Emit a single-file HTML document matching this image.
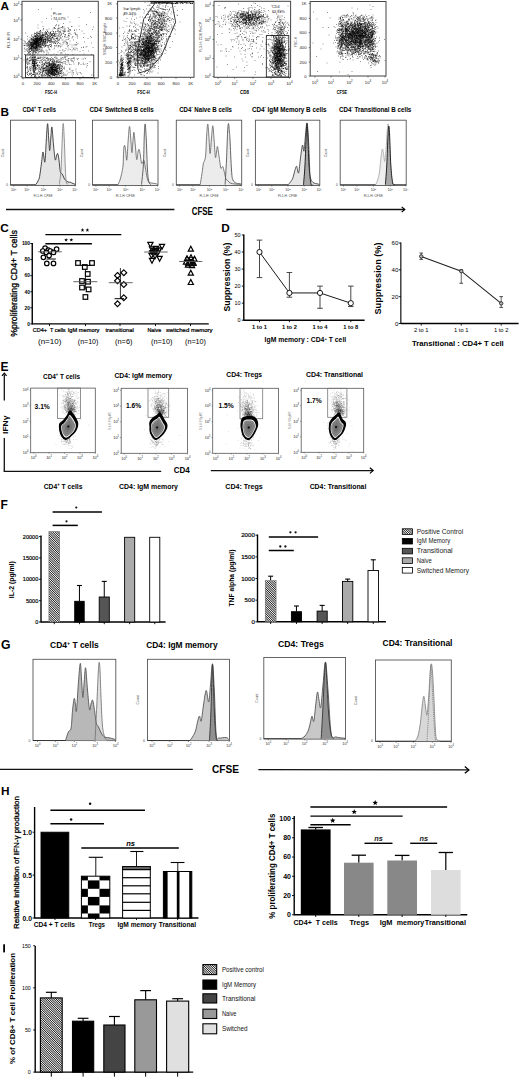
<!DOCTYPE html>
<html><head><meta charset="utf-8"><style>
html,body{margin:0;padding:0;background:#fff;}
svg{display:block;}
text{font-family:"Liberation Sans",sans-serif;}
</style></head><body>
<svg width="520" height="1078" viewBox="0 0 520 1078">
<defs>
<filter id="bl" x="-5%" y="-5%" width="110%" height="110%"><feGaussianBlur stdDeviation="0.35"/></filter>
<pattern id="hatch" patternUnits="userSpaceOnUse" width="1.6" height="1.6" patternTransform="rotate(-45)"><rect width="1.6" height="1.6" fill="#fff"/><rect width="0.8" height="1.6" fill="#1a1a1a"/></pattern>
</defs>
<rect width="520" height="1078" fill="#fff"/>
<text x="0.6" y="9.6" font-size="11.8" font-weight="bold">A</text>
<g stroke="#000" stroke-width="1" stroke-opacity="0.42" filter="url(#bl)">
<path d="M74.5 44.5h1M56 69.5h1M42 62.5h1M48.5 70.5h1M55.5 68.5h1M51 40.5h1M58.5 25h1M64 67h1M34.5 58h1M50 67.5h1M50.5 76h1M59 34h1M31.5 51h1M40.5 38h1M29.5 51.5h1M40.5 47h1M81.5 31h1M57 21h1M35.5 50.5h1M55 68.5h1M52 72.5h1M49.5 64h1M48 69.5h1M54 68h1M57 43.5h1M48.5 37.5h1M77 36h1M27 44.5h1M62.5 30.5h1M42 51h1M42 64h1M50.5 70h1M53 65h1M57.5 74h1M43.5 33h1M61.5 65.5h1M51 72h1M54.5 63.5h1M42.5 40h1M40 42.5h1M50.5 35.5h1M61 74h1M58.5 73h1M52 61h1M32.5 40.5h1M59.5 68.5h1M83.5 33.5h1M53 39h1M38 41h1M41 40h1M51.5 61.5h1M37.5 32h1M66.5 44h1M40.5 40.5h1M40 72.5h1M48 75.5h1M39 76.5h1M38.5 36h1M56.5 71.5h1M36.5 40.5h1M54 36h1M49 45.5h1M61.5 70.5h1M32 42.5h1M51.5 74.5h1M52.5 62.5h1M70 29.5h1M40.5 36h1M41.5 36.5h1M48.5 58.5h1M33 71h1M31.5 46.5h1M35.5 44.5h1M33.5 40h1M30.5 48h1M42 35h1M51.5 72h1M35.5 43h1M26.5 58.5h1M49.5 71.5h1M52 70h1M36 40h1M43.5 60h1M49 41h1M37.5 45.5h1M60.5 58.5h1M47.5 41.5h1M33 49.5h1M31.5 40.5h1M47 31.5h1M63 74.5h1M33 40.5h1M55.5 36.5h1M37 50.5h1M49.5 72.5h1M60.5 65.5h1M34.5 46h1M53 33h1M33 45.5h1M41.5 36h1M47 66.5h1M39 38h1M49.5 70h1M33.5 42h1M40.5 46.5h1M72.5 49.5h1M38.5 67.5h1M92.5 47.5h1M27 39h1M75 45h1M49 61.5h1M47.5 71.5h1M51.5 63.5h1M30.5 72.5h1M42 71h1M66.5 44.5h1M33 41h1M52 68h1M34.5 44h1M59 33h1M53 75h1M45 43.5h1M37 42h1M31.5 39h1M51 67h1M47 70h1M49.5 75.5h1M39.5 48.5h1M33.5 44.5h1M26.5 66h1M35.5 61.5h1M52 74h1M53 75.5h1M36 74h1M47 66.5h1M35 44h1M59.5 64h1M40.5 39h1M32 47h1M79 29.5h1M55.5 74h1M48.5 49h1M45.5 68h1M52 69.5h1M35 41.5h1M60.5 66.5h1M35 73h1M54 69.5h1M54 34.5h1M54 75h1M70.5 34.5h1M37.5 38.5h1M63 33.5h1M35 37h1M51 67.5h1M45.5 41h1M37.5 58.5h1M52.5 72.5h1M47.5 39.5h1M58.5 45.5h1M60.5 33h1M48 66.5h1M50.5 46.5h1M33.5 40.5h1M35.5 41h1M34.5 66h1M70 60h1M25.5 50h1M33 53h1M53.5 68h1M65 36h1M52.5 65h1M57.5 31.5h1M34 64.5h1M56.5 58.5h1M37.5 42h1M34.5 47.5h1M51 68.5h1M47.5 36.5h1M45 42.5h1M30 44h1M54.5 61.5h1M47.5 32h1M31.5 46h1M40.5 39.5h1M53 69.5h1M30 42h1M32 45h1M39.5 44h1M24 48h1M53 43h1M29 46.5h1M37 49h1M40 31h1M51.5 74.5h1M58 64.5h1M29.5 70h1M54 70.5h1M39.5 47h1M32.5 69h1M57.5 73.5h1M50 33h1M50.5 64.5h1M39 74h1M47 68h1M40.5 63h1M59 69.5h1M54 28.5h1M58 71h1M27 64.5h1M31.5 76h1M37.5 38h1M26 62h1M36.5 45.5h1M30.5 42.5h1M34.5 48h1M42 35h1M54.5 69h1M50 58.5h1M30.5 76.5h1M39.5 68.5h1M68 45.5h1M40.5 38.5h1M58 74h1M32.5 38h1M55.5 68h1M31 58.5h1M63.5 51.5h1M34 36.5h1M35.5 39h1M34.5 60h1M44 57.5h1M26.5 48.5h1M55.5 70h1M58.5 40h1M55.5 74.5h1M50 72h1M32.5 54.5h1M36 47h1M37.5 53h1M43 44h1M42 44h1M54.5 73h1M52 66h1M41 67.5h1M32 60h1M35.5 60h1M55.5 38.5h1M39 31.5h1M38.5 76.5h1M88 51h1M27.5 69h1M37.5 39h1M29 48h1M51 64h1M37 73.5h1M50 68h1M60 35.5h1M56 38.5h1M38 40h1M39 44.5h1M33.5 50h1M29.5 74.5h1M41.5 33h1M47 63.5h1M34.5 39.5h1M40.5 37.5h1M33 68.5h1M50.5 72h1M26.5 60h1M31 75.5h1M45 62h1M57 69h1M56 72h1M81 47.5h1M36.5 41.5h1M47.5 70.5h1M49.5 38.5h1M60 73.5h1M67.5 27.5h1M36 63h1M53 69.5h1M42 37.5h1M29.5 69h1M42.5 37.5h1M47.5 75h1M34.5 62.5h1M58 60h1M47.5 76h1M31 48h1M33 39.5h1M35 63h1M43 67h1M31 44.5h1M56.5 33.5h1M41 39.5h1M38.5 46h1M35.5 42h1M51.5 71h1M58 42.5h1M37.5 44h1M33.5 70h1M65 59.5h1M54 75.5h1M37 65h1M51.5 33.5h1M36.5 39.5h1M36 43h1M39.5 38.5h1M56.5 72.5h1M53.5 75.5h1M52 73.5h1M45.5 41h1M39 38.5h1M45 41.5h1M38.5 33h1M40 57.5h1M53.5 73h1M34.5 65h1M51 59.5h1M47 39h1M92 29.5h1M37.5 41h1M38 40.5h1M36.5 41.5h1M55.5 39h1M52.5 70h1M47.5 58.5h1M40 46h1M57 60h1M30 53.5h1M49.5 70.5h1M38.5 45.5h1M42.5 64h1M38 70.5h1M34 73h1M42 64.5h1M53.5 66.5h1M54.5 64.5h1M36.5 37.5h1M31.5 38h1M51 57.5h1M31 75.5h1M47.5 73.5h1M30 43.5h1M56.5 65h1M35.5 51h1M69 36h1M38 46h1M52.5 68h1M73 62h1M45.5 39h1M42.5 26.5h1M44 42h1M48 40.5h1M36.5 41.5h1M45.5 44.5h1M50.5 68h1M64.5 30h1M38 38.5h1M45.5 72.5h1M51 66h1M37.5 54h1M38 46.5h1M37 39h1M53 60h1M35 43h1M43 70h1M47 76h1M58 62.5h1M43 40h1M53 35.5h1M32 45.5h1M36.5 60.5h1M39.5 41.5h1M38.5 39h1M54 39h1M32 50.5h1M79 63h1M64 32h1M34.5 52h1M52 71h1M30 60.5h1M37.5 49.5h1M35.5 43.5h1M30 44.5h1M34.5 56.5h1M42 34h1M62 69.5h1M52 73h1M31.5 45h1M37 49h1M44.5 42h1M48.5 68h1M29 61h1M41 45h1M51.5 65h1M29.5 43h1M47.5 74.5h1M32.5 68h1M31 46h1M57.5 62.5h1M33.5 62h1M54.5 75h1M35.5 68.5h1M29 48.5h1M33.5 63.5h1M35.5 44h1M35 68.5h1M45 34.5h1M61 70.5h1M59.5 29h1M55 67.5h1M33.5 39h1M34 68h1M38 9.5h1M40 43h1M51.5 35.5h1M24.5 41.5h1M36.5 34.5h1M26.5 73h1M30.5 57h1M49.5 63.5h1M46 72h1M68.5 35.5h1M28.5 52h1M50 74h1M66.5 71h1M55.5 71h1M38.5 43.5h1M32.5 66h1M26.5 73h1M47.5 76.5h1M56 66h1M39 71.5h1M73.5 48h1M27.5 45h1M38 45.5h1M50 41h1M25 43h1M46 34h1M30 71h1M58 67.5h1M32 45.5h1M66 42.5h1M48.5 60h1M34.5 41h1M44 70h1M37 41h1M55 76h1M51 16h1M31.5 45h1M60.5 62.5h1M28.5 49.5h1"/>
<path d="M55 40.5h1M46.5 42.5h1M40 33h1M35 39.5h1M40 37.5h1M34.5 56h1M27.5 43h1M29 73.5h1M44.5 63h1M50.5 38.5h1M68 35.5h1M51 72.5h1M42.5 41.5h1M50 71.5h1M32.5 46.5h1M50 59.5h1M49.5 36.5h1M28 49h1M44.5 37.5h1M54.5 66h1M34.5 64h1M39.5 35h1M30.5 38.5h1M44 43h1M55 28.5h1M43 38h1M31 64h1M52 66h1M35.5 50.5h1M27.5 43.5h1M35.5 42h1M75 33h1M47.5 62h1M49.5 59h1M55.5 33.5h1M39 62h1M56.5 76.5h1M65.5 75h1M41.5 35.5h1M58.5 66.5h1M33.5 66.5h1M41.5 74.5h1M39 46h1M61.5 53h1M35.5 44.5h1M32.5 40h1M49.5 67h1M34.5 59.5h1M54 66h1M44.5 35h1M68 35h1M35.5 42.5h1M37.5 44.5h1M36 44h1M35.5 40.5h1M32 57.5h1M31 47h1M37 40.5h1M73 40h1M86 24.5h1M64.5 28.5h1M37 39h1M50.5 64.5h1M52.5 71h1M49 42h1M46.5 71.5h1M35.5 48h1M49 66h1M50.5 39h1M34 62h1M76.5 34.5h1M34.5 47h1M46 54.5h1M38.5 65.5h1M50.5 74.5h1M35.5 49h1M51.5 68h1M48 71h1M39.5 40h1M48.5 63h1M56.5 69h1M55.5 62h1M53 43h1M87.5 38.5h1M54.5 76h1M42.5 38h1M52 73h1M51.5 65h1M38.5 47.5h1M36.5 38h1M28.5 62h1M77 50h1M40.5 37h1M33 41h1M46 37.5h1M36 47.5h1M37.5 39.5h1M53 33h1M55.5 72h1M36 46h1M54 72.5h1M26.5 59.5h1M52 68h1M49 49.5h1M45 68h1M59 31.5h1M36 45.5h1M36 39h1M51 9h1M41 41h1M56.5 61.5h1M54 71h1M52.5 75h1M53.5 64.5h1M76 73h1M33.5 74.5h1M34 33.5h1M34.5 44h1M51.5 68.5h1M34.5 36.5h1M45.5 43.5h1M56 38h1M34 62h1M62 62.5h1M35 46h1M34.5 75h1M50.5 68h1M38 68h1M81.5 59h1M59.5 46h1M36 46h1M31.5 48.5h1M46 70h1M59 67.5h1M42 69h1M40.5 37.5h1M40.5 44h1M34 64h1M86 67h1M30.5 44h1M29.5 73.5h1M58 46h1M30 45h1M49 69.5h1M61.5 73h1M57 36h1M44.5 74h1M29 49.5h1M33.5 52h1M53 69h1M35.5 46h1M57.5 66h1M32.5 65.5h1M32.5 44h1M53 69.5h1M51.5 62h1M67.5 47h1M43 40.5h1M36 40h1M52 37.5h1M34.5 36h1M30.5 47.5h1M64 69h1M54 43h1M53.5 74h1M48.5 67.5h1M33.5 39h1M37 41.5h1M53.5 66h1M52 34.5h1M35 57.5h1M52.5 71.5h1M40 38h1M50 44.5h1M58 73.5h1M49 34h1M33.5 63h1M43 42.5h1M33 66.5h1M32.5 63.5h1M35 66h1M34 48h1M41.5 62h1M44 76h1M43 40.5h1M34 64h1M33 43.5h1M37 41.5h1M52 71h1M64.5 50.5h1M58 30.5h1M58.5 64.5h1M45.5 46h1M38.5 34.5h1M35.5 64h1M32 65.5h1M41 38h1M39 42h1M50 70h1M44.5 65.5h1M35.5 40h1M91 37.5h1M45.5 37h1M34.5 48.5h1M50 60.5h1M49 75.5h1M45.5 40h1M32.5 45h1M29 63.5h1M69.5 33h1M50.5 34.5h1M56.5 61h1M24.5 45.5h1M50.5 74h1M55 36.5h1M31.5 39.5h1M41 40.5h1M30.5 73.5h1M38.5 74.5h1M40.5 40.5h1M55 74h1M45 36.5h1M56.5 71h1M38 41h1M49 73h1M35 41h1M31.5 46.5h1M54 73.5h1M26.5 67.5h1M33.5 61.5h1M37.5 43h1M32 63h1M44.5 40.5h1M53.5 34h1M37.5 43h1M55 71h1M70 49.5h1M33.5 59.5h1M52.5 65h1M61.5 62.5h1M30.5 74h1M53.5 74.5h1M38.5 33.5h1M33.5 63.5h1M76.5 48.5h1M50 46.5h1M33 67h1M33 64h1M30 45.5h1M32.5 46h1M45 46.5h1M54 45.5h1M48.5 63h1M71.5 70.5h1M56 38.5h1M51.5 72h1M56 72h1M83 47h1M57.5 64.5h1M42.5 42.5h1M46.5 36.5h1M64.5 56.5h1M36.5 45.5h1M26 46h1M32.5 53h1M54.5 35.5h1M59.5 36.5h1M39 48h1M53.5 35.5h1M43 35.5h1M33.5 66.5h1M34 41h1M40 35h1M27 74.5h1M69.5 44h1M45 39h1M45.5 70.5h1M64 31.5h1M33.5 70h1M37 37.5h1M46.5 65.5h1M58.5 75h1M54.5 73.5h1M50 60.5h1M57.5 41h1M35.5 63.5h1M33.5 66.5h1M36.5 32h1M54.5 70.5h1M33 66h1M55 65h1M48.5 48h1M48.5 73.5h1M32 57.5h1M51 73h1M63 72.5h1M42.5 76.5h1M35 36.5h1M53.5 66.5h1M57 39.5h1M53.5 71h1M51 19h1M60 72h1M44.5 70h1M40.5 35h1M84.5 58h1M24.5 45h1M63.5 41.5h1M59 68h1M53.5 75h1M57 30h1M49 68h1M32.5 51.5h1M56.5 71h1M46 30h1M49 65.5h1M38 44h1M33.5 41h1M73 74h1M53.5 38h1M63.5 68h1M53.5 69.5h1M52 59h1M43 58.5h1M56 63h1M29.5 60.5h1M30 46h1M53.5 63h1M31 47h1M51 69h1M31.5 70h1M72.5 36.5h1M36.5 49h1M49 76h1M82.5 76.5h1M52 66h1M42.5 39h1M49 70.5h1M27.5 64h1M34.5 40h1M34.5 42.5h1M30.5 41.5h1M38 72h1M34 39.5h1M44 68.5h1M26 44h1M47 76h1M75 34h1M55 74.5h1M48 53h1M66.5 39.5h1M63.5 63.5h1M32.5 59h1M62.5 76h1M57.5 67.5h1M48 62.5h1M47 39h1M31 47.5h1M32.5 43h1M33.5 65.5h1M41.5 69h1M50.5 69h1M50.5 70h1M42 59.5h1M71.5 47h1M57 38h1M36 40.5h1M37 36h1M47 57.5h1M51 64h1M38 39.5h1M51 67.5h1M35 42h1M43.5 70.5h1M34.5 43h1M40.5 60.5h1M36 36.5h1M37 65.5h1M51 35h1M57 68h1M55 69.5h1M62.5 33.5h1M39.5 42.5h1M26.5 57h1M59.5 38h1M56 72.5h1M41.5 38h1M52.5 73.5h1M36.5 59h1M47 64h1M48.5 74h1M55 67.5h1M37.5 38.5h1M40.5 71h1M43.5 39.5h1M56.5 72h1M29.5 64h1M34 44h1M54.5 73h1M33.5 59.5h1M60 72h1M35.5 40h1M49.5 71.5h1M36.5 42h1M52 34h1M41.5 74.5h1M54.5 42h1M39.5 44.5h1M50.5 41h1M42 35.5h1M29.5 46.5h1M48 74.5h1M36 63h1M53.5 28h1M33.5 41h1M50 71h1M52 71h1M55.5 65h1M34.5 44h1M63.5 43h1M33 47h1M63 23.5h1M32 37h1M35.5 76.5h1M47 74h1M69.5 41h1M37.5 46h1M60 65h1M56.5 75h1M32.5 58h1M37.5 41h1M41.5 43h1M58.5 66h1M72.5 54.5h1M50.5 72h1M28.5 43.5h1M46 73.5h1M50 64h1M53 71h1M45.5 60.5h1M49.5 65.5h1M35.5 65.5h1M44 47h1M43 57h1M36 47h1M51 38h1M34.5 63.5h1M47 68h1M49.5 50h1M41.5 42.5h1M49.5 34.5h1M48 66h1M33 67h1"/>
<path d="M47 70h1M40 32h1M50.5 55h1M56 46h1M33.5 68h1M24.5 42h1M33 47.5h1M47 68h1M42 34.5h1M31.5 65h1M61.5 40h1M53.5 71.5h1M39 36.5h1M45.5 42h1M55.5 43h1M51.5 67h1M33 60.5h1M33 62h1M37 39h1M43.5 68.5h1M34.5 41h1M76 45h1M64.5 41h1M46.5 53h1M33 43.5h1M32 49h1M62 36.5h1M51.5 70.5h1M28 47h1M36.5 65.5h1M35.5 53h1M35 43h1M51.5 68h1M26 43.5h1M24.5 51.5h1M53.5 72.5h1M50.5 73h1M59.5 50.5h1M36 45h1M68.5 38.5h1M58 36h1M51.5 68h1M58.5 65.5h1M83 59h1M54 69.5h1M41 52h1M60.5 66.5h1M35 43.5h1M36 35.5h1M33 67h1M42.5 71.5h1M53 33.5h1M44.5 45.5h1M57.5 29h1M37 40h1M47 41h1M37.5 45.5h1M50.5 70h1M50.5 71h1M37 46h1M51 69h1M31 39.5h1M49 38h1M33 63.5h1M27 72.5h1M51.5 69h1M59.5 70h1M29.5 46h1M44.5 73h1M43 68.5h1M67 43.5h1M36.5 35h1M48.5 72.5h1M67.5 17h1M36 52.5h1M27.5 51h1M57.5 66h1M85 58.5h1M47.5 72h1M48.5 71h1M40 47.5h1M58.5 73.5h1M29 67h1M38.5 52h1M23.5 60h1M31 44h1M53 73.5h1M39.5 37h1M70 30.5h1M36.5 34.5h1M38.5 33.5h1M38 46h1M38 76h1M53.5 41h1M40.5 39.5h1M34.5 68h1M30.5 69h1M36 39h1M64.5 31.5h1M32 62h1M31 35.5h1M28 45.5h1M46.5 69.5h1M38 43h1M34 40.5h1M34 67h1M67 42.5h1M62 26.5h1M40.5 60h1M54.5 66h1M36 32.5h1M35 38.5h1M61 70h1M39 38.5h1M34 65h1M50.5 66h1M35 39h1M35 48.5h1M41 38.5h1M33.5 47h1M55.5 71.5h1M48.5 38h1M31 44h1M31 42.5h1M39.5 50h1M47.5 71h1M69 64.5h1M48 35.5h1M56 35h1M31.5 41h1M55.5 69.5h1M49 37h1M65.5 37.5h1M33.5 43.5h1M42.5 45.5h1M35 35.5h1M35 40h1M40 42.5h1M35 39.5h1M40 30.5h1M57.5 42.5h1M28.5 45h1M42.5 34.5h1M36 44h1M38.5 42h1M45 68h1M34.5 61.5h1M58 34h1M42 32.5h1M38.5 47h1M52 34h1M42 72h1M35 43h1M59.5 59.5h1M30 61h1M48 67.5h1M35 46.5h1M35.5 45h1M39 40.5h1M40.5 68.5h1M26 61h1M53.5 63h1M31 43h1M59.5 74h1M46.5 34.5h1M39 39.5h1M44.5 34.5h1M35 41.5h1M45.5 62.5h1M45 32h1M58 32h1M27 70h1M24.5 54.5h1M36 45.5h1M31.5 52.5h1M35 45h1M54.5 66.5h1M29 46h1M56 68.5h1M51 35.5h1M28 71h1M30 42.5h1M77 74.5h1M39 40.5h1M43 36h1M33.5 50.5h1M27 46h1M49 39h1M36.5 40.5h1M55 70.5h1M58.5 71.5h1M30.5 57h1M57 73h1M37 39.5h1M48 33h1M34 35h1M36.5 39h1M53 69.5h1M51 69.5h1M68.5 63h1M52 31h1M38.5 33.5h1M47 30h1M34 64.5h1M55.5 71.5h1M55 26h1M51 35h1M41 41h1M58 27h1M43 41.5h1M41 38.5h1M34.5 59.5h1M29.5 47.5h1M36.5 46h1M29 49h1M67.5 60.5h1M44 43h1M31.5 46h1M28 53h1M62 64h1M46 70.5h1M62 66.5h1M31.5 46h1M91 43h1M42 66.5h1M49 35.5h1M38 43h1M45.5 57.5h1M47.5 60.5h1M50.5 73h1M39 73.5h1M51.5 59h1M49 65h1M54.5 66.5h1M64.5 74h1M44 41.5h1M36 42h1M53.5 64.5h1M29.5 54.5h1M46 63.5h1M73.5 57.5h1M58 68.5h1M33 47h1M44.5 67.5h1M34 43h1M45 75.5h1M49.5 65.5h1M29 40h1M35.5 39h1M51.5 69h1M38 58.5h1M37.5 36h1M60.5 34.5h1M39 62.5h1M31.5 49h1M53.5 60.5h1M38.5 44.5h1M39.5 69.5h1M36.5 46h1M59 67.5h1M32 68h1M33 38h1M36.5 43h1M53.5 69.5h1M46.5 39.5h1M53 63h1M35 61h1M82.5 64h1M51 72.5h1M32.5 58h1M35.5 48.5h1M68 39.5h1M44 44.5h1M52 70h1M54 72.5h1M50.5 71h1M71.5 58.5h1M78 62.5h1M74 60h1M47.5 71.5h1M32.5 60h1M24 49h1M35 48.5h1M42 48h1M33.5 45.5h1M40 39h1M31 38.5h1M33 48.5h1M34 50h1M28.5 51h1M33 44.5h1M67.5 31.5h1M30.5 43.5h1M41 41h1M33.5 71h1M34.5 65.5h1M43 37h1M52 67h1M43 28.5h1M56.5 68.5h1M38 43h1M39.5 47h1M34.5 39h1M36.5 45.5h1M43.5 75h1M43 66h1M44.5 68h1M44.5 35h1M35 67.5h1M32.5 46.5h1M32.5 52h1M33 44.5h1M52.5 65.5h1M34 63.5h1M45 32h1M37.5 43.5h1M83 63h1M45 32h1M36 41.5h1M36.5 41h1M51.5 63h1M40 69.5h1M35.5 48h1M46 33.5h1M48.5 60h1M36.5 38.5h1M52 73.5h1M29 57.5h1M54.5 66h1M37.5 41h1M35.5 69.5h1M49 40.5h1M52 65h1M36 45.5h1M31.5 34.5h1M47 38h1M33 47.5h1M70.5 64.5h1M36.5 47.5h1M41 35.5h1M48 63.5h1M51 74.5h1M52.5 72h1M33 70h1M54 74.5h1M46 69h1M27 36.5h1M35 46h1M56.5 66.5h1M31.5 50h1M31.5 55.5h1M53 64h1M56.5 61h1M68 28.5h1M50 67h1M32 48h1M52.5 41.5h1M35.5 38h1M37.5 69.5h1M58 46h1M38 58h1M27.5 54h1M33 60h1M55.5 64.5h1M77.5 73h1M35.5 36.5h1M42 40h1M35.5 33.5h1M60.5 76h1M51.5 69h1M56 54.5h1M54 71h1M50 76.5h1M61 35h1M41.5 75.5h1M60.5 68.5h1M34 47.5h1M32.5 56.5h1M37.5 58h1M56.5 71h1M49.5 36.5h1M33 71h1M28.5 60h1M56 67h1M42 44h1M48 59h1M34 33h1M52 66.5h1M29 60.5h1M27.5 46h1M67.5 37.5h1M45.5 38.5h1M61.5 45h1M48 65h1M65 63h1M69 29.5h1M26.5 45.5h1M33 47h1M63.5 27h1M51.5 69h1M50 42h1M28.5 41.5h1M39.5 57h1M66.5 56.5h1M43.5 75.5h1M46.5 39.5h1M49 63h1M62 57.5h1M83 47.5h1M60.5 58h1M46.5 43h1M40 41h1M36 46h1M41 41h1M38.5 44.5h1M55 71h1M45.5 36.5h1M31 40h1M33.5 42h1M36 50.5h1M34.5 57h1M35 36h1M43 68.5h1M57.5 70.5h1M38.5 51h1M32 61.5h1M42.5 69.5h1M54.5 70h1M50 36.5h1M43 51h1M56 74h1M33.5 71.5h1M54.5 41h1M30.5 47.5h1M51 69.5h1M35.5 38h1M33.5 49h1M36 47.5h1M51.5 73h1M30 45h1M28 41.5h1M39.5 60.5h1M46.5 68.5h1M34.5 76h1M28 63h1M49 63h1M43.5 68h1M43.5 39h1M39.5 38.5h1M32.5 55.5h1M48 40.5h1M31.5 42.5h1M32.5 42.5h1"/>
<path d="M36 46.5h1M54.5 73.5h1M56 24.5h1M42.5 41h1M72 37h1M34.5 49h1M30.5 48.5h1M49.5 38h1M73 72.5h1M46 58.5h1M38.5 33.5h1M36 46h1M31 50h1M56 67.5h1M66.5 64.5h1M32 46h1M52.5 58.5h1M42 43h1M47.5 47h1M37.5 28h1M37.5 60.5h1M45.5 63.5h1M36 42h1M27 59h1M36 37h1M48 70h1M65 64h1M42 50h1M35 45h1M51.5 67h1M43 41h1M35 43.5h1M64 30h1M40 37.5h1M35.5 41.5h1M53.5 69h1M39.5 40h1M70.5 58.5h1M40 74h1M49 72h1M59.5 67.5h1M58.5 66h1M47 42h1M44.5 59h1M44 64h1M37.5 25h1M39.5 46.5h1M37.5 33h1M52.5 71.5h1M33 65.5h1M32.5 43h1M32.5 40h1M47.5 34h1M58.5 72.5h1M55.5 25.5h1M29 74.5h1M52.5 69h1M42.5 72h1M29.5 74.5h1M38.5 43h1M65 54h1M26.5 59.5h1M28 75.5h1M34.5 40.5h1M59.5 62h1M53 74.5h1M40.5 36.5h1M35 75h1M37 42.5h1M64.5 57.5h1M27 54h1M36 40h1M36 42h1M34.5 57.5h1M53 65h1M30 45h1M71 61h1M48.5 32.5h1M49.5 69h1M36 34h1M61 34h1M48 74h1M49.5 65.5h1M46.5 58.5h1M41 39.5h1M56.5 66h1M58.5 62h1M45 39.5h1M43.5 63.5h1M28.5 44.5h1M33.5 48h1M32 45h1M35.5 42h1M33.5 40.5h1M41.5 57.5h1M33.5 44h1M45.5 67h1M33.5 64h1M40.5 72.5h1M68.5 49h1M54.5 46.5h1M32 46h1M51 73.5h1M60.5 60.5h1M36.5 42.5h1M54 34h1M56 71.5h1M32.5 44h1M31.5 45.5h1M35.5 69.5h1M34.5 38.5h1M85.5 47h1M35 42.5h1M36 35h1M93 27h1M53 65.5h1M55.5 59h1M33 66h1M55.5 58h1M33.5 58.5h1M38 43.5h1M60.5 27.5h1M56.5 66.5h1M43.5 41.5h1M54.5 71h1M34.5 36h1M33.5 43.5h1M64.5 57h1M75.5 69h1M51 69.5h1M45 42h1M45 45.5h1M34 43h1M35.5 63.5h1M33 69.5h1M37.5 43.5h1M78.5 17.5h1M52.5 63h1M83.5 64.5h1M34 64h1M28.5 62h1M36.5 41h1M36.5 39h1M39.5 46h1M47 60h1M55.5 57h1M36 47h1M54 75h1M57.5 52h1M32 74.5h1M46.5 69.5h1M42.5 71h1M41.5 67h1M34.5 66.5h1M63.5 68.5h1M36 41h1M52.5 38.5h1M32 63.5h1M34.5 47h1M38.5 71.5h1M52 67.5h1M50.5 70h1M48 47h1M40.5 45h1M40.5 62h1M37 49h1M47.5 73h1M46 45.5h1M63.5 58h1M50 67h1M27 66.5h1M49 63h1M32.5 59.5h1M36.5 73.5h1M54.5 42h1M56.5 70.5h1M33.5 41h1M46 67h1M60 73.5h1M50.5 67.5h1M72 76h1M36 44h1M46 74.5h1M39.5 72.5h1M61.5 71.5h1M56.5 74.5h1M33.5 70h1M36 45h1M41 40.5h1M33.5 51h1M53 67.5h1M35 59h1M27 62h1M52.5 75h1M28.5 52.5h1M39 68h1M34 57.5h1M33.5 50h1M35 33.5h1M32.5 43.5h1M36 38h1M38 38h1M68 33.5h1M41.5 38h1M50 68.5h1M32 63h1M57 76h1M51 64.5h1M49 69h1M59 43.5h1M34 76.5h1M37 42.5h1M57 38.5h1M59 75.5h1M42.5 39.5h1M36 42h1M36 43.5h1M75.5 34.5h1M34 62.5h1M48 45.5h1M37 40.5h1M29.5 67.5h1M53.5 27.5h1M28.5 45.5h1M80.5 64.5h1M60.5 52.5h1M53 70.5h1M33.5 35h1M44.5 64.5h1M40 70h1M30 51.5h1M40.5 49.5h1M46 65.5h1M33 44h1M58.5 68.5h1M35 67.5h1M32 55h1M54 70h1M31.5 46h1M68 61h1M58.5 35h1M62.5 50h1M60 32.5h1M53 67h1M51.5 63.5h1M45 70h1M69.5 68h1M56.5 67h1M49.5 73.5h1M44.5 46h1M53.5 65h1M33 74h1M47.5 38h1M40 41.5h1M53.5 65h1M65 58h1M44.5 35.5h1M53.5 69h1M48 39.5h1M43.5 70.5h1M52.5 73.5h1M30.5 48.5h1M53 64h1M53 67.5h1M31.5 62.5h1M50.5 31.5h1M55 70.5h1M41 47.5h1M52 65h1M46 32.5h1M34.5 48.5h1M68.5 31h1M48 65h1M43.5 39.5h1M50.5 73.5h1M33.5 45.5h1M56.5 62.5h1M37.5 42.5h1M39 40h1M62.5 59.5h1M47 35.5h1M61 73h1M37 42h1M43 64h1M55 67.5h1M53 64.5h1M55.5 74h1M65.5 43h1M77 38h1M43 35h1M59 71.5h1M37.5 47h1M37 38h1M34.5 43.5h1M34.5 41.5h1M38.5 58.5h1M54 66.5h1M62.5 31h1M54.5 67.5h1M48 38.5h1M53.5 35.5h1M37.5 37.5h1M44 33h1M54.5 33h1M77 59.5h1M56 70.5h1M27 58.5h1M57 41h1M52 37.5h1M45.5 67h1M52 75h1M35.5 44h1M37 38h1M36.5 41h1M35 44h1M76 30h1M43 65.5h1M70.5 72h1M30.5 49h1M44 44h1M34.5 46h1M73.5 58h1M40 37h1M36 48h1M23.5 43.5h1M61.5 67.5h1M34 57.5h1M67.5 36.5h1M71.5 74h1M31 38.5h1M35.5 48h1M33.5 64h1M29.5 47h1M46 32.5h1M72 72h1M56.5 67.5h1M54.5 35h1M68.5 31h1M41 40.5h1M40.5 45h1M52 63h1M37.5 35.5h1M58 74h1M53 31.5h1M35.5 41.5h1M38.5 49.5h1M39.5 40h1M39 39h1M35 42.5h1M33 68h1M45 41h1M40.5 51.5h1M35 70h1M35.5 67.5h1M48.5 72h1M34.5 36h1M50 64h1M32.5 67h1M42 68h1M30 48.5h1M28.5 53h1M47.5 47h1M52 42h1M43 44h1M47 31.5h1M68.5 72.5h1M34 43.5h1M50.5 61h1M64 37h1M54 34.5h1M37.5 64.5h1M52.5 72.5h1M27 49h1M52.5 69.5h1M67 74h1M48 71h1M38.5 40h1M50 46.5h1M58 72.5h1M34 41.5h1M60.5 63h1M74.5 50h1M56.5 38h1M59.5 73.5h1M55 69.5h1M55.5 70h1M51 43h1M57 65h1M52 61h1M26.5 50.5h1M36.5 48h1M41.5 35.5h1M50.5 33.5h1M59 66h1M54.5 73.5h1M40.5 46h1M32.5 44h1M50 71h1M45.5 73.5h1M44.5 57h1M32.5 62h1M31.5 42h1M33.5 65h1M29 42.5h1M35 52h1M37.5 57h1M55 64.5h1M32.5 47.5h1M49.5 34h1M40.5 57h1M40 44h1M36.5 65h1M38 37h1M45 70.5h1M53 66h1M31.5 68h1M32 58h1M47.5 36.5h1M29.5 49h1M52 67h1M35.5 41h1M80 73h1M68 58.5h1M54 68h1M42 44.5h1M47.5 66.5h1M34 44.5h1M54.5 43h1M33.5 48h1M27.5 60h1M28 71.5h1M55 67.5h1M37.5 41h1M32.5 43h1M34 54.5h1M60 64.5h1M34.5 72.5h1M36.5 40h1M42 43h1M32.5 40h1M38 43h1M31.5 49.5h1M31.5 46.5h1M56.5 70.5h1M27 51.5h1M38.5 43.5h1M37 68.5h1M56 62h1M32.5 43.5h1M48 71h1M39.5 67h1M34.5 60.5h1M42.5 40h1"/>
<path d="M30.5 66.5h1M40.5 41.5h1M48.5 64.5h1M32 63.5h1M30.5 42.5h1M40 39.5h1M51.5 67h1M38.5 45h1M33.5 69h1M37.5 33.5h1M33 74.5h1M34 44h1M49.5 76h1M53.5 69.5h1M48.5 69.5h1M65 31h1M42.5 75.5h1M33.5 66h1M36 42h1M39 45.5h1M33.5 63.5h1M35 57h1M26.5 63.5h1M63 33h1M43 70.5h1M30.5 50h1M65.5 41.5h1M59 39.5h1M45.5 62h1M42.5 65.5h1M39.5 37h1M43.5 47h1M33 72.5h1M52 67h1M45 40h1M32.5 65.5h1M51.5 42.5h1M43 42h1M65 61.5h1M31 43h1M55 65.5h1M60 47h1M64 75h1M43 41h1M78 58.5h1M55 43.5h1M52.5 59h1M51.5 75h1M29.5 37.5h1M90 36.5h1M41 39.5h1M87 65.5h1M33 48.5h1M41.5 67h1M51 39.5h1M30 57h1M42 73.5h1M50 74h1M54.5 68h1M58.5 75h1M46.5 38h1M46.5 51h1M29 69h1M63.5 61.5h1M34 64h1M47.5 41h1M35.5 50h1M34.5 76.5h1M42.5 41.5h1M49 71h1M57 69h1M60.5 53.5h1M32 60.5h1M42 39h1M50 67.5h1M38 50h1M32 63h1M54 72.5h1M55 70.5h1M35.5 69h1M36 63h1M50 40.5h1M72.5 61h1M35.5 40h1M52 36h1M53 37h1M60.5 46.5h1M34 65h1M50 68h1M46.5 40.5h1M42 37h1M37 33h1M78 64.5h1M46 66.5h1M52.5 67.5h1M75 34h1M51.5 73.5h1M34.5 62h1M67.5 59h1M65 34.5h1M58.5 72.5h1M40 43.5h1M51 70h1M50 72h1M60 31.5h1M44.5 44h1M25 33h1M52 70h1M35 44.5h1M44.5 68h1M46.5 74h1M68 30h1M45 70h1M57 65.5h1M58.5 64.5h1M31 59.5h1M49 65.5h1M28.5 50h1M34.5 62h1M32 50h1M58 65.5h1M36.5 45h1M61 68.5h1M56.5 68h1M32 59.5h1M48 74h1M41 40.5h1M33.5 65.5h1M56.5 58h1M43 60.5h1M51 73h1M57 66.5h1M31 67h1M54 75h1M50.5 34h1M48.5 71h1M33.5 64.5h1M36 60h1M74 33h1M48.5 41.5h1M33 52h1M31.5 48.5h1M29 41.5h1M36.5 47.5h1M46 65.5h1M23.5 40.5h1M53 74.5h1M31.5 36.5h1M26.5 67.5h1M49.5 33.5h1M38.5 39.5h1M65.5 48.5h1M47 72.5h1M52.5 71h1M68.5 58.5h1M71.5 51h1M52.5 71.5h1M30.5 44h1M39 38h1M52 71h1M50.5 69h1M47.5 60h1M55 74.5h1M27 72h1M28.5 43h1M32 45.5h1M34 64h1M48 35.5h1M36 41.5h1M30.5 48.5h1M34 71.5h1M43.5 35h1M54.5 57h1M35 39h1M78 63.5h1M39 38h1M58.5 69.5h1M32 39.5h1M32 46.5h1M34 66h1M83.5 54h1M53.5 70h1M36 41.5h1M32 61h1M36 41.5h1M57.5 61.5h1M33.5 74h1M35.5 47.5h1M47.5 62.5h1M51 45.5h1M43 29h1M61.5 66.5h1M49 70.5h1M62.5 68h1M49 66h1M34 42h1M39.5 66h1M47 63h1M43 45.5h1M32 43h1M48.5 72.5h1M50 37h1M49 69.5h1M52 37h1M56 69.5h1M31.5 57h1M32.5 46.5h1M42.5 41.5h1M39.5 46.5h1M51.5 64h1M42.5 74h1M35 52h1M28.5 40.5h1M38.5 58.5h1M58 25.5h1M48.5 68h1M34 72.5h1M53 31.5h1M55.5 31.5h1M41 66h1M51 47h1M30 70.5h1M36 38.5h1M54 61.5h1M67.5 62h1M75.5 48h1M54.5 63h1M92.5 75h1M62.5 75.5h1M51.5 75h1M36.5 43h1M29.5 58h1M64 36.5h1M35.5 43h1M51.5 76.5h1M41 39h1M39.5 35.5h1M25.5 49.5h1M46 33h1M50 67.5h1M32 41.5h1M54 36.5h1M37 48h1M89.5 61.5h1M51.5 39h1M46.5 66.5h1M39 51.5h1M49 40.5h1M59 68.5h1M58.5 76.5h1M37 62.5h1M33 74.5h1M46 64h1M57 72h1M66 60h1M56 75h1M71 60h1M48.5 29h1M46 76h1M56.5 65.5h1M46 18.5h1M33 37.5h1M38 36h1M47.5 40.5h1M39.5 39h1M47.5 38h1M48.5 73.5h1M41.5 68.5h1M33 60.5h1M59.5 61.5h1M43 68h1M32 74.5h1M52 68.5h1M79.5 51.5h1M67.5 50h1M40 40h1M38 40.5h1M54 64.5h1M40.5 32h1M33.5 40.5h1M37.5 60.5h1M69 33.5h1M31.5 45h1M43.5 40h1M32.5 62h1M84 42h1M76.5 36h1M33.5 37h1M44.5 60h1M50 65h1M39 44.5h1M36 42.5h1M47 66.5h1M46.5 58.5h1M44.5 42.5h1M52 67.5h1M30 49h1M51 41.5h1M46.5 65.5h1M45 39h1M40.5 72h1M38.5 44h1M60 71.5h1M37 44.5h1M71.5 26.5h1M30 39.5h1M30 51.5h1M32 42h1M40 39h1M54 48h1M32 44.5h1M91 75h1M61 76.5h1M62 50h1M30.5 40.5h1M32.5 71h1M51 68h1M32 61.5h1M54.5 67h1M52.5 69h1M34.5 43h1M52 70.5h1M61.5 76.5h1M73.5 64h1M47 45.5h1M36 42.5h1M74 30.5h1M49.5 71h1M35.5 36.5h1M38 36.5h1M91 54.5h1M41.5 76.5h1M53.5 70.5h1M34 75h1M52.5 61.5h1M41.5 41h1M54 27.5h1M51.5 71h1M52 70h1M39 40.5h1M34.5 70h1M47.5 71.5h1M31 50.5h1M37.5 36.5h1M54 63h1M33.5 39.5h1M37.5 42h1M45 76h1M34 48h1M41.5 36.5h1M37.5 66.5h1M31.5 48h1M42 73h1M35.5 41h1M51 71h1M50 39.5h1M56 71h1M34 70h1M47 36h1M37 43.5h1M48 68.5h1M47.5 65h1M52.5 29h1M33 51h1M76.5 58.5h1M39.5 35.5h1M82.5 50.5h1M57.5 28.5h1M45 39.5h1M50.5 66.5h1M55 74.5h1M40 36.5h1M51.5 41.5h1M55 65h1M35 49h1M33.5 57.5h1M52 73.5h1M31 42.5h1M37 46.5h1M54 76h1M34.5 43.5h1M47 74.5h1M62.5 73.5h1M61 70.5h1M51.5 37.5h1M53.5 59.5h1M56 66.5h1M56.5 68.5h1M56.5 74h1M51.5 35.5h1M34.5 74h1M32.5 61.5h1M33 43h1M36 39.5h1M38.5 42.5h1M58 72.5h1M36 49h1M36 39.5h1M35 68.5h1M32.5 70h1M48.5 65.5h1M40.5 42h1M59.5 69h1M42.5 41.5h1M45 33.5h1M34 61.5h1M29.5 54.5h1M51.5 73h1M35 49h1M38 39.5h1M38.5 41.5h1M38 40.5h1M39 58h1M57.5 65h1M31 73.5h1M30.5 48.5h1M45 46h1M32 57.5h1M46 69h1M51.5 74h1M79.5 72.5h1M47 42.5h1M39.5 34h1M50.5 68h1M46.5 73h1M54.5 67.5h1M54 63.5h1M43 35h1M33.5 46h1M67.5 31h1M52 71.5h1M54 69.5h1M53 72h1M30 68.5h1M55.5 69.5h1M51 72.5h1M49.5 74h1M31 50h1M49 72.5h1M52.5 65h1M37 65.5h1M39.5 69.5h1M45 72h1M29 45h1M38.5 43.5h1M37 65.5h1M63 31.5h1M35 53h1M44 63.5h1M52.5 74h1M45 41.5h1M33 57h1M31 46h1"/>
<path d="M52 67.5h1M44.5 60.5h1M47 38h1M56.5 75h1M48 72.5h1M33.5 61h1M76.5 44.5h1M44 37h1M35.5 44h1M35.5 50h1M28.5 44h1M42.5 45.5h1M38.5 41h1M44.5 38h1M48.5 75.5h1M46.5 40h1M35 36.5h1M52 72.5h1M59 70h1M73 48.5h1M48.5 71.5h1M33.5 47h1M47 70.5h1M62.5 44h1M50.5 73.5h1M34.5 76.5h1M27.5 64h1M42.5 70.5h1M59.5 32h1M28.5 51h1M43.5 52.5h1M35.5 49.5h1M35.5 40.5h1M41.5 47.5h1M63.5 62h1M40 43h1M39.5 42.5h1M47.5 73h1M32 60h1M53 64h1M37.5 58h1M35.5 44.5h1M49 63h1M50 33h1M45.5 50h1M54 60.5h1M27 74.5h1M33.5 54h1M44 68.5h1M69.5 22h1M35.5 67h1M42 72.5h1M39 32h1M46 70.5h1M51.5 73.5h1M56.5 69.5h1M54 66h1M36 47h1M57 31h1M65.5 40h1M52 76h1M49 65h1M85.5 64h1M24 45.5h1M41.5 76h1M45.5 34h1M33 42.5h1M36.5 74.5h1M56.5 72h1M40.5 76h1M41 39.5h1M37 66.5h1M37 36h1M60.5 62h1M50.5 44.5h1M50 32.5h1M34.5 59.5h1M49 69h1M54.5 65.5h1M48.5 70.5h1M35 47.5h1M60 44h1M62.5 27h1M31 45.5h1M45 45h1M39 49.5h1M46.5 34h1M34.5 38h1M48 72.5h1M74 30h1M26.5 62h1M33 51h1M33 46h1M52 68.5h1M44.5 40h1M61 72h1M61 59h1M36.5 50.5h1M52.5 63h1M44 74.5h1M50.5 67h1M26.5 68h1M42 58h1M37 47h1M38.5 65.5h1M67.5 54.5h1M56.5 45h1M45 72h1M71 26.5h1M75.5 71h1M36 38h1M37.5 39.5h1M48.5 76h1M38 52h1M44 72h1M35.5 60h1M63.5 29h1M33 72h1M52.5 64h1M39.5 42.5h1M27.5 42.5h1M28.5 41.5h1M35.5 63.5h1M36 47.5h1M61 27.5h1M56 61h1M35.5 44h1M41 75h1M54 57.5h1M55.5 45.5h1M59 62h1M33.5 44h1M53 65.5h1M55 68h1M31.5 48h1M33.5 60.5h1M33.5 63.5h1M37.5 43h1M50.5 73h1M38 45h1M50 42h1M62 27h1M39.5 34h1M43.5 39.5h1M73.5 58.5h1M40 30.5h1M34.5 61h1M45.5 33.5h1M37 43h1M40 38.5h1M32.5 38.5h1M56.5 74h1M41 43.5h1M48.5 68.5h1M62.5 58h1M50 32.5h1M34.5 75.5h1M57.5 38h1M41.5 34h1M41.5 40.5h1M58.5 60h1M40.5 37h1M34.5 60h1M90 12.5h1M34.5 66h1M40.5 37.5h1M69 69h1M60 70.5h1M71.5 38h1M41 60h1M54 71.5h1M62 28h1M54 70h1M34.5 65.5h1M39.5 38.5h1M43.5 43.5h1M37 74h1M33 44.5h1M41 50.5h1M55.5 72.5h1M57 70h1M42 45h1M31 60.5h1M36.5 40h1M39.5 47h1M53.5 54h1M81 74h1M47.5 45.5h1M35 68.5h1M60.5 30h1M36 42h1M62.5 40h1M34 41h1M57 72h1M53.5 69.5h1M31 48h1M51 45h1M49 44.5h1M49 75.5h1M49.5 42.5h1M37 44.5h1M31 44.5h1M51 66h1M42 44h1M54.5 70.5h1M40 58.5h1M46.5 51h1M46 62h1M23.5 45.5h1M40.5 37.5h1M62.5 42.5h1M41.5 75.5h1M55 33h1M52.5 71h1M38.5 39.5h1M46.5 37.5h1M49 76h1M37 41.5h1M34 71.5h1M35 42h1M53.5 72.5h1M28.5 58.5h1M39 42.5h1M38 43h1M56.5 41h1M34 41.5h1M53.5 49h1M59.5 70.5h1M36.5 34h1M33 37h1M64.5 34.5h1M49.5 75h1M46 70.5h1M35 47h1M54 72.5h1M38 38.5h1M45.5 73h1M50 73.5h1M34 64.5h1M52.5 36.5h1M54.5 34.5h1M61 38h1M45 62.5h1M37.5 44.5h1M26.5 63h1M47.5 70h1M51 73h1M37 35.5h1M56.5 70.5h1M55 43.5h1M57 68.5h1M72.5 58.5h1M55.5 67.5h1M48.5 70h1M37 45.5h1M46 67h1M53.5 41.5h1M33.5 61.5h1M54 71.5h1M52.5 61.5h1M36.5 72.5h1M37 51h1M67.5 60.5h1M45.5 36h1M34 42h1M33.5 58.5h1M35.5 40h1M49.5 76h1M40 41.5h1M72.5 70.5h1M53.5 39.5h1M59.5 38.5h1M32 46h1M35 38h1M55 31.5h1M59 28h1M32 64h1M52 74.5h1M30.5 59h1M33.5 62.5h1M33 45h1M26.5 60h1M33.5 41.5h1M35 75h1M28 47.5h1M47.5 66.5h1M57.5 68.5h1M53.5 69.5h1M43 71h1M34 42.5h1M40 44.5h1M51.5 34.5h1M51.5 71h1M71.5 45h1M50.5 40h1M51 72.5h1M41.5 38.5h1M40.5 40h1M29 51h1M49 64.5h1M35.5 43.5h1M28.5 52.5h1M83 37.5h1M53.5 66.5h1M41.5 22h1M24 54.5h1M43 71.5h1M40.5 39.5h1M55 69.5h1M74.5 49.5h1M38 41.5h1M34.5 44.5h1M42.5 43.5h1M42.5 42h1M42.5 30h1M49 64h1M43.5 51.5h1M78.5 26h1M65.5 75.5h1M27 43h1M58 40h1M40 51h1M34.5 43h1M34.5 70.5h1M44 39h1M43.5 35h1M53.5 13.5h1M39 35h1M40.5 46.5h1M29 54h1M41 42h1M58 28.5h1M45.5 66h1M35.5 34h1M43 69h1M58.5 40.5h1M41.5 39h1M53.5 67.5h1M36.5 41.5h1M36.5 58.5h1M34 51.5h1M40.5 70h1M45 36.5h1M41.5 39h1M42 38h1M73.5 45h1M50 65h1M35.5 48h1M32 63.5h1M72 61h1M42 61.5h1M47 34.5h1M53.5 62h1M42.5 37h1M54.5 64.5h1M34 38.5h1M35 38.5h1M30.5 44h1M51 72h1M50 70h1M32 46.5h1M37 37.5h1M34.5 43.5h1M51.5 69.5h1M76 42.5h1M54 34h1M87 63.5h1M86.5 46.5h1M34.5 43.5h1M43.5 46h1M55 64h1M69.5 69.5h1M27 68h1M32.5 44h1M52 71h1M52 71h1M33.5 56h1M53 73.5h1M32 53.5h1M44 39h1M52 69h1M56 76.5h1M32.5 39.5h1M34.5 47h1M52 69h1M45 71h1M33.5 72h1M44 64.5h1M41.5 67.5h1M30 60h1M37.5 40h1M33.5 42.5h1M41 64.5h1M57.5 74.5h1M48.5 67h1M30.5 42.5h1M29 41h1M40.5 45h1M36 44.5h1M38.5 44.5h1M31.5 47h1M34 43h1M31.5 46h1M35.5 67.5h1M34.5 68.5h1M60 37.5h1M39 38h1M52.5 69.5h1M57.5 47h1M38 48.5h1M34.5 42h1M48.5 73h1M35.5 52h1M34 68h1M46 73.5h1M36.5 47h1M28.5 44.5h1M38 47h1M50.5 38h1M51 68h1M42 37.5h1M46.5 74.5h1M77.5 43.5h1M51 69h1M31.5 44h1M49 65h1M40.5 51h1M34 46.5h1M39.5 39.5h1M50.5 72.5h1M64.5 35h1M50.5 36h1M51 66.5h1M33.5 45h1M58.5 36h1M67 46h1M49 65h1M57.5 36h1M37.5 38.5h1M36.5 43.5h1M33 43.5h1M44 64.5h1M39.5 39.5h1M50.5 72h1M54 67h1M57.5 71.5h1M35.5 38.5h1M40.5 45h1M56 41.5h1M36 42h1M56 71.5h1M51 65.5h1M41 49h1"/>
</g>
<rect x="22" y="1.3" width="76.3" height="76.5" fill="none" stroke="#444" stroke-width="1"/>
<rect x="25.4" y="55" width="68.4" height="22.4" fill="none" stroke="#111" stroke-width="0.8"/>
<text x="19.5" y="6" font-size="4.2" text-anchor="end" fill="#222">10<tspan font-size="2.94" dy="-1.89">4</tspan></text>
<text x="19.5" y="21.5" font-size="4.2" text-anchor="end" fill="#222">10<tspan font-size="2.94" dy="-1.89">3</tspan></text>
<text x="19.5" y="40.7" font-size="4.2" text-anchor="end" fill="#222">10<tspan font-size="2.94" dy="-1.89">2</tspan></text>
<text x="19.5" y="60" font-size="4.2" text-anchor="end" fill="#222">10<tspan font-size="2.94" dy="-1.89">1</tspan></text>
<text x="19.5" y="78" font-size="4.2" text-anchor="end" fill="#222">10<tspan font-size="2.94" dy="-1.89">0</tspan></text>
<line x1="20.5" y1="4.5" x2="22" y2="4.5" stroke="#444" stroke-width="0.7"/>
<line x1="20.5" y1="20" x2="22" y2="20" stroke="#444" stroke-width="0.7"/>
<line x1="20.5" y1="39.2" x2="22" y2="39.2" stroke="#444" stroke-width="0.7"/>
<line x1="20.5" y1="58.5" x2="22" y2="58.5" stroke="#444" stroke-width="0.7"/>
<line x1="20.5" y1="76.5" x2="22" y2="76.5" stroke="#444" stroke-width="0.7"/>
<text x="23" y="85" font-size="4.2" text-anchor="middle" fill="#222">0</text>
<text x="37" y="85" font-size="4.2" text-anchor="middle" fill="#222">200</text>
<text x="51.2" y="85" font-size="4.2" text-anchor="middle" fill="#222">400</text>
<text x="65.5" y="85" font-size="4.2" text-anchor="middle" fill="#222">600</text>
<text x="80" y="85" font-size="4.2" text-anchor="middle" fill="#222">800</text>
<text x="94.5" y="85" font-size="4.2" text-anchor="middle" fill="#222">1K</text>
<line x1="23" y1="77.8" x2="23" y2="79.3" stroke="#444" stroke-width="0.7"/>
<line x1="37" y1="77.8" x2="37" y2="79.3" stroke="#444" stroke-width="0.7"/>
<line x1="51.2" y1="77.8" x2="51.2" y2="79.3" stroke="#444" stroke-width="0.7"/>
<line x1="65.5" y1="77.8" x2="65.5" y2="79.3" stroke="#444" stroke-width="0.7"/>
<line x1="80" y1="77.8" x2="80" y2="79.3" stroke="#444" stroke-width="0.7"/>
<line x1="94.5" y1="77.8" x2="94.5" y2="79.3" stroke="#444" stroke-width="0.7"/>
<text x="51" y="94" font-size="5.5" font-weight="bold" text-anchor="middle" textLength="12" lengthAdjust="spacingAndGlyphs">FSC-H</text>
<text transform="translate(9.5 48) rotate(-90)" font-size="4" textLength="16" lengthAdjust="spacingAndGlyphs" fill="#333">FL3-H: PI</text>
<text x="53" y="15" font-size="3.8" fill="#222">Pi-ve</text>
<text x="53" y="20" font-size="3.8" fill="#222">74.07%</text>
<g stroke="#000" stroke-width="1" stroke-opacity="0.42" filter="url(#bl)">
<path d="M134 30.5h1M135.5 50.5h1M125 73h1M168 16.5h1M153.5 21.5h1M129.5 62h1M142.5 41.5h1M140 40.5h1M145 26.5h1M127.5 63.5h1M144.5 56h1M150 51.5h1M144.5 52.5h1M153.5 55.5h1M154 54h1M136 31.5h1M127 63.5h1M134 45h1M163 15.5h1M148 43h1M161.5 26h1M192 3.5h1M122 60.5h1M146.5 47.5h1M129 67.5h1M182 3h1M145.5 44.5h1M134.5 53h1M150 45h1M146.5 52h1M145 52.5h1M144.5 2.5h1M121.5 73.5h1M147.5 65.5h1M157.5 45.5h1M142 50.5h1M136 58.5h1M148 58.5h1M133.5 26.5h1M141 54h1M148 20.5h1M176 3h1M160.5 29.5h1M160.5 16h1M153.5 42h1M126 54.5h1M152.5 36.5h1M172 2.5h1M121 70.5h1M129 62h1M160 26h1M143 44h1M154.5 32.5h1M141 53.5h1M137.5 53.5h1M141 54h1M133 67.5h1M150 40.5h1M147 38.5h1M147 48.5h1M135 44.5h1M147 45.5h1M156 28h1M162 29.5h1M148 46.5h1M145 25h1M134 42.5h1M144 58h1M149.5 45h1M171.5 26h1M130 48h1M138 60.5h1M144.5 63h1M128 63h1M137 48h1M123 33.5h1M148 29.5h1M161.5 30.5h1M150.5 37.5h1M155.5 43h1M151 57h1M146.5 37h1M159 2h1M154.5 44h1M127.5 62h1M170.5 14h1M151.5 40.5h1M148 50h1M154.5 46h1M146.5 54.5h1M157 37.5h1M142 42h1M164 9.5h1M151.5 12h1M155.5 19h1M164 23.5h1M149 58.5h1M155.5 47.5h1M150.5 20h1M160 18.5h1M145 48.5h1M162.5 34.5h1M148 49.5h1M149.5 47h1M127.5 64h1M150 66h1M150 38h1M129 61.5h1M130.5 57.5h1M151.5 35h1M120.5 72.5h1M149.5 69.5h1M155.5 10.5h1M147.5 45h1M165.5 20.5h1M150 57.5h1M166.5 2.5h1M126.5 55.5h1M145 59h1M149 34h1M145 48.5h1M162.5 27h1M150 49h1M142 60.5h1M140.5 61.5h1M165 6h1M158 3h1M141 56h1M158 31.5h1M153 43.5h1M170 3.5h1M133 53h1M149.5 54.5h1M122 64h1M135 42h1M138 59h1M154 56.5h1M150.5 28h1M130.5 23h1M151 45h1M152.5 22h1M132.5 60h1M149.5 41h1M146 46.5h1M145.5 45h1M155 49h1M142.5 53h1M148 52.5h1M141.5 59h1M149.5 37.5h1M142.5 44.5h1M145.5 52.5h1M145.5 39h1M147.5 26.5h1M139.5 58h1M153 8h1M137.5 36.5h1M152.5 17.5h1M140 55.5h1M139 50h1M121.5 62.5h1M150.5 51.5h1M123.5 36h1M129 48.5h1M168 31.5h1M140.5 51.5h1M154 57h1M144 56.5h1M146 63h1M153 43h1M153.5 53h1M148.5 52h1M122 69h1M150.5 55h1M146 31.5h1M153.5 8.5h1M158 37h1M153 50h1M152.5 40h1M119.5 69.5h1M143 44h1M145.5 48.5h1M165 7.5h1M136.5 44h1M142 54.5h1M147.5 57h1M161.5 27h1M142 50.5h1M150.5 37h1M139.5 49.5h1M172 3.5h1M130 47.5h1M155.5 18.5h1M123.5 53h1M140 48h1M131 36.5h1M147 52.5h1M127 9.5h1M148 51h1M149 30.5h1M138.5 57.5h1M165.5 17h1M145 45h1M135.5 65.5h1M151.5 48.5h1M126.5 63.5h1M140 70h1M155.5 22h1M155.5 3h1M149.5 16.5h1M149.5 38.5h1M150.5 61h1M145 30.5h1M122.5 75.5h1M150 67h1M150 52h1M161.5 15h1M176.5 3.5h1M141 33h1M144.5 57h1M147.5 40.5h1M165.5 9.5h1M135.5 30h1M154.5 52h1M163.5 21h1M164 2.5h1M166 46h1M149 40h1M147 50.5h1M155 61h1M144.5 59.5h1M172 3.5h1M121 72.5h1M147 46h1M146 43h1M150 66h1M177.5 3h1M149 56.5h1M165.5 33.5h1M171.5 3.5h1M145 53h1M144.5 44.5h1M128 52h1M161 18h1M149.5 51h1M157.5 2.5h1M149 31.5h1M151 60.5h1M149 49h1M151.5 72h1M155 22.5h1M160.5 24h1M153 54.5h1M157 24.5h1M122 71.5h1M136 18h1M134.5 38.5h1M134.5 57h1M133.5 54h1M146.5 45h1M171.5 19h1M127.5 43h1M147 38.5h1M152.5 48.5h1M120.5 74.5h1M139.5 50.5h1M128.5 54.5h1M154 50h1M138.5 65.5h1M138 37h1M142.5 42.5h1M133.5 22h1M149.5 9h1M157 47h1M141.5 42.5h1M139 50.5h1M143 54h1M145.5 58.5h1M126.5 65h1M152 53h1M137 50.5h1M130.5 39.5h1M150.5 53h1M120.5 74h1M162.5 15h1M132.5 34h1M124 14h1M128 54h1M152 50h1M119 74.5h1M159.5 43h1M150 54h1M141 57.5h1M138 60h1M152.5 16.5h1M136.5 52.5h1M131 36.5h1M129.5 61.5h1M162.5 9.5h1M140 55.5h1M152.5 38.5h1M159 28h1M151.5 54h1M155.5 58.5h1M154 29h1M155.5 44h1M123.5 75h1M141.5 44.5h1M148 33h1M148 43h1M145 45.5h1M145.5 52.5h1M138 47h1M151 39h1M148 14.5h1M138 49.5h1M143.5 50.5h1M148 58.5h1M119.5 73.5h1M145 46.5h1M143 56.5h1M133.5 43h1M119.5 74h1M154.5 2.5h1M157 12h1M159 15.5h1M148 45.5h1M144 57.5h1M148.5 52.5h1M144 57h1M162 18h1M149.5 67h1M128.5 65h1M154.5 23.5h1M164.5 17.5h1M162.5 20h1M162.5 20h1M148 54h1M157.5 49.5h1M152 45h1M150.5 46h1M127.5 62.5h1M149 50h1M154.5 55.5h1M143 56h1M149.5 51h1M127 54h1M152.5 71h1M140.5 52.5h1M141 70h1M141 40.5h1M148 46h1M142.5 36.5h1M129 69.5h1M150.5 72h1M142 54h1M152 46.5h1M147 43h1M120 69h1M144.5 61h1M135 46h1M148.5 51h1M146.5 57h1M120.5 64.5h1M139.5 53.5h1M128 61.5h1M149 48h1M152 51.5h1M138.5 49.5h1M159.5 21.5h1M128 52h1M153.5 24h1M147.5 49.5h1M150 45h1M171.5 28h1M145.5 49h1M177 10.5h1M164 20h1M120.5 73.5h1M149.5 36.5h1M122 74.5h1M155 50h1M147 43h1M151 57h1M142 47.5h1M165 48h1M154 17h1M127 66h1M146.5 66h1M157 41.5h1M147 54.5h1M145.5 39h1M122.5 40h1M156 53h1M161.5 23h1M146.5 40.5h1M157.5 28h1M121 66h1M151 69h1M145 49.5h1M146 49.5h1M128.5 68h1M151.5 56h1M144.5 50.5h1M166 21.5h1M158 38.5h1M150 64h1M161.5 27.5h1M144 43h1M155.5 50.5h1M169 3h1M129 40.5h1M146 56.5h1M148.5 40.5h1M148 35.5h1M142.5 61.5h1M142 42h1M147.5 33h1M150 53.5h1M166 34h1M148 20.5h1M143.5 45h1M151.5 38h1M151 64h1M124.5 55h1M135.5 65h1M147.5 52.5h1M147.5 59h1M150 43.5h1M141.5 53h1M122.5 75.5h1M145 53h1M144.5 48.5h1M137.5 60h1M140.5 54h1M161 14.5h1M160.5 15h1M190 3.5h1M131 65.5h1M144.5 46.5h1M139.5 46.5h1M134.5 52h1M157 25.5h1M127 44.5h1M128.5 61.5h1M147.5 40h1M147.5 47.5h1M131 38h1M158 22h1M143 66h1M149.5 49h1M155 20.5h1M158 48h1M143 65.5h1M144.5 52.5h1M149.5 51h1M146.5 34h1M152.5 61.5h1M150 53.5h1M137 51h1M131.5 70.5h1M159 57h1M164 14h1M153 27.5h1M145.5 57h1M158.5 49.5h1M148.5 50.5h1M149 43h1M160.5 38h1M153 40h1M151.5 39h1M129.5 59h1M164 12.5h1M123 38h1M123 69h1M152 7h1M143 38.5h1M149.5 53.5h1M132.5 41.5h1M131.5 45h1M143.5 57h1M157 24h1M159 23.5h1M153 54.5h1M141.5 45h1M123.5 74.5h1M141.5 34h1M149.5 20h1M124 72.5h1M148.5 48h1M151.5 60h1M141.5 39h1M140.5 75h1M149.5 21.5h1M149.5 50h1M161.5 37.5h1M146.5 45h1M186 3h1M120 72h1M177 15.5h1M153 46h1M163.5 27h1M120.5 67.5h1M150.5 33.5h1M152.5 43.5h1M154 33.5h1M138 57.5h1M158.5 46h1M155.5 23.5h1M150 35.5h1M150 43.5h1M121.5 75h1M148 43.5h1M153.5 43h1M119.5 62.5h1M121.5 64.5h1M137.5 62h1M151.5 38.5h1M151 54h1M150.5 41h1M119.5 67h1M159.5 8.5h1M160.5 20h1M155 11.5h1M148.5 53.5h1M137 61h1M140.5 56h1M145 58.5h1M156 41.5h1M149.5 52.5h1M145 43h1M146.5 50h1M146.5 60h1M149 48.5h1M149.5 26h1M145.5 55.5h1M143.5 59h1M149.5 39h1M135.5 54.5h1M133.5 55.5h1M151 43h1M144 44h1M156.5 26h1M136.5 57.5h1M121.5 64h1M119 75h1M152 50.5h1M147.5 56h1M165.5 36.5h1M141.5 51h1"/>
<path d="M165 49.5h1M142.5 58.5h1M149.5 36h1M143.5 60h1M150.5 40h1M157 33.5h1M129 63h1M164 26.5h1M153 56h1M130 71h1M123 76h1M163 3.5h1M156 2.5h1M138.5 51.5h1M149 47.5h1M128.5 62h1M164.5 27h1M148 30.5h1M160.5 35h1M145.5 41.5h1M120.5 61h1M149.5 5.5h1M192 3h1M153 37.5h1M119.5 74h1M152 18.5h1M133.5 44.5h1M152.5 3.5h1M127.5 76h1M145.5 60h1M146 53h1M148 49h1M147.5 48h1M146.5 58.5h1M152.5 32h1M125.5 49.5h1M144.5 51.5h1M143.5 41.5h1M143.5 59.5h1M155.5 48.5h1M129.5 68h1M125 38.5h1M121 67.5h1M154 3h1M130.5 61h1M155 22h1M143.5 28h1M130 45h1M154 66.5h1M161.5 27h1M136 51h1M120.5 71h1M151 19h1M139.5 73h1M148 48.5h1M154.5 48h1M146 56h1M133.5 54.5h1M148.5 45h1M152.5 26h1M157.5 49h1M130 55h1M148 50h1M124.5 66h1M153 50h1M143.5 57h1M151 2.5h1M143.5 48.5h1M164.5 21.5h1M169 17.5h1M127.5 49h1M127 59h1M140.5 74h1M135.5 41.5h1M148 56h1M150.5 3.5h1M148.5 58.5h1M146 27.5h1M154 46.5h1M146 48h1M154.5 51.5h1M167 39h1M142.5 54.5h1M154 47.5h1M165 47.5h1M154.5 41.5h1M148.5 52.5h1M122.5 73h1M122 62h1M155.5 24.5h1M151 33.5h1M148 47.5h1M154.5 13h1M127.5 56.5h1M161.5 45.5h1M146 48.5h1M155.5 43.5h1M135.5 47h1M149.5 41.5h1M159 57h1M154 2.5h1M150.5 11h1M144.5 41h1M121.5 69.5h1M143.5 38h1M147 37.5h1M179.5 2.5h1M157.5 36.5h1M144.5 53.5h1M146.5 58.5h1M151 24h1M138.5 63.5h1M163 33.5h1M156.5 34.5h1M159 23h1M121.5 51.5h1M149 52.5h1M150.5 38h1M140 54h1M140.5 61.5h1M153.5 36h1M158 19h1M134 75h1M146 58.5h1M149 55.5h1M134.5 65h1M131 31.5h1M149.5 36h1M147 23.5h1M129.5 60h1M151.5 46h1M176.5 2.5h1M144.5 45h1M143 47h1M151.5 51.5h1M134.5 70.5h1M156 3h1M152 50.5h1M154.5 31h1M138.5 39.5h1M124 75h1M145.5 40.5h1M135 46h1M144.5 31.5h1M128.5 45.5h1M121 68.5h1M151.5 47h1M122 74.5h1M151.5 52h1M127 33h1M140 53h1M144 49.5h1M148.5 69h1M168.5 21h1M138.5 69h1M143.5 41h1M125.5 50.5h1M149 58.5h1M147 52h1M125 42h1M148 44h1M148.5 57.5h1M134 39.5h1M158 61h1M152 50h1M151.5 51.5h1M142.5 26h1M150 54h1M134 53.5h1M127.5 46h1M154.5 51h1M130 66.5h1M150 43.5h1M163.5 21.5h1M149.5 65.5h1M157 14.5h1M147 37.5h1M155 41h1M145 62h1M162.5 16.5h1M130 45.5h1M145 53.5h1M165.5 50.5h1M140 48h1M161.5 22.5h1M139.5 60.5h1M148 60.5h1M150.5 46h1M128 62h1M128.5 62.5h1M142.5 41h1M133.5 69.5h1M127.5 69.5h1M181.5 3h1M155.5 24h1M148.5 48.5h1M142 46h1M150.5 31h1M145 61h1M148 19.5h1M130 51.5h1M150 20.5h1M120.5 74.5h1M152 47h1M127 37.5h1M142.5 55.5h1M149 49h1M164.5 3h1M168.5 31.5h1M120.5 71h1M145 36h1M131 51.5h1M161.5 28h1M135.5 49.5h1M128.5 68h1M169.5 36.5h1M161.5 29.5h1M154 26.5h1M122 73h1M140.5 74.5h1M158.5 3h1M159.5 51h1M146.5 47h1M162.5 6h1M141.5 44.5h1M134 51h1M147 45h1M144 46h1M153.5 59.5h1M144 50h1M154 18h1M149 43h1M147.5 32.5h1M121 73h1M156.5 49.5h1M149 62h1M151 56h1M150 38h1M142.5 38h1M151 18.5h1M165 24h1M169.5 20.5h1M140.5 36.5h1M152.5 51h1M142 44.5h1M151 39.5h1M147.5 58.5h1M126 53.5h1M149.5 56.5h1M145.5 53.5h1M131.5 23h1M151.5 18h1M145 57.5h1M144 39h1M141 47.5h1M150 39.5h1M152.5 51h1M146.5 66.5h1M130 52.5h1M156 52h1M151.5 7.5h1M156 54h1M145 17.5h1M134.5 31.5h1M153 45h1M139.5 40h1M147.5 45h1M120.5 65h1M155.5 25h1M127.5 46h1M133 54.5h1M149.5 62.5h1M154.5 39h1M136 60.5h1M149 30.5h1M145 57.5h1M137.5 46h1M146.5 56h1M151 54.5h1M145 60.5h1M159.5 15.5h1M145.5 54h1M143.5 60h1M145.5 50h1M130.5 58.5h1M162.5 29.5h1M153.5 50.5h1M159.5 16.5h1M152 54h1M142 51.5h1M149 50h1M147.5 65.5h1M152.5 25h1M158 68.5h1M136.5 36h1M134 19.5h1M147 37.5h1M145 51h1M161 24.5h1M151 59.5h1M152 20h1M147 50.5h1M153 24.5h1M146 40h1M147.5 40h1M146.5 47.5h1M144.5 49h1M148 58.5h1M120 72.5h1M138 50h1M137.5 57h1M149.5 30h1M149 61h1M139 57.5h1M189.5 3.5h1M152 46h1M155 65.5h1M153.5 30.5h1M159 15.5h1M139.5 41.5h1M147.5 55.5h1M147.5 55h1M145 63.5h1M154 20h1M151 55h1M146.5 43.5h1M151 38h1M134.5 46h1M139.5 69.5h1M150 51h1M146.5 24h1M142.5 39h1M135.5 63.5h1M147.5 37h1M129.5 58h1M144.5 59.5h1M150 28.5h1M164 13h1M125.5 21.5h1M154 43h1M130.5 63h1M144.5 55.5h1M151 23h1M149.5 21.5h1M130 58.5h1M128.5 69h1M145.5 41.5h1M153.5 48h1M144 63h1M151.5 46h1M146.5 56.5h1M186.5 2.5h1M128 33.5h1M151.5 3h1M149.5 51.5h1M146.5 63h1M150.5 33.5h1M135 49h1M156 41.5h1M147.5 58h1M148.5 42h1M158 32h1M147.5 47.5h1M141 50h1M155.5 42h1M168.5 19h1M129.5 14.5h1M141 49.5h1M142.5 51.5h1M156.5 7.5h1M127 64h1M142 36h1M121 59.5h1M139 44.5h1M129.5 63h1M151 46.5h1M160 60h1M158 15h1M143 59h1M120.5 75h1M149.5 35.5h1M119 75.5h1M147 56h1M146.5 61.5h1M156 16h1M154 16h1M160 25h1M149.5 45h1M121 63.5h1M143.5 52.5h1M143 54h1M120 60.5h1M139 55.5h1M144.5 52.5h1M143.5 64h1M124.5 45h1M135 64h1M140 46.5h1M140 36.5h1M141.5 50.5h1M145.5 36h1M132.5 37.5h1M154 43h1M168.5 29.5h1M128 72h1M142.5 55.5h1M151 48h1M148.5 43h1M159.5 36h1M167 3h1M150 43.5h1M136.5 43h1M144.5 62h1M127 41.5h1M158 28.5h1M121.5 67.5h1M145 45.5h1M132 16h1M125 40h1M147.5 5.5h1M161.5 24.5h1M133.5 49.5h1M147.5 43h1M144 64h1M165 6h1M147 34h1M151 47h1M137.5 49h1M123 68h1M157.5 37h1M119 75.5h1M161.5 40h1M141 43.5h1M149 54.5h1M147.5 53h1M147 46h1M140 52h1M151.5 54h1M163 27h1M152.5 45.5h1M128.5 60.5h1M131 51h1M135.5 36h1M140.5 44h1M150.5 53.5h1M160.5 24.5h1M154.5 40.5h1M144 61h1M151.5 43h1M141 46.5h1M143.5 51h1M123 75h1M154 44h1M156 35.5h1M143.5 34.5h1M138 57h1M145 29h1M154.5 51h1M140 72.5h1M142.5 57h1M151.5 35h1M152 50h1M135.5 48h1M135 53.5h1M152.5 57.5h1M161 30.5h1M145.5 41h1M128.5 66h1M127 69.5h1M138.5 51h1M155.5 56h1M127.5 53.5h1M128 49.5h1M129.5 70h1M146 51.5h1M147 55.5h1M146.5 45h1M145.5 44h1M121 65.5h1M126.5 58h1M161.5 19h1M152.5 52.5h1M156.5 33h1M152.5 40.5h1M129 40h1M152 51.5h1M144 11h1M132.5 60h1M153 51h1M141 59h1M160.5 34h1M182 3h1M132 50h1M137 51h1M141 51.5h1M129 61h1M133.5 57.5h1M155 47h1M144.5 47.5h1M127 56h1M151 26h1M148.5 45h1M131.5 34.5h1M148 20h1M138 49h1M142.5 63.5h1M149 47h1M174 3.5h1M134 43h1M189.5 2.5h1M144.5 50h1M155 35h1M148.5 41h1M134 58.5h1M147.5 59.5h1M184 2.5h1M147.5 57.5h1M143 55.5h1M157.5 41h1M166 5h1M148.5 48.5h1M122.5 74h1M152.5 43h1M144 39.5h1M153.5 43.5h1M145.5 54h1M152 58h1M121.5 66h1M186.5 3.5h1M154 48.5h1M163 25.5h1M157 43h1M146 57h1M148 40.5h1M156.5 33h1M143.5 65h1M160.5 18h1M152 51h1M152 3h1M152 50h1M153.5 20.5h1M147 59.5h1M165.5 41h1M125 72h1M167 9.5h1M148 52h1M181 2.5h1M152 29h1M147.5 51.5h1M163.5 33.5h1"/>
<path d="M147.5 37.5h1M156.5 35h1M151 50h1M128.5 58.5h1M149 43h1M166.5 25h1M144.5 38h1M143.5 54h1M148.5 60h1M122 62.5h1M129.5 49h1M148 51h1M170.5 3h1M162.5 13.5h1M143.5 42.5h1M127 63h1M146.5 38.5h1M154.5 57.5h1M189 2.5h1M159 22.5h1M147 46.5h1M149.5 46.5h1M153.5 45.5h1M142 39h1M146.5 52.5h1M149 5h1M152.5 55.5h1M151.5 43h1M152.5 24h1M141.5 62.5h1M146 37h1M148.5 56h1M142.5 49.5h1M147.5 59.5h1M156.5 39h1M159 41h1M153.5 32.5h1M161.5 8.5h1M158.5 35h1M166.5 3.5h1M156 27h1M144 65.5h1M152.5 56h1M186 2.5h1M152 55h1M146 49.5h1M149 49.5h1M121 55.5h1M145.5 55h1M148.5 56.5h1M145.5 43h1M132 47h1M153 14h1M156.5 30h1M151 54h1M153 29.5h1M121.5 47h1M119 36h1M140.5 52h1M175 30h1M148.5 50.5h1M147 45h1M145 48.5h1M122 68.5h1M149.5 37h1M145.5 43h1M147 30.5h1M147.5 53.5h1M158 20h1M137 56h1M146 40.5h1M148 60h1M151 28h1M152 23h1M152 11h1M157.5 13h1M151.5 44.5h1M151.5 37.5h1M145 56h1M139 48h1M145.5 34h1M146.5 62h1M150 52.5h1M144.5 64h1M150.5 21h1M148.5 51h1M161.5 13h1M148 44h1M128 62h1M171 12h1M138.5 51h1M127.5 69h1M122 67.5h1M148.5 59.5h1M167 3h1M167.5 12h1M149 36.5h1M143.5 50.5h1M144 43.5h1M147 48h1M148 41.5h1M147 50.5h1M160 14h1M122.5 70.5h1M152.5 34h1M151 37h1M130 45.5h1M144.5 53.5h1M153.5 40h1M154.5 50h1M144.5 54.5h1M143 39.5h1M154 10.5h1M159 27.5h1M123 15h1M143.5 49h1M144.5 55.5h1M128 64.5h1M143.5 41h1M154.5 26.5h1M145 58h1M157.5 23h1M159.5 23.5h1M145 51h1M135 65.5h1M132.5 67h1M181 2.5h1M140.5 22.5h1M150 42h1M150.5 56.5h1M152 28.5h1M144.5 55.5h1M153.5 67.5h1M135 25h1M129.5 55h1M127.5 59.5h1M153 56h1M144.5 50h1M153 25h1M148 57.5h1M161 39h1M149.5 52.5h1M128.5 31h1M135 38.5h1M148.5 33h1M151.5 36h1M130 43h1M146.5 39h1M150.5 52.5h1M163 20h1M134.5 36.5h1M145 54h1M155 49.5h1M145.5 34.5h1M121.5 75h1M147 43.5h1M161 34.5h1M146 50h1M140 67h1M147.5 45.5h1M160 19.5h1M152 42h1M126 61.5h1M144.5 62h1M122.5 58.5h1M161.5 36.5h1M152.5 47h1M158 3h1M134.5 45.5h1M151 22.5h1M147.5 54.5h1M142.5 45h1M157 27.5h1M120.5 66.5h1M152 55.5h1M149 17h1M141.5 67.5h1M152 22.5h1M158 8h1M156.5 60h1M165 13h1M145 40.5h1M144.5 53.5h1M141.5 39.5h1M119.5 71h1M141.5 44h1M122 60.5h1M154.5 29h1M152.5 60h1M128 63.5h1M147 57h1M146 55h1M181 2.5h1M165.5 30h1M159 2.5h1M138.5 55h1M122 72.5h1M138.5 60.5h1M148 59.5h1M154.5 51.5h1M146 37h1M131 51.5h1M127 72.5h1M129.5 63h1M120.5 73h1M152 44.5h1M158 43h1M145 41.5h1M141.5 54.5h1M151.5 24.5h1M141.5 60.5h1M143 58h1M156.5 48h1M153 31.5h1M152 43.5h1M155 31.5h1M166 44h1M151.5 45h1M150.5 48h1M151 61.5h1M119.5 70.5h1M150.5 45h1M141.5 57.5h1M120.5 64.5h1M128 68.5h1M121.5 60h1M150 61h1M155.5 11.5h1M149 47.5h1M147 56h1M159 29.5h1M158 23h1M155 20.5h1M152.5 44h1M129.5 70.5h1M155.5 49h1M135 47h1M141 62h1M148.5 36.5h1M142.5 55h1M150.5 47.5h1M126.5 37h1M136 46h1M144.5 47.5h1M143 54h1M129 52.5h1M148.5 42.5h1M149 39h1M142 52.5h1M168.5 36.5h1M148 53h1M131 35.5h1M149 33.5h1M136.5 64h1M151.5 50.5h1M151 40.5h1M150.5 34.5h1M140.5 60.5h1M133 45.5h1M158 42h1M164.5 20h1M151.5 39.5h1M128.5 72h1M160 21h1M155 50.5h1M151 46.5h1M166 3.5h1M182.5 2.5h1M144.5 58h1M150 68h1M144 41.5h1M143 46h1M160 41h1M139 57h1M148 55.5h1M157 5.5h1M146.5 64h1M168 18.5h1M167 14h1M150 29h1M137.5 73.5h1M154.5 58.5h1M157.5 21.5h1M119.5 68h1M153.5 45.5h1M122 68.5h1M167 3.5h1M152 57.5h1M128 76h1M155.5 3h1M147.5 55h1M146 48.5h1M132.5 56.5h1M150 43.5h1M151.5 51h1M148 45.5h1M166 31h1M121 69.5h1M145.5 41h1M130.5 48h1M161.5 21.5h1M148 60h1M144 44h1M159 29h1M146.5 50h1M148.5 59.5h1M156 49.5h1M159 26.5h1M129 30h1M163 23h1M150.5 47h1M140 36h1M149.5 42.5h1M137 55.5h1M125.5 57.5h1M154 31h1M151 50.5h1M158 43.5h1M153 58h1M142.5 61h1M149 67h1M149 47.5h1M159.5 52.5h1M121 69.5h1M134 59h1M146 56.5h1M120 59.5h1M156 30.5h1M130.5 54h1M175 3.5h1M153.5 36.5h1M129 61h1M143 51.5h1M143.5 48.5h1M132 52.5h1M138 56.5h1M155.5 45.5h1M148.5 51.5h1M121.5 70.5h1M157 41h1M151 10h1M149.5 48h1M143.5 29h1M128.5 66h1M151.5 47h1M130.5 61.5h1M144.5 51.5h1M164 44.5h1M137 58.5h1M143.5 33h1M148.5 42h1M150.5 43h1M128.5 39h1M156 37h1M162 23.5h1M142.5 35h1M146 55h1M149.5 48h1M171 27h1M148.5 62h1M151 45h1M156.5 13.5h1M151 45.5h1M153 34.5h1M149 29h1M153.5 37h1M159.5 30h1M152.5 51h1M119.5 75h1M152 41h1M174.5 6.5h1M141 52.5h1M152 39h1M143 64h1M127 57h1M153.5 11.5h1M141 55.5h1M132.5 39h1M158 14.5h1M146.5 47.5h1M142.5 58.5h1M153.5 28h1M164.5 22h1M154.5 67.5h1M143.5 58.5h1M137.5 47.5h1M149 40.5h1M146 47.5h1M146.5 59.5h1M145.5 25h1M138.5 50.5h1M121 67.5h1M146.5 54h1M160 2.5h1M148.5 34.5h1M140.5 23.5h1M145.5 57h1M160.5 44.5h1M148.5 54.5h1M154 45h1M147.5 50.5h1M150 54h1M138.5 51.5h1M141.5 36.5h1M145.5 58.5h1M144.5 46h1M130 67.5h1M153 45.5h1M142.5 43h1M144 32.5h1M157 60.5h1M159.5 15.5h1M126.5 40h1M155.5 34.5h1M167 18.5h1M143 43h1M156 45.5h1M121 65.5h1M125 51h1M146.5 56.5h1M135 50.5h1M140 58h1M139.5 45.5h1M150 41.5h1M155 17h1M148 38h1M157 28.5h1M152.5 52h1M176 2.5h1M125.5 55.5h1M155 28h1M153 44h1M160 27h1M161 16h1M158.5 41.5h1M126.5 26h1M156 3.5h1M121.5 69h1M140 42h1M152 47.5h1M128 56h1M124 43.5h1M150.5 58h1M141.5 63.5h1M157 46.5h1M145.5 18h1M138.5 55h1M136 46h1M173 19.5h1M140 54.5h1M158 58h1M127.5 58.5h1M145.5 36h1M146 45.5h1M162 54.5h1M149 37h1M135 43.5h1M139 43h1M132 57h1M154 53.5h1M151 28h1M163 25.5h1M157 26h1M130.5 64h1M163.5 12h1M147.5 17.5h1M129 30.5h1M154.5 23h1M132.5 55.5h1M134 61h1M143.5 65h1M153 42h1M120.5 64h1M148 51.5h1M137.5 53h1M134.5 45.5h1M153 59.5h1M163 18h1M148 47h1M136 54h1M121 61h1M131 58h1M155.5 31h1M149 54h1M151 23.5h1M147.5 64.5h1M154.5 57h1M157.5 49h1M121 75.5h1M142.5 42h1M144.5 64h1M144 48h1M151 37.5h1M149 73h1M149 55h1M136 50.5h1M142.5 44.5h1M132.5 62h1M150 11h1M130 56h1M131.5 67h1M160.5 49h1M154.5 28h1M146 59.5h1M162 3h1M129 29.5h1M149.5 71.5h1M143.5 46.5h1M159 22.5h1M146 52h1M149.5 52.5h1M150.5 51h1M145 42.5h1M146.5 42h1M152.5 34.5h1M185 2.5h1M154 26.5h1M146 54.5h1M141 50.5h1M147.5 66h1M150.5 47.5h1M152 43.5h1M146 60h1M137.5 39h1M158.5 21h1M160.5 46h1M141 60.5h1M145 42h1M142 55.5h1M149 37h1M122.5 57.5h1M149 46.5h1M136 45h1M146.5 55.5h1M122.5 67.5h1M188 3h1M122.5 61.5h1M157 21.5h1M149 46.5h1M154.5 60h1M122.5 62.5h1M166 39.5h1M120.5 52.5h1M175.5 3h1M154 22h1M155.5 44.5h1M152.5 57h1M147.5 64.5h1M182 3.5h1"/>
<path d="M161 24h1M139.5 65h1M149 58.5h1M153.5 23h1M137.5 56h1M152 33h1M154.5 65.5h1M120 70.5h1M156 26.5h1M148.5 49.5h1M142.5 63h1M132.5 44h1M120.5 76h1M164 29.5h1M152 63h1M163.5 34h1M146.5 59h1M147 50h1M161.5 28h1M127.5 60h1M141.5 55h1M152 44.5h1M147.5 60.5h1M141.5 64.5h1M147.5 45.5h1M151 10h1M121.5 70.5h1M164.5 53.5h1M131 59h1M144.5 55.5h1M153 3h1M146 49.5h1M150.5 17h1M149.5 56h1M145 24h1M148 50.5h1M143 51.5h1M135 42h1M128.5 58h1M154.5 60h1M147 48h1M172 18.5h1M154.5 46.5h1M141.5 55h1M142 47.5h1M143.5 51h1M151 35.5h1M154.5 44h1M150.5 51.5h1M139.5 57.5h1M158 35.5h1M151 54.5h1M144 24h1M162.5 11.5h1M127.5 69h1M134.5 43.5h1M154.5 24h1M156.5 38.5h1M146 40h1M149.5 42.5h1M158 25h1M158 14h1M137 54.5h1M159.5 12.5h1M152 50.5h1M152 29.5h1M135.5 59.5h1M143 50.5h1M148 58.5h1M166.5 19h1M161 16.5h1M146.5 73.5h1M133 52.5h1M156 21.5h1M159.5 25.5h1M132.5 31.5h1M161.5 23h1M146.5 42h1M143.5 51.5h1M146.5 62.5h1M134 63h1M155 37.5h1M148.5 69.5h1M140 47.5h1M146.5 49h1M161.5 30.5h1M120.5 65h1M157.5 23h1M150 35h1M160 28h1M151.5 60h1M151 52h1M140.5 58.5h1M133.5 47h1M158.5 3.5h1M137.5 48h1M129 26.5h1M144 61.5h1M148 41.5h1M148 55h1M143.5 47.5h1M148 37h1M140.5 47h1M152.5 68h1M150 58h1M175 3.5h1M149 18.5h1M147.5 55h1M158 33.5h1M154.5 48h1M151 51.5h1M127.5 56.5h1M140.5 52.5h1M139.5 52.5h1M153.5 48h1M153 32.5h1M139 54.5h1M151 57.5h1M135 58.5h1M150 50.5h1M152.5 67h1M157 12.5h1M129.5 58.5h1M147.5 46h1M126.5 18.5h1M128.5 55.5h1M146 41h1M140.5 63.5h1M158.5 40h1M155.5 37h1M144 54.5h1M121 50.5h1M183 3.5h1M145 48h1M147.5 11.5h1M146.5 14.5h1M164.5 9.5h1M127.5 64h1M150.5 62.5h1M147 57h1M147.5 29.5h1M147.5 58.5h1M145.5 44h1M144 56h1M166.5 21h1M135.5 61h1M137 41.5h1M156 12h1M152.5 45h1M148.5 43h1M173.5 12.5h1M119.5 72.5h1M155.5 50h1M133 37.5h1M139.5 48.5h1M145 40h1M128 66h1M147.5 53.5h1M151 25h1M129.5 73.5h1M152 53.5h1M135.5 63h1M143 56.5h1M148.5 58.5h1M157.5 12h1M122 65.5h1M161 30.5h1M166 38.5h1M158 15.5h1M150.5 3.5h1M128 68.5h1M151 32.5h1M152.5 57.5h1M146 43h1M168.5 3h1M145 52.5h1M166.5 30h1M148 59.5h1M158 26h1M142 17h1M164.5 3.5h1M155 26h1M152.5 50.5h1M153 50h1M139.5 37.5h1M153.5 25h1M149 38h1M150.5 40.5h1M179.5 22h1M154 52.5h1M161 35.5h1M155.5 35.5h1M146.5 35.5h1M135.5 52.5h1M155.5 51h1M128.5 46h1M162.5 31h1M143.5 54.5h1M139 41.5h1M119 75h1M143.5 30.5h1M144 63.5h1M149 33.5h1M144 27.5h1M121 75h1M146.5 48h1M157.5 73h1M121 75h1M148 49h1M120.5 64h1M146 57h1M153 40.5h1M150.5 67.5h1M171 3.5h1M146.5 69h1M147.5 52.5h1M150 31.5h1M135 43.5h1M148.5 32h1M121.5 73.5h1M144.5 48h1M144.5 51.5h1M139.5 40.5h1M156 15h1M154 39.5h1M130 64.5h1M148 56.5h1M185.5 3.5h1M154 60h1M132 42.5h1M159 35.5h1M145 54.5h1M131 43h1M152.5 49h1M146 9h1M150.5 55.5h1M156.5 60.5h1M129.5 66h1M146 41h1M156.5 31.5h1M166 41h1M127.5 64h1M159 3h1M147 31.5h1M139 59h1M152.5 49.5h1M136 29h1M146.5 43.5h1M157.5 35.5h1M164 2.5h1M148 42.5h1M149 57h1M176.5 2.5h1M151 44h1M149.5 23h1M159 14h1M147.5 37h1M124 39.5h1M127 66.5h1M140 64h1M150 35.5h1M157 39.5h1M148 62h1M148 50h1M135 65.5h1M150 50.5h1M153.5 44h1M120.5 73.5h1M146 59h1M145.5 62h1M149.5 9h1M154.5 32h1M159 32.5h1M132.5 38.5h1M128.5 68h1M122 65h1M143.5 55h1M151.5 42h1M162 42.5h1M168 37h1M145 59.5h1M168.5 3.5h1M151.5 51.5h1M149 49.5h1M152.5 64h1M122 65.5h1M159 12h1M148 20h1M147.5 48.5h1M152.5 52h1M154.5 44h1M149 61.5h1M140.5 46.5h1M159 15h1M150.5 50.5h1M160 8.5h1M134 54.5h1M149 17.5h1M151 52.5h1M146.5 52h1M146.5 30h1M149.5 41h1M160.5 26.5h1M160.5 3h1M148.5 55.5h1M150 57h1M155 50h1M149 42.5h1M154 56.5h1M163.5 29h1M135.5 24h1M156.5 55h1M165 10h1M130.5 36h1M134 23.5h1M192 3.5h1M139 44.5h1M146 38.5h1M121 58.5h1M149.5 51h1M152.5 52h1M145 58h1M127 52.5h1M127.5 59h1M135.5 55.5h1M151 58h1M158.5 36.5h1M180 3h1M120 59h1M142 41.5h1M156.5 33h1M139 42h1M146.5 41h1M157 17.5h1M155.5 41.5h1M122 64h1M144 45h1M151 49.5h1M123.5 68.5h1M155 38h1M161.5 22h1M129.5 55h1M152.5 57.5h1M131 19h1M172 41.5h1M142 57h1M143 55h1M119 28h1M132.5 49h1M152.5 48.5h1M146 41h1M148 53.5h1M154.5 50.5h1M152.5 3h1M147 49h1M150.5 41.5h1M154.5 17h1M134 39h1M134.5 15h1M147.5 61h1M123.5 45.5h1M152 44.5h1M158.5 51.5h1M135 62.5h1M136.5 42.5h1M141 41h1M173 22h1M143 44h1M153.5 41h1M122.5 74h1M121 67h1M146 46h1M148.5 56.5h1M153 58h1M145 43.5h1M131.5 52.5h1M159 52h1M125 62.5h1M152.5 49.5h1M140 54.5h1M161 51h1M155 31h1M142.5 50.5h1M158 10h1M128.5 74h1M154 33h1M161 28.5h1M144 72.5h1M161 29.5h1M156.5 34h1M151.5 59h1M127.5 62.5h1M148.5 54h1M146 50h1M152 53.5h1M132.5 62h1M151 50h1M156.5 7h1M148.5 46.5h1M164.5 15.5h1M155.5 40h1M150.5 41h1M159.5 30h1M143.5 46.5h1M145.5 47.5h1M156 48h1M155 41.5h1M161 46h1M141 53.5h1M154 24h1M119.5 76h1M165 47.5h1M136 48h1M149.5 50.5h1M158.5 41h1M148.5 41h1M139.5 17h1M172 30h1M136 59.5h1M154 42.5h1M142.5 29.5h1M141.5 58h1M157.5 38h1M137 57.5h1M120.5 73.5h1M156.5 48h1M152 64.5h1M119.5 73.5h1M138 40h1M154.5 27.5h1M153 52.5h1M150 63h1M145 60.5h1M138.5 63h1M121 74.5h1M121 63.5h1M156 61h1M145 51.5h1M145.5 65.5h1M150.5 40.5h1M149.5 39h1M156 51.5h1M120.5 57h1M139 54.5h1M119 74.5h1M121 76h1M152.5 59h1M137.5 56h1M147.5 45h1M147.5 38h1M142 58h1M143.5 54h1M152 48h1M146 47h1M151 52.5h1M162 26h1M146.5 69h1M150 14.5h1M147.5 57h1M154 42h1M150.5 51h1M143 29.5h1M152.5 56.5h1M161 15.5h1M131 30h1M167.5 19.5h1M149.5 37h1M143 49h1M139.5 59h1M142.5 40h1M148 60.5h1M140.5 59.5h1M139 50h1M143 63.5h1M158 30.5h1M137.5 63.5h1M190 3.5h1M158.5 48h1M125 75h1M158.5 27h1M166 16.5h1M164 21h1M149 50h1M122 75h1M144 50h1M127.5 59h1M140.5 49.5h1M144.5 50.5h1M120 68h1M148.5 11h1M146.5 47.5h1M156 30.5h1M145.5 54h1M191.5 3.5h1M118.5 65h1M130 58h1M134.5 50h1M128 58h1M151.5 45h1M137 55.5h1M140.5 66h1M134 58.5h1M151.5 51.5h1M133 49h1M152 20.5h1M158 13h1M161 35.5h1M142.5 43h1M147.5 55.5h1M146.5 73.5h1M127.5 72.5h1M150.5 41.5h1M144 66.5h1M164.5 26h1M150 54.5h1M145 41h1M155 52h1M171 3.5h1M152 40.5h1M145 54.5h1M148 47.5h1M144.5 55.5h1M127.5 54.5h1M145 62.5h1M149.5 43.5h1M129.5 25.5h1M160 30h1M121 65h1M150 55h1M142.5 59h1M144.5 45h1M120 76h1M148 45.5h1M135.5 60h1M147.5 24.5h1M156.5 41h1M154 14.5h1M143 39.5h1M156.5 63h1M129.5 42.5h1M151 38.5h1M154 24h1M122.5 27.5h1M147 40h1M149 43.5h1M120.5 58h1M147.5 45h1M142.5 61.5h1M149.5 16.5h1"/>
<path d="M150 51h1M148.5 42h1M143 43.5h1M147 39h1M140 66.5h1M120 61.5h1M158 20h1M149.5 35h1M129 63.5h1M144.5 60h1M150 35.5h1M146.5 41h1M154 43h1M141 44h1M119 74.5h1M146 44.5h1M152.5 56.5h1M142 60.5h1M146.5 62h1M128.5 62h1M150 58.5h1M128 55.5h1M145.5 34h1M121 68h1M128 38.5h1M150 30h1M136 46h1M139.5 57.5h1M147.5 25.5h1M132 50.5h1M142.5 39.5h1M118.5 74.5h1M164.5 30h1M147 60.5h1M154 13.5h1M158.5 20.5h1M120.5 75.5h1M163.5 21h1M119.5 72.5h1M163 15.5h1M121.5 67h1M153.5 39.5h1M151.5 53h1M120 76h1M149 57.5h1M164.5 15h1M127 35.5h1M128 66h1M159 17h1M140.5 53h1M152.5 38h1M156.5 12.5h1M142.5 75h1M152.5 49.5h1M152.5 13h1M134.5 59.5h1M163 25h1M143.5 45h1M151.5 47.5h1M145.5 56h1M137.5 67h1M129 71.5h1M134.5 49h1M121.5 72h1M127.5 65.5h1M138 41.5h1M143 20.5h1M145 48.5h1M170 36.5h1M159 41.5h1M137 44.5h1M163 9h1M131 55.5h1M148 58.5h1M146 53h1M184 2.5h1M160 29.5h1M146.5 37h1M137.5 43h1M153 53h1M123.5 73h1M130 61h1M148 52.5h1M142 53.5h1M142.5 51h1M148 49.5h1M149.5 55.5h1M151.5 46.5h1M156 11.5h1M162 23h1M155.5 24h1M169 10h1M140.5 55h1M147 52.5h1M153.5 52h1M164 24h1M148 42.5h1M156.5 40.5h1M143 49.5h1M150.5 43.5h1M152.5 21h1M156.5 21.5h1M157.5 58h1M145 53.5h1M156 43h1M127 63h1M149.5 28h1M157.5 54.5h1M144.5 44.5h1M120.5 66.5h1M159.5 32h1M121.5 60h1M148.5 39h1M148.5 46h1M143 33h1M131 49.5h1M158 19h1M146 47h1M147.5 32h1M158.5 27.5h1M146.5 62h1M144.5 69.5h1M148 25h1M128.5 61h1M151.5 53.5h1M130 22h1M151.5 41.5h1M150.5 55.5h1M121 70h1M142.5 50h1M146.5 57h1M174.5 23.5h1M147.5 39.5h1M159 17h1M178.5 3h1M134.5 35h1M151 47h1M144.5 34.5h1M146.5 52h1M154.5 15h1M128.5 49h1M134.5 60.5h1M153.5 14h1M126.5 43h1M151.5 26h1M147 40h1M180 3.5h1M145.5 49h1M147.5 42h1M164 23h1M149 27.5h1M140 54h1M132 56.5h1M143.5 44h1M131.5 57.5h1M143.5 50.5h1M143 50.5h1M152.5 46.5h1M129.5 32h1M146 37.5h1M147.5 46h1M143.5 49h1M147.5 50h1M152 34.5h1M144.5 56h1M157.5 15.5h1M155.5 17h1M149.5 70.5h1M129 65.5h1M157.5 50h1M145.5 53.5h1M153.5 62.5h1M121.5 58h1M120 71.5h1M144.5 58h1M136 49.5h1M122 75.5h1M154 27.5h1M135 38h1M155.5 40.5h1M153 63.5h1M132 70.5h1M151.5 36.5h1M135.5 61.5h1M123.5 66h1M149.5 47.5h1M155 52h1M148 41h1M153 27h1M135.5 52h1M146.5 65.5h1M142.5 44.5h1M163 15.5h1M162 3.5h1M121.5 69.5h1M154.5 9.5h1M153.5 65.5h1M140.5 50h1M132.5 34h1M146 43h1M147.5 2h1M145.5 64h1M148 48.5h1M148.5 56h1M145.5 57h1M141.5 46.5h1M154 3.5h1M163 15h1M146.5 36.5h1M148 71.5h1M145 51.5h1M143.5 33.5h1M120.5 70.5h1M130 57.5h1M147.5 58.5h1M141 53h1M150 51.5h1M127.5 58h1M141 66.5h1M145.5 66h1M138 53h1M151 47h1M154.5 53h1M127.5 67h1M135.5 64h1M129.5 53.5h1M154.5 36h1M148.5 51.5h1M163.5 3h1M139.5 64h1M127.5 55.5h1M137.5 51h1M149.5 38h1M148 54h1M119.5 75.5h1M159.5 26.5h1M159.5 14.5h1M152 46h1M182 9.5h1M149 51h1M149 64.5h1M128 56.5h1M139.5 49h1M139.5 65.5h1M155.5 32h1M147.5 36.5h1M156 33h1M144.5 35.5h1M143 50h1M133 59h1M150.5 48h1M140 28h1M190.5 3.5h1M131 38.5h1M187 3h1M160.5 28h1M144.5 37h1M145.5 49h1M166 3.5h1M128.5 55h1M150.5 47.5h1M166 14h1M122 66h1M152.5 50.5h1M136.5 43h1M177 3h1M150 43h1M146.5 56.5h1M159.5 18h1M152.5 48h1M150.5 30.5h1M148.5 43.5h1M152.5 55.5h1M137.5 54h1M142.5 57h1M151.5 41.5h1M126.5 48h1M148.5 48.5h1M155 34.5h1M149.5 45h1M121 75.5h1M167 19.5h1M162 9h1M162.5 2.5h1M119.5 74.5h1M163.5 19h1M145.5 42h1M167 32h1M139.5 53.5h1M139.5 54h1M120.5 75h1M170 18h1M138.5 40h1M130.5 30.5h1M169 20.5h1M161.5 39.5h1M157 38.5h1M163 17.5h1M152 51.5h1M141 51h1M150 48.5h1M144 29h1M120.5 67.5h1M163 20h1M150.5 59.5h1M161.5 29.5h1M152 39h1M142.5 44h1M122 64.5h1M166 3.5h1M150 64.5h1M157.5 37.5h1M157 47.5h1M121 62h1M150 55h1M152 60h1M146 41.5h1M152.5 27h1M140 43h1M121.5 65.5h1M158 28.5h1M141.5 38h1M151.5 46.5h1M140 46.5h1M159 7h1M149.5 33h1M148 49.5h1M130 64.5h1M145.5 48.5h1M143 51.5h1M122 75.5h1M147 51h1M145 54h1M130 47h1M157.5 19.5h1M126.5 56.5h1M145 58h1M135 50.5h1M144.5 26.5h1M127 62.5h1M128.5 59.5h1M158.5 32h1M167.5 6.5h1M144 51.5h1M175.5 3.5h1M131 46.5h1M147 37h1M157 35h1M149 45h1M148 31h1M148 40.5h1M143.5 40h1M155.5 33.5h1M149.5 46h1M159.5 49h1M144.5 34h1M156.5 45.5h1M121 68h1M139.5 51h1M143 43.5h1M158.5 3h1M158 7h1M152 51h1M138.5 49.5h1M143 61h1M140 51h1M159 19.5h1M162 33.5h1M154 29h1M146.5 52h1M144.5 56h1M153 47h1M138 52h1M160.5 22.5h1M136.5 46.5h1M122.5 64.5h1M151 3h1M153 44.5h1M149.5 40h1M126.5 58.5h1M120.5 64.5h1M147.5 48h1M145.5 51h1M128 70h1M160 34.5h1M143 49.5h1M141.5 45.5h1M147.5 54h1M143 9.5h1M151 45h1M169 9.5h1M138.5 44.5h1M147.5 60.5h1M149.5 49h1M149.5 41h1M143.5 27h1M160.5 27.5h1M151 52.5h1M140 50.5h1M150.5 60.5h1M161 46.5h1M139 53.5h1M132 47.5h1M137.5 41.5h1M160.5 13h1M145 71.5h1M128.5 59h1M144 57.5h1M149.5 44.5h1M154.5 11.5h1M157.5 54.5h1M122.5 59.5h1M133 48h1M128.5 60.5h1M153 47h1M148.5 51h1M139.5 60h1M147 42.5h1M153.5 30h1M163.5 13h1M145 50h1M142.5 33.5h1M150 47h1M121 67.5h1M144.5 45.5h1M147 61h1M149 26h1M153 51.5h1M141.5 50.5h1M152.5 14h1M151 43.5h1M128.5 45h1M138 55.5h1M154 56.5h1M129 68.5h1M148.5 38.5h1M153 50h1M152.5 51.5h1M124.5 75h1M163 9.5h1M137.5 29.5h1M142.5 42.5h1M131 46.5h1M148 51.5h1M147 48.5h1M148 45.5h1M157.5 46.5h1M142.5 46h1M158 50h1M146.5 47h1M122 69.5h1M145 33h1M143.5 47.5h1M156 53h1M163 38.5h1M156.5 47h1M154 41.5h1M133.5 50h1M146 56h1M147.5 53h1M141.5 54h1M138 46h1M149.5 49h1M129.5 39h1M148.5 33h1M150 43h1M154.5 62h1M132 34.5h1M145.5 42h1M141 48h1M154 43.5h1M153.5 38.5h1M165.5 24.5h1M143 37h1M147 72.5h1M161.5 21h1M155.5 16h1M133.5 56.5h1M150.5 53h1M150 46h1M138.5 33.5h1M152.5 43h1M151 26.5h1M135.5 42.5h1M128 65h1M136 52h1M140 56h1M145 47.5h1M150.5 48.5h1M151.5 51.5h1M130.5 62.5h1M119.5 75.5h1M145.5 49.5h1M155.5 43.5h1M158 34h1M143 52.5h1M155.5 27.5h1M121.5 74h1M144 54h1M154.5 45h1M147 34.5h1M139.5 26.5h1M152.5 56.5h1M145.5 46.5h1M149.5 58h1M143.5 23h1M133.5 52h1M150 30.5h1M157 51h1M142.5 58.5h1M157 25h1M135 48.5h1M133.5 59.5h1M151 56h1M158.5 37h1M138 53h1M150.5 53h1M118.5 53.5h1M168 2.5h1M133 27h1M153.5 42h1M145 59h1M121 65.5h1M136 54h1M139 47h1M159.5 54.5h1M154 37.5h1M145.5 29.5h1M148 71h1M142 63.5h1M151.5 63h1M141 49h1M146 44h1M145.5 40.5h1M144.5 62.5h1M155.5 23h1M152.5 49.5h1M142.5 53h1M146.5 57.5h1M132 37.5h1M148.5 50h1M153 40h1M171 20h1M136.5 65.5h1M142.5 50h1M153 44.5h1M155 48.5h1M131.5 33.5h1M145.5 36h1"/>
<path d="M149 51h1M153 36.5h1M148 44h1M137.5 50h1M139.5 57h1M142 61.5h1M165 26h1M142 47.5h1M144.5 45.5h1M151.5 64h1M148.5 38.5h1M162 24h1M161.5 13.5h1M154.5 43.5h1M135 27.5h1M144 68.5h1M122.5 71.5h1M120 68.5h1M122.5 67.5h1M134.5 49.5h1M147 48.5h1M138 63h1M150 51h1M168 11h1M126.5 63.5h1M124 32h1M130 60h1M149.5 50.5h1M158.5 17h1M150.5 42h1M130.5 41.5h1M135 31h1M161 53.5h1M158 63h1M133 57h1M150 36.5h1M119 63h1M147.5 65h1M159 33.5h1M135.5 39.5h1M128 50.5h1M147 53.5h1M131 56h1M154.5 30.5h1M157.5 3.5h1M151.5 34h1M156 12.5h1M151 54.5h1M128.5 62.5h1M155 43.5h1M143.5 42h1M174.5 26h1M137.5 60.5h1M143 65.5h1M153 55.5h1M133.5 61h1M150 19.5h1M158 32h1M151 41h1M137.5 73h1M150.5 37.5h1M152.5 38h1M154.5 2.5h1M130 60h1M150.5 47.5h1M127 56h1M120 75.5h1M151 43.5h1M164.5 3h1M154.5 48h1M158.5 45.5h1M159 20h1M143.5 54.5h1M129.5 52.5h1M152 66.5h1M151 28.5h1M129.5 56h1M120.5 73.5h1M136 41.5h1M129 49.5h1M139.5 55.5h1M148 14h1M147.5 51.5h1M160.5 55.5h1M144 75.5h1M137 53.5h1M139.5 47h1M151.5 66h1M141 65.5h1M158 2h1M141 59h1M153.5 60h1M139 46.5h1M147 45.5h1M154 49.5h1M143 49.5h1M161.5 28h1M140 35.5h1M147.5 42.5h1M138.5 37h1M133 51.5h1M133 45.5h1M128.5 70h1M162 19h1M154 57.5h1M148 41h1M129.5 40h1M146.5 57h1M128.5 57.5h1M143 38.5h1M144 49.5h1M142.5 51h1M163 34.5h1M153 54h1M152 43.5h1M145.5 62h1M152.5 48h1M128.5 52.5h1M134 64h1M143.5 56.5h1M147 47.5h1M156 43.5h1M148.5 51.5h1M150.5 50h1M155 32.5h1M149 55.5h1M127 62.5h1M156 12.5h1M148 43.5h1M143 49.5h1M153 48.5h1M157.5 40h1M147 52h1M159.5 18h1M144.5 57.5h1M170.5 24.5h1M153 21h1M152.5 16h1M135 36h1M151 49.5h1M172 3h1M157.5 20h1M170.5 7.5h1M152.5 63.5h1M141 39h1M144 52.5h1M166.5 3.5h1M146.5 56.5h1M151 44h1M150.5 25h1M142 59h1M137.5 41h1M127 54.5h1M168 3h1M128.5 47.5h1M152.5 53.5h1M191.5 3.5h1M149 40h1M153 56.5h1M151 48h1M152.5 54h1M158 43h1M169.5 22.5h1M146 43h1M121 74h1M138 46.5h1M137.5 49.5h1M155 15.5h1M156 37.5h1M152.5 53.5h1M158.5 41.5h1M138 62h1M146.5 14.5h1M161 35.5h1M160.5 35h1M130.5 61.5h1M131 37.5h1M143 55h1M153 46h1M146.5 63h1M119.5 75h1M138.5 38.5h1M139 60h1M148 44h1M150.5 65h1M177 3h1M164 19h1M144.5 62h1M147.5 47.5h1M138 30h1M125.5 60h1M152 11.5h1M121 75.5h1M152.5 33.5h1M140.5 63h1M144.5 55.5h1M134 59.5h1M156.5 32.5h1M150.5 29h1M158 31h1M150.5 52h1M130 72h1M161.5 3.5h1M166 23.5h1M167 16h1M161 13.5h1M120.5 72h1M122 65.5h1M146 46h1M152 48h1M149 28.5h1M151 35.5h1M146.5 48h1M142.5 46.5h1M122 72h1M161 21h1M147 53h1M155.5 44.5h1M160 35h1M149.5 36.5h1M150 42h1M151.5 45.5h1M162 12h1M150.5 48.5h1M173.5 28.5h1M135.5 55h1M150 15.5h1M122 70h1M162.5 28h1M156 30h1M159.5 26h1M173 3.5h1M148.5 56.5h1M143.5 51.5h1M150.5 50.5h1M144.5 54h1M152 48.5h1M145.5 59h1M153.5 45.5h1M154 55h1M159.5 3h1M144 46h1M174.5 34h1M142.5 42.5h1M148 60h1M121.5 63.5h1M148 39.5h1M155 40.5h1M132 34.5h1M143.5 55.5h1M151.5 45.5h1M146 61h1M169.5 47.5h1M152.5 29h1M150 26.5h1M156 33.5h1M152 51h1M148 25.5h1M150.5 58h1M143.5 48h1M146.5 51.5h1M180.5 2.5h1M147 55.5h1M155 58h1M162.5 24h1M140.5 56.5h1M190 3.5h1M128.5 47.5h1M164 49h1M154 48.5h1M144 53h1M121.5 63.5h1M146.5 53h1M130.5 58.5h1M137.5 25h1M165.5 26.5h1M161 9h1M145.5 44.5h1M120.5 75h1M145 52h1M129.5 63h1M123.5 21h1M153 16h1M120 68.5h1M126.5 50h1M151.5 52.5h1M148.5 57.5h1M146 52h1M160.5 30h1M154.5 32h1M134 34h1M146 47.5h1M149.5 47.5h1M149.5 18h1M159.5 4.5h1M131.5 37h1M145 58.5h1M129.5 46h1M131 55.5h1M148.5 58.5h1M147 58.5h1M139 49h1M136 51.5h1M147 45.5h1M142 51h1M153.5 53h1M145 53.5h1M145.5 38.5h1M156.5 39.5h1M176.5 15h1M122.5 71h1M154.5 57h1M145.5 46.5h1M118 61h1M129 68h1M129 58.5h1M148 47h1M155.5 28.5h1M148.5 59.5h1M135 31h1M150.5 40h1M155 48h1M161 16h1M168 25.5h1M128.5 72.5h1M123 59.5h1M155.5 26.5h1M146 46h1M127.5 67.5h1M143.5 66.5h1M159.5 3.5h1M139 37h1M144.5 58.5h1M166.5 27.5h1M130 69h1M175 3.5h1M132 46h1M126.5 43h1M139.5 45.5h1M129.5 66.5h1M154 47.5h1M124 74h1M122.5 72.5h1M129 67.5h1M166 34.5h1M159 37.5h1M149 47h1M128.5 31.5h1M156.5 44.5h1M153.5 45.5h1M121 60h1M146.5 50.5h1M153.5 29.5h1M162 15h1M128.5 61h1M143.5 13h1M122 40.5h1M121 64.5h1M151 33.5h1M127.5 61h1M167 30.5h1M173 3.5h1M134.5 67.5h1M149.5 34.5h1M144 33h1M150 55.5h1M121.5 65.5h1M148 33h1M120.5 68h1M124 74h1M153 3h1M139.5 54.5h1M157 9.5h1M148.5 38.5h1M144 62.5h1M150.5 56h1M140 65.5h1M148 51.5h1M144.5 52h1M148.5 52h1M153 13.5h1M153 12h1M130.5 60.5h1M147.5 52h1M145.5 48h1M131 38.5h1M170.5 2.5h1M175.5 3.5h1M153.5 57h1M144.5 45.5h1M141 39h1M130.5 52h1M142 40.5h1M161 3.5h1M152.5 10.5h1M169 9h1M148.5 39h1M149.5 48h1M130 50h1M134.5 64h1M151 48.5h1M134 42h1M148.5 28h1M137.5 61h1M146.5 48.5h1M155.5 58.5h1M156.5 26.5h1M136.5 56.5h1M145.5 37.5h1M138.5 64h1M156.5 49h1M145.5 49.5h1M155.5 47.5h1M160.5 20h1M145.5 54h1M128 51.5h1M118.5 76h1M130 45.5h1M141 52.5h1M139 41.5h1M145 57h1M153 21h1M120 74.5h1M147 42.5h1M159 37h1M149.5 67.5h1M145 70.5h1M143.5 42h1M141.5 58.5h1M142 57h1M143.5 54h1M156 40h1M148 45h1M135.5 55h1M133 37.5h1M143 56h1M143.5 34.5h1M120.5 75h1M138 50.5h1M144.5 54.5h1M150 53h1M152.5 3h1M126 55.5h1M131.5 43h1M145 24.5h1M153 52.5h1M146.5 70h1M177 3.5h1M150 54h1M166 29h1M152 33.5h1M163.5 17h1M134.5 45h1M148.5 59.5h1M156.5 35h1M148 48.5h1M141 50h1M154 23.5h1M134 67.5h1M144 56.5h1M142.5 52.5h1M141.5 52.5h1M147.5 47.5h1M144.5 42.5h1M158 66.5h1M149.5 41.5h1M159 31h1M147 37h1M146.5 42h1M144 55.5h1M120.5 66.5h1M131.5 44.5h1M146.5 47h1M121.5 63.5h1M140.5 54.5h1M142.5 44.5h1M155 17h1M131 56h1M144.5 55h1M143.5 51h1M128 48h1M147 39h1M147 66h1M140 62.5h1M155.5 11.5h1M151.5 50.5h1M137.5 41.5h1M147.5 29h1M137.5 57.5h1M153.5 11.5h1M149 40h1M142 67h1M141 54.5h1M158.5 5h1M142 60.5h1M139 64h1M120.5 56h1M151.5 33.5h1M130 62h1M132.5 57h1M142 54h1M142 62.5h1M122.5 62.5h1M159.5 59h1M131.5 55.5h1M154 44.5h1M147.5 42.5h1M160.5 24h1M133 38h1M128.5 72h1M154.5 39.5h1M144.5 52h1M129.5 48.5h1M129 68h1M142 44.5h1M147.5 35.5h1M159.5 40h1M148 54.5h1M173.5 29h1M144 36h1M152.5 63.5h1M157 47h1M157 13h1M157.5 41.5h1M169.5 29h1M165 17.5h1M153 44.5h1M149 49.5h1M154 44h1M163 36h1M145 38.5h1M144 50h1M146 59h1M142.5 46.5h1M143.5 64h1M143.5 42.5h1M156 28h1M129 75h1M122 70.5h1M164 43h1M128.5 64.5h1M150.5 58.5h1M161 39h1M149 19.5h1M149.5 44.5h1M145.5 56h1M164.5 28.5h1M129 61.5h1M168.5 26.5h1"/>
</g>
<rect x="117.6" y="1.3" width="76.4" height="76" fill="none" stroke="#444" stroke-width="1"/>
<line x1="150" y1="1.6" x2="194" y2="1.6" stroke="#111" stroke-width="1.4"/>
<path d="M156 2L172 3L175.6 22L163.8 50L161.2 56.2L148.8 70L139.4 72.9L137.8 68.8L137.5 50L143.8 18.8Z" fill="none" stroke="#111" stroke-width="0.8"/>
<text x="112" y="5.3" font-size="4.2" text-anchor="end" fill="#222">1K</text>
<text x="112" y="19.5" font-size="4.2" text-anchor="end" fill="#222">800</text>
<text x="112" y="34.5" font-size="4.2" text-anchor="end" fill="#222">600</text>
<text x="112" y="49" font-size="4.2" text-anchor="end" fill="#222">400</text>
<text x="112" y="63.5" font-size="4.2" text-anchor="end" fill="#222">200</text>
<text x="112" y="78.5" font-size="4.2" text-anchor="end" fill="#222">0</text>
<line x1="116.1" y1="3.8" x2="117.6" y2="3.8" stroke="#444" stroke-width="0.7"/>
<line x1="116.1" y1="18" x2="117.6" y2="18" stroke="#444" stroke-width="0.7"/>
<line x1="116.1" y1="33" x2="117.6" y2="33" stroke="#444" stroke-width="0.7"/>
<line x1="116.1" y1="47.5" x2="117.6" y2="47.5" stroke="#444" stroke-width="0.7"/>
<line x1="116.1" y1="62" x2="117.6" y2="62" stroke="#444" stroke-width="0.7"/>
<line x1="116.1" y1="77" x2="117.6" y2="77" stroke="#444" stroke-width="0.7"/>
<text x="118" y="85" font-size="4.2" text-anchor="middle" fill="#222">0</text>
<text x="132" y="85" font-size="4.2" text-anchor="middle" fill="#222">200</text>
<text x="147" y="85" font-size="4.2" text-anchor="middle" fill="#222">400</text>
<text x="161.2" y="85" font-size="4.2" text-anchor="middle" fill="#222">600</text>
<text x="176" y="85" font-size="4.2" text-anchor="middle" fill="#222">800</text>
<text x="190.5" y="85" font-size="4.2" text-anchor="middle" fill="#222">1K</text>
<line x1="118" y1="77.3" x2="118" y2="78.8" stroke="#444" stroke-width="0.7"/>
<line x1="132" y1="77.3" x2="132" y2="78.8" stroke="#444" stroke-width="0.7"/>
<line x1="147" y1="77.3" x2="147" y2="78.8" stroke="#444" stroke-width="0.7"/>
<line x1="161.2" y1="77.3" x2="161.2" y2="78.8" stroke="#444" stroke-width="0.7"/>
<line x1="176" y1="77.3" x2="176" y2="78.8" stroke="#444" stroke-width="0.7"/>
<line x1="190.5" y1="77.3" x2="190.5" y2="78.8" stroke="#444" stroke-width="0.7"/>
<text x="143.5" y="94" font-size="5.5" font-weight="bold" text-anchor="middle" textLength="12.5" lengthAdjust="spacingAndGlyphs">FSC-H</text>
<text transform="translate(105.5 55) rotate(-90)" font-size="4" textLength="32" lengthAdjust="spacingAndGlyphs" fill="#333">SSC-H: SSC-Height</text>
<text x="123.5" y="9.5" font-size="3.8" fill="#222">live lymph</text>
<text x="123.5" y="14.5" font-size="3.8" fill="#222">89.34%</text>
<g stroke="#000" stroke-width="1" stroke-opacity="0.42" filter="url(#bl)">
<path d="M249 20h1M276.5 45.5h1M275.5 60.5h1M243 12h1M284 72.5h1M285 53.5h1M269.5 56.5h1M279.5 60h1M281.5 46.5h1M283.5 22.5h1M275 63.5h1M240 13.5h1M281 52h1M277.5 51h1M237 21.5h1M276 42h1M258.5 17h1M245 19h1M279.5 44.5h1M277.5 61.5h1M270.5 55.5h1M280.5 66h1M274.5 46.5h1M235.5 38.5h1M271.5 42.5h1M281.5 65.5h1M275.5 58h1M267.5 16.5h1M280 60.5h1M286.5 23h1M279.5 75.5h1M276 63h1M277.5 50.5h1M249 15h1M258.5 20.5h1M243.5 14h1M245.5 18.5h1M280.5 30.5h1M275.5 74h1M243 23.5h1M281 61h1M279.5 27h1M267 50.5h1M242.5 19.5h1M281 71h1M281 63.5h1M272.5 48.5h1M278.5 24.5h1M258.5 36.5h1M228 17h1M280.5 40.5h1M246.5 18h1M275 49.5h1M255.5 30.5h1M275 48h1M278.5 48h1M283 33.5h1M285 63h1M259.5 23h1M278 50.5h1M285 56h1M278.5 41h1M271 66.5h1M276 55h1M262 26.5h1M277 68h1M271 69.5h1M251.5 18h1M257.5 12.5h1M288.5 25.5h1M259 13.5h1M247.5 49h1M280.5 58h1M281 65.5h1M247.5 12h1M280.5 49.5h1M240.5 21.5h1M273.5 68.5h1M275 48h1M281 61.5h1M278.5 24.5h1M285.5 68.5h1M237 17h1M285 75.5h1M277.5 58.5h1M278.5 38.5h1M275 46.5h1M274.5 57.5h1M278.5 58.5h1M281.5 42h1M277 32.5h1M277 35.5h1M272.5 54h1M248 16h1M277.5 48h1M281.5 40.5h1M278 39.5h1M258 57h1M275 59h1M252 17.5h1M272 67h1M268.5 71.5h1M251.5 21h1M274 58.5h1M252 8h1M271.5 34.5h1M279.5 51h1M263 14.5h1M276 45.5h1M256.5 28.5h1M281 66h1M274 35.5h1M253 21h1M256 19.5h1M279 53.5h1M261 23h1M256 12h1M277 52h1M276.5 67.5h1M241.5 14h1M278.5 40h1M275.5 69.5h1M247 18.5h1M277.5 48h1M252 53.5h1M276.5 49h1M246.5 27h1M278 51.5h1M275.5 65h1M281 70h1M280 45h1M283 55h1M281 54h1M276.5 58h1M262 63.5h1M263.5 8.5h1M279.5 57.5h1M275 22.5h1M278 70h1M245.5 32h1M276 54.5h1M274.5 62h1M284 56h1M276 58h1M277 61.5h1M276.5 41h1M247 17h1M276 65h1M281 39.5h1M277.5 72h1M238.5 25.5h1M277 48h1M279 42.5h1M243.5 50.5h1M279 40h1M283.5 56h1M274 49.5h1M257.5 15h1M266.5 16h1M283.5 23.5h1M278.5 36h1M278 69h1M284 28h1M282.5 64.5h1M279 63h1M277 40.5h1M282.5 48.5h1M278 75h1M273 61h1M282 52.5h1M255 3.5h1M223.5 20h1M282 59.5h1M248 19h1M274.5 64h1M236 67h1M277.5 42.5h1M273 42h1M237.5 18h1M281.5 23h1M278.5 51h1M248 13.5h1M286 50.5h1M288.5 66.5h1M241.5 18h1M277 57.5h1M284 28.5h1M279 34.5h1M248.5 17h1M273 47h1M283.5 50h1M278.5 48.5h1M233.5 14.5h1M264.5 17.5h1M276 44.5h1M288 24.5h1M281.5 72h1M240 31.5h1M256 16h1M271 57h1M277.5 60.5h1M273.5 60h1M254.5 18.5h1M277.5 59.5h1M278 44h1M251 18h1M280.5 73.5h1M277.5 47.5h1M280 50h1M259 28.5h1M246 22h1M278 48.5h1M273 61h1M270.5 59.5h1M279.5 59.5h1M277.5 44.5h1M225.5 56h1M283 41h1M278 75.5h1M237 21.5h1M280 45h1M243 14h1M250.5 19.5h1M280.5 62h1M277 58h1M277.5 56.5h1M277.5 69.5h1M274 49h1M244.5 19.5h1M243.5 19h1M277 56.5h1M248.5 20.5h1M231 26h1M281 58h1M278 59.5h1M279.5 64.5h1M251.5 24h1M288 50.5h1M279 70h1M241 36.5h1M254.5 74.5h1M240.5 14.5h1M281 60.5h1M278 60h1M246 13h1M248 41.5h1M254.5 7.5h1M284.5 63.5h1M273.5 61.5h1M257 18.5h1M271.5 47h1M263 22h1M281.5 63.5h1M254 18h1M240.5 44.5h1M250 15.5h1M271.5 51.5h1M284.5 54h1M276 49.5h1M276.5 47h1M282.5 61h1M250 20h1M274 63h1M257.5 20h1M279 43h1M275.5 45h1M279.5 52.5h1M242.5 20h1M282 50h1M278.5 68h1M221.5 33.5h1M269.5 65h1M244.5 37.5h1M255 21.5h1M255.5 12.5h1M243.5 22h1M247.5 23.5h1M284.5 55.5h1M223 21.5h1M279 60.5h1M245 19.5h1M274 49h1M275.5 60.5h1M272 60.5h1M284.5 58h1M280 66h1M282 39.5h1M263 23h1M279.5 47h1M272.5 51.5h1M263.5 22.5h1M280.5 52h1M274.5 63h1M275 57.5h1M277 63h1M261 8h1M281.5 61.5h1M237 17.5h1M244.5 26h1M268 33.5h1M250.5 15.5h1M274 69h1M248 12h1M279 51.5h1M277.5 53h1M283 47h1M280.5 54h1M232.5 69.5h1M261 10.5h1M251 20h1M252 15h1M279 59h1M254.5 20h1M280.5 74h1M249.5 19.5h1M277.5 56h1M276 73h1M279.5 49h1M277 57h1M255 16h1M281.5 53h1M254.5 13.5h1M246 17.5h1M277.5 52.5h1M274 42h1M266.5 39.5h1M283.5 50h1M256.5 14h1M281.5 43h1M277.5 71.5h1M275 29h1M282.5 57.5h1M233 28.5h1M281 58.5h1M246 17h1M276.5 53.5h1M277.5 45.5h1M243 25h1M237 13.5h1M284 48h1M278 38.5h1M282 65h1M247 22.5h1M276.5 47.5h1M271.5 48.5h1M272.5 56.5h1M281.5 40.5h1M287.5 6h1M283.5 32h1M277.5 64.5h1M280.5 47h1M280.5 43h1M249 19h1M278 59.5h1M249.5 26h1M273.5 49h1M225 24.5h1M280 44.5h1M277 46.5h1M282 48h1M256.5 18.5h1M279 62.5h1M278 57h1M259.5 34.5h1M282 65.5h1M238.5 25.5h1M280.5 54h1M285 65.5h1M275 65.5h1M277.5 31h1M263 30.5h1M269.5 68.5h1M277.5 57.5h1M252 15h1M256.5 16h1M284 57h1M270 62h1M253.5 24h1M280.5 54.5h1M284 63.5h1M237 24.5h1M243.5 23.5h1M268 51h1M278 71.5h1M250 23h1M274.5 50.5h1M284 17.5h1M253.5 20.5h1M264 28h1M286.5 61h1M263.5 19.5h1M280 57.5h1M279 20h1M273 67h1M241.5 14.5h1M289 49h1M272.5 57.5h1M222.5 24.5h1M279 72.5h1M253 18h1M280 60h1M274 43h1M279.5 61.5h1M258 17h1M281 41h1M275.5 59h1M280.5 54.5h1M252 14h1M271 35.5h1M245 45.5h1M263 16h1M280.5 54.5h1M268 31h1M278 72.5h1M278.5 47h1M275.5 46h1M275 60h1M242 17h1M239 26.5h1M279.5 59.5h1M275 58h1M279 48h1M239.5 34.5h1M261.5 16h1M244 15.5h1M251.5 11h1M278 46h1M280.5 29.5h1"/>
<path d="M281 55h1M252 18.5h1M281.5 38h1M244.5 18h1M247.5 15h1M275 64.5h1M280.5 65h1M286 69.5h1M275.5 60.5h1M257 26h1M251.5 19.5h1M257.5 15.5h1M235.5 20.5h1M237.5 21.5h1M245.5 17h1M250 11.5h1M249 17.5h1M238 12.5h1M277 60.5h1M280 54.5h1M284 48.5h1M285 67.5h1M279 51.5h1M280 58h1M281 43.5h1M251 49h1M251 19h1M279.5 54h1M256.5 18h1M273 75h1M247.5 19h1M251 21h1M279.5 41h1M278 60h1M278.5 41h1M277.5 68h1M245 25.5h1M281 50h1M268.5 46h1M285.5 69.5h1M278.5 54.5h1M281.5 48.5h1M286 67h1M279.5 59h1M242.5 19.5h1M277 62.5h1M275 41.5h1M225 17h1M281 76h1M281.5 49h1M270.5 47h1M249.5 21.5h1M279.5 44.5h1M283.5 50h1M276.5 56.5h1M273.5 54h1M228.5 29h1M273 39h1M255 17h1M276.5 48h1M283 56h1M284.5 51h1M274 62h1M253 41h1M268 39.5h1M262.5 12.5h1M236.5 36.5h1M265.5 20h1M248 17h1M274 68.5h1M282 38h1M230.5 30h1M280 49h1M280 19.5h1M283.5 53h1M282.5 31.5h1M278 62h1M240.5 54h1M279.5 31h1M272.5 29.5h1M221 18.5h1M238.5 10.5h1M279 52.5h1M278 52h1M281.5 27.5h1M278 71h1M231.5 24h1M230.5 21h1M280.5 44h1M282 56h1M249 19h1M278 49h1M283 68.5h1M255 17h1M277.5 42h1M241.5 27.5h1M282.5 65h1M276.5 68.5h1M225 24h1M276 50.5h1M275.5 67h1M276.5 55.5h1M277.5 47h1M252 28h1M280.5 49h1M282 30h1M261.5 28h1M272.5 45h1M251 12h1M249 14.5h1M278.5 66h1M243.5 34.5h1M260 12h1M243.5 44h1M277 66h1M241.5 23.5h1M260.5 15.5h1M280 63h1M278 70.5h1M276.5 48.5h1M284.5 41.5h1M278 63.5h1M281 33.5h1M276 40h1M245 23.5h1M232.5 19.5h1M245.5 16h1M275.5 63h1M277 28.5h1M279.5 62.5h1M276 54h1M248 16h1M246.5 65.5h1M280 76h1M277 58.5h1M278.5 60.5h1M280.5 35h1M243.5 19.5h1M249.5 20.5h1M275.5 65h1M235 22.5h1M278.5 59.5h1M275.5 69h1M278.5 40.5h1M280 60.5h1M243 19h1M255 14h1M286 53.5h1M236.5 15.5h1M277 53.5h1M279.5 46.5h1M254.5 12h1M279 28h1M268.5 52.5h1M279.5 45h1M277.5 72.5h1M244.5 54.5h1M284 54.5h1M280.5 30h1M275.5 55.5h1M286 64h1M231 21.5h1M236.5 13h1M278.5 52.5h1M278.5 64h1M281.5 62.5h1M279.5 29h1M280 39.5h1M274.5 69h1M276.5 50h1M281.5 67h1M273 67.5h1M230 21h1M277.5 47h1M236 16.5h1M281.5 46h1M282.5 71.5h1M235.5 24.5h1M284 49.5h1M277 61h1M256.5 20h1M281 57h1M274 55h1M230.5 21.5h1M277 43h1M281 58.5h1M279.5 60h1M256 13h1M277 55.5h1M282 73h1M237 21.5h1M281 55.5h1M274 50.5h1M259.5 12.5h1M248.5 19.5h1M279 48h1M276.5 46.5h1M253 11h1M255.5 22.5h1M273 59h1M280 52h1M283.5 59.5h1M286 64h1M250 44h1M279.5 55.5h1M245.5 17h1M275.5 46h1M278.5 62h1M273.5 40.5h1M269 70h1M257 19h1M259 16.5h1M283 48h1M281.5 49h1M261.5 24.5h1M273.5 54.5h1M251.5 16.5h1M278.5 47.5h1M282.5 54.5h1M275 44h1M280.5 43.5h1M247.5 8.5h1M279.5 44h1M251.5 15.5h1M274.5 35.5h1M283.5 38h1M273.5 56.5h1M284 26.5h1M276.5 27h1M280 55h1M230 19h1M260.5 24.5h1M251.5 21h1M281.5 49h1M281 63h1M275 38h1M284 52h1M276.5 38.5h1M234 19h1M280 64.5h1M277 67.5h1M280.5 52.5h1M242.5 23h1M282 23.5h1M279.5 56h1M277 75h1M251 18.5h1M248 10h1M259.5 22h1M278.5 29.5h1M282.5 48h1M252 14h1M280.5 42.5h1M268.5 45h1M280 66h1M278 22.5h1M279.5 56.5h1M282 38.5h1M261.5 46.5h1M276.5 65h1M280 50.5h1M240.5 10.5h1M282 44h1M234 17h1M277.5 41.5h1M249 20.5h1M243.5 16.5h1M277.5 54.5h1M272.5 48h1M279.5 51.5h1M237 16.5h1M246.5 14h1M281 75.5h1M278 37.5h1M273.5 53.5h1M250.5 7.5h1M273.5 12.5h1M273 36h1M281 59h1M275 68h1M277.5 47.5h1M272.5 63.5h1M248 15h1M247.5 20.5h1M283 46.5h1M274.5 58h1M276.5 44h1M235.5 20h1M278.5 53.5h1M217.5 45h1M241 12h1M262 21h1M279.5 17.5h1M247.5 24h1M246.5 22.5h1M249 40h1M261 55.5h1M277.5 53.5h1M276.5 59h1M254.5 23.5h1M280 47h1M272 47h1M252.5 39.5h1M230 15.5h1M259 12h1M249 19.5h1M241.5 13h1M246.5 40.5h1M273.5 62h1M276 52h1M243 23.5h1M280 70.5h1M278 52h1M268.5 18.5h1M255.5 30h1M246 22h1M249 22.5h1M281.5 42h1M281 71h1M257.5 17.5h1M284.5 54.5h1M278 46.5h1M279.5 56.5h1M277 47.5h1M249 17.5h1M282.5 30h1M279.5 59h1M274 45h1M271 72h1M260.5 15h1M276.5 67h1M258.5 18.5h1M281 71h1M277.5 65h1M263.5 49h1M276 30.5h1M275.5 21.5h1M252.5 18.5h1M280 27.5h1M282.5 74h1M282.5 55.5h1M280 56.5h1M260 16.5h1M275 44h1M253.5 22.5h1M243.5 18h1M272.5 53h1M245 15.5h1M228.5 16h1M279.5 69.5h1M277.5 57.5h1M251.5 56.5h1M278 62.5h1M234 30h1M272.5 58h1M275 55.5h1M263.5 10.5h1M276 67h1M243 16h1M277.5 46h1M248.5 7.5h1M275.5 63.5h1M235.5 17.5h1M234 24h1M240.5 17h1M279 19h1M279.5 53.5h1M279.5 22.5h1M245 16h1M281.5 35.5h1M256 17.5h1M277.5 35.5h1M275 52.5h1M283.5 42.5h1M266.5 26h1M240 28h1M282.5 49h1M276 60h1M247.5 16.5h1M276.5 68h1M245 14.5h1M279 60.5h1M287 32.5h1M271.5 60.5h1M248 15h1M256 43.5h1M276 48h1M282 56.5h1M238 36.5h1M254.5 17h1M277 61.5h1M279 55.5h1M267 17.5h1M274 47.5h1M268 19h1M276 14h1M279 38h1M277.5 60h1M251 18h1M279.5 57h1M279 55.5h1M241 17.5h1M264 17.5h1M237.5 17.5h1M275 58h1M281 62h1M246 28h1M278.5 52h1M276.5 58h1M276.5 44.5h1M275 57.5h1M277.5 47.5h1M232 46.5h1M244.5 20h1M277.5 72h1M281.5 59.5h1M251 11h1M280.5 55h1M282 62.5h1M281 33h1M239 28.5h1M274.5 27.5h1M283 52h1M242.5 40h1M275.5 56h1M244 22h1M277.5 60h1M283 61.5h1"/>
<path d="M243.5 11.5h1M259.5 16.5h1M247.5 24.5h1M280.5 45h1M285 64h1M244.5 20.5h1M250.5 19.5h1M279.5 46h1M267 22h1M240 14.5h1M281 61.5h1M282.5 34h1M275 51.5h1M281 55.5h1M278 49.5h1M274.5 56.5h1M282 26.5h1M278 34.5h1M283 68.5h1M255 21h1M280 69h1M254.5 10h1M253.5 12h1M274.5 44h1M240.5 22.5h1M274.5 70h1M284 34.5h1M281.5 48h1M244 22.5h1M280.5 28h1M278.5 47.5h1M276.5 66.5h1M277.5 54h1M244.5 20h1M235 25h1M276 38h1M225 7.5h1M276 39.5h1M232.5 17.5h1M283.5 55h1M281.5 29.5h1M276 65h1M273.5 58h1M235 28h1M279.5 50.5h1M279 55.5h1M277 67.5h1M236.5 26h1M236.5 23h1M272.5 48h1M271.5 62.5h1M252.5 16h1M285 44.5h1M260 57h1M263 21.5h1M281 54h1M263 16h1M246 16.5h1M270 61.5h1M227 17h1M281.5 29h1M225.5 22h1M278 43h1M272.5 52.5h1M263 14.5h1M243 17h1M275.5 32h1M260 16.5h1M241.5 59h1M278.5 37h1M274.5 64h1M277.5 62h1M272.5 35.5h1M251 19h1M276.5 76h1M285 49.5h1M280.5 63h1M278 28.5h1M242.5 61h1M261 23.5h1M252.5 41.5h1M274.5 72h1M281.5 27h1M273.5 69h1M248 18.5h1M277 54.5h1M245 22.5h1M236 22.5h1M250.5 16.5h1M275 50h1M276 32.5h1M254.5 19h1M282 45.5h1M235.5 17.5h1M277 42.5h1M282 50h1M242.5 19h1M282.5 60.5h1M278.5 70h1M279.5 37.5h1M216 42h1M246 21.5h1M277.5 33h1M226 51.5h1M280 49h1M271.5 66h1M270.5 71h1M280 55.5h1M276 53.5h1M270.5 49.5h1M274.5 62h1M245 37.5h1M243 15h1M275.5 66.5h1M283.5 39h1M275.5 63.5h1M279.5 74h1M279 54h1M259 18h1M259 16h1M274.5 45.5h1M239 21h1M280 72h1M279.5 32h1M278 49h1M281.5 41.5h1M258 17.5h1M251.5 54h1M282.5 53.5h1M254.5 15h1M275.5 40h1M264.5 31.5h1M278.5 51h1M272 62h1M274 46.5h1M274.5 56h1M276 53h1M275 53.5h1M248 21h1M248.5 10.5h1M230.5 14.5h1M273 62.5h1M278 51h1M279 75h1M243 22h1M274 55h1M276 68.5h1M280 50.5h1M233 25.5h1M228 19.5h1M278 17h1M228.5 23h1M284.5 49.5h1M277 74h1M244 67.5h1M254 20.5h1M274.5 49h1M272.5 57.5h1M282 37h1M279.5 41h1M258.5 17h1M232.5 26.5h1M250.5 25.5h1M280.5 56.5h1M221.5 27h1M235 15.5h1M272.5 53h1M279.5 66.5h1M277.5 33.5h1M278.5 60.5h1M245.5 12h1M282 54.5h1M282 16h1M282 55.5h1M275.5 45.5h1M216.5 24h1M224.5 19.5h1M284 50.5h1M256 21h1M276.5 61h1M273 47.5h1M240 31h1M278 56.5h1M274 55h1M283 56h1M273.5 56h1M279.5 59.5h1M250 16h1M236 42h1M277 44h1M259 23h1M274 53.5h1M273 70.5h1M249.5 45h1M277.5 53h1M272.5 41h1M251 5.5h1M274 65h1M240 22.5h1M242 21h1M249 36h1M258 10h1M253.5 16.5h1M250 18h1M266 25h1M287 67h1M221.5 51h1M282.5 45.5h1M281.5 50h1M242 17.5h1M258.5 16h1M281.5 66.5h1M254 20.5h1M275.5 41h1M249.5 15.5h1M277 31.5h1M269.5 48.5h1M238 19h1M264.5 23h1M259 24h1M278 59h1M279 43.5h1M249 22.5h1M278 36.5h1M278.5 42.5h1M275 40.5h1M250.5 14.5h1M275.5 52h1M279.5 33h1M282 46.5h1M253.5 25h1M254 24.5h1M247 15.5h1M258.5 14h1M275 50h1M277.5 56h1M279 38h1M279.5 67h1M287 27.5h1M280 49h1M239 22.5h1M280.5 76h1M246 33h1M246 18.5h1M274 56.5h1M283.5 53.5h1M257.5 14.5h1M282.5 36.5h1M252 16h1M240.5 30h1M274.5 58h1M244.5 16.5h1M284 65.5h1M281 55.5h1M281 55h1M279.5 41h1M253.5 16h1M265.5 17.5h1M256.5 26h1M279.5 56.5h1M276.5 64h1M278.5 56.5h1M272 74.5h1M280.5 54h1M269 64h1M225.5 48.5h1M279.5 45h1M279.5 54.5h1M249.5 31.5h1M236 15.5h1M255 14.5h1M279.5 52h1M265 14h1M252 23h1M284.5 55h1M283 53h1M278.5 40.5h1M270.5 51h1M276.5 43.5h1M258 18h1M279 50.5h1M274 73h1M272 65h1M276 52.5h1M243 16h1M245 23h1M278 64.5h1M255.5 17h1M284 75h1M282.5 47h1M278.5 56.5h1M249 26h1M273 37h1M279 55.5h1M279 59h1M276.5 42h1M238 19h1M276.5 50h1M275 62h1M280 45.5h1M242 20h1M253 14.5h1M248 12h1M279 50.5h1M238.5 41h1M215.5 16.5h1M282.5 60h1M277 51h1M225.5 50h1M282.5 63.5h1M281 71h1M257 18.5h1M276.5 55.5h1M246 17h1M255.5 18h1M267.5 20h1M275 52h1M245 22.5h1M243 20.5h1M270.5 62.5h1M234.5 28h1M274 48h1M276 44.5h1M244.5 30h1M274 24.5h1M280 51h1M272 47.5h1M275 74h1M280 56h1M257.5 23h1M279.5 63.5h1M276 49h1M267 15h1M281.5 71h1M245.5 20h1M280 46h1M232.5 39.5h1M279 52.5h1M232 17h1M249 28.5h1M242.5 12h1M283 54.5h1M248.5 39h1M255.5 18.5h1M279.5 58h1M245 49.5h1M277.5 44h1M278.5 49h1M274.5 51h1M268 44h1M279.5 56.5h1M243.5 71h1M252.5 33h1M281 66.5h1M276.5 43h1M273 50.5h1M278.5 41.5h1M239.5 51h1M275 40.5h1M279.5 66.5h1M237.5 24h1M284 63.5h1M275 57h1M259 19.5h1M282.5 61.5h1M283 65.5h1M243 18.5h1M264 21.5h1M239 19h1M275.5 53h1M274.5 57.5h1M250.5 23.5h1M247.5 18h1M217.5 21.5h1M275 53.5h1M269 61h1M288.5 49h1M281 52.5h1M284 37h1M275.5 38.5h1M253 22h1M282.5 29.5h1M280.5 56.5h1M245.5 37h1M277.5 63.5h1M277 41.5h1M248 27.5h1M284 49.5h1M242 16.5h1M268 10.5h1M272 60h1M246 23.5h1M272 75.5h1M230.5 49.5h1M283.5 57.5h1M248 15.5h1M279.5 47h1M280.5 65.5h1M275.5 59.5h1M279 53.5h1M279 22.5h1M270 65.5h1M245.5 21.5h1M275 60.5h1M272.5 46.5h1M277.5 71h1M215 24.5h1M252.5 20h1M254 20h1M246 39.5h1M288.5 74h1M281.5 42.5h1M274.5 47h1M286.5 38.5h1M230.5 23.5h1M279.5 61.5h1M275.5 46.5h1M277.5 67h1M218.5 22h1M282.5 66.5h1M232 25h1M259.5 17.5h1M238.5 26h1M277 51h1M247 13.5h1M280 28.5h1M286 54h1M276.5 62h1"/>
<path d="M277 56.5h1M276.5 56.5h1M232.5 11.5h1M257.5 17.5h1M283.5 26h1M238 48h1M287.5 23h1M247.5 26h1M279 49.5h1M276 58.5h1M278 49.5h1M238 44.5h1M275.5 45h1M274 50h1M263 18h1M276.5 66h1M279 53h1M280.5 53.5h1M285 27h1M269 60.5h1M220 51h1M274.5 61h1M279 43.5h1M278 54.5h1M247.5 17.5h1M280.5 31.5h1M269.5 56h1M280.5 71.5h1M250.5 24.5h1M245.5 20.5h1M272 61h1M279 46h1M286 58.5h1M277.5 51.5h1M275 29.5h1M280 61.5h1M281.5 52.5h1M235 26.5h1M249 22.5h1M252.5 41.5h1M237.5 20.5h1M276 33h1M283.5 59h1M239 23h1M244.5 15.5h1M274.5 60h1M274.5 49h1M259.5 17.5h1M238 12h1M253.5 28h1M281 53h1M261 18h1M281 66h1M249 15.5h1M245 19.5h1M280.5 54.5h1M273.5 62.5h1M239 14h1M287 69.5h1M240 14.5h1M254.5 60.5h1M249.5 23.5h1M273 64h1M246 24.5h1M261.5 22h1M257.5 12.5h1M274.5 33.5h1M279 56.5h1M283 43h1M282 71h1M283.5 53h1M277.5 66h1M281 64h1M253 16.5h1M277 52.5h1M253.5 3h1M278.5 50.5h1M279.5 49.5h1M273.5 57.5h1M280 69h1M281.5 55.5h1M281 43h1M272.5 73h1M276 37h1M246 15.5h1M237 17.5h1M277.5 68h1M284 57h1M281.5 63h1M245.5 20h1M284 42h1M270.5 67h1M273.5 36.5h1M281 65h1M273 57h1M273 28.5h1M281 45h1M249 17h1M278 58.5h1M279.5 48h1M246 20.5h1M277.5 68h1M276.5 60.5h1M253 28.5h1M279.5 48.5h1M283 57.5h1M234 26.5h1M281.5 22h1M277.5 46h1M241.5 15h1M236.5 21.5h1M276 26h1M257.5 18h1M283.5 42h1M246.5 13h1M257 19.5h1M283 55h1M272.5 44.5h1M263 20.5h1M260.5 21.5h1M285 22h1M276 49.5h1M236.5 26.5h1M279 68.5h1M256 22.5h1M273.5 37.5h1M228.5 19h1M248 17h1M278.5 46.5h1M242 20h1M285 46h1M277.5 71h1M259 22.5h1M256 21.5h1M280.5 47h1M248 20h1M280.5 56h1M282.5 46.5h1M278.5 53.5h1M274 24h1M277.5 48h1M280 59h1M281 55h1M250 16h1M274.5 54h1M278 44.5h1M281.5 49.5h1M242.5 15.5h1M248.5 19.5h1M280 55.5h1M285.5 73.5h1M242.5 14h1M283 58.5h1M275.5 46.5h1M275.5 57.5h1M253 40h1M272 59h1M280.5 36h1M239 18.5h1M242.5 14.5h1M286 63.5h1M243 14h1M245 14h1M246 22.5h1M274.5 66h1M281 25.5h1M254.5 25h1M281.5 60h1M251.5 32h1M275 55h1M246.5 14h1M252 15h1M269.5 53h1M250.5 12.5h1M278.5 56.5h1M252 18h1M283 64.5h1M283 62.5h1M274 54.5h1M284 55h1M277 47h1M248 14h1M276 56.5h1M255.5 43h1M284 41.5h1M277.5 60.5h1M273.5 52.5h1M279 75h1M276.5 75.5h1M255 21.5h1M274 29.5h1M246.5 38.5h1M281 30.5h1M282 44.5h1M272 58.5h1M280.5 66.5h1M277 53.5h1M269.5 70.5h1M279.5 34.5h1M277 17h1M279 40h1M224 8h1M284.5 68h1M278 58.5h1M244 14.5h1M253.5 30h1M262 41h1M278.5 23h1M277.5 75.5h1M279 42h1M275 52.5h1M241.5 38h1M275.5 69.5h1M252 19.5h1M259 19h1M261.5 22h1M275.5 46.5h1M276 38.5h1M276.5 56h1M282.5 64h1M269.5 55h1M240 22h1M238 17h1M272 70.5h1M245 24.5h1M277.5 60.5h1M259.5 6.5h1M255 15.5h1M274.5 31h1M260 17h1M275 61.5h1M242.5 15h1M236.5 33h1M280 11.5h1M277 52h1M276.5 53.5h1M278.5 50.5h1M262 17h1M259 20h1M249.5 15.5h1M254 12h1M275.5 46.5h1M276 41.5h1M264.5 11.5h1M275 53h1M248 15.5h1M276 67.5h1M282 73.5h1M285 68h1M248.5 15h1M283.5 50.5h1M272.5 56.5h1M237 12.5h1M278 56.5h1M276 62.5h1M275.5 56h1M237 39h1M240.5 20h1M277 70h1M276.5 37h1M273.5 48.5h1M277 60h1M275 48h1M267 58h1M240 17.5h1M267 67.5h1M281.5 47.5h1M250.5 14h1M253 40h1M256 37.5h1M276.5 42.5h1M283.5 37.5h1M275 44h1M282 59h1M273 37h1M275.5 54h1M258.5 22h1M276.5 42.5h1M278 60h1M284 30h1M241.5 11.5h1M279 49h1M272.5 52h1M283.5 19.5h1M284 62.5h1M280.5 29.5h1M250 23h1M241 48.5h1M261 31h1M273 54h1M285 63.5h1M278.5 56h1M233 20h1M232.5 47h1M251.5 25h1M280.5 70.5h1M269.5 65.5h1M235 19.5h1M271 37h1M280 46.5h1M241 21.5h1M252.5 14h1M254 18h1M254.5 33h1M281 46h1M276.5 54.5h1M276.5 55h1M242 47.5h1M278.5 59.5h1M278 58.5h1M277 40h1M278.5 56h1M276 45h1M234 20.5h1M244 12h1M238.5 43h1M248.5 41h1M280 63.5h1M248 16h1M245.5 22h1M246 17h1M277.5 53.5h1M275.5 69h1M235.5 19h1M278.5 37h1M280.5 56h1M253 23h1M279 57h1M256 38h1M227 64.5h1M278.5 51h1M280 59.5h1M268 69h1M276.5 61h1M240 16h1M277.5 43h1M241 21.5h1M278 53.5h1M276.5 63h1M249 48.5h1M248 24h1M279.5 60h1M277 51.5h1M260 27h1M282.5 55h1M236.5 17h1M279 40.5h1M278.5 68.5h1M274.5 27.5h1M282 22.5h1M265.5 44.5h1M281.5 56.5h1M277.5 59h1M286.5 50h1M276 63h1M246.5 20.5h1M257.5 21h1M282.5 68.5h1M276.5 56.5h1M224.5 15h1M273.5 43.5h1M272 67h1M251.5 43.5h1M278.5 27.5h1M279 68h1M250.5 41.5h1M280.5 45.5h1M253 23h1M252.5 33.5h1M252.5 17.5h1M252.5 19.5h1M278 61h1M239.5 15.5h1M265.5 67.5h1M279 53h1M283 51.5h1M274 46.5h1M277.5 54.5h1M277 39.5h1M279.5 60.5h1M249 19h1M251.5 19.5h1M229 29h1M273.5 49.5h1M284.5 54.5h1M287.5 42h1M243.5 20.5h1M282.5 64h1M279.5 65.5h1M280 49h1M280.5 72h1M276.5 47h1M251.5 24h1M258.5 13h1M275.5 74h1M243.5 19h1M236.5 29.5h1M284 61h1M248.5 18.5h1M281 48.5h1M286.5 40.5h1M279 57h1M275.5 67.5h1M281.5 68.5h1M259 9.5h1M240 17.5h1M276.5 64.5h1M271 64h1M269.5 71h1M275 58.5h1M273.5 55.5h1M279 42.5h1M251.5 20h1M243.5 31.5h1M241 13.5h1M271.5 63.5h1M278 66h1M282 61.5h1M273.5 39h1M281.5 71.5h1M277 55h1M285.5 68.5h1M235.5 22.5h1M251.5 12.5h1M256 48h1M274.5 48h1M280 37h1M281 35h1"/>
<path d="M283 68.5h1M252 17h1M281.5 52h1M279 48h1M281 65.5h1M283 65h1M240 15h1M279 63h1M281.5 48.5h1M274 47h1M236 21.5h1M272 24.5h1M250 14.5h1M262 64.5h1M277 60h1M284.5 47h1M283.5 55.5h1M278.5 46h1M273 26h1M261 21h1M273.5 55h1M274 61h1M261.5 27h1M271.5 66h1M278 59.5h1M245 23h1M245 15.5h1M240 14.5h1M230.5 18.5h1M237 37h1M275 66h1M272 62.5h1M287 33.5h1M244 19h1M278 48h1M256 31h1M262 22h1M243 8.5h1M246 17h1M277 26h1M279.5 66h1M279.5 50.5h1M276 66h1M229 14h1M275 65h1M273 63.5h1M250.5 20.5h1M283 25h1M239 21h1M256 17.5h1M279 73h1M261 19h1M279 52h1M231 13h1M271 50.5h1M251 13h1M262 42h1M278.5 50h1M246 24h1M275 71.5h1M278 69h1M264.5 19h1M281.5 50h1M280.5 72.5h1M277.5 56.5h1M269.5 52h1M233.5 21.5h1M277 63h1M278 51h1M280 64.5h1M283.5 61h1M280 50.5h1M254 9.5h1M243.5 15.5h1M280.5 58h1M280.5 55h1M278 62.5h1M269 39h1M269 55h1M248.5 22.5h1M240 19h1M262 23.5h1M285 47h1M275.5 56.5h1M282.5 27.5h1M257 18.5h1M253 17h1M275.5 63.5h1M245.5 19h1M277 34.5h1M279 46.5h1M282 50h1M265.5 22h1M275 74h1M261 23.5h1M235 13h1M244.5 13h1M274 53.5h1M245.5 20h1M283 30h1M244.5 28h1M243.5 12h1M230.5 39.5h1M275.5 59h1M277.5 45h1M247 13.5h1M278 71.5h1M256 24h1M243.5 19.5h1M277 44h1M281.5 49.5h1M281.5 41h1M253 14h1M239.5 17.5h1M281 33.5h1M254 18.5h1M281 58.5h1M279.5 64.5h1M273 69h1M282 56.5h1M261 16h1M256.5 24.5h1M278.5 69.5h1M275.5 51.5h1M273.5 53h1M283 24.5h1M273 50.5h1M274.5 36h1M276.5 62h1M252 23h1M280 62h1M279 67.5h1M228.5 51.5h1M274 44h1M276 55.5h1M279 58.5h1M236.5 15h1M275 61.5h1M259.5 49h1M271 71.5h1M278 32h1M237.5 19.5h1M276 74.5h1M278.5 48.5h1M274 61.5h1M280.5 50h1M262.5 21h1M247.5 19h1M285.5 65h1M279.5 56.5h1M257 36.5h1M279.5 23.5h1M274 72.5h1M255 72h1M241.5 24.5h1M273.5 59.5h1M262 16h1M250 18h1M278.5 16h1M270 58h1M279 48.5h1M279.5 63h1M255.5 14h1M284.5 74h1M284 57.5h1M285 37.5h1M277 31h1M277.5 47.5h1M274 38.5h1M271.5 59.5h1M280 31.5h1M272 52.5h1M281 70.5h1M272 52.5h1M272.5 63h1M271 66.5h1M242.5 40h1M242 13.5h1M284 55h1M276 35.5h1M280.5 44.5h1M267.5 69h1M282.5 60h1M275 48.5h1M277.5 55.5h1M283 51.5h1M281 38.5h1M285.5 31.5h1M270.5 20h1M242.5 22.5h1M249.5 16.5h1M278 27h1M248 24h1M274 50h1M278.5 60.5h1M275.5 69h1M271.5 52h1M253.5 26h1M277.5 66.5h1M245 23.5h1M278.5 10h1M280.5 47h1M245.5 21.5h1M267.5 52h1M279 45h1M280.5 34h1M277 52h1M281 59h1M285.5 64.5h1M270 67.5h1M277 57h1M258 23.5h1M243.5 16h1M249 25h1M266.5 16.5h1M277 35.5h1M279.5 48.5h1M278.5 60h1M276 53.5h1M247.5 16.5h1M250 16h1M281.5 60h1M279 59.5h1M280 33h1M276.5 55.5h1M278 40h1M280 59.5h1M279 31.5h1M217 34.5h1M281.5 64.5h1M258 18h1M246.5 62h1M279 43h1M278.5 67h1M244 18h1M281.5 68h1M277 17h1M250 22.5h1M242.5 13.5h1M272.5 75h1M251 39.5h1M251.5 13.5h1M282.5 49.5h1M271.5 32.5h1M277.5 67.5h1M276.5 45h1M246.5 28.5h1M273.5 27h1M278.5 48h1M279 61.5h1M282.5 60.5h1M282 31.5h1M278 65h1M284.5 47h1M274.5 73.5h1M262.5 37.5h1M280 73.5h1M217 17h1M281 58.5h1M275.5 43.5h1M275.5 68h1M248.5 9h1M278 50.5h1M281 28h1M280 55h1M266.5 44.5h1M274.5 66.5h1M257.5 11.5h1M281.5 54h1M283 66h1M279 61.5h1M258 30h1M252.5 23h1M277 66h1M279 70.5h1M242 19h1M277.5 59h1M280.5 75h1M274.5 72.5h1M276 67h1M282 66h1M258.5 11h1M276 37.5h1M276 48h1M281 48.5h1M261.5 34.5h1M248.5 17.5h1M278 33.5h1M254.5 13.5h1M281.5 43.5h1M233.5 22.5h1M260 27h1M281.5 52h1M279 74h1M240 34.5h1M279.5 50h1M280 62h1M243.5 26.5h1M272.5 58.5h1M282 42h1M244.5 19h1M280 50.5h1M239 27h1M276.5 58.5h1M254 16h1M253.5 24h1M250.5 24h1M282 53.5h1M274.5 58.5h1M252 17h1M253 24.5h1M282.5 45h1M219.5 25.5h1M264.5 32.5h1M241.5 16h1M279.5 46.5h1M285.5 61.5h1M248 18h1M276.5 60h1M277 54.5h1M272 50.5h1M275 37.5h1M278.5 46.5h1M283 48h1M279.5 63h1M266 36.5h1M277 64.5h1M278.5 61.5h1M274 52h1M282.5 64h1M251.5 29h1M275 36.5h1M265.5 43h1M281.5 62h1M275.5 65.5h1M276.5 60.5h1M237.5 14h1M274.5 68.5h1M277.5 55.5h1M282 37.5h1M275 74.5h1M249 20.5h1M277.5 67h1M241 15h1M255 14.5h1M281.5 49.5h1M246 18h1M281 27h1M231 18h1M277.5 57h1M255.5 12.5h1M277 69h1M282.5 50.5h1M276.5 38h1M277.5 44h1M243.5 19h1M253.5 42h1M240 28.5h1M250 55h1M248.5 18.5h1M278.5 54h1M248 24.5h1M276.5 52h1M247.5 28h1M280 51h1M274.5 51.5h1M244 37.5h1M276.5 49h1M247.5 13h1M275.5 71.5h1M281.5 52h1M274.5 58h1M283 60h1M260.5 14.5h1M275.5 57.5h1M275 41h1M256 21.5h1M279 42h1M284 62.5h1M236.5 14h1M274 45h1M278 43.5h1M250.5 19h1M249 21h1M274 69.5h1M244 23.5h1M256.5 23h1M253.5 16.5h1M277 39.5h1M260.5 23h1M284 42.5h1M278 63.5h1M275.5 58.5h1M227.5 16h1M242 28h1M283 33h1M281.5 32h1M277.5 45.5h1M285 25h1M280 45.5h1M261 12.5h1M280 60h1M281.5 60h1M262.5 21.5h1M277 69.5h1M280 53h1M282.5 50h1M275.5 41h1M282 54h1M279 50.5h1M255.5 11.5h1M242 22.5h1M252 14.5h1M246 24.5h1M286 69.5h1M281.5 19h1M245 22.5h1M280.5 32.5h1M281 68h1M274 56h1M281.5 72h1M238.5 13h1M248 14.5h1M254.5 16h1M280.5 50h1M280 54.5h1M288 50.5h1"/>
<path d="M277 63h1M260.5 45h1M275 53.5h1M281 39.5h1M247.5 17h1M282 52h1M283 54h1M269 60h1M275 70h1M278 56.5h1M234 21h1M268 53.5h1M256.5 20h1M281 66.5h1M274 59.5h1M252.5 15.5h1M284.5 68h1M282.5 69h1M281 42.5h1M280.5 61.5h1M276.5 35.5h1M280 25h1M285 43.5h1M276 64.5h1M241.5 16.5h1M247.5 26h1M274 51.5h1M273 50h1M275.5 55h1M281 51h1M245 57h1M282 57.5h1M250.5 17.5h1M274.5 60h1M249.5 25h1M261.5 16.5h1M275 61.5h1M247.5 17.5h1M250 17.5h1M284 58.5h1M275 55h1M280.5 16h1M231 41h1M275.5 65.5h1M279.5 74.5h1M263 57.5h1M249.5 22h1M233 23h1M280 43.5h1M250 14.5h1M278.5 61.5h1M271 40h1M218.5 24h1M277.5 44.5h1M281.5 51h1M274.5 50h1M255 16h1M245.5 15h1M274.5 40h1M276 60.5h1M275.5 48h1M278.5 42h1M261.5 16.5h1M252.5 36h1M279 49h1M273.5 53.5h1M242 14h1M275 57.5h1M238.5 22h1M277.5 31h1M276 52.5h1M280 60.5h1M250.5 16.5h1M279 32h1M242 33.5h1M274 40h1M287 68.5h1M272 35.5h1M243 21h1M232 24.5h1M224.5 8h1M277 49.5h1M274 66h1M277.5 63.5h1M278 66.5h1M256.5 10.5h1M248.5 21h1M279 52h1M238 19.5h1M237 24h1M258 16.5h1M270 62h1M257.5 52.5h1M280.5 53.5h1M275.5 66h1M219 26.5h1M231.5 17h1M274 67.5h1M288 46.5h1M276 59.5h1M284 71h1M281.5 45.5h1M248 12.5h1M279 22.5h1M278.5 40.5h1M257.5 18h1M287 53.5h1M257 18h1M279.5 63h1M280 58.5h1M284 63h1M278 58h1M253 27.5h1M262 19h1M274.5 60.5h1M254 14.5h1M250 21.5h1M277 49h1M247 13h1M221 17h1M268 44.5h1M272 43.5h1M285.5 69h1M284.5 40.5h1M279.5 40h1M279 42.5h1M280.5 41.5h1M277 60.5h1M280.5 60.5h1M284.5 61.5h1M271.5 76h1M277 57.5h1M280 53.5h1M252 18.5h1M241.5 14.5h1M241 18.5h1M280.5 20h1M262.5 32h1M247.5 15.5h1M240.5 16.5h1M280.5 53.5h1M278.5 32.5h1M247.5 17h1M277 50h1M274 45.5h1M278.5 53h1M283 72h1M245.5 18h1M272 72.5h1M230 11.5h1M283.5 66h1M277 53h1M274 54.5h1M279.5 52.5h1M259 23.5h1M279.5 52.5h1M271.5 5.5h1M273.5 69h1M277.5 50h1M254.5 23.5h1M281.5 43h1M277.5 42h1M276 57.5h1M254.5 14.5h1M279.5 48.5h1M239 16h1M276 47h1M250 33.5h1M234.5 11.5h1M278 60.5h1M284 40h1M286 34h1M282.5 33h1M279 51h1M275.5 57h1M283 28.5h1M280.5 44h1M252 46.5h1M280 29.5h1M238 4h1M280.5 20.5h1M280 38h1M275 61.5h1M258 25h1M278.5 65h1M283.5 53.5h1M287.5 37h1M251 18.5h1M281 43h1M245 51h1M277 70h1M276 43.5h1M280.5 58h1M274.5 44h1M241 17.5h1M270.5 61.5h1M280.5 46h1M273 45.5h1M281 42h1M238.5 36h1M282 64.5h1M285 57h1M272.5 40h1M216.5 67h1M276 56.5h1M280.5 48.5h1M280 42.5h1M250.5 23h1M263 16.5h1M276 48.5h1M282.5 51.5h1M278 71h1M278.5 64h1M278.5 48h1M283.5 50h1M265 21.5h1M283.5 59h1M250 17.5h1M282.5 46h1M274 46.5h1M259 23h1M234 16h1M284.5 58.5h1M273 37h1M252 26h1M279.5 60.5h1M276.5 50h1M281 63.5h1M280 34h1M252.5 14.5h1M261 18h1M275 63.5h1M245 17h1M284 72.5h1M252 53h1M278.5 30.5h1M274.5 47.5h1M258.5 13.5h1M283.5 65.5h1M283 37.5h1M247 18h1M251.5 17.5h1M276.5 65h1M273.5 48h1M274.5 74h1M239.5 16.5h1M278 67h1M246 12h1M270 39.5h1M273.5 69h1M255 25.5h1M280 56h1M275.5 41h1M251.5 57h1M283 24h1M259.5 20h1M277 48h1M257.5 37h1M279 52h1M277.5 58h1M279 41.5h1M256 17h1M285 52h1M263 16h1M282 46.5h1M277.5 53h1M260.5 20.5h1M238.5 15h1M270.5 55h1M276 39.5h1M241 16.5h1M253 17h1M288 30.5h1M275.5 51.5h1M279.5 45h1M280 56.5h1M254 20h1M242 16h1M259 11.5h1M285.5 71.5h1M277 47h1M279 43.5h1M275 59h1M272.5 67.5h1M278 39h1M236 23.5h1M248.5 20h1M275 61.5h1M278 53.5h1M237 21.5h1M237 27h1M283 49.5h1M278.5 57.5h1M277 60.5h1M277 60h1M247.5 20.5h1M279 68h1M278.5 63h1M282.5 45.5h1M234 40h1M258 14.5h1M284 63h1M276 65h1M285.5 55.5h1M280 37.5h1M277 20h1M277 50.5h1M281.5 57h1M279.5 52.5h1M257.5 17.5h1M282 45h1M227 76h1M257.5 20.5h1M229 32.5h1M282 42.5h1M284 55.5h1M280 21.5h1M241.5 14h1M268.5 25.5h1M246.5 19.5h1M281.5 33h1M283.5 63h1M284.5 27.5h1M273 62.5h1M270.5 50.5h1M278.5 53.5h1M284.5 57.5h1M234 21h1M275.5 25.5h1M273.5 25h1M258 27.5h1M279.5 63h1M272 67h1M281.5 48h1M278.5 68.5h1M285.5 58h1M244.5 18.5h1M236.5 14h1M241.5 17h1M223 15.5h1M250.5 46.5h1M274 59h1M233.5 17.5h1M238.5 21.5h1M276.5 62h1M271 48h1M253.5 22.5h1M280.5 43.5h1M274.5 55h1M281 50h1M276.5 18.5h1M283 50.5h1M220.5 44.5h1M234 15h1M279 49.5h1M274 76h1M283 52h1M276 55h1M245 14.5h1M276 60.5h1M284 34.5h1M275.5 67h1M257 18h1M243.5 15h1M237.5 25h1M275.5 53.5h1M276.5 48.5h1M272.5 75.5h1M255 19h1M280 53.5h1M271.5 64h1M251 25h1M285.5 50h1M257 5.5h1M254.5 14.5h1M246.5 12.5h1M279 54.5h1M244 20h1M274.5 41.5h1M282.5 49.5h1M218.5 5.5h1M248 23h1M277.5 15h1M256 39.5h1M272.5 49h1M278.5 58.5h1M278 41h1M255 27h1M276.5 62.5h1M257 18.5h1M278.5 63.5h1M276 43h1M281 61h1M283 74.5h1M276 47.5h1M275 63.5h1M260 22.5h1M254 19h1M279.5 26h1M278.5 60h1M279.5 24h1M240.5 24.5h1M267.5 29.5h1M277.5 54h1M275 60h1M281 38h1M246 21h1M244.5 13.5h1M281 29.5h1M223.5 18h1M275 22.5h1M244.5 17.5h1M248.5 19h1M283.5 57h1M234 57h1M279 70.5h1M235.5 21.5h1M248 21h1M276 57.5h1M282 61h1M283.5 48h1M276.5 38h1M280.5 53.5h1M286 43h1M255.5 24h1M282 47.5h1M234.5 33.5h1"/>
</g>
<rect x="214" y="1.3" width="76.6" height="76" fill="none" stroke="#444" stroke-width="1"/>
<rect x="266.3" y="35.6" width="22.5" height="41.4" fill="none" stroke="#111" stroke-width="0.8"/>
<text x="211" y="7.1" font-size="4.2" text-anchor="end" fill="#222">10<tspan font-size="2.94" dy="-1.89">4</tspan></text>
<text x="211" y="22.1" font-size="4.2" text-anchor="end" fill="#222">10<tspan font-size="2.94" dy="-1.89">3</tspan></text>
<text x="211" y="40.9" font-size="4.2" text-anchor="end" fill="#222">10<tspan font-size="2.94" dy="-1.89">2</tspan></text>
<text x="211" y="60" font-size="4.2" text-anchor="end" fill="#222">10<tspan font-size="2.94" dy="-1.89">1</tspan></text>
<text x="211" y="78" font-size="4.2" text-anchor="end" fill="#222">10<tspan font-size="2.94" dy="-1.89">0</tspan></text>
<line x1="212.5" y1="5.6" x2="214" y2="5.6" stroke="#444" stroke-width="0.7"/>
<line x1="212.5" y1="20.6" x2="214" y2="20.6" stroke="#444" stroke-width="0.7"/>
<line x1="212.5" y1="39.4" x2="214" y2="39.4" stroke="#444" stroke-width="0.7"/>
<line x1="212.5" y1="58.5" x2="214" y2="58.5" stroke="#444" stroke-width="0.7"/>
<line x1="212.5" y1="76.5" x2="214" y2="76.5" stroke="#444" stroke-width="0.7"/>
<text x="218" y="85" font-size="4.2" text-anchor="middle" fill="#222">10<tspan font-size="2.94" dy="-1.89">0</tspan></text>
<text x="234.6" y="85" font-size="4.2" text-anchor="middle" fill="#222">10<tspan font-size="2.94" dy="-1.89">1</tspan></text>
<text x="253" y="85" font-size="4.2" text-anchor="middle" fill="#222">10<tspan font-size="2.94" dy="-1.89">2</tspan></text>
<text x="271" y="85" font-size="4.2" text-anchor="middle" fill="#222">10<tspan font-size="2.94" dy="-1.89">3</tspan></text>
<text x="289.4" y="85" font-size="4.2" text-anchor="middle" fill="#222">10<tspan font-size="2.94" dy="-1.89">4</tspan></text>
<line x1="218" y1="77.3" x2="218" y2="78.8" stroke="#444" stroke-width="0.7"/>
<line x1="234.6" y1="77.3" x2="234.6" y2="78.8" stroke="#444" stroke-width="0.7"/>
<line x1="253" y1="77.3" x2="253" y2="78.8" stroke="#444" stroke-width="0.7"/>
<line x1="271" y1="77.3" x2="271" y2="78.8" stroke="#444" stroke-width="0.7"/>
<line x1="289.4" y1="77.3" x2="289.4" y2="78.8" stroke="#444" stroke-width="0.7"/>
<text x="244.5" y="94" font-size="5.5" font-weight="bold" text-anchor="middle" textLength="9" lengthAdjust="spacingAndGlyphs">CD8</text>
<text transform="translate(202 52) rotate(-90)" font-size="4" textLength="30" lengthAdjust="spacingAndGlyphs" fill="#333">FL3-H: CD8 PerCP</text>
<text x="272" y="8" font-size="3.8" fill="#222">CD4</text>
<text x="272" y="13" font-size="3.8" fill="#222">63.84%</text>
<g stroke="#000" stroke-width="1" stroke-opacity="0.42" filter="url(#bl)">
<path d="M363 32.5h1M338.5 33h1M353 40h1M338.5 38h1M342.5 26.5h1M353.5 44h1M363 32h1M359.5 37.5h1M339.5 34.5h1M350.5 25h1M362 37h1M353.5 37h1M367.5 47h1M322.5 44h1M340.5 46.5h1M361 30.5h1M338 30.5h1M343.5 24h1M365.5 33.5h1M351.5 16h1M346 36h1M359.5 36.5h1M353 30h1M360 36h1M339 40.5h1M342 41h1M346 37.5h1M371.5 57.5h1M358.5 29h1M351 38.5h1M343 59.5h1M353 47.5h1M355.5 35h1M342.5 24h1M365 15h1M370.5 46h1M355.5 35h1M352.5 38h1M355 25h1M366 45h1M355.5 50h1M357.5 41.5h1M338 38h1M347.5 35h1M358 46h1M354.5 22.5h1M337 30h1M350 16.5h1M340.5 29.5h1M359.5 40h1M361.5 46h1M344.5 44.5h1M366 41h1M354.5 51h1M352.5 46.5h1M357.5 27.5h1M363.5 41.5h1M373 43.5h1M342.5 24.5h1M373.5 38.5h1M344 39h1M355 30h1M354.5 49.5h1M351 27h1M357 29.5h1M365 32.5h1M362.5 26h1M370.5 67.5h1M340 47.5h1M340.5 30h1M362 58h1M346 50h1M365.5 24.5h1M352.5 25h1M341.5 42.5h1M349 44h1M345 24.5h1M351.5 51.5h1M371.5 58h1M352.5 36.5h1M366.5 40h1M360 26.5h1M361.5 25h1M355.5 52h1M350 55h1M355.5 39h1M373.5 54h1M341.5 43.5h1M351 35.5h1M354 29.5h1M340 21h1M352.5 30.5h1M368.5 43.5h1M351.5 37h1M348.5 30.5h1M346.5 42.5h1M357 32.5h1M359.5 22.5h1M364 53.5h1M369 23h1M353.5 33h1M347.5 33.5h1M371.5 40.5h1M345 34.5h1M348.5 20.5h1M355 30.5h1M367.5 37.5h1M368.5 18.5h1M358.5 31h1M368.5 46.5h1M345.5 25.5h1M351.5 44h1M362.5 36.5h1M349 31.5h1M378.5 61h1M368.5 51.5h1M346 37.5h1M356 43h1M335 42.5h1M348.5 36.5h1M350.5 25.5h1M367.5 31h1M367.5 36h1M352 32h1M348.5 18.5h1M349.5 44.5h1M347.5 47h1M369.5 24.5h1M361.5 35.5h1M340 44.5h1M355 29.5h1M348.5 45h1M344 36h1M345 25.5h1M346 36.5h1M356.5 49h1M359.5 31h1M361 36h1M364 20h1M349.5 49h1M353 40h1M316 56.5h1M370 40.5h1M361 35.5h1M370 26h1M369.5 27h1M338.5 32h1M367 46h1M363 47h1M363.5 31.5h1M353 40.5h1M356.5 24.5h1M362 33.5h1M353.5 33h1M360.5 39.5h1M365 43.5h1M348.5 26h1M361 24.5h1M347.5 51.5h1M347 35.5h1M366.5 47.5h1M364 37h1M367.5 35.5h1M342.5 45h1M340 53h1M355 40.5h1M358 42h1M345 48.5h1M363.5 33h1M360 37.5h1M363.5 35h1M365.5 47h1M353.5 41h1M367.5 52.5h1M347.5 46.5h1M355 41.5h1M371.5 32h1M358 26h1M347 44.5h1M352 26h1M360.5 23.5h1M353.5 40h1M360 27h1M359 42h1M368 22.5h1M360.5 24h1M339.5 35.5h1M363.5 49h1M372.5 54.5h1M349.5 34.5h1M365.5 24h1M370 59.5h1M360 47.5h1M355.5 39.5h1M348 37.5h1M358 19h1M349 38.5h1M351 46.5h1M355 34.5h1M352.5 28h1M356 41.5h1M356.5 31.5h1M370 30h1M379.5 58h1M352 47.5h1M355.5 36h1M365.5 51.5h1M377.5 59h1M367 31.5h1M372 53.5h1M351 48h1M371 43h1M341.5 26.5h1M352 42h1M369 30.5h1M346.5 33h1M356 30h1M338 40h1M366 37h1M352 31.5h1M361.5 27h1M372 22.5h1M343 37.5h1M361.5 34.5h1M375 56h1M350 34.5h1M368.5 32.5h1M350.5 40.5h1M368 63h1M357 49h1M373 61.5h1M339 29h1M360.5 44h1M368 28h1M351 36h1M349 33.5h1M352 35.5h1M359.5 34h1M370 59h1M367.5 53.5h1M346 28.5h1M363.5 30.5h1M351.5 21.5h1M354 33h1M360.5 46h1M340 19h1M362 24h1M356 36h1M339.5 29.5h1M351.5 71.5h1M359.5 44h1M370 25.5h1M345 17h1M335.5 37.5h1M353 38h1M345.5 42h1M372 41.5h1M371 56h1M374 30h1M356.5 19h1M360 33.5h1M362 38h1M348 44h1M356 36h1M342 45h1M373 34h1M360.5 29.5h1M372.5 33.5h1M354 36h1M368 48.5h1M367 44h1M371.5 25h1M340.5 38h1M375 46.5h1M350.5 34.5h1M351.5 44.5h1M349.5 50.5h1M360 27h1M368.5 39h1M349 44.5h1M341.5 37.5h1M356 35.5h1M355 46.5h1M373.5 57.5h1M341.5 40.5h1M375 47.5h1M342.5 33.5h1M353.5 28.5h1M353.5 33.5h1M366 33h1M341 38.5h1M342.5 50h1M365 34h1M363 31h1M365.5 36h1M373 61h1M372.5 31h1M341.5 46h1M345 50h1M362.5 30.5h1M362 35.5h1M345.5 34h1M345 39h1M373.5 28.5h1M369 25.5h1M347.5 33h1M374.5 29.5h1M343 38h1M372 53.5h1M348 55h1M376.5 54h1M345 28.5h1M368.5 39h1M365 25.5h1M370.5 54.5h1M367.5 31h1M369.5 49h1M374.5 58h1M355.5 32h1M365.5 37.5h1M350 44h1M357 52.5h1M371.5 58h1M347 41h1M367 37h1M368 26h1M378 60h1M342 50.5h1M364.5 31.5h1M372.5 48h1M374.5 55h1M344.5 44.5h1M366 29.5h1M366.5 28h1M359.5 31h1M370 32.5h1M344.5 15.5h1M357.5 29h1M355.5 52h1M340 49h1M351.5 39h1M346.5 24h1M363.5 31h1M370.5 32.5h1M341 45h1M365.5 52.5h1M344.5 22.5h1M349.5 36h1M358 36h1M368 26.5h1M363.5 42h1M348 30.5h1M356 30.5h1M345.5 49.5h1M370.5 31.5h1M347 32h1M348 41.5h1M363.5 32.5h1M367.5 40h1M347.5 42.5h1M350.5 41.5h1M360.5 37h1M367 27h1M346.5 46h1M355 43h1M372 20.5h1M359 35h1M366 26.5h1M353.5 19h1M356 32h1M338.5 53h1M373 41.5h1M327 12.5h1M341 46h1M339 42.5h1M350 39h1M364.5 28.5h1M372 55h1M368.5 54.5h1M342.5 30h1M356 36h1M354 36.5h1M364 20h1M362 29.5h1M354.5 46.5h1M342 39.5h1M352.5 53h1M351.5 32h1M366.5 28.5h1M355.5 28.5h1M361.5 34.5h1M362.5 36h1M337 39h1M342.5 42h1M354.5 27h1M317 71.5h1M361.5 31.5h1M353.5 53.5h1M359.5 45h1M350.5 38h1M348 30.5h1M354.5 16.5h1M364.5 34h1M339.5 17.5h1M355 33.5h1M352 38h1M357.5 45.5h1M367.5 37.5h1M345 29.5h1M348.5 53.5h1M369 41.5h1M351.5 35.5h1M362.5 37h1M355 20h1M328 27.5h1M354 32h1M369 42.5h1M343 20.5h1M351 25.5h1M371.5 42h1M359.5 41h1M368 42h1M378 63h1M345 37.5h1M350.5 43h1M372 30h1M367.5 46.5h1M365 27h1M357 40.5h1M339 45.5h1M341.5 36h1M374 34h1M345 24h1M362 33.5h1M364 29h1M366.5 24h1M361.5 34h1M340.5 37.5h1M346 22h1M348.5 35h1M360 31h1M348 39h1M355.5 46h1M366 23h1M357.5 35.5h1M356.5 38h1M341 36.5h1M350 39.5h1M351 32h1M358 32.5h1M376.5 61h1M358.5 23h1M348.5 35h1M354 34.5h1M372 35.5h1M365 34h1M374 43h1M349 36.5h1M344 30h1M373 23h1M371.5 64h1M348.5 29.5h1M352.5 44h1M361.5 23.5h1M366 37h1M350.5 45.5h1M362 31.5h1M350 26.5h1M373 56h1M359.5 35h1M346.5 40.5h1M348.5 30.5h1M355.5 55h1M368 34.5h1M369 37h1M361 40.5h1M361 24h1M342 55h1M364.5 26.5h1M370.5 55h1M350 36.5h1M372 24.5h1M344 37h1M352 32h1M345 31.5h1M354.5 45h1M357 29.5h1M369.5 57h1M352.5 34h1M349.5 29.5h1M340 36h1M341 43h1M337.5 44h1M359 44.5h1M365.5 33h1M361 33.5h1M344 47h1M374.5 41.5h1M343.5 38h1M366 37h1M345 30h1M358 20.5h1M360.5 41h1M370 51.5h1M341.5 43h1M371 57.5h1M354 23.5h1M371 33.5h1M346.5 29h1M370 57.5h1M379 56h1M357.5 30h1M348 30h1M364.5 23.5h1M347 25h1M359.5 49h1M354.5 43h1M346 30h1M372 27h1M360.5 44h1M369 42h1M351 39.5h1M352.5 33h1M349 26.5h1M362 43.5h1M357 28.5h1M346 46.5h1M342 37.5h1M341.5 33h1M367.5 38.5h1M355 28h1M340 20h1M369 27.5h1M358 36h1M347 44h1M359.5 39h1M368.5 30h1M355 52h1M348.5 36.5h1M358.5 24h1"/>
<path d="M350 34h1M361.5 42.5h1M365 24h1M370.5 58h1M364.5 31.5h1M345.5 26.5h1M358 45h1M366.5 25.5h1M356.5 33.5h1M360 45.5h1M350 34.5h1M338.5 28.5h1M365 51.5h1M354.5 23.5h1M346.5 33.5h1M359 28.5h1M351.5 36.5h1M357 34.5h1M367.5 40h1M363.5 43h1M343.5 15h1M342.5 36.5h1M359 23h1M365 30h1M356.5 34h1M358.5 54h1M352.5 36h1M370.5 29h1M365 19h1M344.5 38.5h1M368 47.5h1M370.5 40h1M359 40h1M369 37.5h1M352.5 57.5h1M364 30h1M345 40.5h1M364.5 35.5h1M360 43h1M364 41h1M352.5 27.5h1M358.5 47h1M361.5 26.5h1M361 40.5h1M356.5 29.5h1M353 44h1M322.5 27.5h1M350.5 43.5h1M355.5 40.5h1M340 36h1M351.5 38h1M348.5 27h1M357 19.5h1M353.5 46.5h1M347 24h1M368.5 40.5h1M370 42.5h1M355.5 29.5h1M356.5 29h1M371 37.5h1M380 56.5h1M343 41h1M368 36.5h1M345 39.5h1M373 58h1M345.5 29h1M351.5 45h1M367.5 41h1M341.5 35h1M359 42h1M372.5 15h1M366 39h1M340.5 46h1M362 38h1M363.5 54.5h1M351.5 31h1M360.5 38.5h1M364.5 29h1M364.5 28h1M345.5 33h1M346.5 33h1M341 39.5h1M343 43.5h1M357 24.5h1M359.5 36h1M361 48h1M366.5 34h1M349.5 37h1M369 35h1M362 50.5h1M361.5 44.5h1M374 59.5h1M345.5 34.5h1M358 43h1M364 32.5h1M365 55.5h1M344 38h1M348 30h1M348.5 37h1M357.5 39.5h1M358 31h1M374.5 63h1M349 34h1M352 31.5h1M345.5 35h1M341 27h1M373.5 60.5h1M345.5 29.5h1M377.5 28h1M348 16h1M375 46h1M375.5 57.5h1M339.5 62h1M375 62h1M348.5 38.5h1M369.5 30h1M347.5 31h1M336 24.5h1M360.5 27.5h1M357 41.5h1M366.5 29.5h1M369.5 18h1M361 37.5h1M355 52.5h1M359.5 34.5h1M360 44.5h1M339.5 24.5h1M361 36.5h1M341.5 20.5h1M367.5 32h1M349.5 41.5h1M372 33h1M375.5 26.5h1M358 42.5h1M352 36.5h1M356.5 26.5h1M360.5 40.5h1M364 31.5h1M344.5 49h1M362.5 27h1M347.5 42.5h1M357.5 38h1M341 29.5h1M373 46.5h1M359 38h1M341.5 44h1M361 25h1M340 23.5h1M365.5 34.5h1M357.5 48h1M346.5 34h1M348.5 19.5h1M341.5 50h1M346.5 43h1M351.5 35.5h1M367 19h1M360 40h1M364.5 53h1M364.5 33h1M342 36h1M369.5 45.5h1M340 36h1M372 36h1M367 36h1M372 27.5h1M351 29.5h1M373 39h1M361 34h1M368.5 37.5h1M368 35h1M359 31h1M338 45.5h1M357.5 19.5h1M360.5 36h1M351.5 37h1M349 42.5h1M345.5 41h1M362 35.5h1M369 39.5h1M338.5 18h1M351.5 33.5h1M356 45.5h1M369.5 24h1M373 31h1M356.5 32h1M359 36h1M353.5 34.5h1M369 34.5h1M359 36h1M346.5 31.5h1M361 47h1M370 29.5h1M358 24.5h1M366 45h1M361.5 35h1M360 30h1M350 22h1M364.5 58h1M362 18h1M351.5 31h1M375 20.5h1M361.5 30.5h1M358 46.5h1M347 30.5h1M342.5 47.5h1M349 29h1M359 34.5h1M371.5 36.5h1M342 34h1M370 49.5h1M356.5 42.5h1M352.5 12.5h1M358.5 28.5h1M367.5 32h1M356 35.5h1M360.5 15.5h1M342.5 41.5h1M365.5 29h1M359.5 40.5h1M347.5 74.5h1M362.5 33.5h1M361 41.5h1M350 31h1M370 39.5h1M353.5 33h1M345 30.5h1M346 33h1M364 32h1M367 31.5h1M374.5 32h1M367.5 35h1M367.5 25.5h1M353 34.5h1M346 24.5h1M353.5 43h1M357 48.5h1M355 50h1M365.5 51h1M364 28h1M351.5 38.5h1M346 41.5h1M346 25.5h1M355.5 42h1M372 32h1M340.5 16.5h1M360.5 53h1M341.5 34h1M347 22h1M354 37h1M362 34h1M371 49.5h1M341.5 40h1M346.5 31h1M360.5 42h1M339.5 36h1M345.5 46.5h1M366.5 31h1M354 29h1M357.5 38h1M338.5 47h1M370.5 36.5h1M371 36h1M343.5 21h1M373.5 60h1M363 33h1M354.5 44.5h1M361 36.5h1M365 44.5h1M364 43.5h1M362 32.5h1M370 37.5h1M339.5 22h1M349.5 59h1M376.5 26.5h1M353 51.5h1M352 38.5h1M340 40.5h1M358 41h1M340.5 50h1M348 24h1M356 30h1M356.5 27.5h1M359.5 38.5h1M354 23h1M371.5 42.5h1M364.5 44.5h1M372.5 49.5h1M354.5 38h1M361.5 29.5h1M343.5 27h1M355 28h1M359.5 36h1M366.5 32h1M368 29.5h1M345 35.5h1M354.5 38.5h1M360 32h1M347.5 27h1M350.5 44h1M362.5 29.5h1M361.5 43.5h1M341 24.5h1M363.5 20h1M344.5 33.5h1M367 30h1M371.5 51.5h1M348 40.5h1M364 45h1M362 37h1M368.5 57h1M341.5 47.5h1M357 23.5h1M352.5 41.5h1M345 41h1M359.5 42.5h1M362.5 40h1M338.5 30.5h1M345.5 29h1M362 48h1M367 43.5h1M348.5 41.5h1M351 41h1M348 39.5h1M364.5 40.5h1M358 28.5h1M341.5 40.5h1M355 40h1M348.5 46h1M361.5 43.5h1M358 32h1M357 23.5h1M348.5 49h1M367.5 45.5h1M355.5 15h1M365 26.5h1M372.5 35.5h1M368 56.5h1M361.5 36h1M366.5 45.5h1M372 59.5h1M352 45h1M369.5 44.5h1M368.5 40.5h1M361.5 35h1M371 44h1M370 45.5h1M364 24.5h1M374.5 57h1M352.5 47h1M347 55h1M365.5 44h1M328.5 35h1M354 54h1M369 38h1M357 30h1M368.5 30.5h1M359 37h1M347.5 21h1M369.5 57.5h1M360 43.5h1M339 40h1M372 40.5h1M372 28h1M345.5 41.5h1M371.5 17.5h1M361 55.5h1M359 50.5h1M342 45h1M366 34.5h1M348 47.5h1M359 25h1M358 36.5h1M353 31.5h1M375 33h1M370.5 50.5h1M344 36.5h1M373.5 28.5h1M359 29.5h1M344.5 36.5h1M338 43.5h1M360 37h1M358.5 48.5h1M342 17.5h1M358.5 48.5h1M372 37.5h1M355 39.5h1M347.5 38.5h1M362.5 37h1M359.5 43.5h1M370.5 48h1M361.5 44.5h1M354 35.5h1M371 25.5h1M355.5 37h1M352 45h1M363 41h1M357 35.5h1M360.5 44.5h1M340.5 42.5h1M356 28.5h1M341.5 36.5h1M354.5 33.5h1M358 38h1M367.5 54h1M340 48h1M356 30.5h1M347 39.5h1M354.5 33.5h1M360 34.5h1M349 33.5h1M337 40.5h1M354 43h1M357 28.5h1M357.5 45h1M358.5 44h1M351.5 40h1M354 36.5h1M372.5 28.5h1M358 27.5h1M355 25h1M356.5 29h1M360 26h1M347.5 36.5h1M353 35.5h1M372 35h1M363 46h1M368 39.5h1M357 30h1M339 44.5h1M369 42h1M368 46.5h1M365 47h1M372.5 61h1M371.5 42h1M355 41h1M347.5 21.5h1M371.5 44.5h1M361 24.5h1M366 30h1M372.5 29h1M313 12h1M346.5 34h1M364 35.5h1M349.5 42.5h1M352.5 46.5h1M344 34h1M343 19.5h1M343.5 33.5h1M355.5 35h1M357.5 25h1M367.5 23.5h1M362.5 37h1M372.5 43.5h1M355 32h1M361.5 34.5h1M366.5 40h1M361.5 30.5h1M368.5 52.5h1M344.5 39h1M365 33h1M363.5 38.5h1M362.5 30h1M372 34.5h1M354 53h1M362.5 32h1M361.5 24.5h1M354 38.5h1M347 24h1M371.5 35h1M372 48.5h1M353.5 31.5h1M341 41h1M358 36h1M346.5 15h1M343 35h1M359.5 42h1M342.5 27.5h1M346 30.5h1M340 43.5h1M342 25h1M344 37h1M358.5 40h1M354 28.5h1M366.5 36h1M336 33.5h1M344.5 28.5h1M369 41.5h1M361.5 40h1M372.5 51.5h1M359.5 47.5h1M363 33h1M356 39.5h1M345 31h1M349.5 50h1M367.5 46h1M339.5 26.5h1M358.5 31.5h1M340.5 25.5h1M345 30h1M344.5 45.5h1M357 36h1M374 27h1M354.5 33.5h1M364 34h1M370.5 35.5h1M345.5 27h1M366.5 25.5h1M355 38.5h1M342 59h1M350.5 41.5h1M361.5 32.5h1M357.5 26.5h1M348.5 37.5h1M350 42h1M354 25.5h1M367 25h1M346.5 42.5h1M352.5 27.5h1M342 33.5h1M343.5 31.5h1M338.5 29h1M373.5 51h1M362.5 29h1M369.5 48.5h1M348.5 19.5h1M357.5 46h1M361 31h1M342 37.5h1M367.5 34h1M348 41.5h1M359 37.5h1M348.5 35.5h1M371.5 23h1M365 30.5h1M352 52h1M369 27h1M345.5 31h1M359.5 49.5h1M376 58.5h1M364 37.5h1"/>
<path d="M359 32.5h1M350 51.5h1M358.5 29.5h1M374.5 59.5h1M356.5 58.5h1M357 38.5h1M353.5 51h1M351.5 34.5h1M371.5 34h1M361.5 30h1M348.5 36h1M360.5 53.5h1M376.5 43h1M365 41h1M347.5 31h1M345 28h1M358.5 48.5h1M349.5 35.5h1M358.5 27h1M358.5 37h1M357 33.5h1M362 37.5h1M343 42h1M333.5 26.5h1M364 37h1M339.5 49h1M341 53.5h1M353 33.5h1M358 31.5h1M345 47h1M354.5 27h1M348.5 49h1M365 41h1M354 36h1M357.5 36h1M347 36h1M364 26h1M370 36h1M350.5 29.5h1M347.5 30h1M369.5 36.5h1M352.5 31h1M364.5 22.5h1M370 41h1M339.5 30.5h1M337 43.5h1M376.5 55h1M343.5 42h1M357 31.5h1M347.5 36h1M339 49h1M350 33.5h1M361.5 15h1M355 33h1M367 24.5h1M356 43.5h1M367.5 20h1M341.5 37.5h1M371.5 44.5h1M341.5 55h1M347 37h1M352 56h1M341 34h1M349.5 37h1M374.5 55h1M354 39.5h1M346.5 30h1M356.5 45h1M360 44h1M355.5 40.5h1M374 25.5h1M358.5 53h1M346.5 45.5h1M348.5 34.5h1M361 24h1M366 28.5h1M359 19.5h1M356 35.5h1M341.5 33.5h1M365.5 49.5h1M361.5 28.5h1M365 26h1M371 33h1M355 28h1M369 44h1M349 44.5h1M367.5 41.5h1M370 56.5h1M352.5 34h1M357 44.5h1M355.5 42.5h1M346.5 44.5h1M369.5 49.5h1M370 42h1M351.5 19h1M350.5 43h1M353.5 44h1M364.5 44.5h1M350 24.5h1M347 23.5h1M362.5 49h1M343 19.5h1M354 32.5h1M372.5 58h1M359.5 34.5h1M360.5 38h1M372.5 30.5h1M338 46h1M360 35.5h1M359.5 33h1M364.5 42h1M369 25h1M360 43.5h1M346.5 45.5h1M361.5 42.5h1M362 31.5h1M366 27h1M356 27.5h1M353.5 42.5h1M377.5 61.5h1M384.5 60.5h1M374.5 27.5h1M336 40h1M365.5 38h1M368.5 40h1M368.5 28h1M375 24.5h1M371.5 48.5h1M372 35h1M350 50h1M345 28.5h1M370.5 55h1M357 42.5h1M362.5 21.5h1M356 36.5h1M371.5 27h1M351 39h1M362 41.5h1M365 25h1M355 28.5h1M348.5 32h1M354.5 41h1M351.5 31h1M346 45.5h1M354 23h1M354.5 33h1M346.5 50.5h1M365 28.5h1M341 33.5h1M337.5 30h1M358.5 22h1M367.5 43h1M359.5 36h1M354.5 32h1M354 25h1M360 24.5h1M355.5 26h1M367 27.5h1M365 55.5h1M354.5 26h1M366 58h1M367 45h1M361 15.5h1M367.5 32h1M367 42.5h1M339.5 32h1M352 42h1M358.5 25h1M359 43.5h1M344.5 40h1M342.5 42h1M358 54.5h1M370.5 59.5h1M378 56.5h1M360.5 41.5h1M369 46h1M337 48.5h1M352 37.5h1M368.5 49.5h1M352 27h1M360.5 29h1M371 28.5h1M362 44.5h1M357.5 44.5h1M345.5 36.5h1M342 29h1M358 30.5h1M363 39.5h1M339 48h1M371.5 50h1M341.5 26h1M355.5 34h1M355.5 28h1M367 20.5h1M361 24.5h1M357 33.5h1M362 56h1M371 34.5h1M338.5 48.5h1M368 46h1M368 47h1M368.5 37h1M354.5 49h1M352.5 20h1M348 28.5h1M370 18h1M349 33h1M352 23h1M357 50h1M371.5 38h1M365 42h1M359 18.5h1M350 45h1M344.5 36h1M344 45h1M364 33.5h1M338 52h1M348 50.5h1M341 45h1M350 41.5h1M364.5 48.5h1M354.5 42.5h1M371 40.5h1M377 61h1M358.5 35.5h1M363.5 46.5h1M359 39.5h1M365 48.5h1M354.5 17.5h1M358.5 25.5h1M348 45.5h1M350 31h1M343 33.5h1M361 46h1M365 40h1M342 28h1M361.5 26.5h1M340 18.5h1M348 47.5h1M373 41.5h1M348 37.5h1M352.5 41h1M355 28.5h1M354 47h1M349.5 39h1M341.5 22h1M354.5 21.5h1M349.5 51h1M342 34.5h1M358.5 30h1M363 36h1M365.5 27h1M358 30h1M356.5 22.5h1M340 23.5h1M370 65.5h1M374.5 60.5h1M335.5 47h1M339 39.5h1M349 45.5h1M371 57h1M355 41h1M345.5 34h1M340.5 48h1M343.5 43h1M346 48h1M373.5 24h1M367.5 48.5h1M350 42h1M367 24h1M342.5 31.5h1M359 33h1M348 38.5h1M360.5 33h1M370.5 44.5h1M359.5 50.5h1M341 41.5h1M362 41h1M337 51h1M366 56.5h1M357.5 39h1M352 56.5h1M368 39h1M351.5 22.5h1M354.5 37h1M346 22.5h1M372.5 32h1M372 47h1M359 41.5h1M355 36h1M348 50.5h1M351 44h1M353 47h1M342 29h1M347.5 47.5h1M365.5 22h1M367.5 42.5h1M363.5 42.5h1M340 58h1M360.5 39h1M345.5 36.5h1M350 35.5h1M358.5 35.5h1M349.5 49.5h1M368 33.5h1M370 32.5h1M359.5 30h1M346 17h1M344.5 43h1M369 45h1M354.5 42.5h1M361 43.5h1M364 42.5h1M345.5 27.5h1M368 23h1M343 40h1M354 33.5h1M342.5 35.5h1M343.5 42h1M370.5 45h1M342.5 38.5h1M372.5 47.5h1M353.5 35h1M345 43.5h1M370.5 51h1M374 31.5h1M345.5 56h1M346 39.5h1M354.5 49h1M367 33h1M359 23h1M360 40h1M357.5 47h1M349 42.5h1M369 47h1M338.5 23h1M366 45h1M370 33.5h1M375 56.5h1M364.5 44.5h1M358.5 41.5h1M370 22.5h1M351 29h1M345 34h1M360 47.5h1M354 42h1M367.5 40h1M343 43.5h1M372.5 55h1M348 37.5h1M351.5 53h1M356 38.5h1M370 33.5h1M346.5 33.5h1M352.5 27.5h1M358.5 35h1M353 15h1M347 42.5h1M343.5 50.5h1M363.5 39.5h1M348 27.5h1M376.5 53h1M374.5 45h1M350 39h1M368.5 15.5h1M365 37.5h1M339.5 21.5h1M352 36.5h1M372 36h1M360 35.5h1M353 31.5h1M359.5 36h1M361 38h1M357.5 37.5h1M354 25h1M356.5 32h1M353.5 29.5h1M343 50.5h1M354.5 43h1M352 39.5h1M372.5 34.5h1M352.5 53h1M367 26.5h1M360 38h1M341.5 42h1M352 35h1M362 19.5h1M343.5 17.5h1M353.5 48h1M347.5 44h1M350.5 35h1M350.5 39h1M320.5 49h1M365.5 28.5h1M352.5 41h1M343 31.5h1M349.5 24h1M351 41.5h1M358.5 29h1M346 42h1M366.5 41.5h1M353 42h1M361.5 27h1M350.5 34h1M357.5 27h1M343.5 43h1M359.5 36h1M370.5 35.5h1M342.5 56h1M362.5 21.5h1M364.5 36h1M343.5 28h1M339.5 51.5h1M359.5 23.5h1M353 33h1M357 20h1M364 58h1M365.5 36h1M363 41h1M352 54.5h1M340.5 46.5h1M340 57h1M372 44h1M354.5 35.5h1M363 35.5h1M345.5 31.5h1M342.5 39h1M360 35.5h1M354.5 34h1M353 13.5h1M341.5 20h1M361.5 46.5h1M354 39h1M361.5 26.5h1M372.5 26h1M349 33h1M342.5 56.5h1M357.5 29h1M350.5 24.5h1M364.5 35.5h1M358.5 25.5h1M371 16.5h1M350 58.5h1M341.5 43.5h1M342.5 36.5h1M350.5 23.5h1M359 35.5h1M373.5 31.5h1M373 64h1M346.5 29.5h1M346.5 31.5h1M355 38.5h1M356.5 38h1M355 24.5h1M375.5 43.5h1M342 53.5h1M346.5 30h1M354 38h1M361.5 30.5h1M371.5 55h1M346 31h1M352 30h1M362.5 52h1M373 39.5h1M367.5 31h1M355.5 37h1M362.5 46.5h1M366.5 47h1M367.5 34h1M361 30h1M349 40.5h1M372.5 32.5h1M363.5 53.5h1M356.5 35.5h1M354.5 26.5h1M349 41.5h1M358 38.5h1M355.5 35h1M358.5 43h1M365.5 45.5h1M375.5 58h1M348 48h1M366 40h1M359.5 26h1M373 37h1M368 27.5h1M367 41h1M358 55h1M354 41h1M351.5 8h1M360 28h1M350.5 47.5h1M312.5 43h1M364.5 31.5h1M347 35h1M371 35.5h1M356 37h1M373 32.5h1M367.5 19.5h1M368.5 22h1M348 47.5h1M372 28h1M350 23h1M368.5 56.5h1M365.5 39h1M339 21.5h1M364.5 33.5h1M365 36h1M349.5 28h1M360 42.5h1M371.5 18.5h1M362.5 25.5h1M356 50.5h1M345 30h1M345 57.5h1M362 34h1M361.5 45h1M348 31h1M353.5 25h1M373.5 24h1M349.5 35.5h1M354.5 29h1M366.5 44.5h1M369 24h1M352 48h1M362.5 30.5h1M349.5 33.5h1M345 35h1M355.5 43h1M343.5 53.5h1M372.5 34.5h1M356 49.5h1M368.5 39h1M356.5 40h1M348 43h1M357 25.5h1M341 31h1M360 37.5h1M366.5 59.5h1M370 49h1"/>
<path d="M346 34h1M343.5 37h1M369 23.5h1M351.5 39.5h1M371.5 30.5h1M359 32h1M372.5 59h1M341 29h1M359.5 46.5h1M344 44.5h1M375 55.5h1M354.5 27h1M379 55.5h1M359 48.5h1M357 23h1M359 45.5h1M366 46.5h1M361 42.5h1M373.5 31h1M351 35.5h1M363 45.5h1M352.5 35.5h1M358.5 43h1M364.5 56.5h1M365 27.5h1M373 55h1M360 30.5h1M354.5 44h1M344 25h1M366.5 37.5h1M371 58.5h1M372.5 61h1M353.5 28h1M354 36.5h1M358.5 41h1M362 29h1M360 29.5h1M353 28.5h1M350 33.5h1M357.5 32.5h1M348.5 28h1M347 45h1M353 35h1M337.5 47.5h1M346 26.5h1M369.5 43.5h1M355 50.5h1M341 39.5h1M367.5 43.5h1M360 43.5h1M355 42.5h1M339.5 29.5h1M358 27h1M368.5 37h1M338 46.5h1M339 72h1M360.5 46.5h1M353 47.5h1M347.5 49.5h1M340 17.5h1M359.5 46h1M368.5 33h1M371 54.5h1M376 55.5h1M370.5 47.5h1M367.5 38.5h1M361 39h1M345 32.5h1M343 35.5h1M372 45h1M352 32.5h1M351.5 37.5h1M363.5 25h1M356.5 33.5h1M372 28.5h1M372.5 46h1M362.5 47h1M363 35.5h1M374.5 55.5h1M346.5 47h1M370 32.5h1M341.5 26.5h1M361.5 27.5h1M345 36h1M362 46.5h1M362 33.5h1M348 44h1M346 38h1M350.5 32.5h1M370.5 19h1M343.5 38.5h1M355.5 35h1M343 35h1M360.5 34h1M369.5 29h1M362 47h1M358.5 31.5h1M358 46h1M342.5 41h1M347 52.5h1M363 28h1M356.5 38h1M346 49h1M346 41h1M340 40.5h1M362 31h1M344.5 22h1M369.5 33.5h1M353.5 37.5h1M368 23.5h1M341.5 53.5h1M356.5 41.5h1M373.5 43.5h1M370.5 20.5h1M351 30h1M339.5 42.5h1M355 15.5h1M345 49h1M349 34.5h1M347.5 40.5h1M364.5 22.5h1M359 23.5h1M349.5 24h1M372 43.5h1M374.5 31.5h1M351.5 35h1M356 36.5h1M355 51h1M349 28.5h1M372.5 60h1M349 25.5h1M347.5 40.5h1M366 56h1M349 34h1M358.5 21h1M360 20.5h1M372 59h1M359.5 39h1M343.5 29h1M362.5 16h1M341 46h1M362 38h1M368.5 21.5h1M358.5 57h1M354.5 39.5h1M368.5 58h1M351.5 29h1M368.5 36h1M359.5 25h1M344.5 40.5h1M351.5 41h1M356 35.5h1M368.5 27h1M372.5 49h1M366 31.5h1M348 36.5h1M359.5 46.5h1M357 45h1M362 37.5h1M363 26.5h1M362.5 38.5h1M345 41.5h1M363 24.5h1M346.5 28.5h1M355 44.5h1M361.5 31h1M351.5 32.5h1M365.5 34.5h1M362.5 33.5h1M371.5 41.5h1M357.5 39.5h1M342.5 37.5h1M340.5 35h1M365 34h1M355.5 36h1M364 36.5h1M344.5 36.5h1M363 37.5h1M338.5 41h1M369 39h1M372.5 55h1M367.5 35h1M372.5 57h1M340.5 34.5h1M358 36.5h1M357 42h1M346.5 41h1M341.5 23.5h1M355.5 38.5h1M352.5 27.5h1M362.5 30.5h1M347.5 52.5h1M357 31.5h1M351.5 38h1M340.5 30.5h1M346.5 41h1M349.5 31.5h1M367.5 47h1M365 37h1M369 54.5h1M361 38h1M347.5 43h1M368.5 44.5h1M371 44h1M364 23h1M343 48h1M364 26h1M361.5 40.5h1M341.5 31h1M352 53.5h1M341 44h1M357 37h1M356 30h1M357 38h1M353 26h1M337.5 42.5h1M356 37h1M373.5 51.5h1M376.5 32h1M359.5 40h1M358.5 43.5h1M375 38.5h1M375.5 55.5h1M358 45.5h1M354 33h1M364.5 36h1M357.5 42h1M329.5 18h1M360 25h1M360.5 28.5h1M370 38.5h1M346 29.5h1M370 34.5h1M363.5 35.5h1M369 38.5h1M351 28.5h1M368 25h1M378 42h1M358 26.5h1M346 43.5h1M345 33.5h1M354.5 37h1M365 38h1M339 39h1M353 50h1M346.5 47.5h1M338.5 34h1M368 49h1M359.5 48.5h1M342.5 28h1M370.5 60h1M365.5 25.5h1M340.5 36h1M373 33.5h1M368 27h1M342.5 26h1M351.5 27h1M350.5 47h1M342.5 37h1M354 49h1M349 37h1M351 53h1M349.5 38h1M352.5 34h1M340 38.5h1M342 39h1M342 43h1M370 41h1M342 51h1M369.5 34.5h1M353 42.5h1M340 23.5h1M365 41h1M356 32h1M371 32.5h1M360 32.5h1M370.5 42h1M368 21.5h1M338 53.5h1M375 27.5h1M365.5 22.5h1M366.5 40.5h1M365 27h1M357.5 51.5h1M343.5 39.5h1M344.5 28h1M368 46.5h1M367.5 29h1M355 44.5h1M359.5 54h1M363.5 38h1M358 30.5h1M369 54.5h1M348 37h1M340 38.5h1M354 22h1M341 30.5h1M351.5 35.5h1M357 32.5h1M362.5 21h1M358.5 29h1M364 33.5h1M374.5 55h1M363 20h1M367 58.5h1M346.5 17h1M343.5 27h1M337.5 46h1M352.5 26.5h1M354 35.5h1M356.5 43h1M353.5 39h1M357.5 51.5h1M350.5 34.5h1M361 43h1M354.5 35.5h1M371 23.5h1M366.5 40h1M358.5 33h1M338 25h1M339.5 35h1M365 28.5h1M352.5 50h1M337.5 30.5h1M365.5 42.5h1M345.5 57.5h1M367.5 22h1M368.5 36.5h1M350.5 31.5h1M359.5 31h1M362.5 23.5h1M354 43h1M352.5 44.5h1M342 39.5h1M354 35.5h1M369 30h1M358 25.5h1M341.5 54.5h1M354.5 21h1M342 29.5h1M346.5 39.5h1M355 31h1M345 26h1M367 50h1M365.5 35.5h1M340 39.5h1M340 46.5h1M346 44h1M354.5 29h1M353 17.5h1M376 62h1M365 48h1M353 46.5h1M363 19.5h1M334 40.5h1M370 42.5h1M345.5 29h1M351 43.5h1M370.5 57.5h1M370.5 42.5h1M372 34h1M369.5 44.5h1M371 35.5h1M366.5 28.5h1M355 26h1M353.5 39.5h1M340.5 54h1M354.5 30h1M350 47.5h1M355 25.5h1M357 38.5h1M356.5 38.5h1M357.5 46h1M348 39h1M339 30h1M351.5 37.5h1M368 43.5h1M369.5 41h1M346.5 21.5h1M353 32h1M352.5 30h1M353.5 37.5h1M356 35h1M358 38.5h1M355.5 43.5h1M326.5 63h1M340.5 52.5h1M364 36.5h1M362 31.5h1M350.5 35h1M343 26.5h1M357 47.5h1M358.5 23.5h1M369 36.5h1M368.5 45h1M350 42h1M352 28h1M370.5 37h1M373 24.5h1M371 38h1M347 32h1M364.5 45h1M355.5 40.5h1M370.5 24.5h1M359.5 35h1M365.5 35h1M339 31h1M363.5 26.5h1M361.5 31h1M373.5 44h1M372 35h1M345.5 31.5h1M362 40h1M374.5 65.5h1M368.5 31.5h1M365.5 27h1M358.5 42h1M348 36h1M361 41.5h1M348 26.5h1M339.5 26.5h1M340.5 28.5h1M379 60.5h1M365.5 41h1M363.5 35h1M364.5 46h1M360.5 31.5h1M346 29h1M362 50.5h1M357.5 29h1M366.5 38h1M370.5 32h1M347 37h1M350 25h1M351 36.5h1M350.5 50h1M367 24.5h1M367 26h1M365.5 32.5h1M358.5 34h1M358 53h1M359.5 26h1M364.5 19h1M341 37.5h1M356 31h1M369.5 41h1M378 63h1M345 35.5h1M354.5 34.5h1M354.5 33h1M339 37.5h1M358.5 19h1M358.5 27.5h1M372.5 31.5h1M355.5 32h1M376.5 61h1M346.5 46.5h1M340 40h1M370.5 9.5h1M338 37h1M352 29h1M354.5 42h1M368.5 49.5h1M353 41.5h1M371 37h1M358.5 31.5h1M367 41h1M352 40h1M341.5 41h1M348 34.5h1M361.5 36.5h1M361 44h1M359 27.5h1M360 27.5h1M350.5 33h1M341.5 38.5h1M363.5 21h1M370 40h1M337.5 26h1M348 24h1M351 18.5h1M375 38.5h1M362.5 34.5h1M345.5 29h1M346.5 35.5h1M351 46h1M348 39.5h1M346 46h1M361 32.5h1M371 47.5h1M371 26.5h1M355.5 42.5h1M359.5 40.5h1M350.5 38h1M355.5 38h1M360.5 42h1M355 33h1M359.5 25h1M358 35.5h1M355.5 35.5h1M372 31.5h1M357 40.5h1M360.5 19h1M370.5 53.5h1M372 48h1M357 56.5h1M349 39.5h1M371.5 63h1M343.5 31h1M341.5 38h1M344 40h1M367.5 49h1M359.5 17.5h1M351 38.5h1M362.5 45h1M371.5 30.5h1M364.5 35.5h1M347.5 35.5h1M369 36.5h1M349 26h1M351.5 49.5h1M362.5 52h1M356 40.5h1M368.5 42h1M367 60h1M362.5 18.5h1M352.5 34h1M351 52h1M349.5 37.5h1M371.5 35h1M372.5 39.5h1M372 40h1M339.5 36h1M335 36h1M353 42.5h1M358.5 41h1M354.5 27.5h1M349 31.5h1M352.5 34.5h1M352 26h1"/>
<path d="M370 25h1M345.5 38h1M369 42h1M353.5 26.5h1M345.5 42h1M356 37.5h1M340 41.5h1M357.5 32.5h1M357 25h1M349.5 17h1M351.5 43h1M351.5 47.5h1M354.5 37h1M361 31.5h1M347 40.5h1M360 41h1M349.5 35h1M365.5 38h1M352.5 31.5h1M359.5 45h1M353.5 32h1M377 52.5h1M359 30.5h1M345.5 39h1M353 53.5h1M353 33h1M344.5 31h1M364.5 32h1M339 53h1M378.5 62h1M374.5 49.5h1M334.5 27.5h1M371 45h1M341 53h1M347.5 38h1M363.5 40h1M360 40.5h1M362.5 46.5h1M351.5 34h1M360.5 30.5h1M354.5 50h1M361.5 33.5h1M359.5 34.5h1M354.5 47.5h1M366.5 47.5h1M341 29.5h1M344.5 44.5h1M345 26.5h1M371 29.5h1M340.5 36h1M361.5 29h1M361.5 35h1M355 42.5h1M371.5 42.5h1M359 41h1M366.5 31h1M357.5 39.5h1M351 31h1M372.5 44h1M355.5 37.5h1M360 40h1M359 35h1M357.5 50.5h1M346 22h1M362 34.5h1M375.5 29h1M370.5 26.5h1M360.5 36h1M374 41h1M363.5 17h1M352 36h1M365 28h1M364.5 29.5h1M362.5 35.5h1M368 33h1M342.5 31.5h1M356 28.5h1M349.5 35h1M371 31.5h1M347 37.5h1M376.5 62.5h1M362.5 35h1M338.5 24h1M363 35.5h1M371.5 32h1M368.5 33h1M366 29.5h1M365.5 40h1M346.5 35h1M370 44h1M365 32h1M351 15.5h1M366.5 38.5h1M346.5 34h1M357 51.5h1M365 20h1M372 33h1M353.5 41.5h1M346.5 15.5h1M375 33h1M351 40.5h1M353 24h1M358 34.5h1M372 54h1M354.5 47.5h1M351.5 25h1M367 50.5h1M360.5 34h1M366.5 51.5h1M360 46h1M372 19.5h1M377.5 58.5h1M374.5 44.5h1M371.5 38.5h1M351.5 37.5h1M351.5 28.5h1M346 40h1M339.5 30h1M360.5 35.5h1M372 49h1M370 50.5h1M365 35.5h1M341 35h1M351 23.5h1M341 30h1M360 27h1M338 43h1M363 18.5h1M354.5 38h1M356.5 52h1M372 36.5h1M372 61h1M367.5 39.5h1M351 43.5h1M349.5 40.5h1M351.5 32.5h1M360 35.5h1M346.5 54h1M374.5 60.5h1M355 35.5h1M371.5 57.5h1M352 27.5h1M345 23h1M344 44h1M360.5 35.5h1M347 48h1M362.5 43.5h1M349 54h1M345 27.5h1M364 35h1M343.5 43h1M368 40h1M343 31h1M360 41.5h1M349.5 33.5h1M352.5 60h1M366.5 38h1M364.5 42.5h1M343.5 38.5h1M366.5 44.5h1M341.5 45h1M364 26.5h1M370.5 65.5h1M367.5 40.5h1M362 46.5h1M345.5 32.5h1M357 25h1M341.5 41h1M350.5 37h1M355 30.5h1M356 54h1M351.5 27h1M368 35h1M368.5 42.5h1M366 37h1M358 49h1M342 25.5h1M363 38h1M349 32h1M353.5 44.5h1M364 32.5h1M357.5 33h1M361 35.5h1M340 18h1M362 27.5h1M340.5 39.5h1M369.5 45.5h1M358 47h1M345 47.5h1M345 35.5h1M345 45.5h1M349.5 33h1M340.5 56.5h1M337 46h1M340.5 29h1M358 33.5h1M356.5 44h1M352.5 46h1M348 33.5h1M356 32.5h1M350.5 31h1M364 43.5h1M351 41h1M347 24h1M369.5 22.5h1M347 43.5h1M338 32.5h1M358.5 52.5h1M340.5 40.5h1M346.5 50h1M359 46h1M370 35h1M343.5 32.5h1M362 48.5h1M363 59.5h1M350 25.5h1M351.5 25h1M371.5 36.5h1M342.5 38h1M336 40.5h1M352.5 32.5h1M371 31h1M364 17h1M354.5 43.5h1M374.5 64.5h1M351.5 54.5h1M353 42.5h1M357 18h1M366.5 41.5h1M350 37h1M349 35h1M369.5 61.5h1M345.5 40h1M353.5 41h1M352 36h1M344.5 44.5h1M357 43h1M341 39h1M366.5 40h1M359.5 57h1M350.5 45h1M359 23.5h1M350 27.5h1M357.5 26h1M359.5 38h1M347.5 37.5h1M349.5 45h1M367 36h1M343 38h1M341 42.5h1M349 37.5h1M357 42h1M342.5 38h1M357.5 47.5h1M351 26h1M341 40h1M354 33.5h1M355.5 48.5h1M353 36h1M374.5 51.5h1M359.5 43.5h1M341.5 44.5h1M356.5 38.5h1M364.5 40.5h1M360 37h1M371.5 35h1M357 34h1M341 22.5h1M357 22h1M356 49h1M349 49h1M352.5 40h1M360.5 40.5h1M362 43h1M356.5 42.5h1M360 39.5h1M339.5 51h1M363 41h1M350.5 43h1M364.5 49h1M365.5 44h1M373.5 34.5h1M347.5 46h1M362.5 39h1M366.5 37h1M359 20.5h1M358 52.5h1M365 40h1M349 20h1M346 29.5h1M367 47h1M339 37h1M345 40.5h1M363 51h1M358 42.5h1M360.5 29h1M341 53h1M357.5 31.5h1M365 33.5h1M358 51.5h1M342.5 40h1M341.5 23h1M356 41h1M367 59h1M370.5 43h1M347 27h1M351.5 30h1M373 44.5h1M340.5 44.5h1M361.5 36h1M341.5 16h1M369.5 5h1M359 45h1M362.5 30h1M353 30.5h1M340 42h1M339 40.5h1M360 24.5h1M363 36.5h1M351.5 31h1M345.5 37.5h1M359.5 32.5h1M359 51h1M366 40h1M365 37h1M362 46h1M357 43h1M347 47.5h1M352 36h1M341.5 36.5h1M369.5 32.5h1M360 28h1M359.5 41h1M358 30.5h1M352.5 48h1M356 32.5h1M350.5 35.5h1M347 53h1M352 33h1M363.5 45h1M355.5 33.5h1M358.5 32.5h1M368.5 43.5h1M361.5 31h1M365.5 42h1M359.5 36h1M346.5 39h1M351.5 42h1M365 40h1M358.5 46.5h1M341.5 25.5h1M375.5 58.5h1M362 30h1M343.5 25.5h1M342.5 30.5h1M357.5 46h1M360.5 25.5h1M363 23.5h1M373.5 34h1M363 36h1M345 37.5h1M354.5 31.5h1M375.5 22.5h1M373.5 47h1M339.5 43h1M345 36h1M342 35.5h1M345.5 41h1M376 57h1M355 40.5h1M371.5 37h1M339 54.5h1M355.5 37.5h1M338 56h1M359.5 25h1M349.5 34.5h1M352 41h1M356.5 39.5h1M342 18h1M342 44h1M360.5 42.5h1M355.5 48h1M372 45.5h1M356 45h1M360.5 18.5h1M364 33.5h1M336 31h1M361.5 31h1M338.5 41.5h1M358.5 54h1M358.5 37h1M357 32.5h1M364.5 35h1M363.5 32h1M367.5 27.5h1M371 36h1M361.5 34h1M348 37h1M368 52.5h1M356.5 16.5h1M364.5 36h1M342.5 36.5h1M351.5 32.5h1M354.5 52.5h1M366 42.5h1M371 37.5h1M337 32.5h1M369 58.5h1M372 33.5h1M365 32.5h1M373 56h1M350.5 34.5h1M363 37.5h1M350.5 32.5h1M367 59h1M359.5 44.5h1M337 37.5h1M345 42h1M363.5 34h1M354.5 26h1M352.5 37.5h1M356 32h1M356 36h1M348 24h1M340 47.5h1M370.5 38h1M343 44h1M355.5 44h1M375.5 61.5h1M363 50.5h1M351.5 43h1M361 53h1M348.5 45.5h1M346 31h1M370.5 42.5h1M355 40.5h1M348.5 43.5h1M353 37h1M361.5 25.5h1M369 54.5h1M347 29.5h1M343.5 40h1M360 29h1M337 29.5h1M358.5 33.5h1M338 30.5h1M354 50.5h1M348.5 34h1M364.5 41h1M359.5 21h1M349.5 43.5h1M361.5 33h1M367.5 29.5h1M339.5 32.5h1M355.5 35h1M369.5 34.5h1M350 35h1M343 41h1M358.5 35.5h1M360 36.5h1M357.5 36h1M375.5 61.5h1M362 37.5h1M341 50h1M355 41h1M371 35h1M352.5 33h1M346 44h1M347 32.5h1M361 21.5h1M369 25h1M370 32.5h1M360 47h1M352 40h1M348.5 38.5h1M353.5 25.5h1M357 35.5h1M367 30.5h1M338.5 19.5h1M366 16.5h1M357 26h1M362 37h1M352.5 36.5h1M355.5 38h1M367.5 35.5h1M371.5 54h1M368.5 33.5h1M360.5 39h1M372.5 58h1M364.5 51.5h1M366.5 44h1M347 48h1M360 26.5h1M361 34.5h1M335 38h1M369.5 32h1M371 17.5h1M352 30.5h1M359.5 28h1M369 32.5h1M371 25h1M362.5 43h1M365.5 52h1M351 48h1M350 46h1M344.5 42.5h1M357 40.5h1M345 31h1M368 42.5h1M358.5 33.5h1M374 60.5h1M346.5 45.5h1M367 52h1M364.5 39.5h1M344.5 48h1M366 33h1M361 35.5h1M333 43h1M353.5 32.5h1M367.5 35h1M353.5 31h1M354.5 40h1M360.5 32.5h1M348 19.5h1M343.5 29.5h1M375 60.5h1M374.5 40.5h1M357.5 24h1M340.5 22.5h1M345.5 40h1M342.5 36h1M350.5 41h1M365.5 38h1M344 39h1M364.5 30h1M361 38.5h1M367.5 58h1M356.5 28.5h1M370.5 40h1"/>
<path d="M357 29.5h1M357.5 47h1M364 52h1M367.5 23h1M341 43.5h1M350 25h1M376 37h1M360 33h1M356.5 48h1M347 14.5h1M362.5 38.5h1M369 40h1M360.5 24h1M351.5 50.5h1M346 30.5h1M350.5 33.5h1M364 27h1M375 61.5h1M363 53.5h1M373 61.5h1M354 42.5h1M359.5 38.5h1M354.5 31h1M341.5 19.5h1M354 29.5h1M351.5 46.5h1M374.5 39h1M338.5 29h1M348 24h1M350.5 33h1M368 28h1M344.5 43h1M359 36h1M351 31h1M340.5 45.5h1M362.5 23.5h1M360.5 43h1M351 41.5h1M343 36.5h1M353 32.5h1M351.5 50h1M348.5 41h1M358 48.5h1M341 25h1M349 27h1M346 41h1M360 61.5h1M372 40h1M350.5 44h1M342.5 29h1M364 41.5h1M366.5 29h1M341.5 44h1M354 48.5h1M352 32h1M360.5 51.5h1M348.5 36h1M365.5 45.5h1M355.5 44.5h1M358.5 50h1M345 53.5h1M359 45h1M341.5 46.5h1M363.5 48.5h1M378 51h1M358.5 34h1M344.5 25h1M316.5 19h1M362 33.5h1M358 38h1M351 23h1M371 41.5h1M374.5 40.5h1M359.5 28.5h1M360.5 42.5h1M354.5 23.5h1M370 38h1M346.5 23.5h1M360.5 20.5h1M345 35.5h1M359.5 16.5h1M356.5 24.5h1M355 41.5h1M341.5 37.5h1M343.5 38.5h1M359.5 51h1M357.5 32h1M364 23.5h1M360.5 53.5h1M369 31h1M358 18h1M375.5 20h1M344.5 37h1M355.5 33h1M340.5 26.5h1M357 34h1M351 41.5h1M349.5 42.5h1M359.5 43.5h1M367.5 34.5h1M358.5 18h1M366 37h1M356 36h1M355 32h1M339 41.5h1M359.5 46.5h1M364 29h1M355 52.5h1M352 31.5h1M358.5 32.5h1M344 16h1M352.5 24.5h1M339 44h1M357 22h1M340 18.5h1M356 51.5h1M365 34.5h1M355 31.5h1M365.5 30.5h1M348.5 56h1M376.5 54h1M349.5 27.5h1M351.5 28h1M346 31.5h1M340.5 33h1M366 34.5h1M364.5 47h1M342 40h1M371.5 33h1M357 50h1M338.5 23.5h1M343.5 24h1M351.5 33.5h1M358 32.5h1M347 34h1M358.5 39h1M346.5 21h1M357 46.5h1M360 24.5h1M359 46.5h1M353.5 28h1M361.5 27.5h1M370 36h1M367.5 52h1M353.5 28.5h1M368 40h1M362.5 32.5h1M372.5 22.5h1M354.5 20.5h1M356 29.5h1M362 45h1M353.5 37h1M368 43h1M342.5 15.5h1M372.5 25.5h1M346.5 32h1M368 42h1M352.5 34.5h1M368 42h1M359.5 43h1M347 30h1M356.5 38h1M369.5 56h1M366 18.5h1M369.5 46h1M360.5 36h1M366 34.5h1M345.5 40h1M350 32.5h1M338.5 45h1M346 26h1M364.5 28.5h1M351 54.5h1M341.5 21h1M355.5 41h1M363 27.5h1M354.5 45h1M359 43h1M357 9h1M350.5 35h1M353.5 41.5h1M357.5 31h1M358.5 48.5h1M374 62h1M345 46h1M357.5 30.5h1M361.5 39h1M353.5 29.5h1M353.5 38h1M353 39h1M360.5 50h1M365 32.5h1M364.5 58h1M364 21h1M339 42h1M352 24.5h1M365.5 31.5h1M350.5 19h1M360 23.5h1M355.5 26h1M342.5 39h1M351 36h1M348.5 31.5h1M351.5 40.5h1M351.5 39h1M360 54.5h1M349 37.5h1M355.5 36h1M371.5 50h1M355.5 42h1M345 29h1M360.5 42h1M347 51h1M369.5 54h1M359 50h1M341 34.5h1M351 23h1M365.5 24h1M363 28h1M339 41.5h1M369.5 49h1M360.5 38h1M351.5 41.5h1M366.5 44h1M342.5 31h1M360 19.5h1M357 21.5h1M370 46.5h1M358.5 28h1M342 37.5h1M345.5 45h1M352 38.5h1M363 32.5h1M341.5 26h1M363.5 31h1M353 29h1M340 54.5h1M351 47h1M348 43.5h1M346 39h1M379 40.5h1M348 26.5h1M354 43h1M374 31.5h1M357 23.5h1M348 45h1M350 44h1M353 52.5h1M361 33h1M355 49.5h1M353.5 49.5h1M347.5 22.5h1M359 17h1M364.5 30.5h1M359 39h1M370.5 38h1M348 23.5h1M357.5 35h1M373.5 32.5h1M363 46h1M347 50h1M356 21.5h1M365 46h1M359.5 36.5h1M352.5 43h1M347 53.5h1M356 25h1M350 51h1M348 43h1M351.5 49.5h1M346 35h1M341.5 26h1M351.5 55h1M355.5 23h1M355.5 46.5h1M367.5 39.5h1M346 15.5h1M373 56.5h1M360 43.5h1M360 49.5h1M357 33.5h1M358 40h1M343.5 40h1M370.5 60h1M344 50.5h1M353 34h1M360.5 40h1M356 33.5h1M342 32.5h1M364.5 29h1M364.5 27.5h1M355 46h1M362 48.5h1M370.5 37.5h1M345 32h1M345 40.5h1M346 43h1M371.5 21h1M372.5 6.5h1M349 28.5h1M357 38h1M356 41h1M351.5 25.5h1M363 36h1M364 29h1M352.5 49.5h1M358 18h1M347 29h1M373.5 40h1M374 61h1M342 32.5h1M368.5 30.5h1M341 47h1M358 17h1M352 40h1M339 53h1M357 17.5h1M360 30.5h1M364.5 35.5h1M371 37.5h1M359.5 44.5h1M376.5 46.5h1M355 25h1M348 34.5h1M346.5 40.5h1M376.5 56h1M353 26.5h1M373 30.5h1M368.5 47h1M341.5 52.5h1M356.5 21h1M347.5 27h1M358 39.5h1M345 53.5h1M354.5 52h1M372 49.5h1M373 49.5h1M372 59h1M354.5 29h1M374 37h1M370 52h1M350 38h1M336.5 38.5h1M339 44h1M357.5 31.5h1M368 35.5h1M364.5 22.5h1M348.5 48h1M347 27.5h1M367 37.5h1M354 40h1M359 29h1M355 48h1M363 35.5h1M360 31.5h1M346.5 52h1M372 17h1M340.5 45.5h1M360 36h1M354.5 34h1M360 41h1M349 38.5h1M373.5 48.5h1M368 29.5h1M356 18.5h1M362.5 17.5h1M357 37h1M342.5 49h1M367 31h1M351 41.5h1M354.5 26.5h1M365.5 41h1M367 39.5h1M361.5 39h1M350.5 36h1M339.5 24.5h1M351 34.5h1M357.5 58.5h1M357.5 36.5h1M359 54.5h1M373 18h1M349 29h1M372.5 39.5h1M372.5 43.5h1M360 41.5h1M360.5 28.5h1M357 34h1M354 35.5h1M338 34.5h1M369.5 39h1M371.5 47h1M348.5 35h1M340 50h1M343.5 22.5h1M361 52h1M360 21.5h1M371 37.5h1M366.5 53h1M370.5 47h1M361 36.5h1M365.5 44h1M365 45h1M353.5 34h1M343.5 48.5h1M363 42.5h1M340 48h1M358 34h1M370.5 31h1M360 33.5h1M363.5 17h1M367.5 38h1M354 47.5h1M372 26.5h1M353.5 31h1M359 38h1M354 33.5h1M344 39.5h1M375.5 64h1M372 45h1M353.5 24h1M364 23h1M345.5 28.5h1M361.5 31h1M364 31.5h1M358.5 36h1M366 31h1M363 33h1M346.5 46.5h1M342.5 48h1M357 42.5h1M351.5 42h1M356.5 37h1M373 46.5h1M344 39h1M359 42.5h1M347 36h1M342 17.5h1M371.5 32h1M363 49.5h1M371 62.5h1M373 55h1M367 31h1M354 26.5h1M355 20.5h1M342 26h1M352 33.5h1M359 30h1M362.5 37h1M354.5 49h1M369.5 44.5h1M369 48.5h1M359 28h1M355.5 40h1M366 29.5h1M357.5 30.5h1M348.5 44.5h1M351.5 25h1M364.5 41h1M366.5 17h1M350 37.5h1M377 53h1M370.5 43h1M368 60h1M353.5 45.5h1M350.5 37.5h1M360.5 42h1M341.5 38h1M341 51.5h1M342 49h1M359.5 29h1M357 38h1M384 39.5h1M359.5 56.5h1M354.5 31h1M379 38h1M339.5 32.5h1M358 25.5h1M357 31.5h1M368.5 39h1M347.5 26h1M368.5 37h1M373 42.5h1M360 17h1M343 32h1M365.5 41h1M374 46h1M358 31.5h1M370.5 41h1M341.5 31.5h1M355 24h1M351.5 50h1M365.5 42.5h1M370 29.5h1M348.5 49.5h1M356.5 18h1M357.5 33h1M345.5 30h1M365 35h1M351 33.5h1M371 41.5h1M359 42.5h1M371.5 26.5h1M358 33.5h1M365 53h1M344.5 33.5h1M363 18.5h1M350 34h1M360 40h1M342 41h1M350.5 29h1M350.5 35h1M372 40.5h1M360 47.5h1M356.5 34h1M344.5 37h1M347.5 34.5h1M347 28.5h1M360.5 33h1M363.5 37h1M366.5 30.5h1M360.5 51h1M346.5 29h1M368.5 47.5h1M348 33.5h1M365 42.5h1M365.5 36.5h1M337 32h1M363.5 37.5h1M371 40h1M340.5 39h1M373 51.5h1M336.5 52h1M348.5 40h1M347 59.5h1M364.5 42.5h1M368.5 37.5h1M371 41.5h1M358.5 39.5h1M367.5 36.5h1"/>
</g>
<rect x="310.2" y="1.5" width="75.8" height="74.5" fill="none" stroke="#444" stroke-width="1"/>
<text x="306.5" y="5" font-size="4.2" text-anchor="end" fill="#222">1K</text>
<text x="306.5" y="19.8" font-size="4.2" text-anchor="end" fill="#222">800</text>
<text x="306.5" y="34.2" font-size="4.2" text-anchor="end" fill="#222">600</text>
<text x="306.5" y="49.2" font-size="4.2" text-anchor="end" fill="#222">400</text>
<text x="306.5" y="63.5" font-size="4.2" text-anchor="end" fill="#222">200</text>
<text x="306.5" y="77.5" font-size="4.2" text-anchor="end" fill="#222">0</text>
<line x1="308.7" y1="3.5" x2="310.2" y2="3.5" stroke="#444" stroke-width="0.7"/>
<line x1="308.7" y1="18.3" x2="310.2" y2="18.3" stroke="#444" stroke-width="0.7"/>
<line x1="308.7" y1="32.7" x2="310.2" y2="32.7" stroke="#444" stroke-width="0.7"/>
<line x1="308.7" y1="47.7" x2="310.2" y2="47.7" stroke="#444" stroke-width="0.7"/>
<line x1="308.7" y1="62" x2="310.2" y2="62" stroke="#444" stroke-width="0.7"/>
<line x1="308.7" y1="76" x2="310.2" y2="76" stroke="#444" stroke-width="0.7"/>
<text x="315" y="84" font-size="4.2" text-anchor="middle" fill="#222">10<tspan font-size="2.94" dy="-1.89">0</tspan></text>
<text x="331" y="84" font-size="4.2" text-anchor="middle" fill="#222">10<tspan font-size="2.94" dy="-1.89">1</tspan></text>
<text x="349.6" y="84" font-size="4.2" text-anchor="middle" fill="#222">10<tspan font-size="2.94" dy="-1.89">2</tspan></text>
<text x="368" y="84" font-size="4.2" text-anchor="middle" fill="#222">10<tspan font-size="2.94" dy="-1.89">3</tspan></text>
<text x="385" y="84" font-size="4.2" text-anchor="middle" fill="#222">10<tspan font-size="2.94" dy="-1.89">4</tspan></text>
<line x1="315" y1="76" x2="315" y2="77.5" stroke="#444" stroke-width="0.7"/>
<line x1="331" y1="76" x2="331" y2="77.5" stroke="#444" stroke-width="0.7"/>
<line x1="349.6" y1="76" x2="349.6" y2="77.5" stroke="#444" stroke-width="0.7"/>
<line x1="368" y1="76" x2="368" y2="77.5" stroke="#444" stroke-width="0.7"/>
<line x1="385" y1="76" x2="385" y2="77.5" stroke="#444" stroke-width="0.7"/>
<text x="342" y="94" font-size="5.5" font-weight="bold" text-anchor="middle" textLength="10.5" lengthAdjust="spacingAndGlyphs">CFSE</text>
<text transform="translate(297 47) rotate(-90)" font-size="4" textLength="10" lengthAdjust="spacingAndGlyphs" fill="#333">FSC-H</text>
<text x="0.4" y="115.6" font-size="11.8" font-weight="bold">B</text>
<rect x="10.5" y="120.2" width="65.1" height="64.8" fill="none" stroke="#555" stroke-width="0.9"/>
<line x1="10.5" y1="185" x2="75.6" y2="185" stroke="#222" stroke-width="1.1"/>
<line x1="13.8" y1="185" x2="13.8" y2="186.5" stroke="#444" stroke-width="0.6"/>
<line x1="27" y1="185" x2="27" y2="186.5" stroke="#444" stroke-width="0.6"/>
<line x1="43.4" y1="185" x2="43.4" y2="186.5" stroke="#444" stroke-width="0.6"/>
<line x1="60" y1="185" x2="60" y2="186.5" stroke="#444" stroke-width="0.6"/>
<line x1="75" y1="185" x2="75" y2="186.5" stroke="#444" stroke-width="0.6"/>
<line x1="17.77" y1="185" x2="17.77" y2="185.8" stroke="#666" stroke-width="0.4"/>
<line x1="20.1" y1="185" x2="20.1" y2="185.8" stroke="#666" stroke-width="0.4"/>
<line x1="21.75" y1="185" x2="21.75" y2="185.8" stroke="#666" stroke-width="0.4"/>
<line x1="23.03" y1="185" x2="23.03" y2="185.8" stroke="#666" stroke-width="0.4"/>
<line x1="24.07" y1="185" x2="24.07" y2="185.8" stroke="#666" stroke-width="0.4"/>
<line x1="24.96" y1="185" x2="24.96" y2="185.8" stroke="#666" stroke-width="0.4"/>
<line x1="25.72" y1="185" x2="25.72" y2="185.8" stroke="#666" stroke-width="0.4"/>
<line x1="26.4" y1="185" x2="26.4" y2="185.8" stroke="#666" stroke-width="0.4"/>
<line x1="31.94" y1="185" x2="31.94" y2="185.8" stroke="#666" stroke-width="0.4"/>
<line x1="34.82" y1="185" x2="34.82" y2="185.8" stroke="#666" stroke-width="0.4"/>
<line x1="36.87" y1="185" x2="36.87" y2="185.8" stroke="#666" stroke-width="0.4"/>
<line x1="38.46" y1="185" x2="38.46" y2="185.8" stroke="#666" stroke-width="0.4"/>
<line x1="39.76" y1="185" x2="39.76" y2="185.8" stroke="#666" stroke-width="0.4"/>
<line x1="40.86" y1="185" x2="40.86" y2="185.8" stroke="#666" stroke-width="0.4"/>
<line x1="41.81" y1="185" x2="41.81" y2="185.8" stroke="#666" stroke-width="0.4"/>
<line x1="42.65" y1="185" x2="42.65" y2="185.8" stroke="#666" stroke-width="0.4"/>
<line x1="48.4" y1="185" x2="48.4" y2="185.8" stroke="#666" stroke-width="0.4"/>
<line x1="51.32" y1="185" x2="51.32" y2="185.8" stroke="#666" stroke-width="0.4"/>
<line x1="53.39" y1="185" x2="53.39" y2="185.8" stroke="#666" stroke-width="0.4"/>
<line x1="55" y1="185" x2="55" y2="185.8" stroke="#666" stroke-width="0.4"/>
<line x1="56.32" y1="185" x2="56.32" y2="185.8" stroke="#666" stroke-width="0.4"/>
<line x1="57.43" y1="185" x2="57.43" y2="185.8" stroke="#666" stroke-width="0.4"/>
<line x1="58.39" y1="185" x2="58.39" y2="185.8" stroke="#666" stroke-width="0.4"/>
<line x1="59.24" y1="185" x2="59.24" y2="185.8" stroke="#666" stroke-width="0.4"/>
<line x1="64.52" y1="185" x2="64.52" y2="185.8" stroke="#666" stroke-width="0.4"/>
<line x1="67.16" y1="185" x2="67.16" y2="185.8" stroke="#666" stroke-width="0.4"/>
<line x1="69.03" y1="185" x2="69.03" y2="185.8" stroke="#666" stroke-width="0.4"/>
<line x1="70.48" y1="185" x2="70.48" y2="185.8" stroke="#666" stroke-width="0.4"/>
<line x1="71.67" y1="185" x2="71.67" y2="185.8" stroke="#666" stroke-width="0.4"/>
<line x1="72.68" y1="185" x2="72.68" y2="185.8" stroke="#666" stroke-width="0.4"/>
<line x1="73.55" y1="185" x2="73.55" y2="185.8" stroke="#666" stroke-width="0.4"/>
<line x1="74.31" y1="185" x2="74.31" y2="185.8" stroke="#666" stroke-width="0.4"/>
<text x="13.8" y="191.2" font-size="3.6" text-anchor="middle" fill="#333">10<tspan font-size="2.52" dy="-1.62">0</tspan></text>
<text x="27" y="191.2" font-size="3.6" text-anchor="middle" fill="#333">10<tspan font-size="2.52" dy="-1.62">1</tspan></text>
<text x="43.4" y="191.2" font-size="3.6" text-anchor="middle" fill="#333">10<tspan font-size="2.52" dy="-1.62">2</tspan></text>
<text x="60" y="191.2" font-size="3.6" text-anchor="middle" fill="#333">10<tspan font-size="2.52" dy="-1.62">3</tspan></text>
<text x="75" y="191.2" font-size="3.6" text-anchor="middle" fill="#333">10<tspan font-size="2.52" dy="-1.62">4</tspan></text>
<text x="43.05" y="196.5" font-size="3.2" text-anchor="middle" fill="#444">FL1-H: CFSE</text>
<text transform="translate(3.5 157.1) rotate(-90)" font-size="3.2" fill="#444">Count</text>
<text x="8" y="186" font-size="3.2" text-anchor="end" fill="#444">0</text>
<path d="M59.3 184.6C59.58 182.17 60.52 177.43 61 170C61.48 162.57 61.83 147.77 62.2 140C62.57 132.23 62.85 123.4 63.2 123.4C63.55 123.4 63.93 132.23 64.3 140C64.67 147.77 65.07 163 65.4 170C65.73 177 65.87 179.6 66.3 182C66.73 184.4 67.72 184 68 184.4 L68 185 L59.3 185 Z" fill="#ebebeb" stroke="none"/>
<path d="M35.8 184.6C36.17 184 37.37 182.35 38 181C38.63 179.65 39.02 179.5 39.6 176.5C40.18 173.5 40.93 167.08 41.5 163C42.07 158.92 42.43 152.17 43 152C43.57 151.83 44.35 164 44.9 162C45.45 160 45.85 146.38 46.3 140C46.75 133.62 47.18 123.7 47.6 123.7C48.02 123.7 48.45 135.52 48.8 140C49.15 144.48 49.37 150.93 49.7 150.6C50.03 150.27 50.43 141.93 50.8 138C51.17 134.07 51.45 125.83 51.9 127C52.35 128.17 52.95 139.55 53.5 145C54.05 150.45 54.7 157.87 55.2 159.7C55.7 161.53 56.08 157.03 56.5 156C56.92 154.97 57.28 152.83 57.7 153.5C58.12 154.17 58.57 156.97 59 160C59.43 163.03 59.77 169.37 60.3 171.7C60.83 174.03 61.58 172.95 62.2 174C62.82 175.05 63.43 176.93 64 178C64.57 179.07 64.93 179.73 65.6 180.4C66.27 181.07 67.2 181.68 68 182C68.8 182.32 69.57 182.05 70.4 182.3C71.23 182.55 72.18 183.17 73 183.5C73.82 183.83 74.92 184.17 75.3 184.3 L75.3 185 L35.8 185 Z" fill="#e4e4e4" stroke="none"/>
<path d="M35.8 184.6C36.17 184 37.37 182.35 38 181C38.63 179.65 39.02 179.5 39.6 176.5C40.18 173.5 40.93 167.08 41.5 163C42.07 158.92 42.43 152.17 43 152C43.57 151.83 44.35 164 44.9 162C45.45 160 45.85 146.38 46.3 140C46.75 133.62 47.18 123.7 47.6 123.7C48.02 123.7 48.45 135.52 48.8 140C49.15 144.48 49.37 150.93 49.7 150.6C50.03 150.27 50.43 141.93 50.8 138C51.17 134.07 51.45 125.83 51.9 127C52.35 128.17 52.95 139.55 53.5 145C54.05 150.45 54.7 157.87 55.2 159.7C55.7 161.53 56.08 157.03 56.5 156C56.92 154.97 57.28 152.83 57.7 153.5C58.12 154.17 58.57 156.97 59 160C59.43 163.03 59.77 169.37 60.3 171.7C60.83 174.03 61.58 172.95 62.2 174C62.82 175.05 63.43 176.93 64 178C64.57 179.07 64.93 179.73 65.6 180.4C66.27 181.07 67.2 181.68 68 182C68.8 182.32 69.57 182.05 70.4 182.3C71.23 182.55 72.18 183.17 73 183.5C73.82 183.83 74.92 184.17 75.3 184.3" fill="none" stroke="#333" stroke-width="0.9" stroke-linejoin="round"/>
<path d="M59.3 184.6C59.58 182.17 60.52 177.43 61 170C61.48 162.57 61.83 147.77 62.2 140C62.57 132.23 62.85 123.4 63.2 123.4C63.55 123.4 63.93 132.23 64.3 140C64.67 147.77 65.07 163 65.4 170C65.73 177 65.87 179.6 66.3 182C66.73 184.4 67.72 184 68 184.4" fill="none" stroke="#888" stroke-width="0.9" stroke-linejoin="round"/>
<text x="39.2" y="112.1" font-size="7.2" font-weight="bold" text-anchor="middle" textLength="33.5" lengthAdjust="spacingAndGlyphs">CD4<tspan font-size="4.46" dy="-2.74">+</tspan><tspan dy="2.74">&#160;T cells</tspan></text>
<rect x="92.5" y="120.2" width="65.5" height="64.8" fill="none" stroke="#555" stroke-width="0.9"/>
<line x1="92.5" y1="185" x2="158" y2="185" stroke="#222" stroke-width="1.1"/>
<line x1="95.8" y1="185" x2="95.8" y2="186.5" stroke="#444" stroke-width="0.6"/>
<line x1="109.2" y1="185" x2="109.2" y2="186.5" stroke="#444" stroke-width="0.6"/>
<line x1="125.58" y1="185" x2="125.58" y2="186.5" stroke="#444" stroke-width="0.6"/>
<line x1="142.08" y1="185" x2="142.08" y2="186.5" stroke="#444" stroke-width="0.6"/>
<line x1="157.5" y1="185" x2="157.5" y2="186.5" stroke="#444" stroke-width="0.6"/>
<line x1="99.83" y1="185" x2="99.83" y2="185.8" stroke="#666" stroke-width="0.4"/>
<line x1="102.19" y1="185" x2="102.19" y2="185.8" stroke="#666" stroke-width="0.4"/>
<line x1="103.87" y1="185" x2="103.87" y2="185.8" stroke="#666" stroke-width="0.4"/>
<line x1="105.17" y1="185" x2="105.17" y2="185.8" stroke="#666" stroke-width="0.4"/>
<line x1="106.23" y1="185" x2="106.23" y2="185.8" stroke="#666" stroke-width="0.4"/>
<line x1="107.13" y1="185" x2="107.13" y2="185.8" stroke="#666" stroke-width="0.4"/>
<line x1="107.9" y1="185" x2="107.9" y2="185.8" stroke="#666" stroke-width="0.4"/>
<line x1="108.59" y1="185" x2="108.59" y2="185.8" stroke="#666" stroke-width="0.4"/>
<line x1="114.13" y1="185" x2="114.13" y2="185.8" stroke="#666" stroke-width="0.4"/>
<line x1="117.02" y1="185" x2="117.02" y2="185.8" stroke="#666" stroke-width="0.4"/>
<line x1="119.06" y1="185" x2="119.06" y2="185.8" stroke="#666" stroke-width="0.4"/>
<line x1="120.65" y1="185" x2="120.65" y2="185.8" stroke="#666" stroke-width="0.4"/>
<line x1="121.94" y1="185" x2="121.94" y2="185.8" stroke="#666" stroke-width="0.4"/>
<line x1="123.04" y1="185" x2="123.04" y2="185.8" stroke="#666" stroke-width="0.4"/>
<line x1="123.99" y1="185" x2="123.99" y2="185.8" stroke="#666" stroke-width="0.4"/>
<line x1="124.83" y1="185" x2="124.83" y2="185.8" stroke="#666" stroke-width="0.4"/>
<line x1="130.55" y1="185" x2="130.55" y2="185.8" stroke="#666" stroke-width="0.4"/>
<line x1="133.45" y1="185" x2="133.45" y2="185.8" stroke="#666" stroke-width="0.4"/>
<line x1="135.52" y1="185" x2="135.52" y2="185.8" stroke="#666" stroke-width="0.4"/>
<line x1="137.11" y1="185" x2="137.11" y2="185.8" stroke="#666" stroke-width="0.4"/>
<line x1="138.42" y1="185" x2="138.42" y2="185.8" stroke="#666" stroke-width="0.4"/>
<line x1="139.53" y1="185" x2="139.53" y2="185.8" stroke="#666" stroke-width="0.4"/>
<line x1="140.48" y1="185" x2="140.48" y2="185.8" stroke="#666" stroke-width="0.4"/>
<line x1="141.33" y1="185" x2="141.33" y2="185.8" stroke="#666" stroke-width="0.4"/>
<line x1="146.72" y1="185" x2="146.72" y2="185.8" stroke="#666" stroke-width="0.4"/>
<line x1="149.44" y1="185" x2="149.44" y2="185.8" stroke="#666" stroke-width="0.4"/>
<line x1="151.37" y1="185" x2="151.37" y2="185.8" stroke="#666" stroke-width="0.4"/>
<line x1="152.86" y1="185" x2="152.86" y2="185.8" stroke="#666" stroke-width="0.4"/>
<line x1="154.08" y1="185" x2="154.08" y2="185.8" stroke="#666" stroke-width="0.4"/>
<line x1="155.11" y1="185" x2="155.11" y2="185.8" stroke="#666" stroke-width="0.4"/>
<line x1="156.01" y1="185" x2="156.01" y2="185.8" stroke="#666" stroke-width="0.4"/>
<line x1="156.79" y1="185" x2="156.79" y2="185.8" stroke="#666" stroke-width="0.4"/>
<text x="95.8" y="191.2" font-size="3.6" text-anchor="middle" fill="#333">10<tspan font-size="2.52" dy="-1.62">0</tspan></text>
<text x="109.2" y="191.2" font-size="3.6" text-anchor="middle" fill="#333">10<tspan font-size="2.52" dy="-1.62">1</tspan></text>
<text x="125.58" y="191.2" font-size="3.6" text-anchor="middle" fill="#333">10<tspan font-size="2.52" dy="-1.62">2</tspan></text>
<text x="142.08" y="191.2" font-size="3.6" text-anchor="middle" fill="#333">10<tspan font-size="2.52" dy="-1.62">3</tspan></text>
<text x="157.5" y="191.2" font-size="3.6" text-anchor="middle" fill="#333">10<tspan font-size="2.52" dy="-1.62">4</tspan></text>
<text x="125.25" y="196.5" font-size="3.2" text-anchor="middle" fill="#444">FL1-H: CFSE</text>
<text transform="translate(83.2 157.1) rotate(-90)" font-size="3.2" fill="#444">Count</text>
<text x="90" y="186" font-size="3.2" text-anchor="end" fill="#444">0</text>
<path d="M141.5 184.6C141.82 181.33 142.93 173.27 143.4 165C143.87 156.73 144 141.83 144.3 135C144.6 128.17 144.87 123.17 145.2 124C145.53 124.83 145.92 132.33 146.3 140C146.68 147.67 147.07 163 147.5 170C147.93 177 148.32 179.57 148.9 182C149.48 184.43 150.65 184.17 151 184.6 L151 185 L141.5 185 Z" fill="#ebebeb" stroke="none"/>
<path d="M118 184.6C118.33 183.83 119.38 181.87 120 180C120.62 178.13 121.18 175.9 121.7 173.4C122.22 170.9 122.78 168.7 123.1 165C123.42 161.3 123.37 154.5 123.6 151.2C123.83 147.9 124.17 145.4 124.5 145.2C124.83 145 125.22 147.53 125.6 150C125.98 152.47 126.37 161.67 126.8 160C127.23 158.33 127.75 145.62 128.2 140C128.65 134.38 129.08 126.63 129.5 126.3C129.92 125.97 130.3 133.62 130.7 138C131.1 142.38 131.53 151.93 131.9 152.6C132.27 153.27 132.57 145.38 132.9 142C133.23 138.62 133.5 131.8 133.9 132.3C134.3 132.8 134.83 140.47 135.3 145C135.77 149.53 136.25 158.33 136.7 159.5C137.15 160.67 137.6 153.68 138 152C138.4 150.32 138.72 148.9 139.1 149.4C139.48 149.9 139.9 152.7 140.3 155C140.7 157.3 141.08 162.03 141.5 163.2C141.92 164.37 142.37 162.45 142.8 162C143.23 161.55 143.62 159.22 144.1 160.5C144.58 161.78 145.05 166.32 145.7 169.7C146.35 173.08 147 178.57 148 180.8C149 183.03 150.47 182.65 151.7 183.1C152.93 183.55 154.38 183.27 155.4 183.5C156.42 183.73 157.4 184.33 157.8 184.5 L157.8 185 L118 185 Z" fill="#ececec" stroke="none"/>
<path d="M118 184.6C118.33 183.83 119.38 181.87 120 180C120.62 178.13 121.18 175.9 121.7 173.4C122.22 170.9 122.78 168.7 123.1 165C123.42 161.3 123.37 154.5 123.6 151.2C123.83 147.9 124.17 145.4 124.5 145.2C124.83 145 125.22 147.53 125.6 150C125.98 152.47 126.37 161.67 126.8 160C127.23 158.33 127.75 145.62 128.2 140C128.65 134.38 129.08 126.63 129.5 126.3C129.92 125.97 130.3 133.62 130.7 138C131.1 142.38 131.53 151.93 131.9 152.6C132.27 153.27 132.57 145.38 132.9 142C133.23 138.62 133.5 131.8 133.9 132.3C134.3 132.8 134.83 140.47 135.3 145C135.77 149.53 136.25 158.33 136.7 159.5C137.15 160.67 137.6 153.68 138 152C138.4 150.32 138.72 148.9 139.1 149.4C139.48 149.9 139.9 152.7 140.3 155C140.7 157.3 141.08 162.03 141.5 163.2C141.92 164.37 142.37 162.45 142.8 162C143.23 161.55 143.62 159.22 144.1 160.5C144.58 161.78 145.05 166.32 145.7 169.7C146.35 173.08 147 178.57 148 180.8C149 183.03 150.47 182.65 151.7 183.1C152.93 183.55 154.38 183.27 155.4 183.5C156.42 183.73 157.4 184.33 157.8 184.5" fill="none" stroke="#666" stroke-width="0.85" stroke-linejoin="round"/>
<path d="M141.5 184.6C141.82 181.33 142.93 173.27 143.4 165C143.87 156.73 144 141.83 144.3 135C144.6 128.17 144.87 123.17 145.2 124C145.53 124.83 145.92 132.33 146.3 140C146.68 147.67 147.07 163 147.5 170C147.93 177 148.32 179.57 148.9 182C149.48 184.43 150.65 184.17 151 184.6" fill="none" stroke="#555" stroke-width="0.9" stroke-linejoin="round"/>
<text x="121.6" y="112.1" font-size="7.2" font-weight="bold" text-anchor="middle" textLength="64" lengthAdjust="spacingAndGlyphs">CD4<tspan font-size="4.46" dy="-2.74">-</tspan><tspan dy="2.74">&#160;Switched B cells</tspan></text>
<rect x="176.3" y="120.2" width="65.4" height="64.8" fill="none" stroke="#555" stroke-width="0.9"/>
<line x1="176.3" y1="185" x2="241.7" y2="185" stroke="#222" stroke-width="1.1"/>
<line x1="179.6" y1="185" x2="179.6" y2="186.5" stroke="#444" stroke-width="0.6"/>
<line x1="192.98" y1="185" x2="192.98" y2="186.5" stroke="#444" stroke-width="0.6"/>
<line x1="209.33" y1="185" x2="209.33" y2="186.5" stroke="#444" stroke-width="0.6"/>
<line x1="225.81" y1="185" x2="225.81" y2="186.5" stroke="#444" stroke-width="0.6"/>
<line x1="241.2" y1="185" x2="241.2" y2="186.5" stroke="#444" stroke-width="0.6"/>
<line x1="183.63" y1="185" x2="183.63" y2="185.8" stroke="#666" stroke-width="0.4"/>
<line x1="185.98" y1="185" x2="185.98" y2="185.8" stroke="#666" stroke-width="0.4"/>
<line x1="187.65" y1="185" x2="187.65" y2="185.8" stroke="#666" stroke-width="0.4"/>
<line x1="188.95" y1="185" x2="188.95" y2="185.8" stroke="#666" stroke-width="0.4"/>
<line x1="190.01" y1="185" x2="190.01" y2="185.8" stroke="#666" stroke-width="0.4"/>
<line x1="190.9" y1="185" x2="190.9" y2="185.8" stroke="#666" stroke-width="0.4"/>
<line x1="191.68" y1="185" x2="191.68" y2="185.8" stroke="#666" stroke-width="0.4"/>
<line x1="192.36" y1="185" x2="192.36" y2="185.8" stroke="#666" stroke-width="0.4"/>
<line x1="197.9" y1="185" x2="197.9" y2="185.8" stroke="#666" stroke-width="0.4"/>
<line x1="200.78" y1="185" x2="200.78" y2="185.8" stroke="#666" stroke-width="0.4"/>
<line x1="202.82" y1="185" x2="202.82" y2="185.8" stroke="#666" stroke-width="0.4"/>
<line x1="204.41" y1="185" x2="204.41" y2="185.8" stroke="#666" stroke-width="0.4"/>
<line x1="205.7" y1="185" x2="205.7" y2="185.8" stroke="#666" stroke-width="0.4"/>
<line x1="206.79" y1="185" x2="206.79" y2="185.8" stroke="#666" stroke-width="0.4"/>
<line x1="207.74" y1="185" x2="207.74" y2="185.8" stroke="#666" stroke-width="0.4"/>
<line x1="208.58" y1="185" x2="208.58" y2="185.8" stroke="#666" stroke-width="0.4"/>
<line x1="214.29" y1="185" x2="214.29" y2="185.8" stroke="#666" stroke-width="0.4"/>
<line x1="217.19" y1="185" x2="217.19" y2="185.8" stroke="#666" stroke-width="0.4"/>
<line x1="219.25" y1="185" x2="219.25" y2="185.8" stroke="#666" stroke-width="0.4"/>
<line x1="220.85" y1="185" x2="220.85" y2="185.8" stroke="#666" stroke-width="0.4"/>
<line x1="222.15" y1="185" x2="222.15" y2="185.8" stroke="#666" stroke-width="0.4"/>
<line x1="223.25" y1="185" x2="223.25" y2="185.8" stroke="#666" stroke-width="0.4"/>
<line x1="224.21" y1="185" x2="224.21" y2="185.8" stroke="#666" stroke-width="0.4"/>
<line x1="225.05" y1="185" x2="225.05" y2="185.8" stroke="#666" stroke-width="0.4"/>
<line x1="230.44" y1="185" x2="230.44" y2="185.8" stroke="#666" stroke-width="0.4"/>
<line x1="233.15" y1="185" x2="233.15" y2="185.8" stroke="#666" stroke-width="0.4"/>
<line x1="235.07" y1="185" x2="235.07" y2="185.8" stroke="#666" stroke-width="0.4"/>
<line x1="236.57" y1="185" x2="236.57" y2="185.8" stroke="#666" stroke-width="0.4"/>
<line x1="237.79" y1="185" x2="237.79" y2="185.8" stroke="#666" stroke-width="0.4"/>
<line x1="238.82" y1="185" x2="238.82" y2="185.8" stroke="#666" stroke-width="0.4"/>
<line x1="239.71" y1="185" x2="239.71" y2="185.8" stroke="#666" stroke-width="0.4"/>
<line x1="240.5" y1="185" x2="240.5" y2="185.8" stroke="#666" stroke-width="0.4"/>
<text x="179.6" y="191.2" font-size="3.6" text-anchor="middle" fill="#333">10<tspan font-size="2.52" dy="-1.62">0</tspan></text>
<text x="192.98" y="191.2" font-size="3.6" text-anchor="middle" fill="#333">10<tspan font-size="2.52" dy="-1.62">1</tspan></text>
<text x="209.33" y="191.2" font-size="3.6" text-anchor="middle" fill="#333">10<tspan font-size="2.52" dy="-1.62">2</tspan></text>
<text x="225.81" y="191.2" font-size="3.6" text-anchor="middle" fill="#333">10<tspan font-size="2.52" dy="-1.62">3</tspan></text>
<text x="241.2" y="191.2" font-size="3.6" text-anchor="middle" fill="#333">10<tspan font-size="2.52" dy="-1.62">4</tspan></text>
<text x="209" y="196.5" font-size="3.2" text-anchor="middle" fill="#444">FL1-H: CFSE</text>
<text transform="translate(165.8 157.1) rotate(-90)" font-size="3.2" fill="#444">Count</text>
<text x="173.8" y="186" font-size="3.2" text-anchor="end" fill="#444">0</text>
<path d="M225.1 184.6C225.33 180.5 226.08 168.77 226.5 160C226.92 151.23 227.27 138.08 227.6 132C227.93 125.92 228.2 123.5 228.5 123.5C228.8 123.5 229.15 129.25 229.4 132C229.65 134.75 229.65 133.67 230 140C230.35 146.33 231.02 163.33 231.5 170C231.98 176.67 232.05 177.78 232.9 180C233.75 182.22 235.52 182.72 236.6 183.3C237.68 183.88 238.58 183.32 239.4 183.5C240.22 183.68 241.15 184.25 241.5 184.4 L241.5 185 L225.1 185 Z" fill="#ebebeb" stroke="none"/>
<path d="M200.2 184.6C200.5 182.73 201.47 176.97 202 173.4C202.53 169.83 203.02 165.2 203.4 163.2C203.78 161.2 203.92 162.78 204.3 161.4C204.68 160.02 205.32 159.05 205.7 154.9C206.08 150.75 206.25 141.65 206.6 136.5C206.95 131.35 207.4 123.75 207.8 124C208.2 124.25 208.62 133.08 209 138C209.38 142.92 209.68 153.5 210.1 153.5C210.52 153.5 211.05 142.62 211.5 138C211.95 133.38 212.37 125.47 212.8 125.8C213.23 126.13 213.67 134.77 214.1 140C214.53 145.23 215 155.2 215.4 157.2C215.8 159.2 216.15 153.77 216.5 152C216.85 150.23 217 145.33 217.5 146.6C218 147.87 218.93 155.98 219.5 159.6C220.07 163.22 220.35 167.15 220.9 168.3C221.45 169.45 222.25 165.95 222.8 166.5C223.35 167.05 223.67 169.52 224.2 171.6C224.73 173.68 225.38 177.47 226 179C226.62 180.53 227.2 180.12 227.9 180.8C228.6 181.48 229.02 182.57 230.2 183.1C231.38 183.63 233.12 183.77 235 184C236.88 184.23 240.42 184.42 241.5 184.5 L241.5 185 L200.2 185 Z" fill="#ececec" stroke="none"/>
<path d="M200.2 184.6C200.5 182.73 201.47 176.97 202 173.4C202.53 169.83 203.02 165.2 203.4 163.2C203.78 161.2 203.92 162.78 204.3 161.4C204.68 160.02 205.32 159.05 205.7 154.9C206.08 150.75 206.25 141.65 206.6 136.5C206.95 131.35 207.4 123.75 207.8 124C208.2 124.25 208.62 133.08 209 138C209.38 142.92 209.68 153.5 210.1 153.5C210.52 153.5 211.05 142.62 211.5 138C211.95 133.38 212.37 125.47 212.8 125.8C213.23 126.13 213.67 134.77 214.1 140C214.53 145.23 215 155.2 215.4 157.2C215.8 159.2 216.15 153.77 216.5 152C216.85 150.23 217 145.33 217.5 146.6C218 147.87 218.93 155.98 219.5 159.6C220.07 163.22 220.35 167.15 220.9 168.3C221.45 169.45 222.25 165.95 222.8 166.5C223.35 167.05 223.67 169.52 224.2 171.6C224.73 173.68 225.38 177.47 226 179C226.62 180.53 227.2 180.12 227.9 180.8C228.6 181.48 229.02 182.57 230.2 183.1C231.38 183.63 233.12 183.77 235 184C236.88 184.23 240.42 184.42 241.5 184.5" fill="none" stroke="#666" stroke-width="0.85" stroke-linejoin="round"/>
<path d="M225.1 184.6C225.33 180.5 226.08 168.77 226.5 160C226.92 151.23 227.27 138.08 227.6 132C227.93 125.92 228.2 123.5 228.5 123.5C228.8 123.5 229.15 129.25 229.4 132C229.65 134.75 229.65 133.67 230 140C230.35 146.33 231.02 163.33 231.5 170C231.98 176.67 232.05 177.78 232.9 180C233.75 182.22 235.52 182.72 236.6 183.3C237.68 183.88 238.58 183.32 239.4 183.5C240.22 183.68 241.15 184.25 241.5 184.4" fill="none" stroke="#555" stroke-width="0.9" stroke-linejoin="round"/>
<text x="205.6" y="112.1" font-size="7.2" font-weight="bold" text-anchor="middle" textLength="52.8" lengthAdjust="spacingAndGlyphs">CD4<tspan font-size="4.46" dy="-2.74">-</tspan><tspan dy="2.74">&#160;Naive B cells</tspan></text>
<rect x="255.4" y="120.2" width="64.4" height="64.8" fill="none" stroke="#555" stroke-width="0.9"/>
<line x1="255.4" y1="185" x2="319.8" y2="185" stroke="#222" stroke-width="1.1"/>
<line x1="258.7" y1="185" x2="258.7" y2="186.5" stroke="#444" stroke-width="0.6"/>
<line x1="271.82" y1="185" x2="271.82" y2="186.5" stroke="#444" stroke-width="0.6"/>
<line x1="287.92" y1="185" x2="287.92" y2="186.5" stroke="#444" stroke-width="0.6"/>
<line x1="304.15" y1="185" x2="304.15" y2="186.5" stroke="#444" stroke-width="0.6"/>
<line x1="319.3" y1="185" x2="319.3" y2="186.5" stroke="#444" stroke-width="0.6"/>
<line x1="262.65" y1="185" x2="262.65" y2="185.8" stroke="#666" stroke-width="0.4"/>
<line x1="264.96" y1="185" x2="264.96" y2="185.8" stroke="#666" stroke-width="0.4"/>
<line x1="266.6" y1="185" x2="266.6" y2="185.8" stroke="#666" stroke-width="0.4"/>
<line x1="267.87" y1="185" x2="267.87" y2="185.8" stroke="#666" stroke-width="0.4"/>
<line x1="268.91" y1="185" x2="268.91" y2="185.8" stroke="#666" stroke-width="0.4"/>
<line x1="269.79" y1="185" x2="269.79" y2="185.8" stroke="#666" stroke-width="0.4"/>
<line x1="270.55" y1="185" x2="270.55" y2="185.8" stroke="#666" stroke-width="0.4"/>
<line x1="271.22" y1="185" x2="271.22" y2="185.8" stroke="#666" stroke-width="0.4"/>
<line x1="276.67" y1="185" x2="276.67" y2="185.8" stroke="#666" stroke-width="0.4"/>
<line x1="279.5" y1="185" x2="279.5" y2="185.8" stroke="#666" stroke-width="0.4"/>
<line x1="281.52" y1="185" x2="281.52" y2="185.8" stroke="#666" stroke-width="0.4"/>
<line x1="283.08" y1="185" x2="283.08" y2="185.8" stroke="#666" stroke-width="0.4"/>
<line x1="284.35" y1="185" x2="284.35" y2="185.8" stroke="#666" stroke-width="0.4"/>
<line x1="285.43" y1="185" x2="285.43" y2="185.8" stroke="#666" stroke-width="0.4"/>
<line x1="286.36" y1="185" x2="286.36" y2="185.8" stroke="#666" stroke-width="0.4"/>
<line x1="287.19" y1="185" x2="287.19" y2="185.8" stroke="#666" stroke-width="0.4"/>
<line x1="292.81" y1="185" x2="292.81" y2="185.8" stroke="#666" stroke-width="0.4"/>
<line x1="295.67" y1="185" x2="295.67" y2="185.8" stroke="#666" stroke-width="0.4"/>
<line x1="297.69" y1="185" x2="297.69" y2="185.8" stroke="#666" stroke-width="0.4"/>
<line x1="299.27" y1="185" x2="299.27" y2="185.8" stroke="#666" stroke-width="0.4"/>
<line x1="300.55" y1="185" x2="300.55" y2="185.8" stroke="#666" stroke-width="0.4"/>
<line x1="301.64" y1="185" x2="301.64" y2="185.8" stroke="#666" stroke-width="0.4"/>
<line x1="302.58" y1="185" x2="302.58" y2="185.8" stroke="#666" stroke-width="0.4"/>
<line x1="303.41" y1="185" x2="303.41" y2="185.8" stroke="#666" stroke-width="0.4"/>
<line x1="308.71" y1="185" x2="308.71" y2="185.8" stroke="#666" stroke-width="0.4"/>
<line x1="311.38" y1="185" x2="311.38" y2="185.8" stroke="#666" stroke-width="0.4"/>
<line x1="313.27" y1="185" x2="313.27" y2="185.8" stroke="#666" stroke-width="0.4"/>
<line x1="314.74" y1="185" x2="314.74" y2="185.8" stroke="#666" stroke-width="0.4"/>
<line x1="315.94" y1="185" x2="315.94" y2="185.8" stroke="#666" stroke-width="0.4"/>
<line x1="316.95" y1="185" x2="316.95" y2="185.8" stroke="#666" stroke-width="0.4"/>
<line x1="317.83" y1="185" x2="317.83" y2="185.8" stroke="#666" stroke-width="0.4"/>
<line x1="318.61" y1="185" x2="318.61" y2="185.8" stroke="#666" stroke-width="0.4"/>
<text x="258.7" y="191.2" font-size="3.6" text-anchor="middle" fill="#333">10<tspan font-size="2.52" dy="-1.62">0</tspan></text>
<text x="271.82" y="191.2" font-size="3.6" text-anchor="middle" fill="#333">10<tspan font-size="2.52" dy="-1.62">1</tspan></text>
<text x="287.92" y="191.2" font-size="3.6" text-anchor="middle" fill="#333">10<tspan font-size="2.52" dy="-1.62">2</tspan></text>
<text x="304.15" y="191.2" font-size="3.6" text-anchor="middle" fill="#333">10<tspan font-size="2.52" dy="-1.62">3</tspan></text>
<text x="319.3" y="191.2" font-size="3.6" text-anchor="middle" fill="#333">10<tspan font-size="2.52" dy="-1.62">4</tspan></text>
<text x="287.6" y="196.5" font-size="3.2" text-anchor="middle" fill="#444">FL1-H: CFSE</text>
<text transform="translate(248.6 157.1) rotate(-90)" font-size="3.2" fill="#444">Count</text>
<text x="252.9" y="186" font-size="3.2" text-anchor="end" fill="#444">0</text>
<path d="M288 184.8C288.42 184.33 289.68 183.15 290.5 182C291.32 180.85 292.15 179.9 292.9 177.9C293.65 175.9 294.37 171.93 295 170C295.63 168.07 296.1 165.8 296.7 166.3C297.3 166.8 297.97 174.38 298.6 173C299.23 171.62 299.85 162.63 300.5 158C301.15 153.37 301.92 146.37 302.5 145.2C303.08 144.03 303.5 152.7 304 151C304.5 149.3 305 139.67 305.5 135C306 130.33 306.5 122.17 307 123C307.5 123.83 308.08 133 308.5 140C308.92 147 309.22 158.83 309.5 165C309.78 171.17 309.62 174.08 310.2 177C310.78 179.92 311.7 181.33 313 182.5C314.3 183.67 316.9 183.67 318 184C319.1 184.33 319.33 184.42 319.6 184.5 L319.6 185 L288 185 Z" fill="#e6e6e6" stroke="none"/>
<path d="M288 184.8C288.42 184.33 289.68 183.15 290.5 182C291.32 180.85 292.15 179.9 292.9 177.9C293.65 175.9 294.37 171.93 295 170C295.63 168.07 296.1 165.8 296.7 166.3C297.3 166.8 297.97 174.38 298.6 173C299.23 171.62 299.85 162.63 300.5 158C301.15 153.37 301.92 146.37 302.5 145.2C303.08 144.03 303.5 152.7 304 151C304.5 149.3 305 139.67 305.5 135C306 130.33 306.5 122.17 307 123C307.5 123.83 308.08 133 308.5 140C308.92 147 309.22 158.83 309.5 165C309.78 171.17 309.62 174.08 310.2 177C310.78 179.92 311.7 181.33 313 182.5C314.3 183.67 316.9 183.67 318 184C319.1 184.33 319.33 184.42 319.6 184.5" fill="none" stroke="#444" stroke-width="0.9" stroke-linejoin="round"/>
<path d="M303.5 184.8C303.75 181.5 304.55 173.3 305 165C305.45 156.7 305.87 141.92 306.2 135C306.53 128.08 306.73 123.5 307 123.5C307.27 123.5 307.47 128.08 307.8 135C308.13 141.92 308.47 156.83 309 165C309.53 173.17 310.33 180.72 311 184C311.67 187.28 312.67 184.58 313 184.7 L313 185 L303.5 185 Z" fill="#a8a8a8" stroke="none"/>
<path d="M303.5 184.8C303.75 181.5 304.55 173.3 305 165C305.45 156.7 305.87 141.92 306.2 135C306.53 128.08 306.73 123.5 307 123.5C307.27 123.5 307.47 128.08 307.8 135C308.13 141.92 308.47 156.83 309 165C309.53 173.17 310.33 180.72 311 184C311.67 187.28 312.67 184.58 313 184.7" fill="none" stroke="#222" stroke-width="1" stroke-linejoin="round"/>
<text x="289.2" y="112.1" font-size="7.2" font-weight="bold" text-anchor="middle" textLength="74.5" lengthAdjust="spacingAndGlyphs">CD4<tspan font-size="4.46" dy="-2.74">-</tspan><tspan dy="2.74">&#160;IgM Memory B cells</tspan></text>
<rect x="340.2" y="120.2" width="66" height="64.8" fill="none" stroke="#555" stroke-width="0.9"/>
<line x1="340.2" y1="185" x2="406.2" y2="185" stroke="#222" stroke-width="1.1"/>
<line x1="343.5" y1="185" x2="343.5" y2="186.5" stroke="#444" stroke-width="0.6"/>
<line x1="357.03" y1="185" x2="357.03" y2="186.5" stroke="#444" stroke-width="0.6"/>
<line x1="373.53" y1="185" x2="373.53" y2="186.5" stroke="#444" stroke-width="0.6"/>
<line x1="390.16" y1="185" x2="390.16" y2="186.5" stroke="#444" stroke-width="0.6"/>
<line x1="405.7" y1="185" x2="405.7" y2="186.5" stroke="#444" stroke-width="0.6"/>
<line x1="347.57" y1="185" x2="347.57" y2="185.8" stroke="#666" stroke-width="0.4"/>
<line x1="349.96" y1="185" x2="349.96" y2="185.8" stroke="#666" stroke-width="0.4"/>
<line x1="351.65" y1="185" x2="351.65" y2="185.8" stroke="#666" stroke-width="0.4"/>
<line x1="352.96" y1="185" x2="352.96" y2="185.8" stroke="#666" stroke-width="0.4"/>
<line x1="354.03" y1="185" x2="354.03" y2="185.8" stroke="#666" stroke-width="0.4"/>
<line x1="354.93" y1="185" x2="354.93" y2="185.8" stroke="#666" stroke-width="0.4"/>
<line x1="355.72" y1="185" x2="355.72" y2="185.8" stroke="#666" stroke-width="0.4"/>
<line x1="356.41" y1="185" x2="356.41" y2="185.8" stroke="#666" stroke-width="0.4"/>
<line x1="362" y1="185" x2="362" y2="185.8" stroke="#666" stroke-width="0.4"/>
<line x1="364.9" y1="185" x2="364.9" y2="185.8" stroke="#666" stroke-width="0.4"/>
<line x1="366.96" y1="185" x2="366.96" y2="185.8" stroke="#666" stroke-width="0.4"/>
<line x1="368.56" y1="185" x2="368.56" y2="185.8" stroke="#666" stroke-width="0.4"/>
<line x1="369.87" y1="185" x2="369.87" y2="185.8" stroke="#666" stroke-width="0.4"/>
<line x1="370.97" y1="185" x2="370.97" y2="185.8" stroke="#666" stroke-width="0.4"/>
<line x1="371.93" y1="185" x2="371.93" y2="185.8" stroke="#666" stroke-width="0.4"/>
<line x1="372.78" y1="185" x2="372.78" y2="185.8" stroke="#666" stroke-width="0.4"/>
<line x1="378.54" y1="185" x2="378.54" y2="185.8" stroke="#666" stroke-width="0.4"/>
<line x1="381.47" y1="185" x2="381.47" y2="185.8" stroke="#666" stroke-width="0.4"/>
<line x1="383.54" y1="185" x2="383.54" y2="185.8" stroke="#666" stroke-width="0.4"/>
<line x1="385.16" y1="185" x2="385.16" y2="185.8" stroke="#666" stroke-width="0.4"/>
<line x1="386.47" y1="185" x2="386.47" y2="185.8" stroke="#666" stroke-width="0.4"/>
<line x1="387.59" y1="185" x2="387.59" y2="185.8" stroke="#666" stroke-width="0.4"/>
<line x1="388.55" y1="185" x2="388.55" y2="185.8" stroke="#666" stroke-width="0.4"/>
<line x1="389.4" y1="185" x2="389.4" y2="185.8" stroke="#666" stroke-width="0.4"/>
<line x1="394.84" y1="185" x2="394.84" y2="185.8" stroke="#666" stroke-width="0.4"/>
<line x1="397.58" y1="185" x2="397.58" y2="185.8" stroke="#666" stroke-width="0.4"/>
<line x1="399.52" y1="185" x2="399.52" y2="185.8" stroke="#666" stroke-width="0.4"/>
<line x1="401.02" y1="185" x2="401.02" y2="185.8" stroke="#666" stroke-width="0.4"/>
<line x1="402.25" y1="185" x2="402.25" y2="185.8" stroke="#666" stroke-width="0.4"/>
<line x1="403.29" y1="185" x2="403.29" y2="185.8" stroke="#666" stroke-width="0.4"/>
<line x1="404.19" y1="185" x2="404.19" y2="185.8" stroke="#666" stroke-width="0.4"/>
<line x1="404.99" y1="185" x2="404.99" y2="185.8" stroke="#666" stroke-width="0.4"/>
<text x="343.5" y="191.2" font-size="3.6" text-anchor="middle" fill="#333">10<tspan font-size="2.52" dy="-1.62">0</tspan></text>
<text x="357.03" y="191.2" font-size="3.6" text-anchor="middle" fill="#333">10<tspan font-size="2.52" dy="-1.62">1</tspan></text>
<text x="373.53" y="191.2" font-size="3.6" text-anchor="middle" fill="#333">10<tspan font-size="2.52" dy="-1.62">2</tspan></text>
<text x="390.16" y="191.2" font-size="3.6" text-anchor="middle" fill="#333">10<tspan font-size="2.52" dy="-1.62">3</tspan></text>
<text x="405.7" y="191.2" font-size="3.6" text-anchor="middle" fill="#333">10<tspan font-size="2.52" dy="-1.62">4</tspan></text>
<text x="373.2" y="196.5" font-size="3.2" text-anchor="middle" fill="#444">FL1-H: CFSE</text>
<text transform="translate(326.8 157.1) rotate(-90)" font-size="3.2" fill="#444">Count</text>
<text x="337.7" y="186" font-size="3.2" text-anchor="end" fill="#444">0</text>
<path d="M375.8 184.6C376.12 183.8 377.08 181.9 377.7 179.8C378.32 177.7 378.9 176.13 379.5 172C380.1 167.87 380.8 158.83 381.3 155C381.8 151.17 382.1 149 382.5 149C382.9 149 383.32 152.92 383.7 155C384.08 157.08 384.42 162.33 384.8 161.5C385.18 160.67 385.58 155.25 386 150C386.42 144.75 386.93 134.33 387.3 130C387.67 125.67 387.88 123.17 388.2 124C388.52 124.83 388.82 128.17 389.2 135C389.58 141.83 390.03 157.17 390.5 165C390.97 172.83 391.42 178.75 392 182C392.58 185.25 393.67 184.08 394 184.5 L394 185 L375.8 185 Z" fill="#efefef" stroke="none"/>
<path d="M375.8 184.6C376.12 183.8 377.08 181.9 377.7 179.8C378.32 177.7 378.9 176.13 379.5 172C380.1 167.87 380.8 158.83 381.3 155C381.8 151.17 382.1 149 382.5 149C382.9 149 383.32 152.92 383.7 155C384.08 157.08 384.42 162.33 384.8 161.5C385.18 160.67 385.58 155.25 386 150C386.42 144.75 386.93 134.33 387.3 130C387.67 125.67 387.88 123.17 388.2 124C388.52 124.83 388.82 128.17 389.2 135C389.58 141.83 390.03 157.17 390.5 165C390.97 172.83 391.42 178.75 392 182C392.58 185.25 393.67 184.08 394 184.5" fill="none" stroke="#aaa" stroke-width="0.9" stroke-linejoin="round"/>
<path d="M385.4 184.6C385.63 181.33 386.37 173.27 386.8 165C387.23 156.73 387.67 141.5 388 135C388.33 128.5 388.53 126 388.8 126C389.07 126 389.27 128.5 389.6 135C389.93 141.5 390.28 157 390.8 165C391.32 173 392 179.73 392.7 183C393.4 186.27 394.62 184.33 395 184.6 L395 185 L385.4 185 Z" fill="#a8a8a8" stroke="none"/>
<path d="M385.4 184.6C385.63 181.33 386.37 173.27 386.8 165C387.23 156.73 387.67 141.5 388 135C388.33 128.5 388.53 126 388.8 126C389.07 126 389.27 128.5 389.6 135C389.93 141.5 390.28 157 390.8 165C391.32 173 392 179.73 392.7 183C393.4 186.27 394.62 184.33 395 184.6" fill="none" stroke="#222" stroke-width="1" stroke-linejoin="round"/>
<text x="375.2" y="112.1" font-size="7.2" font-weight="bold" text-anchor="middle" textLength="72.3" lengthAdjust="spacingAndGlyphs">CD4<tspan font-size="4.46" dy="-2.74">-</tspan><tspan dy="2.74">&#160;Transitional B cells</tspan></text>
<line x1="6" y1="209.5" x2="174.4" y2="209.5" stroke="#111" stroke-width="1.3"/>
<text x="202.3" y="214.8" font-size="10.2" font-weight="bold" text-anchor="middle" textLength="21.2" lengthAdjust="spacingAndGlyphs">CFSE</text>
<line x1="226.3" y1="209.5" x2="404.3" y2="209.5" stroke="#111" stroke-width="1.3"/>
<path d="M401.68 206.9L404.8 209.5L401.68 212.1" fill="none" stroke="#000" stroke-width="1.2"/>
<text x="0.3" y="231.5" font-size="11.8" font-weight="bold">C</text>
<line x1="32.25" y1="243" x2="32.25" y2="324.4" stroke="#000" stroke-width="1.4"/>
<line x1="32.25" y1="323.9" x2="208.75" y2="323.9" stroke="#000" stroke-width="1.4"/>
<line x1="30.3" y1="323.9" x2="32.25" y2="323.9" stroke="#000" stroke-width="0.9"/>
<text x="30" y="325.7" font-size="5" text-anchor="end" textLength="2.7" lengthAdjust="spacingAndGlyphs" font-weight="bold">0</text>
<line x1="30.3" y1="307.82" x2="32.25" y2="307.82" stroke="#000" stroke-width="0.9"/>
<text x="30" y="309.62" font-size="5" text-anchor="end" textLength="5.4" lengthAdjust="spacingAndGlyphs" font-weight="bold">20</text>
<line x1="30.3" y1="291.74" x2="32.25" y2="291.74" stroke="#000" stroke-width="0.9"/>
<text x="30" y="293.54" font-size="5" text-anchor="end" textLength="5.4" lengthAdjust="spacingAndGlyphs" font-weight="bold">40</text>
<line x1="30.3" y1="275.66" x2="32.25" y2="275.66" stroke="#000" stroke-width="0.9"/>
<text x="30" y="277.46" font-size="5" text-anchor="end" textLength="5.4" lengthAdjust="spacingAndGlyphs" font-weight="bold">60</text>
<line x1="30.3" y1="259.58" x2="32.25" y2="259.58" stroke="#000" stroke-width="0.9"/>
<text x="30" y="261.38" font-size="5" text-anchor="end" textLength="5.4" lengthAdjust="spacingAndGlyphs" font-weight="bold">80</text>
<line x1="30.3" y1="243.5" x2="32.25" y2="243.5" stroke="#000" stroke-width="0.9"/>
<text x="30" y="245.3" font-size="5" text-anchor="end" textLength="8.1" lengthAdjust="spacingAndGlyphs" font-weight="bold">100</text>
<line x1="49.5" y1="323.9" x2="49.5" y2="326.1" stroke="#000" stroke-width="0.9"/>
<line x1="85.5" y1="323.9" x2="85.5" y2="326.1" stroke="#000" stroke-width="0.9"/>
<line x1="120" y1="323.9" x2="120" y2="326.1" stroke="#000" stroke-width="0.9"/>
<line x1="155.5" y1="323.9" x2="155.5" y2="326.1" stroke="#000" stroke-width="0.9"/>
<line x1="190.5" y1="323.9" x2="190.5" y2="326.1" stroke="#000" stroke-width="0.9"/>
<text transform="translate(17.4 336.8) rotate(-90)" font-size="8.5" stroke="#000" stroke-width="0.3" textLength="106.6" lengthAdjust="spacingAndGlyphs">%proliferating CD4+ T cells</text>
<text x="32.8" y="332.2" font-size="5.3" stroke="#000" stroke-width="0.22" textLength="32.8" lengthAdjust="spacingAndGlyphs">CD4+&#160;&#160;T cells</text>
<text x="67.7" y="332.2" font-size="5.3" stroke="#000" stroke-width="0.22" textLength="31.7" lengthAdjust="spacingAndGlyphs">IgM memory</text>
<text x="105.5" y="332.2" font-size="5.3" stroke="#000" stroke-width="0.22" textLength="28.2" lengthAdjust="spacingAndGlyphs">transitional</text>
<text x="147.5" y="332.2" font-size="5.3" stroke="#000" stroke-width="0.22" textLength="13.7" lengthAdjust="spacingAndGlyphs">Naive</text>
<text x="166" y="332.2" font-size="5.3" stroke="#000" stroke-width="0.22" textLength="46.5" lengthAdjust="spacingAndGlyphs">switched memory</text>
<text x="38" y="343.6" font-size="6.4" textLength="23.3" lengthAdjust="spacingAndGlyphs">(n=10)</text>
<text x="77.8" y="343.6" font-size="6.4" textLength="20.6" lengthAdjust="spacingAndGlyphs">(n=10)</text>
<text x="115" y="343.6" font-size="6.4" textLength="17.5" lengthAdjust="spacingAndGlyphs">(n=6)</text>
<text x="151" y="343.6" font-size="6.4" textLength="21.5" lengthAdjust="spacingAndGlyphs">(n=10)</text>
<text x="185" y="343.6" font-size="6.4" textLength="21" lengthAdjust="spacingAndGlyphs">(n=10)</text>
<line x1="45.4" y1="234.6" x2="121.3" y2="234.6" stroke="#000" stroke-width="1.4"/>
<path d="M82.5 228.1 L82.99 229.42 L84.4 229.48 L83.3 230.36 L83.68 231.72 L82.5 230.94 L81.32 231.72 L81.7 230.36 L80.6 229.48 L82.01 229.42Z" fill="#000"/>
<path d="M87.4 228.1 L87.89 229.42 L89.3 229.48 L88.2 230.36 L88.58 231.72 L87.4 230.94 L86.22 231.72 L86.6 230.36 L85.5 229.48 L86.91 229.42Z" fill="#000"/>
<line x1="45.4" y1="243.7" x2="91.9" y2="243.7" stroke="#000" stroke-width="1.4"/>
<path d="M66.1 237.9 L66.59 239.22 L68 239.28 L66.9 240.16 L67.28 241.52 L66.1 240.74 L64.92 241.52 L65.3 240.16 L64.2 239.28 L65.61 239.22Z" fill="#000"/>
<path d="M71.3 237.9 L71.79 239.22 L73.2 239.28 L72.1 240.16 L72.48 241.52 L71.3 240.74 L70.12 241.52 L70.5 240.16 L69.4 239.28 L70.81 239.22Z" fill="#000"/>
<line x1="49.2" y1="251.8" x2="49.2" y2="259" stroke="#000" stroke-width="0.8"/>
<circle cx="45.1" cy="248.1" r="2.25" fill="#fff" stroke="#000" stroke-width="1.2"/>
<circle cx="56.6" cy="249.2" r="2.25" fill="#fff" stroke="#000" stroke-width="1.2"/>
<circle cx="42.8" cy="251" r="2.25" fill="#fff" stroke="#000" stroke-width="1.2"/>
<circle cx="48.3" cy="250.1" r="2.25" fill="#fff" stroke="#000" stroke-width="1.2"/>
<circle cx="50.3" cy="251" r="2.25" fill="#fff" stroke="#000" stroke-width="1.2"/>
<circle cx="53.5" cy="252.4" r="2.25" fill="#fff" stroke="#000" stroke-width="1.2"/>
<circle cx="46.3" cy="252.4" r="2.25" fill="#fff" stroke="#000" stroke-width="1.2"/>
<circle cx="43.4" cy="257.3" r="2.25" fill="#fff" stroke="#000" stroke-width="1.2"/>
<circle cx="49.1" cy="255.6" r="2.25" fill="#fff" stroke="#000" stroke-width="1.2"/>
<circle cx="46.8" cy="263.4" r="2.25" fill="#fff" stroke="#000" stroke-width="1.2"/>
<circle cx="53.5" cy="263.4" r="2.25" fill="#fff" stroke="#000" stroke-width="1.2"/>
<line x1="38.2" y1="251.8" x2="61.8" y2="251.8" stroke="#555" stroke-width="0.9"/>
<line x1="46.5" y1="259" x2="55.8" y2="259" stroke="#000" stroke-width="1"/>
<line x1="85.5" y1="265.4" x2="85.5" y2="289.5" stroke="#000" stroke-width="0.8"/>
<rect x="75.7" y="260.7" width="4.6" height="4.6" fill="#fff" stroke="#000" stroke-width="1.2"/>
<rect x="89.7" y="260.7" width="4.6" height="4.6" fill="#fff" stroke="#000" stroke-width="1.2"/>
<rect x="82.5" y="264.7" width="4.6" height="4.6" fill="#fff" stroke="#000" stroke-width="1.2"/>
<rect x="85.4" y="271.7" width="4.6" height="4.6" fill="#fff" stroke="#000" stroke-width="1.2"/>
<rect x="79.7" y="278.7" width="4.6" height="4.6" fill="#fff" stroke="#000" stroke-width="1.2"/>
<rect x="85.7" y="279.4" width="4.6" height="4.6" fill="#fff" stroke="#000" stroke-width="1.2"/>
<rect x="79.7" y="285.2" width="4.6" height="4.6" fill="#fff" stroke="#000" stroke-width="1.2"/>
<rect x="86.3" y="287.1" width="4.6" height="4.6" fill="#fff" stroke="#000" stroke-width="1.2"/>
<rect x="83.1" y="294.7" width="4.6" height="4.6" fill="#fff" stroke="#000" stroke-width="1.2"/>
<line x1="73.3" y1="281.7" x2="97.3" y2="281.7" stroke="#555" stroke-width="0.9"/>
<line x1="80.5" y1="265.4" x2="91" y2="265.4" stroke="#000" stroke-width="1"/>
<line x1="120.4" y1="268" x2="120.4" y2="298.7" stroke="#000" stroke-width="0.8"/>
<path d="M117.5 272.5L120.4 275.4L117.5 278.3L114.6 275.4Z" fill="#fff" stroke="#000" stroke-width="1.2"/>
<path d="M123.8 269.8L126.7 272.7L123.8 275.6L120.9 272.7Z" fill="#fff" stroke="#000" stroke-width="1.2"/>
<path d="M117.5 277.9L120.4 280.8L117.5 283.7L114.6 280.8Z" fill="#fff" stroke="#000" stroke-width="1.2"/>
<path d="M123.8 281.7L126.7 284.6L123.8 287.5L120.9 284.6Z" fill="#fff" stroke="#000" stroke-width="1.2"/>
<path d="M123.8 294.8L126.7 297.7L123.8 300.6L120.9 297.7Z" fill="#fff" stroke="#000" stroke-width="1.2"/>
<path d="M117.5 300.9L120.4 303.8L117.5 306.7L114.6 303.8Z" fill="#fff" stroke="#000" stroke-width="1.2"/>
<line x1="108.8" y1="282.7" x2="132.7" y2="282.7" stroke="#555" stroke-width="0.9"/>
<line x1="114.6" y1="298.7" x2="124" y2="298.7" stroke="#000" stroke-width="1"/>
<path d="M147.8 242.39L153 242.39L150.4 247.33Z" fill="#fff" stroke="#000" stroke-width="1.2"/>
<path d="M159.4 244.29L164.6 244.29L162 249.23Z" fill="#fff" stroke="#000" stroke-width="1.2"/>
<path d="M149.4 246.79L154.6 246.79L152 251.73Z" fill="#fff" stroke="#000" stroke-width="1.2"/>
<path d="M153.4 246.29L158.6 246.29L156 251.23Z" fill="#fff" stroke="#000" stroke-width="1.2"/>
<path d="M156.4 247.79L161.6 247.79L159 252.73Z" fill="#fff" stroke="#000" stroke-width="1.2"/>
<path d="M150.9 250.29L156.1 250.29L153.5 255.23Z" fill="#fff" stroke="#000" stroke-width="1.2"/>
<path d="M154.9 250.79L160.1 250.79L157.5 255.73Z" fill="#fff" stroke="#000" stroke-width="1.2"/>
<path d="M148.9 253.29L154.1 253.29L151.5 258.23Z" fill="#fff" stroke="#000" stroke-width="1.2"/>
<path d="M152.4 253.79L157.6 253.79L155 258.73Z" fill="#fff" stroke="#000" stroke-width="1.2"/>
<path d="M157 256.39L162.2 256.39L159.6 261.33Z" fill="#fff" stroke="#000" stroke-width="1.2"/>
<path d="M149.4 258.39L154.6 258.39L152 263.33Z" fill="#fff" stroke="#000" stroke-width="1.2"/>
<path d="M152.9 248.79L158.1 248.79L155.5 253.73Z" fill="#fff" stroke="#000" stroke-width="1.2"/>
<path d="M151.2 248L155.8 248L153.5 252.4Z" fill="#111" stroke="#000" stroke-width="0.8"/>
<path d="M154.7 248.5L159.3 248.5L157 252.9Z" fill="#111" stroke="#000" stroke-width="0.8"/>
<path d="M152.7 251L157.3 251L155 255.4Z" fill="#111" stroke="#000" stroke-width="0.8"/>
<path d="M149.2 250.5L153.8 250.5L151.5 254.9Z" fill="#111" stroke="#000" stroke-width="0.8"/>
<line x1="144.2" y1="252" x2="167.7" y2="252" stroke="#555" stroke-width="0.9"/>
<path d="M188.2 251.21L193.4 251.21L190.8 246.27Z" fill="#fff" stroke="#000" stroke-width="1.2"/>
<path d="M184.4 260.71L189.6 260.71L187 255.77Z" fill="#fff" stroke="#000" stroke-width="1.2"/>
<path d="M188.4 259.71L193.6 259.71L191 254.77Z" fill="#fff" stroke="#000" stroke-width="1.2"/>
<path d="M191.9 261.21L197.1 261.21L194.5 256.27Z" fill="#fff" stroke="#000" stroke-width="1.2"/>
<path d="M183.4 264.21L188.6 264.21L186 259.27Z" fill="#fff" stroke="#000" stroke-width="1.2"/>
<path d="M186.9 264.71L192.1 264.71L189.5 259.77Z" fill="#fff" stroke="#000" stroke-width="1.2"/>
<path d="M190.9 265.21L196.1 265.21L193.5 260.27Z" fill="#fff" stroke="#000" stroke-width="1.2"/>
<path d="M185.4 267.21L190.6 267.21L188 262.27Z" fill="#fff" stroke="#000" stroke-width="1.2"/>
<path d="M189.4 267.71L194.6 267.71L192 262.77Z" fill="#fff" stroke="#000" stroke-width="1.2"/>
<path d="M188.2 275.21L193.4 275.21L190.8 270.27Z" fill="#fff" stroke="#000" stroke-width="1.2"/>
<path d="M188.2 284.51L193.4 284.51L190.8 279.57Z" fill="#fff" stroke="#000" stroke-width="1.2"/>
<path d="M186.7 262L191.3 262L189 257.6Z" fill="#111" stroke="#000" stroke-width="0.8"/>
<path d="M190.2 263L194.8 263L192.5 258.6Z" fill="#111" stroke="#000" stroke-width="0.8"/>
<path d="M185.2 265.5L189.8 265.5L187.5 261.1Z" fill="#111" stroke="#000" stroke-width="0.8"/>
<path d="M188.7 266L193.3 266L191 261.6Z" fill="#111" stroke="#000" stroke-width="0.8"/>
<path d="M191.7 265.5L196.3 265.5L194 261.1Z" fill="#111" stroke="#000" stroke-width="0.8"/>
<line x1="179.2" y1="261.5" x2="202.3" y2="261.5" stroke="#555" stroke-width="0.9"/>
<line x1="185.5" y1="257.7" x2="196" y2="257.7" stroke="#000" stroke-width="1"/>
<text x="221.2" y="231.5" font-size="11.8" font-weight="bold">D</text>
<line x1="243.8" y1="234.6" x2="243.8" y2="320.7" stroke="#000" stroke-width="1.4"/>
<line x1="243.8" y1="320.2" x2="364.6" y2="320.2" stroke="#000" stroke-width="1.4"/>
<line x1="241.8" y1="320.2" x2="243.8" y2="320.2" stroke="#000" stroke-width="0.9"/>
<text x="240.6" y="322.4" font-size="6.2" text-anchor="end" textLength="3" lengthAdjust="spacingAndGlyphs">0</text>
<line x1="241.8" y1="303.16" x2="243.8" y2="303.16" stroke="#000" stroke-width="0.9"/>
<text x="240.6" y="305.36" font-size="6.2" text-anchor="end" textLength="6" lengthAdjust="spacingAndGlyphs">10</text>
<line x1="241.8" y1="286.12" x2="243.8" y2="286.12" stroke="#000" stroke-width="0.9"/>
<text x="240.6" y="288.32" font-size="6.2" text-anchor="end" textLength="6" lengthAdjust="spacingAndGlyphs">20</text>
<line x1="241.8" y1="269.08" x2="243.8" y2="269.08" stroke="#000" stroke-width="0.9"/>
<text x="240.6" y="271.28" font-size="6.2" text-anchor="end" textLength="6" lengthAdjust="spacingAndGlyphs">30</text>
<line x1="241.8" y1="252.04" x2="243.8" y2="252.04" stroke="#000" stroke-width="0.9"/>
<text x="240.6" y="254.24" font-size="6.2" text-anchor="end" textLength="6" lengthAdjust="spacingAndGlyphs">40</text>
<line x1="241.8" y1="235" x2="243.8" y2="235" stroke="#000" stroke-width="0.9"/>
<text x="240.6" y="237.2" font-size="6.2" text-anchor="end" textLength="6" lengthAdjust="spacingAndGlyphs">50</text>
<line x1="259.5" y1="320.2" x2="259.5" y2="322.2" stroke="#000" stroke-width="0.9"/>
<line x1="289.4" y1="320.2" x2="289.4" y2="322.2" stroke="#000" stroke-width="0.9"/>
<line x1="320" y1="320.2" x2="320" y2="322.2" stroke="#000" stroke-width="0.9"/>
<line x1="350.8" y1="320.2" x2="350.8" y2="322.2" stroke="#000" stroke-width="0.9"/>
<text x="259.5" y="329.2" font-size="5.8" font-weight="bold" text-anchor="middle" textLength="15" lengthAdjust="spacingAndGlyphs">1 to 1</text>
<text x="289.4" y="329.2" font-size="5.8" font-weight="bold" text-anchor="middle" textLength="15" lengthAdjust="spacingAndGlyphs">1 to 2</text>
<text x="320" y="329.2" font-size="5.8" font-weight="bold" text-anchor="middle" textLength="15" lengthAdjust="spacingAndGlyphs">1 to 4</text>
<text x="350.8" y="329.2" font-size="5.8" font-weight="bold" text-anchor="middle" textLength="15" lengthAdjust="spacingAndGlyphs">1 to 8</text>
<text x="305.4" y="342.3" font-size="6.4" font-weight="bold" text-anchor="middle" textLength="81.6" lengthAdjust="spacingAndGlyphs">IgM memory : CD4<tspan font-size="3.97" dy="-2.43">+</tspan><tspan dy="2.43">&#160;T cell</tspan></text>
<text transform="translate(229.9 311.5) rotate(-90)" font-size="8.6" font-weight="bold" textLength="69" lengthAdjust="spacingAndGlyphs">Suppression (%)</text>
<path d="M259.5 252.04 L289.4 292.94 L320 292.94 L350.8 303.16" fill="none" stroke="#000" stroke-width="0.9"/>
<line x1="259.5" y1="240.11" x2="259.5" y2="277.6" stroke="#333" stroke-width="0.9"/>
<line x1="256.7" y1="240.11" x2="262.3" y2="240.11" stroke="#333" stroke-width="0.9"/>
<line x1="256.7" y1="277.6" x2="262.3" y2="277.6" stroke="#333" stroke-width="0.9"/>
<circle cx="259.5" cy="252.04" r="2.6" fill="#fff" stroke="#000" stroke-width="0.9"/>
<line x1="289.4" y1="272.49" x2="289.4" y2="297.2" stroke="#333" stroke-width="0.9"/>
<line x1="286.6" y1="272.49" x2="292.2" y2="272.49" stroke="#333" stroke-width="0.9"/>
<line x1="286.6" y1="297.2" x2="292.2" y2="297.2" stroke="#333" stroke-width="0.9"/>
<circle cx="289.4" cy="292.94" r="2.6" fill="#fff" stroke="#000" stroke-width="0.9"/>
<line x1="320" y1="286.12" x2="320" y2="308.27" stroke="#333" stroke-width="0.9"/>
<line x1="317.2" y1="286.12" x2="322.8" y2="286.12" stroke="#333" stroke-width="0.9"/>
<line x1="317.2" y1="308.27" x2="322.8" y2="308.27" stroke="#333" stroke-width="0.9"/>
<circle cx="320" cy="292.94" r="2.6" fill="#fff" stroke="#000" stroke-width="0.9"/>
<line x1="350.8" y1="286.12" x2="350.8" y2="306.57" stroke="#333" stroke-width="0.9"/>
<line x1="348" y1="286.12" x2="353.6" y2="286.12" stroke="#333" stroke-width="0.9"/>
<line x1="348" y1="306.57" x2="353.6" y2="306.57" stroke="#333" stroke-width="0.9"/>
<circle cx="350.8" cy="303.16" r="2.6" fill="#fff" stroke="#000" stroke-width="0.9"/>
<line x1="400.8" y1="242.6" x2="400.8" y2="324" stroke="#333" stroke-width="1.4"/>
<line x1="400.8" y1="323.5" x2="518.6" y2="323.5" stroke="#000" stroke-width="1.4"/>
<line x1="398.8" y1="323.5" x2="400.8" y2="323.5" stroke="#000" stroke-width="0.9"/>
<text x="398.4" y="325.6" font-size="6" text-anchor="end" textLength="3.4" lengthAdjust="spacingAndGlyphs">0</text>
<line x1="398.8" y1="296.67" x2="400.8" y2="296.67" stroke="#000" stroke-width="0.9"/>
<text x="398.4" y="298.77" font-size="6" text-anchor="end" textLength="6.8" lengthAdjust="spacingAndGlyphs">20</text>
<line x1="398.8" y1="269.83" x2="400.8" y2="269.83" stroke="#000" stroke-width="0.9"/>
<text x="398.4" y="271.93" font-size="6" text-anchor="end" textLength="6.8" lengthAdjust="spacingAndGlyphs">40</text>
<line x1="398.8" y1="243" x2="400.8" y2="243" stroke="#000" stroke-width="0.9"/>
<text x="398.4" y="245.1" font-size="6" text-anchor="end" textLength="6.8" lengthAdjust="spacingAndGlyphs">60</text>
<line x1="421.25" y1="323.5" x2="421.25" y2="325.5" stroke="#000" stroke-width="0.9"/>
<line x1="461.25" y1="323.5" x2="461.25" y2="325.5" stroke="#000" stroke-width="0.9"/>
<line x1="501.2" y1="323.5" x2="501.2" y2="325.5" stroke="#000" stroke-width="0.9"/>
<text x="421.25" y="332.3" font-size="5.4" text-anchor="middle" textLength="14.5" lengthAdjust="spacingAndGlyphs">2 to 1</text>
<text x="461.25" y="332.3" font-size="5.4" text-anchor="middle" textLength="14.5" lengthAdjust="spacingAndGlyphs">1 to 1</text>
<text x="501.2" y="332.3" font-size="5.4" text-anchor="middle" textLength="14.5" lengthAdjust="spacingAndGlyphs">1 to 2</text>
<text x="457.9" y="346.2" font-size="7" font-weight="bold" text-anchor="middle" textLength="91.7" lengthAdjust="spacingAndGlyphs">Transitional : CD4+ T cell</text>
<text transform="translate(381.3 314.5) rotate(-90)" font-size="8.6" font-weight="bold" textLength="72" lengthAdjust="spacingAndGlyphs">Suppression (%)</text>
<path d="M421.25 256.42 L461.25 271.18 L501.2 303.38" fill="none" stroke="#222" stroke-width="1.1"/>
<line x1="421.25" y1="253.06" x2="421.25" y2="259.37" stroke="#555" stroke-width="0.9"/>
<line x1="419.45" y1="253.06" x2="423.05" y2="253.06" stroke="#333" stroke-width="0.9"/>
<line x1="419.45" y1="259.37" x2="423.05" y2="259.37" stroke="#333" stroke-width="0.9"/>
<circle cx="421.25" cy="256.42" r="1.7" fill="#bbb" stroke="#222" stroke-width="0.9"/>
<line x1="461.25" y1="269.83" x2="461.25" y2="283.25" stroke="#555" stroke-width="0.9"/>
<line x1="459.45" y1="269.83" x2="463.05" y2="269.83" stroke="#333" stroke-width="0.9"/>
<line x1="459.45" y1="283.25" x2="463.05" y2="283.25" stroke="#333" stroke-width="0.9"/>
<circle cx="461.25" cy="271.18" r="1.7" fill="#bbb" stroke="#222" stroke-width="0.9"/>
<line x1="501.2" y1="296.67" x2="501.2" y2="307.4" stroke="#555" stroke-width="0.9"/>
<line x1="499.4" y1="296.67" x2="503" y2="296.67" stroke="#333" stroke-width="0.9"/>
<line x1="499.4" y1="307.4" x2="503" y2="307.4" stroke="#333" stroke-width="0.9"/>
<circle cx="501.2" cy="303.38" r="1.7" fill="#bbb" stroke="#222" stroke-width="0.9"/>
<text x="0.5" y="370.5" font-size="12" font-weight="bold">E</text>
<line x1="4.3" y1="374.5" x2="4.3" y2="400.5" stroke="#111" stroke-width="1.3"/>
<path d="M2 375.96L4.3 373.2L6.6 375.96" fill="none" stroke="#000" stroke-width="1.2"/>
<text transform="translate(7.9 434) rotate(-90)" font-size="7.6" font-weight="bold" textLength="18.6" lengthAdjust="spacingAndGlyphs">IFN&#947;</text>
<line x1="4.3" y1="438" x2="4.3" y2="471.3" stroke="#111" stroke-width="1.3"/>
<line x1="3.65" y1="471.3" x2="161.2" y2="471.3" stroke="#111" stroke-width="1.3"/>
<text x="181.7" y="473.4" font-size="9.4" font-weight="bold" text-anchor="middle" textLength="16" lengthAdjust="spacingAndGlyphs">CD4</text>
<line x1="210.8" y1="470.6" x2="372.5" y2="470.6" stroke="#111" stroke-width="1.3"/>
<path d="M369.84 467.8L373.2 470.6L369.84 473.4" fill="none" stroke="#000" stroke-width="1.2"/>
<rect x="30.7" y="388.1" width="64.6" height="64.6" fill="none" stroke="#555" stroke-width="0.8"/>
<text x="28.5" y="454" font-size="3.8" text-anchor="end" fill="#222">10<tspan font-size="2.66" dy="-1.71">0</tspan></text>
<line x1="29.5" y1="452.7" x2="30.7" y2="452.7" stroke="#555" stroke-width="0.5"/>
<text x="33.7" y="459" font-size="3.8" text-anchor="middle" fill="#222">10<tspan font-size="2.66" dy="-1.71">0</tspan></text>
<line x1="33.7" y1="452.7" x2="33.7" y2="453.9" stroke="#555" stroke-width="0.5"/>
<text x="28.5" y="438.35" font-size="3.8" text-anchor="end" fill="#222">10<tspan font-size="2.66" dy="-1.71">1</tspan></text>
<line x1="29.5" y1="437.05" x2="30.7" y2="437.05" stroke="#555" stroke-width="0.5"/>
<text x="49.1" y="459" font-size="3.8" text-anchor="middle" fill="#222">10<tspan font-size="2.66" dy="-1.71">1</tspan></text>
<line x1="49.1" y1="452.7" x2="49.1" y2="453.9" stroke="#555" stroke-width="0.5"/>
<text x="28.5" y="422.7" font-size="3.8" text-anchor="end" fill="#222">10<tspan font-size="2.66" dy="-1.71">2</tspan></text>
<line x1="29.5" y1="421.4" x2="30.7" y2="421.4" stroke="#555" stroke-width="0.5"/>
<text x="64.5" y="459" font-size="3.8" text-anchor="middle" fill="#222">10<tspan font-size="2.66" dy="-1.71">2</tspan></text>
<line x1="64.5" y1="452.7" x2="64.5" y2="453.9" stroke="#555" stroke-width="0.5"/>
<text x="28.5" y="407.05" font-size="3.8" text-anchor="end" fill="#222">10<tspan font-size="2.66" dy="-1.71">3</tspan></text>
<line x1="29.5" y1="405.75" x2="30.7" y2="405.75" stroke="#555" stroke-width="0.5"/>
<text x="79.9" y="459" font-size="3.8" text-anchor="middle" fill="#222">10<tspan font-size="2.66" dy="-1.71">3</tspan></text>
<line x1="79.9" y1="452.7" x2="79.9" y2="453.9" stroke="#555" stroke-width="0.5"/>
<text x="28.5" y="391.4" font-size="3.8" text-anchor="end" fill="#222">10<tspan font-size="2.66" dy="-1.71">4</tspan></text>
<line x1="29.5" y1="390.1" x2="30.7" y2="390.1" stroke="#555" stroke-width="0.5"/>
<text x="95.3" y="459" font-size="3.8" text-anchor="middle" fill="#222">10<tspan font-size="2.66" dy="-1.71">4</tspan></text>
<line x1="95.3" y1="452.7" x2="95.3" y2="453.9" stroke="#555" stroke-width="0.5"/>
<g stroke="#000" stroke-width="1" stroke-opacity="0.12" filter="url(#bl)">
<path d="M71 411.5h1M73 409.5h1M74 411h1M69 410h1M69.5 439.5h1M71 412.5h1M65 395.5h1M71 405.5h1M68 445h1M71.5 406h1M72 396.5h1M71 410.5h1M61.5 403h1M67.5 408.5h1M74 406.5h1M67.5 402h1M68.5 397h1M69 405h1M68 406h1M68 405h1M70.5 408.5h1M75.5 391.5h1M74 405.5h1M69 408.5h1M68 409.5h1M67 403h1M70.5 413h1M63.5 436.5h1M65.5 402.5h1M65 440.5h1M69 402.5h1M67 404h1M71.5 407h1M71 411h1M70 408.5h1M73.5 411.5h1M70.5 413.5h1M70 405.5h1M68 410h1M70.5 411h1M68.5 389.5h1M65.5 407.5h1M71 409.5h1M67 399.5h1M70.5 399h1M71.5 407.5h1M63.5 433.5h1M67.5 405h1M62.5 411.5h1M71 412h1M66 410h1M76.5 394h1M71.5 408h1M66.5 441h1M69.5 405.5h1M68.5 401.5h1M65.5 405h1M66 412h1M67.5 409.5h1M68 437h1M70 409h1M67 413.5h1M71.5 408h1M70.5 407.5h1M66.5 431.5h1M67 404h1M71 411.5h1M71 408.5h1M74 393h1M68 406h1M71 409.5h1M68 403.5h1M73.5 437h1M69 411.5h1M69.5 404.5h1M70 408.5h1M64 400h1M69.5 406.5h1M70 407.5h1M68.5 443.5h1M65.5 409h1M72.5 406.5h1M67.5 441h1M68 403h1M69.5 405h1M70 403.5h1M70.5 410h1M66 403h1M69.5 412.5h1M68 413h1M75 396h1M73.5 417h1M61 390h1M70 394.5h1M61.5 402h1M73.5 408h1M73.5 392h1M69 440.5h1M64.5 406.5h1M65.5 444.5h1M74.5 408.5h1M67.5 406.5h1M69.5 394h1M61 438h1M65.5 401h1M72.5 394.5h1M68 405.5h1M66.5 409.5h1M71.5 409h1M64 407h1M64.5 404h1M66.5 394.5h1M67 440h1M68 409h1M75.5 412h1M76.5 395h1M70 406h1M69 392.5h1M60.5 421.5h1M72 391.5h1M63 440h1M67 394.5h1M72.5 404h1M74 410h1M67.5 402.5h1M67 399.5h1M75.5 409.5h1M71 407.5h1M72 411h1M63 400h1M64.5 408.5h1M71 407h1M74.5 393.5h1M71.5 402.5h1M64.5 399.5h1M63.5 407.5h1M68.5 409.5h1M60 422.5h1M59.5 426.5h1M70.5 412h1M66.5 441h1M72 406h1M76.5 406h1M67.5 395h1M74.5 407h1M69.5 401h1M72 410h1M71 411h1M67 389h1M62 406.5h1M67 410.5h1M66 398.5h1"/>
<path d="M70.5 411h1M66.5 441.5h1M72 406.5h1M67.5 403h1M64.5 409h1M69.5 411.5h1M71 407h1M67 400.5h1M64 444.5h1M74 407.5h1M70 407h1M63.5 404.5h1M65 399h1M72.5 408.5h1M79 421h1M73 404h1M71 446h1M70 398.5h1M68 406h1M78.5 397.5h1M69.5 409h1M66 403h1M67.5 412h1M71 400h1M62.5 408h1M67 406h1M70.5 410.5h1M64 408h1M73.5 412.5h1M63.5 444.5h1M68 399.5h1M72.5 409h1M68 404h1M73 402h1M65 394.5h1M72.5 403.5h1M73 393h1M73 411h1M66.5 401h1M68 398h1M67.5 408h1M65 398.5h1M72.5 403h1M65 397h1M61 439.5h1M73 410h1M66.5 411h1M55.5 444.5h1M70 411.5h1M65.5 399.5h1M72 409.5h1M69 411h1M76.5 402h1M65 405h1M67.5 409h1M69 407h1M70 411.5h1M69 409.5h1M69.5 407h1M63 439h1M67 402.5h1M67.5 404.5h1M69.5 442h1M66.5 408.5h1M69 407h1M68 437.5h1M66.5 412h1M63.5 397.5h1M64.5 396.5h1M71.5 404h1M65.5 410.5h1M67 393.5h1M67 404.5h1M66 396.5h1M69.5 407.5h1M68 397.5h1M68.5 404h1M69.5 415.5h1M71 393h1M71 403.5h1M68 403.5h1M70 411h1M74.5 410.5h1M71 408.5h1M77 402h1M66 404.5h1M69 409h1M65 394.5h1M71 412h1M88 425h1M71.5 408h1M66.5 433.5h1M69.5 409h1M66.5 409h1M71 412h1M68.5 399h1M72 400h1M62.5 396h1M67.5 408h1M75 403h1M72.5 408.5h1M57.5 389.5h1M70 408.5h1M77.5 407.5h1M69 440h1M70.5 410.5h1M72 403.5h1M67 395h1M66.5 441.5h1M72.5 408.5h1M62.5 444.5h1M69.5 409.5h1M72 409h1M66.5 397h1M64 407.5h1M71 408.5h1M73 421.5h1M71.5 409.5h1M71 406h1M71 411.5h1M73.5 406.5h1M66.5 407.5h1M71 415.5h1M72 410h1M68.5 406.5h1M76.5 403h1M61 403.5h1M74 400.5h1M73.5 410h1M73.5 415h1M69 404h1M74 410h1M71 410.5h1M64 441.5h1M61 442h1M63 403.5h1M73 414h1M58.5 395.5h1M70.5 416h1M64 405.5h1M63 401h1M74.5 409h1M69 410h1M70 402.5h1M66 400.5h1M67.5 407h1M71 412.5h1M73 404h1M67 396h1M67.5 400h1M67.5 401.5h1M67.5 391.5h1"/>
<path d="M70.5 405.5h1M70 398.5h1M64.5 438h1M71 405h1M74 411h1M70.5 402h1M70.5 408.5h1M68 405.5h1M73 409h1M67 398h1M70.5 394.5h1M75.5 404.5h1M72 447.5h1M64 406h1M74 409h1M70 409.5h1M72 409h1M69.5 405.5h1M66.5 405.5h1M71 411.5h1M76.5 424.5h1M68 409.5h1M72.5 412h1M75 414.5h1M67 440.5h1M69 409h1M70 427h1M77.5 402h1M75.5 439.5h1M72 400.5h1M70.5 401h1M66.5 401.5h1M67 412h1M73.5 402h1M68.5 403.5h1M62 410.5h1M67 406h1M63 391h1M63.5 391h1M68 415.5h1M68 436.5h1M68.5 409.5h1M74.5 412h1M70 411.5h1M70 404.5h1M67 393h1M66.5 402h1M65 405h1M68 400.5h1M71.5 405h1M69.5 411.5h1M71 425.5h1M74 400h1M64 440h1M68 409h1M77.5 393h1M65 412.5h1M66 405h1M69 403h1M74 401h1M70 410h1M66 422.5h1M68.5 402.5h1M70 405.5h1M71 411h1M70 437h1M70.5 404h1M65.5 410.5h1M72 407h1M65 405h1M75.5 409h1M71 397h1M70.5 408h1M67 406.5h1M70 399.5h1M71.5 410.5h1M58.5 438.5h1M78.5 413.5h1M67.5 406.5h1M64.5 435.5h1M69.5 402h1M71.5 408.5h1M74.5 410h1M70 409h1M70.5 406h1M65 407.5h1M66 400h1M72.5 412h1M77.5 408.5h1M67.5 408h1M69 413h1M71 407.5h1M71.5 403.5h1M68.5 400h1M69 410h1M74 412h1M73.5 411.5h1M71 408.5h1M70 403.5h1M72 401.5h1M76 408h1M69.5 410.5h1M66.5 404.5h1M75.5 393h1M73.5 402h1M69 439h1M79 406h1M69 412.5h1M72 403.5h1M69.5 410.5h1M70.5 413h1M73 413.5h1M66 437h1M69 390h1M65.5 442.5h1M70.5 406.5h1M63 401h1M73.5 406h1M72 410.5h1M62 395.5h1M77 406.5h1M73.5 401.5h1M65 410.5h1M69.5 408.5h1M66 396h1M74.5 411h1M68.5 428.5h1M70 409.5h1M68.5 407.5h1M70.5 396.5h1M66 441.5h1M68.5 402h1M69.5 402h1M73.5 406h1M68 408.5h1M73.5 403h1M65.5 408h1M70 410.5h1M72 410h1M72 410.5h1M72 405h1M68.5 393.5h1M66 443h1M74 412h1M74 405.5h1M65.5 409h1M76 412h1M71 405h1M72.5 405.5h1M71 399.5h1M73 411.5h1"/>
<path d="M72.5 445.5h1M68 443.5h1M70 407.5h1M62.5 400h1M78 411h1M72.5 394.5h1M68.5 438.5h1M70 398.5h1M73.5 407.5h1M69 414.5h1M65 438.5h1M67.5 407h1M65 402h1M71 410.5h1M61.5 408h1M74.5 409.5h1M72 427h1M73.5 401.5h1M71 401.5h1M69 437h1M69 406.5h1M68 395h1M67.5 401h1M67.5 412h1M71 448.5h1M64.5 443.5h1M76 397h1M67.5 411.5h1M65 440.5h1M64 433.5h1M63 397h1M65 392h1M68.5 398.5h1M73.5 407h1M61.5 439.5h1M69.5 408.5h1M68.5 410.5h1M72 409.5h1M69.5 407h1M61.5 441.5h1M70.5 409h1M73 410.5h1M65.5 398.5h1M73 392.5h1M71.5 390h1M64 406h1M69.5 401.5h1M69.5 411.5h1M65.5 443h1M73.5 399.5h1M73.5 409.5h1M67.5 439.5h1M71 412.5h1M68 399h1M66.5 400h1M72.5 411.5h1M73 407h1M69.5 409h1M73.5 414h1M67.5 407.5h1M63 401h1M65.5 401h1M63 437.5h1M65.5 406h1M73.5 409.5h1M72 409h1M69.5 403.5h1M69.5 400.5h1M73 408h1M64.5 401.5h1M72.5 402.5h1M74.5 411.5h1M68.5 408.5h1M66.5 440.5h1M68 402h1M69 409.5h1M69 393.5h1M65 441.5h1M65 407h1M70 395.5h1M73 439.5h1M64.5 409.5h1M69 399h1M65 405h1M68.5 411h1M68 411h1M73.5 409h1M67.5 394h1M64.5 414h1M71.5 407.5h1M70.5 411h1M69 407h1M68 409.5h1M66 399.5h1M66.5 442.5h1M66.5 412.5h1M75.5 410.5h1M67 396.5h1M70.5 409.5h1M68.5 400h1M66 424.5h1M68.5 407h1M68 409h1M63.5 409.5h1M67.5 411.5h1M67.5 408h1M72 399.5h1M62.5 409h1M67 393.5h1M66.5 437.5h1M68 404h1M69 439h1M75 436h1M64 401.5h1M73 404.5h1M73 408h1M69 439h1M71.5 403.5h1M69 398.5h1M70 412.5h1M71 406.5h1M66 401h1M67 411h1M68.5 407.5h1M68 407.5h1M73.5 399h1M67 409h1M71 402h1M69.5 439h1M72 405.5h1M72.5 403.5h1M68 410h1M75 400h1M68 405.5h1M70.5 394h1M66 412.5h1M69 403h1M68 412h1M72.5 412h1M67 404h1M72.5 437h1M77.5 397h1M68.5 409.5h1M59.5 436h1M66 411.5h1M67 409.5h1M70 400h1M67.5 405h1M63.5 424.5h1M72 403.5h1M67.5 410h1"/>
<path d="M73.5 408.5h1M72 401h1M64 396h1M66 392.5h1M71.5 412h1M66.5 398.5h1M66.5 401h1M73 412h1M70 407h1M65.5 408.5h1M70.5 396.5h1M67.5 391.5h1M75.5 411.5h1M70 405h1M67.5 409h1M70.5 442.5h1M70 395h1M72.5 408.5h1M68 405h1M72 396.5h1M65.5 409h1M73 404.5h1M75 411.5h1M81 419h1M70 393h1M68 389.5h1M68.5 436.5h1M68.5 399h1M67 397.5h1M72 405h1M69.5 443.5h1M64.5 435h1M66 401h1M68 390h1M67.5 412h1M68 404.5h1M72.5 394h1M64.5 406.5h1M72 407h1M72 405.5h1M69 442h1M70 401h1M69.5 410h1M64.5 402h1M71 412.5h1M68 404.5h1M67 397.5h1M65 410.5h1M72.5 412.5h1M71.5 406.5h1M66.5 411h1M70 401h1M69.5 408.5h1M71 401h1M69.5 406h1M74.5 407.5h1M69 398.5h1M69.5 411h1M72.5 408h1M67 434.5h1M73 410h1M73.5 408.5h1M67.5 406.5h1M73 413.5h1M64 438h1M77.5 411h1M68 410h1M68 441h1M74.5 411.5h1M67 402.5h1M70.5 405h1M69.5 396.5h1M68 404h1M70.5 391.5h1M72 404h1M65.5 403.5h1M68 408.5h1M60.5 407.5h1M74 411h1M68 408h1M74 400.5h1M67.5 410h1M67 403h1M73 405.5h1M78 392.5h1M77.5 413.5h1M67.5 405h1M65 400h1M73 402h1M70 433.5h1M72.5 410h1M68 403h1M67.5 397h1M70.5 403h1M66 442h1M66.5 432.5h1M69.5 441h1M79 407.5h1M75 403h1M70.5 410.5h1M76.5 408h1M63 433.5h1M65.5 403h1M67 392.5h1M66.5 400.5h1M69.5 440h1M68.5 443.5h1M72.5 404h1M72 405.5h1M68 410.5h1M70.5 398h1M67.5 408h1M68 413.5h1M70.5 411h1M71.5 409h1M79.5 410h1M70.5 411.5h1M67.5 443.5h1M72.5 396h1M74 414.5h1M69.5 401.5h1M68.5 402.5h1M68.5 402h1M62 400.5h1M66 438h1M72.5 410h1M70 408h1M71 406.5h1M67 406h1M68 396h1M75.5 404.5h1M74.5 407.5h1M71 405h1M71.5 412h1M59.5 427h1M67 407.5h1M67.5 437h1M62.5 406h1M74.5 406h1M74.5 407.5h1M62.5 403.5h1M73.5 402h1M67 403.5h1M75 400.5h1M71 410.5h1M68 412.5h1M73 406.5h1M68.5 399.5h1M66 405.5h1M69.5 436h1M68 394.5h1"/>
<path d="M69 392h1M67 394h1M71 409.5h1M70.5 435h1M66 398h1M75 407.5h1M66 406.5h1M69 407.5h1M63 396h1M69 402h1M71 408.5h1M66.5 411h1M71 412.5h1M69.5 408.5h1M70.5 407h1M63 402.5h1M72 410h1M75 409.5h1M64 441h1M73.5 405h1M65 401h1M68 442.5h1M73 400.5h1M68 409h1M68.5 403h1M71 409h1M71 398h1M66.5 407h1M68.5 391.5h1M68.5 393h1M65.5 410.5h1M68.5 402.5h1M71.5 409.5h1M68 412h1M69 438.5h1M68.5 448.5h1M70 441h1M71 402h1M68.5 403h1M70.5 398.5h1M74 409h1M65.5 436h1M67 405h1M73 409h1M69.5 442.5h1M68.5 400.5h1M69.5 398.5h1M66 400h1M74 406h1M64 401h1M72.5 401h1M65 401.5h1M69.5 409.5h1M65 436h1M69 404h1M73.5 403h1M68.5 411h1M69 400h1M67.5 411h1M63 406h1M68.5 393h1M68 398h1M65 409.5h1M70.5 411.5h1M70 409h1M74.5 401h1M68 395.5h1M69 441.5h1M69.5 409h1M66.5 408.5h1M70.5 391.5h1M73 409h1M69.5 445.5h1M72.5 402.5h1M72 415h1M63 441.5h1M70 403.5h1M63.5 408h1M65 440h1M71.5 401.5h1M74 401h1M69.5 404.5h1M71.5 406.5h1M65 408h1M69 413h1M74 403.5h1M74 407.5h1M62.5 443h1M67.5 440h1M70.5 404.5h1M70 400.5h1M75 403.5h1M67.5 445h1M66.5 411.5h1M67 439h1M68.5 397h1M75.5 406.5h1M64 409h1M66 397.5h1M59.5 420.5h1M68.5 409h1M69 407.5h1M74 409.5h1M71 408.5h1M69.5 441.5h1M68.5 397h1M69 401.5h1M72 399.5h1M71.5 409h1M75.5 411.5h1M61.5 441.5h1M75.5 411.5h1M71.5 410.5h1M66 411.5h1M69 411h1M65 407.5h1M64 406h1M66.5 442.5h1M70 442h1M72 424h1M76 403.5h1M62.5 412.5h1M77 408h1M67 402h1M70.5 405h1M71.5 396.5h1M69 405.5h1M66.5 411h1M66 437h1M73 409.5h1M78.5 410.5h1M75.5 427.5h1M63.5 413.5h1M72 406.5h1M70 406.5h1M76.5 398.5h1M72.5 407.5h1M65 401h1M77.5 398.5h1M61 441h1M68 442.5h1M72 410h1M70.5 400.5h1M69.5 443.5h1M64.5 402.5h1M70.5 409.5h1M68 401.5h1M65.5 439.5h1M70 393h1M71 407h1M72 413.5h1"/>
</g>
<rect x="57.5" y="388.1" width="23.1" height="30.3" fill="none" stroke="#777" stroke-width="0.8"/>
<path d="M70.5 411.1C72.18 412.23 76.58 419.02 77.5 422.2C78.42 425.38 77.17 427.85 76 430.2C74.83 432.55 72.25 434.77 70.5 436.3C68.75 437.83 66.95 439.4 65.5 439.4C64.05 439.4 62.77 437.83 61.8 436.3C60.83 434.77 60.05 432.25 59.7 430.2C59.35 428.15 59.13 425.55 59.7 424C60.27 422.45 61.82 422.33 63.1 420.9C64.38 419.47 66.17 417.03 67.4 415.4C68.63 413.77 68.82 409.97 70.5 411.1Z" fill="#000" stroke="#000" stroke-width="1.1"/>
<path d="M70.06 415.08C71.41 415.99 74.93 421.41 75.66 423.96C76.39 426.51 75.39 428.48 74.46 430.36C73.53 432.24 71.46 434.01 70.06 435.24C68.66 436.47 67.22 437.72 66.06 437.72C64.9 437.72 63.87 436.47 63.1 435.24C62.33 434.01 61.7 432 61.42 430.36C61.14 428.72 60.97 426.64 61.42 425.4C61.87 424.16 63.11 424.07 64.14 422.92C65.17 421.77 66.59 419.83 67.58 418.52C68.57 417.21 68.71 414.17 70.06 415.08Z" fill="#f0f0f0" stroke="none" stroke-width="0"/>
<path d="M69.86 416.47C71.06 417.27 74.18 422.09 74.83 424.35C75.48 426.61 74.6 428.36 73.77 430.03C72.94 431.7 71.1 433.27 69.86 434.36C68.62 435.45 67.34 436.56 66.31 436.56C65.28 436.56 64.37 435.45 63.68 434.36C63 433.27 62.44 431.48 62.19 430.03C61.95 428.57 61.79 426.73 62.19 425.62C62.6 424.52 63.7 424.44 64.61 423.42C65.52 422.41 66.79 420.68 67.66 419.52C68.54 418.36 68.67 415.66 69.86 416.47Z" fill="#7a7a7a" stroke="none" stroke-width="0"/>
<path d="M69.62 417.86C70.63 418.54 73.27 422.61 73.82 424.52C74.37 426.43 73.62 427.91 72.92 429.32C72.22 430.73 70.67 432.06 69.62 432.98C68.57 433.9 67.49 434.84 66.62 434.84C65.75 434.84 64.98 433.9 64.4 432.98C63.82 432.06 63.35 430.55 63.14 429.32C62.93 428.09 62.8 426.53 63.14 425.6C63.48 424.67 64.41 424.6 65.18 423.74C65.95 422.88 67.02 421.42 67.76 420.44C68.5 419.46 68.61 417.18 69.62 417.86Z" fill="#787878" stroke="#a8a8a8" stroke-width="0.45"/>
<path d="M69.25 420.48C69.97 420.97 71.86 423.88 72.26 425.25C72.65 426.62 72.11 427.68 71.61 428.69C71.11 429.7 70 430.65 69.25 431.31C68.49 431.97 67.72 432.65 67.1 432.65C66.47 432.65 65.92 431.97 65.5 431.31C65.09 430.65 64.75 429.57 64.6 428.69C64.45 427.81 64.36 426.69 64.6 426.03C64.85 425.36 65.51 425.31 66.06 424.69C66.62 424.08 67.38 423.03 67.91 422.33C68.44 421.62 68.52 419.99 69.25 420.48Z" fill="#707070" stroke="#959595" stroke-width="0.45"/>
<path d="M68.87 423.1C69.31 423.39 70.45 425.15 70.69 425.98C70.93 426.81 70.61 427.45 70.3 428.06C70 428.67 69.33 429.25 68.87 429.65C68.42 430.05 67.95 430.45 67.57 430.45C67.2 430.45 66.86 430.05 66.61 429.65C66.36 429.25 66.16 428.6 66.06 428.06C65.97 427.53 65.92 426.85 66.06 426.45C66.21 426.05 66.61 426.02 66.95 425.64C67.28 425.27 67.75 424.64 68.07 424.21C68.39 423.79 68.43 422.8 68.87 423.1Z" fill="#666" stroke="#888" stroke-width="0.45"/>
<circle cx="68.3" cy="426.5" r="1.0" fill="#000"/>
<text x="34.6" y="408.6" font-size="7" font-weight="bold" textLength="15.2" lengthAdjust="spacingAndGlyphs">3.1%</text>
<rect x="121.2" y="388.3" width="66.3" height="65" fill="none" stroke="#555" stroke-width="0.8"/>
<text x="119" y="454.6" font-size="3.8" text-anchor="end" fill="#222">10<tspan font-size="2.66" dy="-1.71">0</tspan></text>
<line x1="120" y1="453.3" x2="121.2" y2="453.3" stroke="#555" stroke-width="0.5"/>
<text x="124.2" y="459.6" font-size="3.8" text-anchor="middle" fill="#222">10<tspan font-size="2.66" dy="-1.71">0</tspan></text>
<line x1="124.2" y1="453.3" x2="124.2" y2="454.5" stroke="#555" stroke-width="0.5"/>
<text x="119" y="438.85" font-size="3.8" text-anchor="end" fill="#222">10<tspan font-size="2.66" dy="-1.71">1</tspan></text>
<line x1="120" y1="437.55" x2="121.2" y2="437.55" stroke="#555" stroke-width="0.5"/>
<text x="140.03" y="459.6" font-size="3.8" text-anchor="middle" fill="#222">10<tspan font-size="2.66" dy="-1.71">1</tspan></text>
<line x1="140.03" y1="453.3" x2="140.03" y2="454.5" stroke="#555" stroke-width="0.5"/>
<text x="119" y="423.1" font-size="3.8" text-anchor="end" fill="#222">10<tspan font-size="2.66" dy="-1.71">2</tspan></text>
<line x1="120" y1="421.8" x2="121.2" y2="421.8" stroke="#555" stroke-width="0.5"/>
<text x="155.85" y="459.6" font-size="3.8" text-anchor="middle" fill="#222">10<tspan font-size="2.66" dy="-1.71">2</tspan></text>
<line x1="155.85" y1="453.3" x2="155.85" y2="454.5" stroke="#555" stroke-width="0.5"/>
<text x="119" y="407.35" font-size="3.8" text-anchor="end" fill="#222">10<tspan font-size="2.66" dy="-1.71">3</tspan></text>
<line x1="120" y1="406.05" x2="121.2" y2="406.05" stroke="#555" stroke-width="0.5"/>
<text x="171.68" y="459.6" font-size="3.8" text-anchor="middle" fill="#222">10<tspan font-size="2.66" dy="-1.71">3</tspan></text>
<line x1="171.68" y1="453.3" x2="171.68" y2="454.5" stroke="#555" stroke-width="0.5"/>
<text x="119" y="391.6" font-size="3.8" text-anchor="end" fill="#222">10<tspan font-size="2.66" dy="-1.71">4</tspan></text>
<line x1="120" y1="390.3" x2="121.2" y2="390.3" stroke="#555" stroke-width="0.5"/>
<text x="187.5" y="459.6" font-size="3.8" text-anchor="middle" fill="#222">10<tspan font-size="2.66" dy="-1.71">4</tspan></text>
<line x1="187.5" y1="453.3" x2="187.5" y2="454.5" stroke="#555" stroke-width="0.5"/>
<text transform="translate(110.7 429.8) rotate(-90)" font-size="2.6" textLength="18" lengthAdjust="spacingAndGlyphs" fill="#888">FL4-H: IFNg APC</text>
<g stroke="#000" stroke-width="1" stroke-opacity="0.12" filter="url(#bl)">
<path d="M156.5 442.5h1M163 412h1M152 419h1M159.5 415h1M162 409.5h1M161 414.5h1M155.5 437.5h1M163 444.5h1M156.5 411h1M154 438.5h1M154.5 401h1M157.5 409.5h1M154.5 409.5h1M166.5 407h1M160 413.5h1M158.5 405.5h1M166 410h1M166 416.5h1M160.5 409h1M162 414h1M155 432.5h1M152.5 415h1M160.5 408.5h1M162.5 429.5h1M164.5 393.5h1M161.5 414h1M159.5 403.5h1M164.5 412.5h1M167 411h1M154 401h1M158 407.5h1M156 400.5h1M160 413h1M153.5 411h1M153.5 411h1M161.5 406.5h1M158.5 422h1M166.5 417h1M160 405h1M154.5 444h1M161 412h1M161 406h1M150 390h1M161 410h1M155 399h1M159.5 410h1M153.5 409h1M157.5 443h1M157 445h1M158.5 402.5h1M159.5 414h1M163.5 418h1M165 407h1M159.5 410.5h1M156.5 451h1M165 405.5h1M159 411h1M151 440.5h1M163 411h1M162 413.5h1M155 408.5h1M155 411h1M156.5 404h1M158.5 401h1M164 404h1M155 401.5h1M156.5 410h1M164 410h1M157.5 401h1M153 436h1M157 404.5h1M160 411h1M166 412h1M152 409h1M157 398.5h1M160.5 413.5h1M159 411.5h1M161.5 405.5h1M159 410.5h1M153 442.5h1M154.5 438.5h1M157 408h1M158.5 404h1M157.5 410h1M158 410.5h1M157 410.5h1M165 405h1M160 413h1M166.5 413h1M160 392.5h1M165.5 413h1M155.5 396h1M157.5 405h1M146.5 389.5h1M163 403.5h1M152 438.5h1M155.5 406.5h1M162.5 411h1M157.5 406h1M164 416h1M155.5 412.5h1M162.5 408h1M157.5 411.5h1M158 412h1M158 408.5h1M163.5 408h1M160.5 406.5h1M155.5 446h1M155.5 439.5h1M179 435.5h1M164 413h1M156 445h1M158.5 407.5h1M153.5 405.5h1M160 412.5h1M156.5 400h1M158 407.5h1M158 398.5h1M159.5 406h1M155 401.5h1M164.5 413h1M155.5 402.5h1M156 405.5h1M161 416h1M160 405.5h1M159.5 406h1M162 414.5h1M154 407.5h1M151 433h1M165 404h1M160.5 411.5h1M156.5 404.5h1M158.5 411.5h1M157 410h1M164.5 414.5h1M157 399h1M156 407.5h1M163 410.5h1M158 406h1M156.5 406.5h1M154.5 413.5h1M158 399h1M159.5 442h1M163 400.5h1M161 399h1M160.5 413.5h1M161 408.5h1M160.5 414.5h1M160.5 436.5h1M150.5 406.5h1M154 437h1M162 412h1"/>
<path d="M160.5 409.5h1M160 411h1M156.5 403h1M156.5 414h1M161.5 409.5h1M155 408.5h1M163 408.5h1M156 411.5h1M165.5 408h1M160.5 414.5h1M161 412h1M153 409.5h1M158 404.5h1M151.5 440.5h1M155.5 408.5h1M164 413h1M160 405.5h1M157 403.5h1M158.5 401h1M158.5 410h1M161.5 411h1M157 405h1M158 411h1M159 405h1M158.5 402.5h1M160 408h1M158.5 395h1M163.5 406.5h1M162.5 416h1M156 443.5h1M155 401h1M158 410h1M155 392.5h1M162 399h1M161.5 414h1M154.5 400h1M159 400.5h1M154 407h1M159.5 410h1M152.5 442h1M155.5 447h1M160.5 400h1M155.5 407.5h1M150 444h1M154 435.5h1M157.5 398.5h1M163 403.5h1M156 399h1M157 405h1M156 410.5h1M158 400.5h1M157 409h1M159 398.5h1M158.5 400.5h1M158.5 407.5h1M169 410h1M161 409h1M161 411.5h1M159.5 406.5h1M160 412h1M156.5 410h1M154.5 441h1M148.5 401h1M154.5 406.5h1M161 411h1M153.5 408.5h1M159 401.5h1M155.5 415.5h1M157.5 402.5h1M159.5 407.5h1M167 405.5h1M161 415h1M156 442.5h1M158 410.5h1M159 411.5h1M152.5 397.5h1M162.5 414h1M161 442h1M160 411.5h1M154.5 399.5h1M158 391h1M155.5 396.5h1M159 412.5h1M161 411h1M158.5 398.5h1M158.5 404h1M158.5 404.5h1M158 412.5h1M159.5 410h1M157.5 394.5h1M152.5 404.5h1M159.5 404h1M158 404h1M159 411.5h1M156 402h1M169 406h1M161.5 408h1M158 403h1M155.5 408h1M156.5 445h1M157.5 407.5h1M155 403.5h1M158.5 407.5h1M158 413.5h1M161.5 402.5h1M156.5 410.5h1M155 409h1M157 411.5h1M147.5 433.5h1M160 400h1M158 411h1M163 410.5h1M160 412h1M156 409h1M160.5 412h1M156 440h1M158 411h1M161.5 414.5h1M154.5 439.5h1M158.5 402.5h1M159 405h1M162.5 413h1M156 444.5h1M163 406.5h1M157 409.5h1M161.5 396.5h1M160 407h1M157 400.5h1M157 405.5h1M156.5 402h1M161 400h1M159 414h1M160 412h1M159.5 404h1M156.5 410.5h1M161 409.5h1M155.5 402h1M162.5 393.5h1M151.5 446h1M157.5 396.5h1M163.5 412h1M152.5 417h1M158.5 392h1M163.5 408.5h1M153.5 438h1M156.5 411.5h1M157.5 398.5h1M162 404.5h1M155.5 405.5h1M157 409.5h1M156 405.5h1M154 409h1"/>
<path d="M150.5 404.5h1M156.5 406h1M164 422.5h1M160 413h1M161.5 407h1M166 403.5h1M155 442.5h1M165.5 412h1M162 408.5h1M160.5 401h1M157.5 394h1M156 444.5h1M162.5 406.5h1M154 407.5h1M157 406h1M160.5 407h1M158 409.5h1M162.5 397.5h1M153.5 398h1M161 408.5h1M160.5 401h1M156 405.5h1M165 415.5h1M160.5 412h1M160 413.5h1M157 393.5h1M161 400.5h1M156.5 402.5h1M158 441.5h1M158 405h1M156 441.5h1M162 442h1M163 440h1M161.5 411.5h1M158.5 402h1M165 408h1M160 410h1M156 398.5h1M160 406.5h1M163 408h1M162 401h1M161 403h1M159 410h1M164 412h1M164 410h1M160 408h1M150 439.5h1M156.5 401h1M160 400.5h1M160.5 400h1M164 403h1M162.5 410h1M164.5 422h1M161.5 405h1M156 407.5h1M161 410.5h1M157.5 440.5h1M155.5 407h1M160 411.5h1M161 413.5h1M157.5 409h1M157.5 443.5h1M159.5 413.5h1M167.5 400h1M158.5 409.5h1M158 398h1M166 403.5h1M158 398.5h1M155 391h1M159.5 407h1M150.5 441.5h1M156.5 397h1M150.5 399h1M164 411h1M157.5 392.5h1M161 410.5h1M159 404.5h1M154.5 398.5h1M163.5 412.5h1M154 442.5h1M152 397.5h1M163.5 402h1M160 412h1M156.5 396h1M154.5 407.5h1M165.5 414h1M156.5 443h1M157.5 413.5h1M153.5 409h1M162 406h1M162.5 410.5h1M158.5 442.5h1M160.5 395h1M159 410h1M164.5 397h1M163.5 413h1M157.5 407h1M161 407h1M155 408.5h1M154.5 393.5h1M163 411h1M158 392.5h1M154.5 397h1M157.5 408.5h1M158 409.5h1M160.5 412.5h1M159.5 413h1M158.5 410h1M159.5 397.5h1M162 410h1M161 414.5h1M155.5 406.5h1M160.5 407.5h1M153.5 439.5h1M162 412.5h1M162 404.5h1M153 442h1M154 444h1M158 407.5h1M157.5 396.5h1M162 403.5h1M160.5 402h1M164.5 415.5h1M162.5 398h1M158.5 412h1M160 402.5h1M161 415h1M156.5 398h1M164 408.5h1M155 444h1M165.5 408h1M158 411.5h1M153.5 443h1M155 444.5h1M162 404.5h1M161 407h1M163.5 406.5h1M157 439h1M164 408.5h1M164 410.5h1M159.5 411h1M161 412h1M154.5 409.5h1M157 409.5h1M151.5 434h1M152 408h1M156.5 416.5h1M165.5 404h1M155 394h1M165 413h1M158.5 411.5h1M164 407h1"/>
<path d="M157 444h1M157 433h1M155.5 411.5h1M157 414h1M156.5 415h1M164 394h1M162 413h1M160.5 402.5h1M158 409h1M165.5 404.5h1M154 440h1M162 411h1M161.5 403h1M160 409h1M156.5 413h1M155.5 441.5h1M161 444h1M155.5 445.5h1M158.5 389.5h1M156.5 399h1M158.5 439h1M162.5 408h1M166.5 407.5h1M159.5 412h1M161.5 407h1M150.5 447.5h1M160 410.5h1M161 405.5h1M160 397.5h1M164.5 405.5h1M155.5 409h1M161.5 410.5h1M155 446.5h1M158.5 401h1M163 414.5h1M162.5 410.5h1M163 434h1M153 399h1M151.5 443.5h1M155 438h1M159.5 405.5h1M161 409.5h1M155.5 424h1M161.5 413h1M158 408h1M154.5 410h1M156 401h1M160.5 417h1M156.5 442h1M159 406.5h1M155 437.5h1M156.5 407.5h1M159 413h1M164 408h1M155.5 439.5h1M160 406.5h1M169 406.5h1M159.5 412.5h1M157.5 412h1M159.5 414.5h1M151.5 406h1M157.5 399.5h1M156.5 445.5h1M163 411.5h1M162.5 410h1M164 414h1M161.5 402h1M163.5 411.5h1M156 424h1M162.5 405.5h1M162.5 412.5h1M156.5 437h1M162 413h1M159.5 407h1M165 407h1M150.5 431.5h1M158.5 411.5h1M158 442.5h1M162 439.5h1M160.5 407h1M159.5 411.5h1M162.5 406.5h1M157.5 407.5h1M159 406h1M154.5 406.5h1M168 404.5h1M158.5 415h1M152 400h1M160 410h1M159 404h1M165 412.5h1M159.5 405h1M155.5 402h1M164 413.5h1M162 413.5h1M158 401h1M157 407h1M160.5 396h1M158.5 409.5h1M165 408h1M162.5 410.5h1M161.5 413.5h1M158.5 399h1M156.5 408.5h1M166 402.5h1M159.5 402h1M157.5 410.5h1M154.5 396.5h1M160 395.5h1M160.5 442h1M160 414.5h1M156.5 393h1M162.5 413.5h1M155.5 403.5h1M154.5 413.5h1M161 415h1M158 416h1M159 439.5h1M157 405.5h1M161 409h1M160 408h1M164 400h1M159.5 413.5h1M162 411.5h1M162 414.5h1M161 406h1M158 407h1M162.5 398.5h1M155 409h1M165 412.5h1M162 401h1M161 405.5h1M159 411h1M166 398.5h1M156 442.5h1M158 412h1M154.5 402.5h1M157 402h1M165.5 409h1M161.5 412.5h1M160 410h1M159 410.5h1M160.5 407.5h1M162 412h1M159 411h1M159.5 402h1M161.5 403h1M157 439h1M162 412.5h1M166.5 404.5h1M152 442h1M157.5 411h1"/>
<path d="M158 406.5h1M151 406h1M154 406.5h1M156.5 438h1M157.5 408.5h1M152 400.5h1M159.5 411h1M162.5 413h1M160.5 401.5h1M157.5 442.5h1M153.5 405h1M162 416.5h1M163 409.5h1M153.5 401.5h1M158 436h1M160 412.5h1M161 439h1M163 401.5h1M157 405.5h1M159 411.5h1M158.5 412.5h1M155 448.5h1M158 408.5h1M165.5 403h1M158.5 406h1M155 441.5h1M153 411h1M156.5 404.5h1M158 404.5h1M163 406h1M155 404h1M162 410.5h1M157.5 399.5h1M161 406.5h1M168 403h1M161 410h1M152 442.5h1M157 409.5h1M162 413h1M157.5 425.5h1M153.5 443h1M162.5 410.5h1M157.5 412.5h1M161.5 444.5h1M163 411.5h1M159.5 413.5h1M156 409.5h1M159 409.5h1M162 411.5h1M161 408h1M161.5 394.5h1M158 414.5h1M156 413h1M164 407.5h1M158 438h1M161 408h1M156.5 414.5h1M165.5 394.5h1M154.5 410.5h1M161 415.5h1M162.5 406.5h1M160 402h1M157 408h1M159 413h1M159 413h1M154 399h1M157 412.5h1M157.5 409.5h1M162.5 411.5h1M156.5 413.5h1M161 410h1M167 408h1M163 411h1M156.5 410h1M158.5 413h1M155.5 411.5h1M155.5 407h1M160 411h1M164 400h1M158 443.5h1M153.5 403h1M158 415h1M156 438.5h1M163 412h1M161.5 410h1M158.5 410h1M157.5 407.5h1M165.5 407.5h1M162 401.5h1M165.5 411h1M157.5 406h1M157 408h1M159 412.5h1M155 441.5h1M161 413h1M162 411.5h1M157 411.5h1M165.5 413h1M163 410h1M157.5 411.5h1M165.5 411h1M151.5 403.5h1M149.5 443.5h1M160 401.5h1M151 399h1M161 428.5h1M158.5 403h1M163 410.5h1M162.5 407.5h1M159.5 412.5h1M159 412h1M156.5 399.5h1M162.5 411.5h1M157 441.5h1M149.5 400.5h1M160 411h1M160.5 411h1M160.5 402.5h1M162.5 399h1M158.5 412.5h1M160 405.5h1M158.5 400h1M162 409.5h1M157 406.5h1M163.5 414.5h1M162.5 412h1M163.5 410.5h1M156 431.5h1M154.5 403.5h1M156 400.5h1M151 440h1M165 407h1M160.5 414h1M159.5 438.5h1M159.5 409h1M153.5 411h1M155 412h1M156 440.5h1M162.5 403.5h1M159.5 416h1M163 410h1M160.5 413.5h1M163 409h1M166.5 392.5h1M156 405h1M161.5 404.5h1M161 413h1M154.5 409h1M160.5 396h1M159 413h1M150.5 437.5h1M162 413h1"/>
<path d="M157 400h1M163 400.5h1M159 411.5h1M160.5 405h1M159.5 403h1M162 400h1M156 407.5h1M160 404.5h1M158.5 441h1M159 412h1M158 411h1M158 443h1M154 406h1M153.5 401h1M159 412h1M157 410.5h1M159.5 407h1M164.5 407.5h1M158 412h1M160 408h1M163.5 410h1M159 413.5h1M157.5 404.5h1M151 405h1M159 405.5h1M162 405h1M159.5 412h1M157 402.5h1M160.5 413h1M157 410.5h1M151.5 441.5h1M158 407h1M152 441h1M152.5 446.5h1M156.5 412.5h1M164 409.5h1M159.5 401h1M157.5 396h1M156 407h1M159 413h1M153.5 389.5h1M155 413h1M163 402.5h1M161.5 406h1M158.5 403h1M161 404h1M155 402.5h1M156 401.5h1M163 413.5h1M156.5 394h1M158 410.5h1M168 407h1M155.5 399.5h1M163.5 413.5h1M161 403h1M144 429.5h1M160 399h1M163 416.5h1M161.5 409h1M157 409.5h1M160 405h1M161.5 400h1M156.5 403.5h1M158 407.5h1M161.5 415.5h1M157.5 413.5h1M154.5 408.5h1M159.5 411h1M153.5 447.5h1M157 412h1M154 396.5h1M165 402h1M159 407h1M158 411.5h1M158 392h1M160.5 413.5h1M156.5 442h1M167.5 404.5h1M151.5 401.5h1M162 406.5h1M160 406.5h1M162.5 410h1M164 396.5h1M165 415.5h1M157 404h1M155.5 439.5h1M163 412.5h1M165.5 416.5h1M164.5 446.5h1M155 403.5h1M162 413h1M153.5 398h1M164.5 416.5h1M157 407.5h1M155.5 409.5h1M161.5 413h1M164.5 408.5h1M145.5 415.5h1M155.5 413h1M152.5 439h1M164 407h1M169.5 405h1M164 414h1M158.5 411h1M157.5 445h1M153.5 444.5h1M159.5 413.5h1M161 406h1M156.5 406.5h1M162 415.5h1M160.5 404.5h1M158.5 407h1M159 411.5h1M158.5 408.5h1M158 410h1M156 410h1M161.5 410h1M159 409.5h1M162 409h1M155.5 406h1M160 407.5h1M161 412.5h1M158.5 440.5h1M158.5 411.5h1M158.5 413.5h1M155.5 446h1M158 405h1M159.5 442.5h1M155 401.5h1M161 412h1M156.5 408h1M163.5 401.5h1M159.5 439h1M158.5 405h1M156 413h1M161 410h1M159 402h1M161.5 406.5h1M157 444.5h1M162.5 408h1M155 407.5h1M163 394h1M161.5 414.5h1M168 441.5h1M162.5 414h1M159.5 447h1M160.5 407.5h1M159.5 402h1M158.5 413h1M154.5 404.5h1M159.5 412.5h1"/>
</g>
<rect x="148" y="388.3" width="20.7" height="29" fill="none" stroke="#777" stroke-width="0.8"/>
<path d="M160 413C161.08 413.75 162.83 417.5 164 419.5C165.17 421.5 166.75 423.17 167 425C167.25 426.83 166.5 428.67 165.5 430.5C164.5 432.33 162.67 434.5 161 436C159.33 437.5 157.25 440 155.5 439.5C153.75 439 151.42 435.08 150.5 433C149.58 430.92 150.08 428.83 150 427C149.92 425.17 149.5 423.5 150 422C150.5 420.5 151.75 419.17 153 418C154.25 416.83 156.33 415.83 157.5 415C158.67 414.17 158.92 412.25 160 413Z" fill="#000" stroke="#000" stroke-width="1.1"/>
<path d="M159.4 416.8C160.27 417.4 161.67 420.4 162.6 422C163.53 423.6 164.8 424.93 165 426.4C165.2 427.87 164.6 429.33 163.8 430.8C163 432.27 161.53 434 160.2 435.2C158.87 436.4 157.2 438.4 155.8 438C154.4 437.6 152.53 434.47 151.8 432.8C151.07 431.13 151.47 429.47 151.4 428C151.33 426.53 151 425.2 151.4 424C151.8 422.8 152.8 421.73 153.8 420.8C154.8 419.87 156.47 419.07 157.4 418.4C158.33 417.73 158.53 416.2 159.4 416.8Z" fill="#f0f0f0" stroke="none" stroke-width="0"/>
<path d="M159.13 418.1C159.9 418.64 161.14 421.3 161.97 422.72C162.8 424.14 163.92 425.32 164.1 426.62C164.28 427.93 163.75 429.23 163.03 430.53C162.32 431.83 161.02 433.37 159.84 434.44C158.66 435.5 157.18 437.27 155.94 436.92C154.69 436.56 153.04 433.78 152.38 432.3C151.73 430.83 152.09 429.35 152.03 428.04C151.97 426.74 151.68 425.56 152.03 424.5C152.38 423.43 153.27 422.48 154.16 421.65C155.05 420.83 156.53 420.12 157.35 419.52C158.18 418.93 158.36 417.57 159.13 418.1Z" fill="#7a7a7a" stroke="none" stroke-width="0"/>
<path d="M158.8 419.4C159.45 419.85 160.5 422.1 161.2 423.3C161.9 424.5 162.85 425.5 163 426.6C163.15 427.7 162.7 428.8 162.1 429.9C161.5 431 160.4 432.3 159.4 433.2C158.4 434.1 157.15 435.6 156.1 435.3C155.05 435 153.65 432.65 153.1 431.4C152.55 430.15 152.85 428.9 152.8 427.8C152.75 426.7 152.5 425.7 152.8 424.8C153.1 423.9 153.85 423.1 154.6 422.4C155.35 421.7 156.6 421.1 157.3 420.6C158 420.1 158.15 418.95 158.8 419.4Z" fill="#787878" stroke="#a8a8a8" stroke-width="0.45"/>
<path d="M158.29 421.87C158.76 422.19 159.51 423.8 160.01 424.66C160.51 425.52 161.19 426.24 161.3 427.03C161.41 427.81 161.09 428.6 160.66 429.39C160.22 430.18 159.44 431.11 158.72 431.75C158 432.4 157.11 433.48 156.35 433.26C155.6 433.05 154.6 431.36 154.21 430.47C153.81 429.57 154.03 428.67 153.99 427.89C153.95 427.1 153.78 426.38 153.99 425.74C154.21 425.09 154.74 424.52 155.28 424.02C155.82 423.51 156.71 423.08 157.22 422.73C157.72 422.37 157.82 421.54 158.29 421.87Z" fill="#707070" stroke="#959595" stroke-width="0.45"/>
<path d="M157.78 424.33C158.06 424.53 158.52 425.5 158.82 426.02C159.12 426.54 159.53 426.97 159.6 427.45C159.66 427.93 159.47 428.4 159.21 428.88C158.95 429.36 158.47 429.92 158.04 430.31C157.61 430.7 157.06 431.35 156.61 431.22C156.16 431.09 155.55 430.07 155.31 429.53C155.07 428.99 155.2 428.45 155.18 427.97C155.16 427.49 155.05 427.06 155.18 426.67C155.31 426.28 155.64 425.93 155.96 425.63C156.28 425.33 156.83 425.07 157.13 424.85C157.43 424.63 157.5 424.14 157.78 424.33Z" fill="#666" stroke="#888" stroke-width="0.45"/>
<circle cx="157" cy="427.5" r="1.0" fill="#000"/>
<text x="126" y="408.2" font-size="7" font-weight="bold" textLength="15.2" lengthAdjust="spacingAndGlyphs">1.6%</text>
<rect x="212.7" y="388.3" width="65.8" height="65" fill="none" stroke="#555" stroke-width="0.8"/>
<text x="210.5" y="454.6" font-size="3.8" text-anchor="end" fill="#222">10<tspan font-size="2.66" dy="-1.71">0</tspan></text>
<line x1="211.5" y1="453.3" x2="212.7" y2="453.3" stroke="#555" stroke-width="0.5"/>
<text x="215.7" y="459.6" font-size="3.8" text-anchor="middle" fill="#222">10<tspan font-size="2.66" dy="-1.71">0</tspan></text>
<line x1="215.7" y1="453.3" x2="215.7" y2="454.5" stroke="#555" stroke-width="0.5"/>
<text x="210.5" y="438.85" font-size="3.8" text-anchor="end" fill="#222">10<tspan font-size="2.66" dy="-1.71">1</tspan></text>
<line x1="211.5" y1="437.55" x2="212.7" y2="437.55" stroke="#555" stroke-width="0.5"/>
<text x="231.4" y="459.6" font-size="3.8" text-anchor="middle" fill="#222">10<tspan font-size="2.66" dy="-1.71">1</tspan></text>
<line x1="231.4" y1="453.3" x2="231.4" y2="454.5" stroke="#555" stroke-width="0.5"/>
<text x="210.5" y="423.1" font-size="3.8" text-anchor="end" fill="#222">10<tspan font-size="2.66" dy="-1.71">2</tspan></text>
<line x1="211.5" y1="421.8" x2="212.7" y2="421.8" stroke="#555" stroke-width="0.5"/>
<text x="247.1" y="459.6" font-size="3.8" text-anchor="middle" fill="#222">10<tspan font-size="2.66" dy="-1.71">2</tspan></text>
<line x1="247.1" y1="453.3" x2="247.1" y2="454.5" stroke="#555" stroke-width="0.5"/>
<text x="210.5" y="407.35" font-size="3.8" text-anchor="end" fill="#222">10<tspan font-size="2.66" dy="-1.71">3</tspan></text>
<line x1="211.5" y1="406.05" x2="212.7" y2="406.05" stroke="#555" stroke-width="0.5"/>
<text x="262.8" y="459.6" font-size="3.8" text-anchor="middle" fill="#222">10<tspan font-size="2.66" dy="-1.71">3</tspan></text>
<line x1="262.8" y1="453.3" x2="262.8" y2="454.5" stroke="#555" stroke-width="0.5"/>
<text x="210.5" y="391.6" font-size="3.8" text-anchor="end" fill="#222">10<tspan font-size="2.66" dy="-1.71">4</tspan></text>
<line x1="211.5" y1="390.3" x2="212.7" y2="390.3" stroke="#555" stroke-width="0.5"/>
<text x="278.5" y="459.6" font-size="3.8" text-anchor="middle" fill="#222">10<tspan font-size="2.66" dy="-1.71">4</tspan></text>
<line x1="278.5" y1="453.3" x2="278.5" y2="454.5" stroke="#555" stroke-width="0.5"/>
<text transform="translate(202.2 429.8) rotate(-90)" font-size="2.6" textLength="18" lengthAdjust="spacingAndGlyphs" fill="#888">FL4-H: IFNg APC</text>
<g stroke="#000" stroke-width="1" stroke-opacity="0.12" filter="url(#bl)">
<path d="M246 393h1M247.5 413h1M245.5 442h1M245 410h1M247 443h1M251 416.5h1M247 414.5h1M244 440.5h1M242 404h1M241.5 407.5h1M246.5 415h1M242 434h1M245 409h1M241 442.5h1M246 402.5h1M244 403.5h1M244.5 415h1M247 414.5h1M241 439h1M241 438h1M241.5 404.5h1M253 416.5h1M239.5 405.5h1M253.5 404h1M249.5 411.5h1M246 414h1M251.5 405.5h1M253 417.5h1M247.5 407h1M255.5 406.5h1M243 402.5h1M246.5 411h1M245.5 409h1M250 413.5h1M248 405h1M245.5 437.5h1M243.5 405h1M247 411h1M250.5 411.5h1M249.5 417.5h1M246.5 405h1M243.5 406.5h1M247.5 411h1M248 409.5h1M244 444h1M252 409.5h1M245.5 393.5h1M250 415.5h1M251.5 403.5h1M243.5 406.5h1M244.5 413.5h1M248.5 415h1M243.5 403.5h1M250.5 439.5h1M252 402.5h1M244 412.5h1M244 411h1M245 410.5h1M249.5 397h1M250 409h1M248 413.5h1M250 448.5h1M249 436.5h1M249 404h1M248.5 414h1M253 409h1M251.5 415.5h1M240 404.5h1M247.5 417h1M247 415.5h1M250 411.5h1M249 415.5h1M241.5 407h1M247.5 407h1M254 407.5h1M249.5 417h1M251 412h1M246.5 405h1M244 409h1M250 419.5h1M244.5 408h1M249 413.5h1M256 416h1M251 404h1M243.5 441h1M249 414.5h1M253 395h1M243 440h1M250.5 397.5h1M244.5 410.5h1M248 412.5h1M244 416h1M248 445h1M245 441h1M248 414.5h1M251 416h1M237.5 440.5h1M247.5 413.5h1M243 389.5h1M251 407.5h1M251.5 415.5h1M243.5 403.5h1M248.5 443h1M251.5 408.5h1M251.5 412.5h1M249.5 418h1M250 413.5h1M248 412h1M251.5 402h1M245.5 415.5h1M247.5 436.5h1M252 412.5h1M247.5 413h1M249 415h1M248 415h1M243.5 392h1M248 405h1M240 406h1M242.5 412h1M242 413h1M246.5 409h1M244 409.5h1M251 411.5h1M255.5 420.5h1M249 412h1M244 404h1M251 416h1M245.5 406h1M243.5 415.5h1M245 408h1M246 411.5h1M249 414.5h1M245.5 438.5h1M248.5 415.5h1M252 416.5h1M248.5 403.5h1M252 415h1M251 407.5h1M249 409.5h1M246 446.5h1M245 412h1M251 414.5h1M248 414.5h1M251 418h1M250 412h1M250.5 407h1M251 415h1M251 443h1M252 401h1M247.5 415h1M244 444h1M250 408h1M248.5 416h1"/>
<path d="M238.5 397.5h1M250.5 434.5h1M244 395h1M246.5 413h1M245 405h1M252.5 411h1M245.5 409h1M250.5 409.5h1M241.5 410.5h1M255.5 412.5h1M242 406h1M248.5 415h1M249 436h1M250.5 415h1M247.5 418.5h1M246.5 414.5h1M243.5 401.5h1M245 409h1M245.5 411.5h1M251.5 408h1M249 415h1M249.5 420h1M248 405h1M248.5 414h1M246.5 405h1M242.5 406h1M237.5 428.5h1M243.5 440.5h1M249.5 423.5h1M247 402h1M242 410h1M246.5 408.5h1M248.5 416.5h1M252 416.5h1M248 395h1M247 415h1M245 414.5h1M226.5 415h1M248.5 397.5h1M247.5 414.5h1M248.5 440.5h1M243.5 442h1M246.5 414h1M253 406.5h1M248.5 405h1M255 402h1M243 402.5h1M244.5 396h1M245 408.5h1M250.5 407.5h1M252 406.5h1M245 415h1M252.5 416.5h1M243.5 448.5h1M251.5 431h1M251 397h1M255.5 412.5h1M249 408h1M245 418h1M248 406h1M248 446.5h1M245 403h1M251 412h1M254 449.5h1M255 406h1M246 400.5h1M242.5 398h1M246 416h1M241 428h1M247.5 444.5h1M247.5 411h1M250.5 405h1M249.5 412.5h1M245.5 414.5h1M251.5 445h1M254.5 401.5h1M254 411h1M251.5 400.5h1M256 416h1M248.5 414.5h1M246.5 404.5h1M246.5 412h1M247 412h1M247 412h1M250.5 416h1M247 415h1M248 437.5h1M242.5 401.5h1M247.5 446h1M252 402h1M247 403h1M243.5 414.5h1M247.5 415h1M250.5 413h1M246.5 413.5h1M245 414h1M252.5 414h1M249 411h1M244 409h1M247 417h1M241 426.5h1M245.5 412h1M251 402h1M247.5 409.5h1M249 416h1M244 406.5h1M250.5 413h1M248 406.5h1M255.5 434h1M245 408.5h1M246.5 431h1M249 443h1M245.5 408.5h1M242 415.5h1M248 412.5h1M248 411h1M246.5 412.5h1M245 401h1M255.5 401.5h1M246.5 418.5h1M246.5 409.5h1M244 414.5h1M243.5 415h1M243 396.5h1M251.5 419h1M249.5 436h1M245 441h1M251 419.5h1M249 404.5h1M245 444.5h1M249 416.5h1M244 408h1M247.5 414h1M243.5 408.5h1M243 443h1M246.5 423h1M246.5 415.5h1M254.5 416.5h1M250.5 416h1M248.5 418h1M252 418h1M246.5 407.5h1M248 403h1M246.5 416.5h1M243.5 390.5h1M249 396h1M245 446h1M248.5 408.5h1M247.5 405.5h1M247 414h1M241.5 411h1M249 411h1M242.5 399.5h1"/>
<path d="M243 413h1M248.5 445h1M245 413h1M249.5 439.5h1M250.5 419.5h1M247 411h1M250.5 415h1M250.5 416h1M245.5 414.5h1M248.5 408.5h1M249.5 419.5h1M246.5 406h1M248.5 418h1M250 411.5h1M248 445h1M248.5 448.5h1M250 404h1M253 436.5h1M246.5 414h1M254 416h1M246.5 415h1M249.5 407.5h1M251 412h1M248 406h1M248 409.5h1M250.5 415.5h1M244.5 413h1M248 440h1M248.5 404.5h1M248.5 438h1M246 399h1M248 413h1M250.5 409h1M248 396h1M244 412.5h1M247 414h1M250 417.5h1M249 416h1M249.5 412.5h1M244 409.5h1M250 412.5h1M251 398.5h1M251 415h1M246 441.5h1M249.5 416.5h1M243.5 411.5h1M251 415.5h1M249.5 409.5h1M240 406.5h1M249.5 397h1M248.5 410.5h1M249 409.5h1M246.5 402h1M251.5 400.5h1M240.5 427h1M245.5 413h1M250.5 413h1M248 405.5h1M251.5 408.5h1M243.5 405h1M255 410h1M248.5 440.5h1M252 433h1M250 420.5h1M247 414h1M244.5 415h1M246 414.5h1M246 415.5h1M250.5 415.5h1M247.5 415h1M247 414.5h1M240.5 403h1M248.5 413.5h1M247 416h1M248.5 442.5h1M245 411h1M246.5 417h1M248.5 411h1M245 411.5h1M248 394h1M248.5 413h1M249 408.5h1M249.5 417h1M246 405h1M249.5 415h1M247 421h1M248 444h1M241.5 445.5h1M251.5 411.5h1M248 405h1M252 411h1M248.5 413.5h1M253 394h1M247 402h1M244.5 407.5h1M247.5 409.5h1M245.5 413h1M246.5 418h1M250 437h1M252.5 408h1M242.5 397.5h1M245 408.5h1M246 410h1M251.5 416h1M250.5 411.5h1M246 409.5h1M246.5 407h1M248 416h1M243.5 444h1M246.5 410h1M247.5 416h1M249 402h1M244 415h1M250 445.5h1M250.5 415h1M250.5 416.5h1M242.5 409.5h1M245 409h1M246.5 400.5h1M246.5 415.5h1M250 409.5h1M247.5 417.5h1M248 416.5h1M243.5 416.5h1M248.5 412.5h1M247.5 413.5h1M244.5 413h1M246 450h1M247.5 404.5h1M246.5 418.5h1M248 412.5h1M241.5 394.5h1M245 416.5h1M246.5 413h1M247 415h1M253 428.5h1M252.5 412h1M244.5 415.5h1M246.5 394h1M248 410h1M245 414h1M241 435h1M249 417h1M249 414.5h1M241 399.5h1M245 413h1M253.5 397h1M241 409.5h1M257.5 412.5h1M250.5 417h1M248.5 417h1M248 442.5h1M248 411.5h1"/>
<path d="M247 418h1M253 410h1M242 403h1M247.5 413h1M240.5 445.5h1M248.5 408.5h1M249.5 408h1M241.5 443.5h1M244.5 417.5h1M250 414h1M249.5 411.5h1M249.5 417h1M248.5 447.5h1M241 407h1M248.5 414h1M245.5 415.5h1M243 405.5h1M245.5 410.5h1M248 412.5h1M248 413.5h1M244 413.5h1M246.5 406.5h1M248 413.5h1M250.5 417h1M246.5 416h1M247.5 407.5h1M245.5 403h1M252 415.5h1M249 447.5h1M247 418.5h1M250 399.5h1M257 405h1M249 416h1M245.5 396.5h1M246.5 414.5h1M245.5 402h1M247 401h1M247 426h1M247 440h1M247 402h1M248.5 416h1M245.5 446.5h1M250.5 404.5h1M254 407h1M241 408h1M240 414h1M253 410.5h1M251.5 407h1M248.5 404.5h1M247.5 415h1M245.5 444h1M245.5 445.5h1M252.5 416h1M247 437h1M255.5 419h1M244 414h1M247.5 443.5h1M252.5 398h1M251 408.5h1M243 441.5h1M249 419h1M247 416h1M244.5 409h1M244 407.5h1M245 408h1M246.5 410h1M242 407.5h1M253 418h1M244.5 412h1M251 414h1M248.5 412.5h1M246 410h1M246.5 401h1M249.5 398.5h1M249.5 443.5h1M246.5 417h1M248.5 448.5h1M244.5 413h1M247.5 415h1M243.5 406h1M248.5 408.5h1M243.5 408h1M244 446.5h1M248 407.5h1M241 412h1M254.5 401.5h1M250 414h1M248 414h1M246.5 414h1M248.5 416.5h1M252.5 445h1M250 403.5h1M238 402.5h1M250 412.5h1M245 409.5h1M247.5 405.5h1M247 419h1M250.5 415h1M241.5 418.5h1M247 412h1M246.5 438h1M246 413.5h1M241.5 403h1M249 414.5h1M243.5 393.5h1M245 405.5h1M245 406.5h1M249 409h1M248 414.5h1M250.5 407h1M248.5 412.5h1M250 418h1M249 408.5h1M242.5 409.5h1M246.5 408h1M244 409h1M249.5 395.5h1M248.5 445.5h1M252 427h1M246.5 415h1M249 415h1M248 417.5h1M247 415h1M244 413.5h1M247.5 413.5h1M253 446h1M245 405.5h1M245.5 444h1M243 414.5h1M248.5 414.5h1M247 409h1M246.5 406.5h1M244.5 434h1M246 406.5h1M245 438.5h1M247.5 416.5h1M246 412.5h1M248.5 411h1M248 415h1M254 406h1M249 413h1M240.5 409.5h1M247 409.5h1M246 414h1M244.5 392.5h1M247.5 411h1M243.5 415.5h1M253.5 424h1M242 414h1M248 408h1M239.5 399.5h1M245.5 414h1M246 410.5h1"/>
<path d="M250.5 448.5h1M242 409h1M248 411.5h1M242 431h1M248.5 415h1M246 425.5h1M246.5 412.5h1M252 402h1M254 413h1M248 446h1M246 416.5h1M244.5 415h1M246 410.5h1M247.5 399.5h1M252.5 416.5h1M242.5 437h1M240.5 405h1M247 400.5h1M246 402.5h1M246.5 442h1M245 406.5h1M250 410h1M247.5 409h1M248 407.5h1M247 406h1M251.5 438h1M243 445.5h1M256 410.5h1M251 411.5h1M247 407.5h1M246 440h1M251.5 413.5h1M249 410h1M249.5 416h1M248 414.5h1M245.5 408h1M251 411h1M248 413.5h1M251.5 417h1M249 409.5h1M244.5 399.5h1M249 409.5h1M251 407.5h1M251.5 414h1M247 403.5h1M249 413.5h1M248 440h1M248.5 416h1M248 417.5h1M240.5 443.5h1M256.5 410.5h1M245.5 413.5h1M250 442.5h1M246.5 406h1M247 412.5h1M247 415h1M248 416h1M251 414.5h1M246.5 417h1M251 416.5h1M249 414.5h1M248 416h1M247.5 411.5h1M249 413h1M249 409.5h1M245 397h1M243.5 396h1M242 410h1M253 415h1M241.5 411h1M248 412.5h1M251 440.5h1M253 414.5h1M249.5 416h1M248 397h1M241 403h1M249.5 409.5h1M248.5 416.5h1M247 410h1M245.5 414h1M245.5 403h1M245 406.5h1M246.5 411h1M251.5 412.5h1M239.5 448h1M243 443.5h1M247.5 408h1M245 413h1M254.5 409.5h1M248.5 443.5h1M251.5 446h1M251.5 418h1M248 415h1M246 414.5h1M249 416h1M248 415h1M251.5 443h1M248.5 402.5h1M250.5 415h1M253 395h1M245.5 417.5h1M242.5 406h1M248 417h1M243.5 415h1M250 416.5h1M252 411h1M241.5 406h1M247.5 402.5h1M247 418.5h1M252.5 404.5h1M247.5 412h1M253.5 409.5h1M241.5 400.5h1M245 413.5h1M253 412h1M244.5 398.5h1M242 408h1M249.5 411.5h1M248.5 411h1M248.5 416h1M242.5 414.5h1M254 415h1M244.5 402h1M246 444h1M258 413h1M251 418h1M247 414h1M252.5 403.5h1M242.5 410h1M249 415.5h1M247 406.5h1M249 417.5h1M247 412h1M253.5 439h1M251 404h1M252 411h1M244 416h1M245 401.5h1M250 405.5h1M251 416h1M247 410h1M247.5 408.5h1M245 403h1M249.5 416.5h1M245.5 397h1M246 404h1M246 406.5h1M246.5 415.5h1M246.5 416.5h1M249 417.5h1M246.5 395h1M249 403.5h1M248 413.5h1"/>
<path d="M254.5 408h1M247 411h1M250.5 417h1M243 411h1M245 415h1M249 442h1M246.5 409h1M251 416h1M243 413h1M247 438.5h1M249.5 414h1M248 413.5h1M228 431.5h1M245 412h1M246 441.5h1M246.5 408.5h1M248.5 414h1M248 412.5h1M250.5 412h1M249.5 415h1M245.5 412h1M246.5 415h1M251 415h1M246.5 409h1M253.5 400.5h1M247.5 411.5h1M253 437.5h1M246 411.5h1M242.5 411h1M225.5 444h1M248.5 407h1M250.5 439.5h1M246.5 416.5h1M244.5 439h1M249.5 410.5h1M247 439h1M245 404.5h1M247.5 417h1M247 412.5h1M241 430.5h1M245.5 412.5h1M248.5 407.5h1M249 412h1M246 419h1M247.5 398.5h1M242.5 405h1M255.5 409h1M246.5 414h1M248 443.5h1M250.5 444h1M244 396h1M249.5 435.5h1M243 400h1M246.5 403h1M259.5 438h1M249 417.5h1M245 404.5h1M248.5 415.5h1M243.5 408h1M245 439h1M246.5 416h1M245 412h1M237 411h1M246 424.5h1M245 418h1M250 412h1M245.5 413.5h1M249.5 412.5h1M247 416h1M249 417h1M250.5 404h1M250 414.5h1M252.5 409.5h1M248 411.5h1M246 409.5h1M245 413.5h1M251.5 406.5h1M258 440.5h1M238.5 397h1M249.5 416.5h1M248.5 439.5h1M249 415.5h1M251 410h1M249.5 415.5h1M242 414.5h1M249 415h1M250 413.5h1M247 437h1M249 437h1M250 419h1M246 416.5h1M248.5 416.5h1M242.5 417.5h1M251 416h1M246 409.5h1M251 418h1M241 406h1M245.5 410.5h1M251.5 417.5h1M249.5 418h1M247 401h1M245.5 414.5h1M245.5 414h1M240 419.5h1M243.5 400h1M247.5 409h1M243.5 407.5h1M249.5 414h1M251 406h1M250 446h1M243.5 414.5h1M250 415.5h1M246.5 405h1M254 398.5h1M253 418h1M243.5 402h1M245.5 438.5h1M252 413.5h1M250.5 415.5h1M249.5 414h1M250.5 414.5h1M250 401h1M245 416.5h1M252 407.5h1M246 413.5h1M251 413h1M248.5 405h1M249 412.5h1M250 414.5h1M247 408h1M247 403h1M248 406.5h1M246 409h1M249.5 397h1M250.5 414h1M245.5 412.5h1M245 412.5h1M250 393h1M251.5 410h1M247.5 417h1M247 406h1M245.5 408.5h1M247.5 415.5h1M253 417.5h1M247.5 403h1M256 413h1M250.5 413.5h1M256.5 414.5h1M242 402h1M250 449h1M249.5 415h1M247 409.5h1M247 412h1"/>
</g>
<rect x="240" y="388.3" width="22.7" height="30.4" fill="none" stroke="#777" stroke-width="0.8"/>
<path d="M248.2 416.5C250.2 416.42 253.12 416.17 254.7 417.5C256.28 418.83 257.62 422.17 257.7 424.5C257.78 426.83 256.2 429.42 255.2 431.5C254.2 433.58 252.95 435.67 251.7 437C250.45 438.33 249.12 439.75 247.7 439.5C246.28 439.25 244.28 437.5 243.2 435.5C242.12 433.5 241.53 429.67 241.2 427.5C240.87 425.33 240.95 424.08 241.2 422.5C241.45 420.92 241.53 419 242.7 418C243.87 417 246.2 416.58 248.2 416.5Z" fill="#000" stroke="#000" stroke-width="1.1"/>
<path d="M248.3 419.6C249.9 419.53 252.23 419.33 253.5 420.4C254.77 421.47 255.83 424.13 255.9 426C255.97 427.87 254.7 429.93 253.9 431.6C253.1 433.27 252.1 434.93 251.1 436C250.1 437.07 249.03 438.2 247.9 438C246.77 437.8 245.17 436.4 244.3 434.8C243.43 433.2 242.97 430.13 242.7 428.4C242.43 426.67 242.5 425.67 242.7 424.4C242.9 423.13 242.97 421.6 243.9 420.8C244.83 420 246.7 419.67 248.3 419.6Z" fill="#f0f0f0" stroke="none" stroke-width="0"/>
<path d="M248.34 420.59C249.76 420.53 251.84 420.35 252.96 421.3C254.08 422.25 255.03 424.61 255.09 426.27C255.15 427.93 254.03 429.76 253.31 431.24C252.6 432.72 251.72 434.2 250.83 435.14C249.94 436.09 249 437.1 247.99 436.92C246.98 436.74 245.56 435.5 244.79 434.08C244.03 432.66 243.61 429.94 243.38 428.4C243.14 426.86 243.2 425.97 243.38 424.85C243.55 423.73 243.61 422.36 244.44 421.65C245.27 420.94 246.93 420.65 248.34 420.59Z" fill="#7a7a7a" stroke="none" stroke-width="0"/>
<path d="M248.4 421.5C249.6 421.45 251.35 421.3 252.3 422.1C253.25 422.9 254.05 424.9 254.1 426.3C254.15 427.7 253.2 429.25 252.6 430.5C252 431.75 251.25 433 250.5 433.8C249.75 434.6 248.95 435.45 248.1 435.3C247.25 435.15 246.05 434.1 245.4 432.9C244.75 431.7 244.4 429.4 244.2 428.1C244 426.8 244.05 426.05 244.2 425.1C244.35 424.15 244.4 423 245.1 422.4C245.8 421.8 247.2 421.55 248.4 421.5Z" fill="#787878" stroke="#a8a8a8" stroke-width="0.45"/>
<path d="M248.48 423.37C249.34 423.33 250.6 423.23 251.28 423.8C251.96 424.37 252.53 425.81 252.57 426.81C252.61 427.81 251.92 428.92 251.49 429.82C251.06 430.72 250.53 431.61 249.99 432.19C249.45 432.76 248.88 433.37 248.27 433.26C247.66 433.15 246.8 432.4 246.33 431.54C245.87 430.68 245.62 429.03 245.47 428.1C245.33 427.17 245.37 426.63 245.47 425.95C245.58 425.27 245.62 424.45 246.12 424.02C246.62 423.59 247.62 423.41 248.48 423.37Z" fill="#707070" stroke="#959595" stroke-width="0.45"/>
<path d="M248.57 425.24C249.09 425.22 249.85 425.15 250.26 425.5C250.67 425.85 251.02 426.71 251.04 427.32C251.06 427.93 250.65 428.6 250.39 429.14C250.13 429.68 249.8 430.22 249.48 430.57C249.16 430.92 248.81 431.29 248.44 431.22C248.07 431.16 247.55 430.7 247.27 430.18C246.99 429.66 246.84 428.66 246.75 428.1C246.66 427.54 246.69 427.21 246.75 426.8C246.81 426.39 246.84 425.89 247.14 425.63C247.44 425.37 248.05 425.26 248.57 425.24Z" fill="#666" stroke="#888" stroke-width="0.45"/>
<circle cx="248.7" cy="427.5" r="1.0" fill="#000"/>
<text x="218.5" y="408.2" font-size="7" font-weight="bold" textLength="15.2" lengthAdjust="spacingAndGlyphs">1.5%</text>
<rect x="301.2" y="388.3" width="62.5" height="64" fill="none" stroke="#555" stroke-width="0.8"/>
<text x="299" y="453.6" font-size="3.8" text-anchor="end" fill="#222">10<tspan font-size="2.66" dy="-1.71">0</tspan></text>
<line x1="300" y1="452.3" x2="301.2" y2="452.3" stroke="#555" stroke-width="0.5"/>
<text x="304.2" y="458.6" font-size="3.8" text-anchor="middle" fill="#222">10<tspan font-size="2.66" dy="-1.71">0</tspan></text>
<line x1="304.2" y1="452.3" x2="304.2" y2="453.5" stroke="#555" stroke-width="0.5"/>
<text x="299" y="438.1" font-size="3.8" text-anchor="end" fill="#222">10<tspan font-size="2.66" dy="-1.71">1</tspan></text>
<line x1="300" y1="436.8" x2="301.2" y2="436.8" stroke="#555" stroke-width="0.5"/>
<text x="319.07" y="458.6" font-size="3.8" text-anchor="middle" fill="#222">10<tspan font-size="2.66" dy="-1.71">1</tspan></text>
<line x1="319.07" y1="452.3" x2="319.07" y2="453.5" stroke="#555" stroke-width="0.5"/>
<text x="299" y="422.6" font-size="3.8" text-anchor="end" fill="#222">10<tspan font-size="2.66" dy="-1.71">2</tspan></text>
<line x1="300" y1="421.3" x2="301.2" y2="421.3" stroke="#555" stroke-width="0.5"/>
<text x="333.95" y="458.6" font-size="3.8" text-anchor="middle" fill="#222">10<tspan font-size="2.66" dy="-1.71">2</tspan></text>
<line x1="333.95" y1="452.3" x2="333.95" y2="453.5" stroke="#555" stroke-width="0.5"/>
<text x="299" y="407.1" font-size="3.8" text-anchor="end" fill="#222">10<tspan font-size="2.66" dy="-1.71">3</tspan></text>
<line x1="300" y1="405.8" x2="301.2" y2="405.8" stroke="#555" stroke-width="0.5"/>
<text x="348.82" y="458.6" font-size="3.8" text-anchor="middle" fill="#222">10<tspan font-size="2.66" dy="-1.71">3</tspan></text>
<line x1="348.82" y1="452.3" x2="348.82" y2="453.5" stroke="#555" stroke-width="0.5"/>
<text x="299" y="391.6" font-size="3.8" text-anchor="end" fill="#222">10<tspan font-size="2.66" dy="-1.71">4</tspan></text>
<line x1="300" y1="390.3" x2="301.2" y2="390.3" stroke="#555" stroke-width="0.5"/>
<text x="363.7" y="458.6" font-size="3.8" text-anchor="middle" fill="#222">10<tspan font-size="2.66" dy="-1.71">4</tspan></text>
<line x1="363.7" y1="452.3" x2="363.7" y2="453.5" stroke="#555" stroke-width="0.5"/>
<text transform="translate(290.7 429.3) rotate(-90)" font-size="2.6" textLength="18" lengthAdjust="spacingAndGlyphs" fill="#888">FL4-H: IFNg APC</text>
<g stroke="#000" stroke-width="1" stroke-opacity="0.12" filter="url(#bl)">
<path d="M338 413.5h1M336 404h1M332.5 437h1M336 428h1M342.5 411h1M336.5 404h1M337 411h1M337 409.5h1M341 413h1M338.5 412.5h1M335 410.5h1M340 413.5h1M333.5 407h1M336 404h1M337 412.5h1M341 399.5h1M335 447h1M334 434h1M337.5 403.5h1M339 400.5h1M344 407h1M335 410.5h1M333 416.5h1M338 412.5h1M334.5 406h1M338.5 398.5h1M338.5 410.5h1M340.5 403.5h1M336 404.5h1M342.5 410.5h1M338.5 400h1M333 400h1M339 409.5h1M330.5 400h1M340.5 410.5h1M339.5 410h1M339 407.5h1M337.5 405.5h1M343.5 413.5h1M340 404h1M333.5 441.5h1M336 412.5h1M338.5 411h1M343 413.5h1M342 398.5h1M338 410.5h1M340 409.5h1M334.5 447h1M338 411.5h1M345 407.5h1M338.5 413h1M341.5 407.5h1M333 402.5h1M336 409.5h1M336 442h1M334.5 405.5h1M338.5 411.5h1M340.5 414h1M338 416h1M336.5 443.5h1M337 410h1M338 408.5h1M338 407.5h1M336.5 415h1M341 397h1M343 404h1M335.5 443.5h1M339 395.5h1M335.5 405h1M334 403h1M339 417h1M338 409h1M347 397h1M336.5 415h1M338.5 404h1M339 404h1M340 409.5h1M344 407.5h1M336.5 403h1M338 404.5h1M328.5 443h1M338 409.5h1M336 399h1M341.5 412h1M339 407h1M342.5 407.5h1M340 403h1M341 413h1M340 410.5h1M341 405.5h1M342 414h1M338 405h1M333.5 404h1M336.5 412h1M336.5 443.5h1M341.5 412.5h1M335.5 400.5h1M337.5 412h1M345.5 440.5h1M340.5 412h1M342 413h1M338 405h1M337.5 438.5h1M339.5 409.5h1M340 411.5h1M333.5 404.5h1M339.5 410h1M332 445.5h1M343 395h1M345 410h1M339.5 411h1M339 402h1M342 411.5h1M338.5 408.5h1M330.5 402h1M336.5 405.5h1M342 410h1M333 404h1M335 445h1M331 405h1M338 410.5h1M336.5 402.5h1M339.5 405h1M334.5 435.5h1M342 410.5h1M342.5 404.5h1M335 444.5h1M332 410h1M334.5 401.5h1M335.5 413.5h1M336 392h1M335 405.5h1M336.5 396.5h1M334 406h1M334.5 411h1M333.5 411h1M336.5 402.5h1M334 404h1M336.5 430.5h1M341 404.5h1M337.5 404h1M344 411.5h1M335.5 414h1M343.5 409h1M329.5 409h1M344 417h1M339 413.5h1M341 402h1M337 407h1M335.5 407.5h1M341 405.5h1M338.5 410.5h1M333.5 443.5h1"/>
<path d="M337.5 412.5h1M336.5 441h1M335.5 410h1M343 403h1M336 400h1M331.5 433h1M337.5 404h1M332.5 396h1M336.5 410h1M333 449.5h1M338 392.5h1M343 398.5h1M335.5 403h1M334.5 409h1M333.5 403h1M343.5 392h1M335.5 408h1M338.5 412h1M349.5 407.5h1M337 405.5h1M338.5 402h1M340.5 405h1M337.5 405h1M336 404h1M340 408.5h1M338.5 409.5h1M338.5 415h1M341 405h1M341 412h1M332 439.5h1M337.5 405.5h1M337 402h1M343.5 403.5h1M335.5 408h1M335 416h1M335.5 414h1M346 410h1M341 408.5h1M338 414h1M346 408.5h1M338 408h1M333 402h1M331 443.5h1M343.5 411.5h1M341 413.5h1M334 394h1M339.5 408h1M340.5 413h1M337 408h1M345.5 414.5h1M337.5 403h1M338.5 398h1M337.5 440h1M340 411.5h1M339 410h1M340.5 399.5h1M339 408h1M337 413.5h1M337.5 402h1M334.5 435.5h1M340 413.5h1M335.5 398.5h1M339.5 407.5h1M341.5 410h1M341 415.5h1M334 414h1M343 415.5h1M340 406.5h1M327 425.5h1M333 407.5h1M336.5 407h1M340.5 403h1M340 406.5h1M340.5 402h1M337.5 399.5h1M333.5 404.5h1M344 410.5h1M340.5 412h1M337 438h1M337 405h1M335.5 406.5h1M342 415.5h1M340.5 394.5h1M334.5 408h1M337.5 409.5h1M338.5 403h1M340 406h1M334 410.5h1M336 407.5h1M335.5 411h1M332.5 404.5h1M339 405.5h1M338.5 408.5h1M334.5 439.5h1M339.5 409.5h1M333.5 408h1M338 413.5h1M333.5 438h1M334 444h1M342 411h1M338 395.5h1M336 406.5h1M336.5 408.5h1M343 414.5h1M344.5 419h1M333 447.5h1M335 438.5h1M336.5 403h1M336 405.5h1M343 401.5h1M333 401h1M328 423h1M341.5 411.5h1M336 410.5h1M336 444.5h1M341 410.5h1M336.5 411h1M337.5 400.5h1M334.5 409.5h1M335 396.5h1M327 423h1M338.5 398h1M339 438h1M344.5 412.5h1M344.5 408h1M335 397h1M333.5 409h1M338.5 411.5h1M332 403.5h1M333.5 403h1M335.5 411h1M343.5 404h1M343 409h1M342 413.5h1M339.5 413.5h1M337.5 412.5h1M344.5 410.5h1M341.5 414h1M336 443.5h1M342.5 414.5h1M341 403.5h1M333.5 442h1M334 403h1M335.5 403h1M339 413.5h1M341.5 396.5h1M335 405h1M341 392.5h1M340.5 410.5h1M335 411.5h1M338 413h1M337 406h1M337 408.5h1"/>
<path d="M341 407.5h1M342.5 411h1M337 401.5h1M341.5 410.5h1M337 406h1M341.5 412.5h1M341.5 415h1M335 441.5h1M336 406h1M342.5 395.5h1M334 390h1M340 411h1M340 396.5h1M337 409.5h1M338.5 402h1M331.5 411.5h1M339 442.5h1M332 406.5h1M340.5 412h1M341.5 411.5h1M337.5 412.5h1M343 402.5h1M335 439.5h1M336.5 409.5h1M333.5 406.5h1M339 413.5h1M337.5 412.5h1M336.5 404.5h1M340 411h1M335 412h1M332 440.5h1M334.5 441.5h1M342 414h1M332.5 404h1M343 415.5h1M333.5 408.5h1M338 411h1M338 406h1M347 400h1M339.5 406h1M343 413.5h1M341 393.5h1M340 406.5h1M334 404h1M343 407h1M331 445.5h1M341.5 409.5h1M334 440.5h1M333 409.5h1M334 436.5h1M344.5 429h1M338.5 409.5h1M336 407.5h1M338 411h1M339.5 407h1M340 411h1M337 408h1M336 401.5h1M343.5 412h1M334.5 399h1M338.5 439.5h1M340 413h1M341 412.5h1M347 403h1M338.5 407h1M335 443.5h1M338 414h1M336.5 395h1M344.5 414.5h1M335 394h1M334.5 411.5h1M343 406.5h1M335 441.5h1M340 410h1M337 417h1M338 410h1M336.5 401h1M335.5 410.5h1M338 412.5h1M330.5 390h1M337 416.5h1M332.5 406h1M335.5 402.5h1M335.5 412.5h1M339.5 397.5h1M339 416.5h1M335.5 397.5h1M337.5 413h1M339 413h1M332 397h1M338 409.5h1M342.5 406h1M337 394h1M334 447h1M334 410.5h1M340 411.5h1M340 414.5h1M335.5 412h1M338.5 442.5h1M339 403h1M340.5 410.5h1M337.5 403.5h1M342 399h1M337.5 407.5h1M339 412.5h1M345.5 395h1M343.5 402.5h1M340 410h1M338.5 407h1M336.5 411.5h1M337 411h1M340.5 405h1M335.5 414h1M331.5 400h1M342 411h1M338 395.5h1M338.5 410.5h1M330 435.5h1M338 399h1M334.5 437h1M338.5 401h1M338.5 412h1M333.5 442h1M339.5 414h1M341.5 409h1M333 399h1M335.5 411h1M332 399.5h1M342.5 404.5h1M340 395h1M341.5 412h1M339 412h1M331 439h1M335 412h1M337 406.5h1M334.5 403.5h1M337 408h1M338.5 410.5h1M334.5 397.5h1M342 412.5h1M344 409.5h1M342 409.5h1M345.5 411h1M339.5 412.5h1M333.5 405h1M343 411h1M340.5 414h1M339.5 400.5h1M337 405h1M340.5 410.5h1M338 440h1M345 417h1"/>
<path d="M338.5 431.5h1M332 406.5h1M341 409.5h1M336.5 395h1M334 399h1M333.5 396h1M340.5 411.5h1M333 403h1M349.5 421.5h1M331.5 397.5h1M336 432h1M334 411h1M336 406h1M338.5 413.5h1M336 406.5h1M343.5 422h1M331 424h1M340 413h1M343.5 414h1M337 413.5h1M337 440.5h1M340 393.5h1M338 406.5h1M331 402h1M329.5 437h1M340.5 396.5h1M339.5 417.5h1M336.5 405h1M344.5 416.5h1M340 409.5h1M339 407h1M340 407h1M340 414h1M333 442.5h1M340.5 408h1M334.5 402.5h1M341 410.5h1M340 402.5h1M333 398h1M342 403h1M342 415h1M339 407h1M337 440.5h1M337.5 407h1M330.5 424h1M336 405.5h1M336.5 436.5h1M332 439h1M339.5 413h1M341.5 407.5h1M336.5 406h1M341.5 406.5h1M340 412h1M349 411h1M333.5 415.5h1M334.5 413h1M344 401.5h1M340.5 394h1M342 406h1M341 394.5h1M337 410h1M335 407.5h1M337 395.5h1M335.5 437h1M339 411h1M341.5 406.5h1M334.5 437.5h1M338 401.5h1M341.5 409.5h1M338 445.5h1M338.5 409h1M340.5 395h1M336 405.5h1M333.5 408.5h1M333.5 414h1M340 412h1M335.5 446.5h1M337 405h1M337.5 415h1M328.5 400h1M343 399h1M332.5 410h1M336 411h1M336 409.5h1M338 397.5h1M343.5 398h1M340.5 407h1M330.5 441.5h1M335.5 409h1M341.5 407h1M340 404.5h1M337.5 405h1M342.5 399h1M345.5 425h1M335.5 401.5h1M337 410.5h1M336.5 400h1M339 441h1M337 409.5h1M336 403h1M331 410h1M342 411.5h1M335 413h1M331.5 410h1M342 413h1M340.5 406.5h1M340.5 405.5h1M336.5 438.5h1M337.5 407h1M335.5 439.5h1M336 397.5h1M333.5 440.5h1M341 397h1M339 405.5h1M339 408.5h1M343.5 413.5h1M337.5 438h1M335.5 440h1M340.5 411h1M339.5 407.5h1M337.5 436.5h1M341.5 407.5h1M342.5 412h1M338 406h1M340.5 397h1M341.5 413h1M330 442.5h1M342.5 405h1M338 412h1M349.5 444h1M342.5 398.5h1M334 408.5h1M340.5 411.5h1M340 414.5h1M339 410.5h1M340.5 416h1M339.5 410h1M329.5 437.5h1M342 413.5h1M345.5 409h1M338.5 409h1M340.5 395.5h1M337 414h1M336 414.5h1M336 403h1M344 404.5h1M334 405h1M337 391.5h1M346.5 403h1M337 411.5h1M337.5 404.5h1M339 410h1"/>
<path d="M337.5 414h1M334.5 448.5h1M340 410h1M338 405h1M340 402h1M334 396h1M342.5 413.5h1M338.5 401.5h1M338 410.5h1M336.5 411.5h1M340 410.5h1M335.5 441.5h1M338.5 404h1M337.5 406.5h1M337 440h1M335 399h1M339.5 410.5h1M340 411h1M329 443h1M335.5 409h1M341 408.5h1M336.5 413.5h1M341 409.5h1M336.5 400h1M335 447.5h1M343 401.5h1M332.5 401.5h1M336 443.5h1M339 405h1M333.5 440h1M341 417.5h1M353 451h1M338.5 406.5h1M343 408h1M337 402h1M337.5 404h1M335.5 409.5h1M341 414.5h1M334.5 433h1M339 408.5h1M338.5 410h1M340 397.5h1M340.5 411.5h1M336 392.5h1M348.5 446.5h1M333.5 398h1M334.5 409h1M342.5 414h1M343.5 407.5h1M338 410h1M334 394h1M333 402h1M338.5 407.5h1M337 403h1M333.5 442h1M339 410h1M337.5 444.5h1M339 394h1M338.5 409h1M339 407h1M328.5 396h1M342 414h1M339 404.5h1M331.5 413h1M338 408.5h1M337.5 411.5h1M337 414h1M332 405h1M339.5 406h1M334 444h1M337 402.5h1M335.5 410h1M330 393.5h1M341.5 412h1M341 410h1M340 410h1M332 441.5h1M339 411h1M333 441.5h1M336 398h1M339.5 401.5h1M344.5 409h1M347 405h1M342.5 410h1M335.5 409h1M334.5 399.5h1M338 409h1M337.5 441.5h1M344.5 412.5h1M339.5 439h1M351.5 426h1M336 402h1M339 413h1M342.5 414.5h1M341.5 410h1M335.5 445.5h1M338 397.5h1M332.5 392h1M337.5 410h1M338 406.5h1M337.5 411h1M339 411h1M339.5 411.5h1M336.5 409.5h1M339.5 414h1M337 396h1M337 413h1M338 406h1M337 410h1M341.5 428.5h1M336 393h1M335 406h1M336 412h1M336 402h1M341.5 408h1M337.5 407.5h1M338.5 405.5h1M339 416h1M340 413h1M336.5 405.5h1M339.5 414h1M339 405h1M345 398.5h1M338.5 446h1M338.5 441.5h1M336.5 399.5h1M339.5 413h1M336.5 402h1M339.5 412h1M333.5 405.5h1M337.5 410.5h1M334.5 412.5h1M331.5 433h1M339 405h1M335 443h1M339 413h1M343 411.5h1M339.5 410h1M342 406h1M339 412.5h1M338 406.5h1M333.5 397.5h1M336 398h1M334.5 444h1M339.5 406h1M334 405.5h1M339.5 401.5h1M346.5 433.5h1M339 412.5h1M342.5 411.5h1M333 441.5h1M327.5 428.5h1"/>
<path d="M338 403.5h1M330.5 441h1M342.5 412.5h1M340.5 389.5h1M335 403h1M342.5 394.5h1M332 392.5h1M338 411.5h1M336.5 413h1M338.5 413h1M331.5 407h1M336.5 402h1M336.5 411h1M348.5 400h1M339 399.5h1M334 441.5h1M336.5 408.5h1M341.5 407.5h1M338.5 406.5h1M337.5 442h1M344 403h1M336.5 437.5h1M332.5 404.5h1M333.5 409h1M335.5 433.5h1M339 402h1M337.5 410h1M335.5 402h1M340.5 401h1M340 414h1M335 411h1M338 409.5h1M343.5 412.5h1M335.5 406.5h1M336.5 409.5h1M341 401.5h1M336 439.5h1M332.5 445.5h1M337 408.5h1M343.5 413h1M332 438h1M334 410.5h1M336 395h1M332 440h1M335 405h1M341 403.5h1M338 411.5h1M335 413h1M342 405.5h1M335 402.5h1M348 409.5h1M336 411.5h1M340 414h1M338.5 404h1M339.5 405h1M334 414.5h1M337.5 413.5h1M343 409.5h1M343.5 407h1M341.5 410.5h1M342 406h1M334.5 442.5h1M336.5 411.5h1M333 400h1M340.5 408.5h1M345 410.5h1M338 412.5h1M341.5 398.5h1M337 412.5h1M340.5 403.5h1M336 409.5h1M338.5 412h1M338 411h1M342.5 402h1M338.5 407h1M336.5 406h1M334 437h1M343 407h1M340.5 404h1M339.5 413h1M339.5 411h1M337.5 412.5h1M335.5 408h1M336.5 403h1M338.5 396.5h1M330.5 441h1M342 411.5h1M331.5 409.5h1M336 405h1M344.5 398.5h1M345 398.5h1M334.5 412h1M343 409.5h1M340 392h1M340.5 415h1M333.5 408.5h1M336.5 402h1M339.5 411h1M330 396h1M340 407.5h1M337.5 411.5h1M340 409h1M343.5 439.5h1M337 442.5h1M335.5 405.5h1M338.5 393h1M340.5 413.5h1M340.5 410.5h1M342 437h1M334.5 396.5h1M336.5 410.5h1M330 442h1M333.5 403h1M323.5 422.5h1M344 405.5h1M339 408.5h1M334.5 411.5h1M339 396.5h1M335.5 449h1M343 407.5h1M340.5 403.5h1M339.5 412h1M338 411.5h1M340.5 410h1M335.5 407h1M334 414h1M340.5 398h1M343.5 411.5h1M330.5 404h1M336.5 411.5h1M333 443.5h1M337.5 406.5h1M342 439h1M338.5 415.5h1M340 410.5h1M335.5 408.5h1M335.5 405.5h1M335.5 403.5h1M337.5 414h1M335 402h1M337.5 410h1M339.5 410.5h1M338 395.5h1M338 414h1M343 411.5h1M336 410.5h1M335 408.5h1M341 409.5h1M339.5 411h1M343.5 404.5h1M335 411h1M340.5 408h1"/>
</g>
<rect x="327.7" y="388.3" width="19.2" height="29" fill="none" stroke="#777" stroke-width="0.8"/>
<path d="M339 413C340 413.58 340.92 417.25 342 419C343.08 420.75 345.33 421.33 345.5 423.5C345.67 425.67 344.08 429.83 343 432C341.92 434.17 340.42 435.25 339 436.5C337.58 437.75 336 440.08 334.5 439.5C333 438.92 330.83 435.58 330 433C329.17 430.42 329.17 426.33 329.5 424C329.83 421.67 330.92 420.42 332 419C333.08 417.58 334.83 416.5 336 415.5C337.17 414.5 338 412.42 339 413Z" fill="#000" stroke="#000" stroke-width="1.1"/>
<path d="M338.4 416.7C339.2 417.17 339.93 420.1 340.8 421.5C341.67 422.9 343.47 423.37 343.6 425.1C343.73 426.83 342.47 430.17 341.6 431.9C340.73 433.63 339.53 434.5 338.4 435.5C337.27 436.5 336 438.37 334.8 437.9C333.6 437.43 331.87 434.77 331.2 432.7C330.53 430.63 330.53 427.37 330.8 425.5C331.07 423.63 331.93 422.63 332.8 421.5C333.67 420.37 335.07 419.5 336 418.7C336.93 417.9 337.6 416.23 338.4 416.7Z" fill="#f0f0f0" stroke="none" stroke-width="0"/>
<path d="M338.13 417.96C338.84 418.37 339.49 420.98 340.26 422.22C341.03 423.46 342.63 423.88 342.75 425.41C342.86 426.95 341.74 429.91 340.97 431.45C340.2 432.99 339.14 433.76 338.13 434.64C337.12 435.53 336 437.19 334.94 436.77C333.87 436.36 332.33 433.99 331.74 432.16C331.15 430.33 331.15 427.43 331.38 425.77C331.62 424.11 332.39 423.23 333.16 422.22C333.93 421.21 335.17 420.44 336 419.73C336.83 419.02 337.42 417.55 338.13 417.96Z" fill="#7a7a7a" stroke="none" stroke-width="0"/>
<path d="M337.8 419.2C338.4 419.55 338.95 421.75 339.6 422.8C340.25 423.85 341.6 424.2 341.7 425.5C341.8 426.8 340.85 429.3 340.2 430.6C339.55 431.9 338.65 432.55 337.8 433.3C336.95 434.05 336 435.45 335.1 435.1C334.2 434.75 332.9 432.75 332.4 431.2C331.9 429.65 331.9 427.2 332.1 425.8C332.3 424.4 332.95 423.65 333.6 422.8C334.25 421.95 335.3 421.3 336 420.7C336.7 420.1 337.2 418.85 337.8 419.2Z" fill="#787878" stroke="#a8a8a8" stroke-width="0.45"/>
<path d="M337.29 421.58C337.72 421.83 338.11 423.41 338.58 424.16C339.05 424.91 340.01 425.16 340.08 426.1C340.16 427.03 339.48 428.82 339.01 429.75C338.54 430.68 337.9 431.15 337.29 431.69C336.68 432.22 336 433.23 335.36 432.98C334.71 432.72 333.78 431.29 333.42 430.18C333.06 429.07 333.06 427.31 333.2 426.31C333.35 425.31 333.81 424.77 334.28 424.16C334.75 423.55 335.5 423.09 336 422.66C336.5 422.23 336.86 421.33 337.29 421.58Z" fill="#707070" stroke="#959595" stroke-width="0.45"/>
<path d="M336.78 423.96C337.04 424.11 337.28 425.07 337.56 425.52C337.84 425.98 338.43 426.13 338.47 426.69C338.51 427.25 338.1 428.34 337.82 428.9C337.54 429.46 337.15 429.75 336.78 430.07C336.41 430.4 336 431 335.61 430.85C335.22 430.7 334.66 429.83 334.44 429.16C334.22 428.49 334.22 427.43 334.31 426.82C334.4 426.21 334.68 425.89 334.96 425.52C335.24 425.15 335.7 424.87 336 424.61C336.3 424.35 336.52 423.81 336.78 423.96Z" fill="#666" stroke="#888" stroke-width="0.45"/>
<circle cx="336" cy="427" r="1.0" fill="#000"/>
<text x="306.5" y="403.4" font-size="7" font-weight="bold" textLength="15.2" lengthAdjust="spacingAndGlyphs">1.7%</text>
<text x="61.5" y="378.9" font-size="7.4" font-weight="bold" text-anchor="middle" textLength="37" lengthAdjust="spacingAndGlyphs">CD4<tspan font-size="4.59" dy="-2.81">+</tspan><tspan dy="2.81">&#160;T cells</tspan></text>
<text x="143.2" y="377.8" font-size="7.4" font-weight="bold" text-anchor="middle" textLength="57.6" lengthAdjust="spacingAndGlyphs">CD4: IgM memory</text>
<text x="244.2" y="377.2" font-size="7.4" font-weight="bold" text-anchor="middle" textLength="35.9" lengthAdjust="spacingAndGlyphs">CD4: Tregs</text>
<text x="334.5" y="376.6" font-size="7.4" font-weight="bold" text-anchor="middle" textLength="57" lengthAdjust="spacingAndGlyphs">CD4: Transitional</text>
<text x="63.1" y="489" font-size="7.4" font-weight="bold" text-anchor="middle" textLength="38.7" lengthAdjust="spacingAndGlyphs">CD4<tspan font-size="4.59" dy="-2.81">+</tspan><tspan dy="2.81">&#160;T cells</tspan></text>
<text x="148.5" y="489" font-size="7.4" font-weight="bold" text-anchor="middle" textLength="58.9" lengthAdjust="spacingAndGlyphs">CD4: IgM memory</text>
<text x="244" y="489" font-size="7.4" font-weight="bold" text-anchor="middle" textLength="37.3" lengthAdjust="spacingAndGlyphs">CD4: Tregs</text>
<text x="338" y="489" font-size="7.4" font-weight="bold" text-anchor="middle" textLength="56.7" lengthAdjust="spacingAndGlyphs">CD4: Transitional</text>
<text x="0.6" y="508.7" font-size="12" font-weight="bold">F</text>
<line x1="41" y1="535.5" x2="41" y2="622.5" stroke="#000" stroke-width="1.4"/>
<line x1="41" y1="622" x2="165.6" y2="622" stroke="#000" stroke-width="1.4"/>
<line x1="39" y1="622" x2="41" y2="622" stroke="#000" stroke-width="0.9"/>
<text x="38.3" y="624" font-size="6" stroke="#000" stroke-width="0.2" text-anchor="end" textLength="3.1" lengthAdjust="spacingAndGlyphs">0</text>
<line x1="39" y1="600.65" x2="41" y2="600.65" stroke="#000" stroke-width="0.9"/>
<text x="38.3" y="602.65" font-size="6" stroke="#000" stroke-width="0.2" text-anchor="end" textLength="12.4" lengthAdjust="spacingAndGlyphs">5000</text>
<line x1="39" y1="579.3" x2="41" y2="579.3" stroke="#000" stroke-width="0.9"/>
<text x="38.3" y="581.3" font-size="6" stroke="#000" stroke-width="0.2" text-anchor="end" textLength="15.5" lengthAdjust="spacingAndGlyphs">10000</text>
<line x1="39" y1="557.95" x2="41" y2="557.95" stroke="#000" stroke-width="0.9"/>
<text x="38.3" y="559.95" font-size="6" stroke="#000" stroke-width="0.2" text-anchor="end" textLength="15.5" lengthAdjust="spacingAndGlyphs">15000</text>
<line x1="39" y1="536.6" x2="41" y2="536.6" stroke="#000" stroke-width="0.9"/>
<text x="38.3" y="538.6" font-size="6" stroke="#000" stroke-width="0.2" text-anchor="end" textLength="15.5" lengthAdjust="spacingAndGlyphs">20000</text>
<text transform="translate(13.8 598.2) rotate(-90)" font-size="6.6" font-weight="bold" textLength="37" lengthAdjust="spacingAndGlyphs">IL-2 (pg/ml)</text>
<rect x="48.9" y="531.5" width="10.8" height="90.5" fill="url(#hatch)" stroke="#666" stroke-width="0.5"/>
<line x1="54.3" y1="622" x2="54.3" y2="624.2" stroke="#000" stroke-width="0.9"/>
<line x1="79.45" y1="585.5" x2="79.45" y2="601.3" stroke="#000" stroke-width="1"/>
<line x1="76.95" y1="585.5" x2="81.95" y2="585.5" stroke="#000" stroke-width="1.1"/>
<rect x="74.7" y="601.3" width="9.5" height="20.7" fill="#000" stroke="#000" stroke-width="0.9"/>
<line x1="79.45" y1="622" x2="79.45" y2="624.2" stroke="#000" stroke-width="0.9"/>
<line x1="104.25" y1="581.4" x2="104.25" y2="597" stroke="#000" stroke-width="1"/>
<line x1="101.75" y1="581.4" x2="106.75" y2="581.4" stroke="#000" stroke-width="1.1"/>
<rect x="99.2" y="597" width="10.1" height="25" fill="#555" stroke="#000" stroke-width="0.9"/>
<line x1="104.25" y1="622" x2="104.25" y2="624.2" stroke="#000" stroke-width="0.9"/>
<rect x="124.6" y="537.3" width="10.1" height="84.7" fill="#aaa" stroke="#000" stroke-width="0.9"/>
<line x1="129.65" y1="622" x2="129.65" y2="624.2" stroke="#000" stroke-width="0.9"/>
<rect x="149.7" y="537.3" width="10.1" height="84.7" fill="#fff" stroke="#000" stroke-width="0.9"/>
<line x1="154.75" y1="622" x2="154.75" y2="624.2" stroke="#000" stroke-width="0.9"/>
<line x1="52.6" y1="512.1" x2="101.9" y2="512.1" stroke="#000" stroke-width="1.5"/>
<circle cx="76.25" cy="507.5" r="1.1" fill="#111"/>
<line x1="52.6" y1="525.4" x2="77.8" y2="525.4" stroke="#000" stroke-width="1.5"/>
<circle cx="66.5" cy="521.3" r="1.1" fill="#111"/>
<line x1="257.5" y1="534.5" x2="257.5" y2="622.3" stroke="#000" stroke-width="1.4"/>
<line x1="257.5" y1="621.8" x2="385.9" y2="621.8" stroke="#000" stroke-width="1.4"/>
<line x1="255.5" y1="621.8" x2="257.5" y2="621.8" stroke="#000" stroke-width="0.9"/>
<text x="254.8" y="623.8" font-size="6" stroke="#000" stroke-width="0.2" text-anchor="end" textLength="3.4" lengthAdjust="spacingAndGlyphs">0</text>
<line x1="255.5" y1="600.15" x2="257.5" y2="600.15" stroke="#000" stroke-width="0.9"/>
<text x="254.8" y="602.15" font-size="6" stroke="#000" stroke-width="0.2" text-anchor="end" textLength="10.2" lengthAdjust="spacingAndGlyphs">500</text>
<line x1="255.5" y1="578.5" x2="257.5" y2="578.5" stroke="#000" stroke-width="0.9"/>
<text x="254.8" y="580.5" font-size="6" stroke="#000" stroke-width="0.2" text-anchor="end" textLength="13.6" lengthAdjust="spacingAndGlyphs">1000</text>
<line x1="255.5" y1="556.85" x2="257.5" y2="556.85" stroke="#000" stroke-width="0.9"/>
<text x="254.8" y="558.85" font-size="6" stroke="#000" stroke-width="0.2" text-anchor="end" textLength="13.6" lengthAdjust="spacingAndGlyphs">1500</text>
<line x1="255.5" y1="535.2" x2="257.5" y2="535.2" stroke="#000" stroke-width="0.9"/>
<text x="254.8" y="537.2" font-size="6" stroke="#000" stroke-width="0.2" text-anchor="end" textLength="13.6" lengthAdjust="spacingAndGlyphs">2000</text>
<text transform="translate(234 606.5) rotate(-90)" font-size="6.6" font-weight="bold" textLength="57" lengthAdjust="spacingAndGlyphs">TNF alpha (pg/ml)</text>
<line x1="270.65" y1="576.2" x2="270.65" y2="580.6" stroke="#000" stroke-width="1"/>
<line x1="268.15" y1="576.2" x2="273.15" y2="576.2" stroke="#000" stroke-width="1.1"/>
<rect x="265.2" y="580.6" width="10.9" height="41.2" fill="url(#hatch)" stroke="#666" stroke-width="0.5"/>
<line x1="270.65" y1="621.8" x2="270.65" y2="624" stroke="#000" stroke-width="0.9"/>
<line x1="296.45" y1="606" x2="296.45" y2="611.7" stroke="#000" stroke-width="1"/>
<line x1="293.95" y1="606" x2="298.95" y2="606" stroke="#000" stroke-width="1.1"/>
<rect x="291.4" y="611.7" width="10.1" height="10.1" fill="#000" stroke="#000" stroke-width="0.9"/>
<line x1="296.45" y1="621.8" x2="296.45" y2="624" stroke="#000" stroke-width="0.9"/>
<line x1="322.15" y1="605.4" x2="322.15" y2="611.1" stroke="#000" stroke-width="1"/>
<line x1="319.65" y1="605.4" x2="324.65" y2="605.4" stroke="#000" stroke-width="1.1"/>
<rect x="317.1" y="611.1" width="10.1" height="10.7" fill="#555" stroke="#000" stroke-width="0.9"/>
<line x1="322.15" y1="621.8" x2="322.15" y2="624" stroke="#000" stroke-width="0.9"/>
<line x1="347.65" y1="579.1" x2="347.65" y2="581.4" stroke="#000" stroke-width="1"/>
<line x1="345.15" y1="579.1" x2="350.15" y2="579.1" stroke="#000" stroke-width="1.1"/>
<rect x="342.5" y="581.4" width="10.3" height="40.4" fill="#aaa" stroke="#000" stroke-width="0.9"/>
<line x1="347.65" y1="621.8" x2="347.65" y2="624" stroke="#000" stroke-width="0.9"/>
<line x1="373.25" y1="559.8" x2="373.25" y2="570.5" stroke="#000" stroke-width="1"/>
<line x1="370.75" y1="559.8" x2="375.75" y2="559.8" stroke="#000" stroke-width="1.1"/>
<rect x="368" y="570.5" width="10.5" height="51.3" fill="#fff" stroke="#000" stroke-width="0.9"/>
<line x1="373.25" y1="621.8" x2="373.25" y2="624" stroke="#000" stroke-width="0.9"/>
<line x1="268.8" y1="537.1" x2="318.1" y2="537.1" stroke="#000" stroke-width="1.5"/>
<circle cx="290.4" cy="532.3" r="1.15" fill="#111"/><circle cx="295.6" cy="532.3" r="1.15" fill="#111"/>
<line x1="268.8" y1="550.5" x2="293.8" y2="550.5" stroke="#000" stroke-width="1.5"/>
<circle cx="280.3" cy="546.5" r="1.15" fill="#111"/><circle cx="285.4" cy="546.5" r="1.15" fill="#111"/>
<rect x="402.3" y="528.8" width="10.2" height="5.6" fill="url(#hatch)" stroke="#000" stroke-width="0.8"/>
<text x="416.7" y="533.8" font-size="6.3" textLength="46.5" lengthAdjust="spacingAndGlyphs" fill="#222">Positive Control</text>
<rect x="402.3" y="538.4" width="10.2" height="5.6" fill="#000" stroke="#000" stroke-width="0.8"/>
<text x="416.7" y="543.4" font-size="6.3" textLength="33.5" lengthAdjust="spacingAndGlyphs" fill="#222">IgM Memory</text>
<rect x="402.3" y="548.3" width="10.2" height="5.6" fill="#555" stroke="#000" stroke-width="0.8"/>
<text x="416.7" y="553.3" font-size="6.3" textLength="36" lengthAdjust="spacingAndGlyphs" fill="#222">Transitional</text>
<rect x="402.3" y="557.8" width="10.2" height="5.6" fill="#aaa" stroke="#000" stroke-width="0.8"/>
<text x="416.7" y="562.8" font-size="6.3" textLength="15.2" lengthAdjust="spacingAndGlyphs" fill="#222">Naive</text>
<rect x="402.3" y="567.5" width="10.2" height="5.6" fill="#fff" stroke="#000" stroke-width="0.8"/>
<text x="416.7" y="572.5" font-size="6.3" textLength="52.3" lengthAdjust="spacingAndGlyphs" fill="#222">Switched Memory</text>
<text x="1" y="648.5" font-size="12.2" font-weight="bold">G</text>
<rect x="33" y="659.3" width="82.8" height="81.2" fill="none" stroke="#555" stroke-width="0.9"/>
<line x1="33" y1="740.5" x2="115.8" y2="740.5" stroke="#333" stroke-width="1"/>
<line x1="37.5" y1="740.5" x2="37.5" y2="742" stroke="#444" stroke-width="0.6"/>
<text x="37.5" y="746.8" font-size="3.8" text-anchor="middle" fill="#333">10<tspan font-size="2.66" dy="-1.71">0</tspan></text>
<line x1="55.6" y1="740.5" x2="55.6" y2="742" stroke="#444" stroke-width="0.6"/>
<text x="55.6" y="746.8" font-size="3.8" text-anchor="middle" fill="#333">10<tspan font-size="2.66" dy="-1.71">1</tspan></text>
<line x1="74.4" y1="740.5" x2="74.4" y2="742" stroke="#444" stroke-width="0.6"/>
<text x="74.4" y="746.8" font-size="3.8" text-anchor="middle" fill="#333">10<tspan font-size="2.66" dy="-1.71">2</tspan></text>
<line x1="95.1" y1="740.5" x2="95.1" y2="742" stroke="#444" stroke-width="0.6"/>
<text x="95.1" y="746.8" font-size="3.8" text-anchor="middle" fill="#333">10<tspan font-size="2.66" dy="-1.71">3</tspan></text>
<line x1="115.5" y1="740.5" x2="115.5" y2="742" stroke="#444" stroke-width="0.6"/>
<text x="115.5" y="746.8" font-size="3.8" text-anchor="middle" fill="#333">10<tspan font-size="2.66" dy="-1.71">4</tspan></text>
<line x1="42.95" y1="740.5" x2="42.95" y2="741.3" stroke="#777" stroke-width="0.4"/>
<line x1="46.14" y1="740.5" x2="46.14" y2="741.3" stroke="#777" stroke-width="0.4"/>
<line x1="48.4" y1="740.5" x2="48.4" y2="741.3" stroke="#777" stroke-width="0.4"/>
<line x1="50.15" y1="740.5" x2="50.15" y2="741.3" stroke="#777" stroke-width="0.4"/>
<line x1="51.59" y1="740.5" x2="51.59" y2="741.3" stroke="#777" stroke-width="0.4"/>
<line x1="52.8" y1="740.5" x2="52.8" y2="741.3" stroke="#777" stroke-width="0.4"/>
<line x1="53.85" y1="740.5" x2="53.85" y2="741.3" stroke="#777" stroke-width="0.4"/>
<line x1="54.78" y1="740.5" x2="54.78" y2="741.3" stroke="#777" stroke-width="0.4"/>
<line x1="61.26" y1="740.5" x2="61.26" y2="741.3" stroke="#777" stroke-width="0.4"/>
<line x1="64.57" y1="740.5" x2="64.57" y2="741.3" stroke="#777" stroke-width="0.4"/>
<line x1="66.92" y1="740.5" x2="66.92" y2="741.3" stroke="#777" stroke-width="0.4"/>
<line x1="68.74" y1="740.5" x2="68.74" y2="741.3" stroke="#777" stroke-width="0.4"/>
<line x1="70.23" y1="740.5" x2="70.23" y2="741.3" stroke="#777" stroke-width="0.4"/>
<line x1="71.49" y1="740.5" x2="71.49" y2="741.3" stroke="#777" stroke-width="0.4"/>
<line x1="72.58" y1="740.5" x2="72.58" y2="741.3" stroke="#777" stroke-width="0.4"/>
<line x1="73.54" y1="740.5" x2="73.54" y2="741.3" stroke="#777" stroke-width="0.4"/>
<line x1="80.63" y1="740.5" x2="80.63" y2="741.3" stroke="#777" stroke-width="0.4"/>
<line x1="84.28" y1="740.5" x2="84.28" y2="741.3" stroke="#777" stroke-width="0.4"/>
<line x1="86.86" y1="740.5" x2="86.86" y2="741.3" stroke="#777" stroke-width="0.4"/>
<line x1="88.87" y1="740.5" x2="88.87" y2="741.3" stroke="#777" stroke-width="0.4"/>
<line x1="90.51" y1="740.5" x2="90.51" y2="741.3" stroke="#777" stroke-width="0.4"/>
<line x1="91.89" y1="740.5" x2="91.89" y2="741.3" stroke="#777" stroke-width="0.4"/>
<line x1="93.09" y1="740.5" x2="93.09" y2="741.3" stroke="#777" stroke-width="0.4"/>
<line x1="94.15" y1="740.5" x2="94.15" y2="741.3" stroke="#777" stroke-width="0.4"/>
<line x1="101.24" y1="740.5" x2="101.24" y2="741.3" stroke="#777" stroke-width="0.4"/>
<line x1="104.83" y1="740.5" x2="104.83" y2="741.3" stroke="#777" stroke-width="0.4"/>
<line x1="107.38" y1="740.5" x2="107.38" y2="741.3" stroke="#777" stroke-width="0.4"/>
<line x1="109.36" y1="740.5" x2="109.36" y2="741.3" stroke="#777" stroke-width="0.4"/>
<line x1="110.97" y1="740.5" x2="110.97" y2="741.3" stroke="#777" stroke-width="0.4"/>
<line x1="112.34" y1="740.5" x2="112.34" y2="741.3" stroke="#777" stroke-width="0.4"/>
<line x1="113.52" y1="740.5" x2="113.52" y2="741.3" stroke="#777" stroke-width="0.4"/>
<line x1="114.57" y1="740.5" x2="114.57" y2="741.3" stroke="#777" stroke-width="0.4"/>
<text x="30.5" y="741.5" font-size="3.4" text-anchor="end" fill="#444">0</text>
<path d="M95.1 740.2C95.38 734.33 96.27 716.37 96.8 705C97.33 693.63 97.9 679.13 98.3 672C98.7 664.87 98.9 662.2 99.2 662.2C99.5 662.2 99.82 666.53 100.1 672C100.38 677.47 100.52 686.17 100.9 695C101.28 703.83 101.78 718 102.4 725C103.02 732 103.83 734.47 104.6 737C105.37 739.53 106.6 739.67 107 740.2 L107 740.5 L95.1 740.5 Z" fill="#e1e1e1" stroke="none"/>
<path d="M65.6 740.2C66.07 738.82 67.48 733.93 68.4 731.9C69.32 729.87 70.42 731.53 71.1 728C71.78 724.47 71.98 715.62 72.5 710.7C73.02 705.78 73.72 699.62 74.2 698.5C74.68 697.38 75.02 701.97 75.4 704C75.78 706.03 76 714.22 76.5 710.7C77 707.18 77.77 690.78 78.4 682.9C79.03 675.02 79.77 663.88 80.3 663.4C80.83 662.92 81.17 674.33 81.6 680C82.03 685.67 82.47 697.07 82.9 697.4C83.33 697.73 83.75 686.93 84.2 682C84.65 677.07 85.05 666.47 85.6 667.8C86.15 669.13 86.85 683.03 87.5 690C88.15 696.97 88.92 707.27 89.5 709.6C90.08 711.93 90.48 705.57 91 704C91.52 702.43 92 699.08 92.6 700.2C93.2 701.32 94 706.9 94.6 710.7C95.2 714.5 95.55 720.3 96.2 723C96.85 725.7 97.67 725.23 98.5 726.9C99.33 728.57 100.18 731.32 101.2 733C102.22 734.68 103.1 736.17 104.6 737C106.1 737.83 108.38 737.57 110.2 738C112.02 738.43 114.62 739.33 115.5 739.6 L115.5 740.5 L65.6 740.5 Z" fill="#b8b8b8" stroke="none"/>
<path d="M65.6 740.2C66.07 738.82 67.48 733.93 68.4 731.9C69.32 729.87 70.42 731.53 71.1 728C71.78 724.47 71.98 715.62 72.5 710.7C73.02 705.78 73.72 699.62 74.2 698.5C74.68 697.38 75.02 701.97 75.4 704C75.78 706.03 76 714.22 76.5 710.7C77 707.18 77.77 690.78 78.4 682.9C79.03 675.02 79.77 663.88 80.3 663.4C80.83 662.92 81.17 674.33 81.6 680C82.03 685.67 82.47 697.07 82.9 697.4C83.33 697.73 83.75 686.93 84.2 682C84.65 677.07 85.05 666.47 85.6 667.8C86.15 669.13 86.85 683.03 87.5 690C88.15 696.97 88.92 707.27 89.5 709.6C90.08 711.93 90.48 705.57 91 704C91.52 702.43 92 699.08 92.6 700.2C93.2 701.32 94 706.9 94.6 710.7C95.2 714.5 95.55 720.3 96.2 723C96.85 725.7 97.67 725.23 98.5 726.9C99.33 728.57 100.18 731.32 101.2 733C102.22 734.68 103.1 736.17 104.6 737C106.1 737.83 108.38 737.57 110.2 738C112.02 738.43 114.62 739.33 115.5 739.6" fill="none" stroke="#555" stroke-width="0.9" stroke-linejoin="round"/>
<path d="M95.1 740.2C95.38 734.33 96.27 716.37 96.8 705C97.33 693.63 97.9 679.13 98.3 672C98.7 664.87 98.9 662.2 99.2 662.2C99.5 662.2 99.82 666.53 100.1 672C100.38 677.47 100.52 686.17 100.9 695C101.28 703.83 101.78 718 102.4 725C103.02 732 103.83 734.47 104.6 737C105.37 739.53 106.6 739.67 107 740.2" fill="none" stroke="#777" stroke-width="0.9" stroke-linejoin="round"/>
<text x="74.4" y="648.3" font-size="8.2" font-weight="bold" text-anchor="middle" textLength="48.7" lengthAdjust="spacingAndGlyphs">CD4<tspan font-size="5.08" dy="-3.12">+</tspan><tspan dy="3.12">&#160;T cells</tspan></text>
<rect x="147.5" y="659.3" width="82" height="81.2" fill="none" stroke="#555" stroke-width="0.9"/>
<line x1="147.5" y1="740.5" x2="229.5" y2="740.5" stroke="#333" stroke-width="1"/>
<line x1="152" y1="740.5" x2="152" y2="742" stroke="#444" stroke-width="0.6"/>
<text x="152" y="746.8" font-size="3.8" text-anchor="middle" fill="#333">10<tspan font-size="2.66" dy="-1.71">0</tspan></text>
<line x1="169.89" y1="740.5" x2="169.89" y2="742" stroke="#444" stroke-width="0.6"/>
<text x="169.89" y="746.8" font-size="3.8" text-anchor="middle" fill="#333">10<tspan font-size="2.66" dy="-1.71">1</tspan></text>
<line x1="188.5" y1="740.5" x2="188.5" y2="742" stroke="#444" stroke-width="0.6"/>
<text x="188.5" y="746.8" font-size="3.8" text-anchor="middle" fill="#333">10<tspan font-size="2.66" dy="-1.71">2</tspan></text>
<line x1="209" y1="740.5" x2="209" y2="742" stroke="#444" stroke-width="0.6"/>
<text x="209" y="746.8" font-size="3.8" text-anchor="middle" fill="#333">10<tspan font-size="2.66" dy="-1.71">3</tspan></text>
<line x1="229.2" y1="740.5" x2="229.2" y2="742" stroke="#444" stroke-width="0.6"/>
<text x="229.2" y="746.8" font-size="3.8" text-anchor="middle" fill="#333">10<tspan font-size="2.66" dy="-1.71">4</tspan></text>
<line x1="157.38" y1="740.5" x2="157.38" y2="741.3" stroke="#777" stroke-width="0.4"/>
<line x1="160.53" y1="740.5" x2="160.53" y2="741.3" stroke="#777" stroke-width="0.4"/>
<line x1="162.77" y1="740.5" x2="162.77" y2="741.3" stroke="#777" stroke-width="0.4"/>
<line x1="164.5" y1="740.5" x2="164.5" y2="741.3" stroke="#777" stroke-width="0.4"/>
<line x1="165.92" y1="740.5" x2="165.92" y2="741.3" stroke="#777" stroke-width="0.4"/>
<line x1="167.12" y1="740.5" x2="167.12" y2="741.3" stroke="#777" stroke-width="0.4"/>
<line x1="168.15" y1="740.5" x2="168.15" y2="741.3" stroke="#777" stroke-width="0.4"/>
<line x1="169.07" y1="740.5" x2="169.07" y2="741.3" stroke="#777" stroke-width="0.4"/>
<line x1="175.49" y1="740.5" x2="175.49" y2="741.3" stroke="#777" stroke-width="0.4"/>
<line x1="178.77" y1="740.5" x2="178.77" y2="741.3" stroke="#777" stroke-width="0.4"/>
<line x1="181.09" y1="740.5" x2="181.09" y2="741.3" stroke="#777" stroke-width="0.4"/>
<line x1="182.9" y1="740.5" x2="182.9" y2="741.3" stroke="#777" stroke-width="0.4"/>
<line x1="184.37" y1="740.5" x2="184.37" y2="741.3" stroke="#777" stroke-width="0.4"/>
<line x1="185.62" y1="740.5" x2="185.62" y2="741.3" stroke="#777" stroke-width="0.4"/>
<line x1="186.7" y1="740.5" x2="186.7" y2="741.3" stroke="#777" stroke-width="0.4"/>
<line x1="187.65" y1="740.5" x2="187.65" y2="741.3" stroke="#777" stroke-width="0.4"/>
<line x1="194.67" y1="740.5" x2="194.67" y2="741.3" stroke="#777" stroke-width="0.4"/>
<line x1="198.28" y1="740.5" x2="198.28" y2="741.3" stroke="#777" stroke-width="0.4"/>
<line x1="200.84" y1="740.5" x2="200.84" y2="741.3" stroke="#777" stroke-width="0.4"/>
<line x1="202.83" y1="740.5" x2="202.83" y2="741.3" stroke="#777" stroke-width="0.4"/>
<line x1="204.45" y1="740.5" x2="204.45" y2="741.3" stroke="#777" stroke-width="0.4"/>
<line x1="205.82" y1="740.5" x2="205.82" y2="741.3" stroke="#777" stroke-width="0.4"/>
<line x1="207.01" y1="740.5" x2="207.01" y2="741.3" stroke="#777" stroke-width="0.4"/>
<line x1="208.06" y1="740.5" x2="208.06" y2="741.3" stroke="#777" stroke-width="0.4"/>
<line x1="215.08" y1="740.5" x2="215.08" y2="741.3" stroke="#777" stroke-width="0.4"/>
<line x1="218.64" y1="740.5" x2="218.64" y2="741.3" stroke="#777" stroke-width="0.4"/>
<line x1="221.16" y1="740.5" x2="221.16" y2="741.3" stroke="#777" stroke-width="0.4"/>
<line x1="223.12" y1="740.5" x2="223.12" y2="741.3" stroke="#777" stroke-width="0.4"/>
<line x1="224.72" y1="740.5" x2="224.72" y2="741.3" stroke="#777" stroke-width="0.4"/>
<line x1="226.07" y1="740.5" x2="226.07" y2="741.3" stroke="#777" stroke-width="0.4"/>
<line x1="227.24" y1="740.5" x2="227.24" y2="741.3" stroke="#777" stroke-width="0.4"/>
<line x1="228.28" y1="740.5" x2="228.28" y2="741.3" stroke="#777" stroke-width="0.4"/>
<text transform="translate(139.2 704.4) rotate(-90)" font-size="3.4" fill="#555">Count</text>
<text x="145" y="741.5" font-size="3.4" text-anchor="end" fill="#444">0</text>
<path d="M190 740.3C190.42 739.75 191.58 738.55 192.5 737C193.42 735.45 194.67 733.5 195.5 731C196.33 728.5 196.83 724.5 197.5 722C198.17 719.5 198.88 716.17 199.5 716C200.12 715.83 200.53 722.83 201.2 721C201.87 719.17 202.67 710.08 203.5 705C204.33 699.92 205.33 691 206.2 690.5C207.07 690 207.98 702.92 208.7 702C209.42 701.08 209.87 691.37 210.5 685C211.13 678.63 211.87 662.97 212.5 663.8C213.13 664.63 213.68 678.13 214.3 690C214.92 701.87 215.42 727 216.2 735C216.98 743 217.33 737.58 219 738C220.67 738.42 224.48 737.17 226.2 737.5C227.92 737.83 228.78 739.58 229.3 740 L229.3 740.5 L190 740.5 Z" fill="#c8c8c8" stroke="none"/>
<path d="M190 740.3C190.42 739.75 191.58 738.55 192.5 737C193.42 735.45 194.67 733.5 195.5 731C196.33 728.5 196.83 724.5 197.5 722C198.17 719.5 198.88 716.17 199.5 716C200.12 715.83 200.53 722.83 201.2 721C201.87 719.17 202.67 710.08 203.5 705C204.33 699.92 205.33 691 206.2 690.5C207.07 690 207.98 702.92 208.7 702C209.42 701.08 209.87 691.37 210.5 685C211.13 678.63 211.87 662.97 212.5 663.8C213.13 664.63 213.68 678.13 214.3 690C214.92 701.87 215.42 727 216.2 735C216.98 743 217.33 737.58 219 738C220.67 738.42 224.48 737.17 226.2 737.5C227.92 737.83 228.78 739.58 229.3 740" fill="none" stroke="#555" stroke-width="0.9" stroke-linejoin="round"/>
<path d="M209.5 740.3C209.72 736.08 210.42 725.05 210.8 715C211.18 704.95 211.52 688.42 211.8 680C212.08 671.58 212.25 664.5 212.5 664.5C212.75 664.5 212.97 671.58 213.3 680C213.63 688.42 214.02 705.33 214.5 715C214.98 724.67 215.62 733.78 216.2 738C216.78 742.22 217.7 739.92 218 740.3 L218 740.5 L209.5 740.5 Z" fill="#909090" stroke="none"/>
<path d="M209.5 740.3C209.72 736.08 210.42 725.05 210.8 715C211.18 704.95 211.52 688.42 211.8 680C212.08 671.58 212.25 664.5 212.5 664.5C212.75 664.5 212.97 671.58 213.3 680C213.63 688.42 214.02 705.33 214.5 715C214.98 724.67 215.62 733.78 216.2 738C216.78 742.22 217.7 739.92 218 740.3" fill="none" stroke="#333" stroke-width="0.9" stroke-linejoin="round"/>
<text x="181.9" y="647.5" font-size="8.2" font-weight="bold" text-anchor="middle" textLength="71.3" lengthAdjust="spacingAndGlyphs">CD4: IgM memory</text>
<rect x="263.8" y="657.5" width="81.7" height="81.3" fill="none" stroke="#555" stroke-width="0.9"/>
<line x1="263.8" y1="738.8" x2="345.5" y2="738.8" stroke="#333" stroke-width="1"/>
<line x1="268.3" y1="738.8" x2="268.3" y2="740.3" stroke="#444" stroke-width="0.6"/>
<text x="268.3" y="745.1" font-size="3.8" text-anchor="middle" fill="#333">10<tspan font-size="2.66" dy="-1.71">0</tspan></text>
<line x1="286.1" y1="738.8" x2="286.1" y2="740.3" stroke="#444" stroke-width="0.6"/>
<text x="286.1" y="745.1" font-size="3.8" text-anchor="middle" fill="#333">10<tspan font-size="2.66" dy="-1.71">1</tspan></text>
<line x1="304.65" y1="738.8" x2="304.65" y2="740.3" stroke="#444" stroke-width="0.6"/>
<text x="304.65" y="745.1" font-size="3.8" text-anchor="middle" fill="#333">10<tspan font-size="2.66" dy="-1.71">2</tspan></text>
<line x1="325.07" y1="738.8" x2="325.07" y2="740.3" stroke="#444" stroke-width="0.6"/>
<text x="325.07" y="745.1" font-size="3.8" text-anchor="middle" fill="#333">10<tspan font-size="2.66" dy="-1.71">3</tspan></text>
<line x1="345.2" y1="738.8" x2="345.2" y2="740.3" stroke="#444" stroke-width="0.6"/>
<text x="345.2" y="745.1" font-size="3.8" text-anchor="middle" fill="#333">10<tspan font-size="2.66" dy="-1.71">4</tspan></text>
<line x1="273.66" y1="738.8" x2="273.66" y2="739.6" stroke="#777" stroke-width="0.4"/>
<line x1="276.79" y1="738.8" x2="276.79" y2="739.6" stroke="#777" stroke-width="0.4"/>
<line x1="279.02" y1="738.8" x2="279.02" y2="739.6" stroke="#777" stroke-width="0.4"/>
<line x1="280.74" y1="738.8" x2="280.74" y2="739.6" stroke="#777" stroke-width="0.4"/>
<line x1="282.15" y1="738.8" x2="282.15" y2="739.6" stroke="#777" stroke-width="0.4"/>
<line x1="283.35" y1="738.8" x2="283.35" y2="739.6" stroke="#777" stroke-width="0.4"/>
<line x1="284.38" y1="738.8" x2="284.38" y2="739.6" stroke="#777" stroke-width="0.4"/>
<line x1="285.29" y1="738.8" x2="285.29" y2="739.6" stroke="#777" stroke-width="0.4"/>
<line x1="291.69" y1="738.8" x2="291.69" y2="739.6" stroke="#777" stroke-width="0.4"/>
<line x1="294.95" y1="738.8" x2="294.95" y2="739.6" stroke="#777" stroke-width="0.4"/>
<line x1="297.27" y1="738.8" x2="297.27" y2="739.6" stroke="#777" stroke-width="0.4"/>
<line x1="299.07" y1="738.8" x2="299.07" y2="739.6" stroke="#777" stroke-width="0.4"/>
<line x1="300.54" y1="738.8" x2="300.54" y2="739.6" stroke="#777" stroke-width="0.4"/>
<line x1="301.78" y1="738.8" x2="301.78" y2="739.6" stroke="#777" stroke-width="0.4"/>
<line x1="302.85" y1="738.8" x2="302.85" y2="739.6" stroke="#777" stroke-width="0.4"/>
<line x1="303.8" y1="738.8" x2="303.8" y2="739.6" stroke="#777" stroke-width="0.4"/>
<line x1="310.8" y1="738.8" x2="310.8" y2="739.6" stroke="#777" stroke-width="0.4"/>
<line x1="314.4" y1="738.8" x2="314.4" y2="739.6" stroke="#777" stroke-width="0.4"/>
<line x1="316.95" y1="738.8" x2="316.95" y2="739.6" stroke="#777" stroke-width="0.4"/>
<line x1="318.93" y1="738.8" x2="318.93" y2="739.6" stroke="#777" stroke-width="0.4"/>
<line x1="320.54" y1="738.8" x2="320.54" y2="739.6" stroke="#777" stroke-width="0.4"/>
<line x1="321.91" y1="738.8" x2="321.91" y2="739.6" stroke="#777" stroke-width="0.4"/>
<line x1="323.1" y1="738.8" x2="323.1" y2="739.6" stroke="#777" stroke-width="0.4"/>
<line x1="324.14" y1="738.8" x2="324.14" y2="739.6" stroke="#777" stroke-width="0.4"/>
<line x1="331.13" y1="738.8" x2="331.13" y2="739.6" stroke="#777" stroke-width="0.4"/>
<line x1="334.68" y1="738.8" x2="334.68" y2="739.6" stroke="#777" stroke-width="0.4"/>
<line x1="337.19" y1="738.8" x2="337.19" y2="739.6" stroke="#777" stroke-width="0.4"/>
<line x1="339.14" y1="738.8" x2="339.14" y2="739.6" stroke="#777" stroke-width="0.4"/>
<line x1="340.74" y1="738.8" x2="340.74" y2="739.6" stroke="#777" stroke-width="0.4"/>
<line x1="342.08" y1="738.8" x2="342.08" y2="739.6" stroke="#777" stroke-width="0.4"/>
<line x1="343.25" y1="738.8" x2="343.25" y2="739.6" stroke="#777" stroke-width="0.4"/>
<line x1="344.28" y1="738.8" x2="344.28" y2="739.6" stroke="#777" stroke-width="0.4"/>
<text transform="translate(257.5 702.65) rotate(-90)" font-size="3.4" fill="#555">Count</text>
<text x="261.3" y="739.8" font-size="3.4" text-anchor="end" fill="#444">0</text>
<path d="M301.2 738.6C301.83 738.17 303.78 737.43 305 736C306.22 734.57 307.58 732.33 308.5 730C309.42 727.67 309.92 724.3 310.5 722C311.08 719.7 311.45 716.33 312 716.2C312.55 716.07 313.18 723.07 313.8 721.2C314.42 719.33 315.08 709.87 315.7 705C316.32 700.13 316.95 692.83 317.5 692C318.05 691.17 318.47 697.42 319 700C319.53 702.58 320.03 710 320.7 707.5C321.37 705 322.2 692.58 323 685C323.8 677.42 324.67 661.17 325.5 662C326.33 662.83 327.05 678.05 328 690C328.95 701.95 329.87 725.87 331.2 733.7C332.53 741.53 333.65 736.23 336 737C338.35 737.77 343.75 738.08 345.3 738.3 L345.3 738.8 L301.2 738.8 Z" fill="#c8c8c8" stroke="none"/>
<path d="M301.2 738.6C301.83 738.17 303.78 737.43 305 736C306.22 734.57 307.58 732.33 308.5 730C309.42 727.67 309.92 724.3 310.5 722C311.08 719.7 311.45 716.33 312 716.2C312.55 716.07 313.18 723.07 313.8 721.2C314.42 719.33 315.08 709.87 315.7 705C316.32 700.13 316.95 692.83 317.5 692C318.05 691.17 318.47 697.42 319 700C319.53 702.58 320.03 710 320.7 707.5C321.37 705 322.2 692.58 323 685C323.8 677.42 324.67 661.17 325.5 662C326.33 662.83 327.05 678.05 328 690C328.95 701.95 329.87 725.87 331.2 733.7C332.53 741.53 333.65 736.23 336 737C338.35 737.77 343.75 738.08 345.3 738.3" fill="none" stroke="#555" stroke-width="0.9" stroke-linejoin="round"/>
<path d="M321.2 738.6C321.47 733.83 322.28 720.1 322.8 710C323.32 699.9 323.85 685.92 324.3 678C324.75 670.08 325.1 662.5 325.5 662.5C325.9 662.5 326.2 669.75 326.7 678C327.2 686.25 327.78 702.67 328.5 712C329.22 721.33 330.08 729.57 331 734C331.92 738.43 333.5 737.83 334 738.6 L334 738.8 L321.2 738.8 Z" fill="#909090" stroke="none"/>
<path d="M321.2 738.6C321.47 733.83 322.28 720.1 322.8 710C323.32 699.9 323.85 685.92 324.3 678C324.75 670.08 325.1 662.5 325.5 662.5C325.9 662.5 326.2 669.75 326.7 678C327.2 686.25 327.78 702.67 328.5 712C329.22 721.33 330.08 729.57 331 734C331.92 738.43 333.5 737.83 334 738.6" fill="none" stroke="#333" stroke-width="0.9" stroke-linejoin="round"/>
<text x="300.9" y="646.7" font-size="8.2" font-weight="bold" text-anchor="middle" textLength="45.7" lengthAdjust="spacingAndGlyphs">CD4: Tregs</text>
<rect x="375.5" y="660" width="75.8" height="81.3" fill="none" stroke="#555" stroke-width="0.9"/>
<line x1="375.5" y1="741.3" x2="451.3" y2="741.3" stroke="#333" stroke-width="1"/>
<line x1="380" y1="741.3" x2="380" y2="742.8" stroke="#444" stroke-width="0.6"/>
<text x="380" y="747.6" font-size="3.8" text-anchor="middle" fill="#333">10<tspan font-size="2.66" dy="-1.71">0</tspan></text>
<line x1="396.19" y1="741.3" x2="396.19" y2="742.8" stroke="#444" stroke-width="0.6"/>
<text x="396.19" y="747.6" font-size="3.8" text-anchor="middle" fill="#333">10<tspan font-size="2.66" dy="-1.71">1</tspan></text>
<line x1="413.4" y1="741.3" x2="413.4" y2="742.8" stroke="#444" stroke-width="0.6"/>
<text x="413.4" y="747.6" font-size="3.8" text-anchor="middle" fill="#333">10<tspan font-size="2.66" dy="-1.71">2</tspan></text>
<line x1="432.35" y1="741.3" x2="432.35" y2="742.8" stroke="#444" stroke-width="0.6"/>
<text x="432.35" y="747.6" font-size="3.8" text-anchor="middle" fill="#333">10<tspan font-size="2.66" dy="-1.71">3</tspan></text>
<line x1="451" y1="741.3" x2="451" y2="742.8" stroke="#444" stroke-width="0.6"/>
<text x="451" y="747.6" font-size="3.8" text-anchor="middle" fill="#333">10<tspan font-size="2.66" dy="-1.71">4</tspan></text>
<line x1="384.87" y1="741.3" x2="384.87" y2="742.1" stroke="#777" stroke-width="0.4"/>
<line x1="387.73" y1="741.3" x2="387.73" y2="742.1" stroke="#777" stroke-width="0.4"/>
<line x1="389.75" y1="741.3" x2="389.75" y2="742.1" stroke="#777" stroke-width="0.4"/>
<line x1="391.32" y1="741.3" x2="391.32" y2="742.1" stroke="#777" stroke-width="0.4"/>
<line x1="392.6" y1="741.3" x2="392.6" y2="742.1" stroke="#777" stroke-width="0.4"/>
<line x1="393.69" y1="741.3" x2="393.69" y2="742.1" stroke="#777" stroke-width="0.4"/>
<line x1="394.62" y1="741.3" x2="394.62" y2="742.1" stroke="#777" stroke-width="0.4"/>
<line x1="395.45" y1="741.3" x2="395.45" y2="742.1" stroke="#777" stroke-width="0.4"/>
<line x1="401.37" y1="741.3" x2="401.37" y2="742.1" stroke="#777" stroke-width="0.4"/>
<line x1="404.4" y1="741.3" x2="404.4" y2="742.1" stroke="#777" stroke-width="0.4"/>
<line x1="406.55" y1="741.3" x2="406.55" y2="742.1" stroke="#777" stroke-width="0.4"/>
<line x1="408.22" y1="741.3" x2="408.22" y2="742.1" stroke="#777" stroke-width="0.4"/>
<line x1="409.58" y1="741.3" x2="409.58" y2="742.1" stroke="#777" stroke-width="0.4"/>
<line x1="410.73" y1="741.3" x2="410.73" y2="742.1" stroke="#777" stroke-width="0.4"/>
<line x1="411.73" y1="741.3" x2="411.73" y2="742.1" stroke="#777" stroke-width="0.4"/>
<line x1="412.61" y1="741.3" x2="412.61" y2="742.1" stroke="#777" stroke-width="0.4"/>
<line x1="419.1" y1="741.3" x2="419.1" y2="742.1" stroke="#777" stroke-width="0.4"/>
<line x1="422.44" y1="741.3" x2="422.44" y2="742.1" stroke="#777" stroke-width="0.4"/>
<line x1="424.81" y1="741.3" x2="424.81" y2="742.1" stroke="#777" stroke-width="0.4"/>
<line x1="426.65" y1="741.3" x2="426.65" y2="742.1" stroke="#777" stroke-width="0.4"/>
<line x1="428.15" y1="741.3" x2="428.15" y2="742.1" stroke="#777" stroke-width="0.4"/>
<line x1="429.41" y1="741.3" x2="429.41" y2="742.1" stroke="#777" stroke-width="0.4"/>
<line x1="430.51" y1="741.3" x2="430.51" y2="742.1" stroke="#777" stroke-width="0.4"/>
<line x1="431.48" y1="741.3" x2="431.48" y2="742.1" stroke="#777" stroke-width="0.4"/>
<line x1="437.96" y1="741.3" x2="437.96" y2="742.1" stroke="#777" stroke-width="0.4"/>
<line x1="441.25" y1="741.3" x2="441.25" y2="742.1" stroke="#777" stroke-width="0.4"/>
<line x1="443.58" y1="741.3" x2="443.58" y2="742.1" stroke="#777" stroke-width="0.4"/>
<line x1="445.39" y1="741.3" x2="445.39" y2="742.1" stroke="#777" stroke-width="0.4"/>
<line x1="446.86" y1="741.3" x2="446.86" y2="742.1" stroke="#777" stroke-width="0.4"/>
<line x1="448.11" y1="741.3" x2="448.11" y2="742.1" stroke="#777" stroke-width="0.4"/>
<line x1="449.19" y1="741.3" x2="449.19" y2="742.1" stroke="#777" stroke-width="0.4"/>
<line x1="450.15" y1="741.3" x2="450.15" y2="742.1" stroke="#777" stroke-width="0.4"/>
<text transform="translate(356.8 705.15) rotate(-90)" font-size="3.4" fill="#555">Count</text>
<text x="373" y="742.3" font-size="3.4" text-anchor="end" fill="#444">0</text>
<path d="M415 741C415.5 740.17 417.08 739.17 418 736C418.92 732.83 419.78 727.17 420.5 722C421.22 716.83 421.75 709.3 422.3 705C422.85 700.7 423.3 696.2 423.8 696.2C424.3 696.2 424.77 701.87 425.3 705C425.83 708.13 426.42 716.67 427 715C427.58 713.33 428.27 702.17 428.8 695C429.33 687.83 429.78 677.2 430.2 672C430.62 666.8 430.92 663.8 431.3 663.8C431.68 663.8 432.05 665.97 432.5 672C432.95 678.03 433.53 690.67 434 700C434.47 709.33 434.88 721.5 435.3 728C435.72 734.5 435.72 736.83 436.5 739C437.28 741.17 439.42 740.67 440 741 L440 741.3 L415 741.3 Z" fill="#d8d8d8" stroke="none"/>
<path d="M415 741C415.5 740.17 417.08 739.17 418 736C418.92 732.83 419.78 727.17 420.5 722C421.22 716.83 421.75 709.3 422.3 705C422.85 700.7 423.3 696.2 423.8 696.2C424.3 696.2 424.77 701.87 425.3 705C425.83 708.13 426.42 716.67 427 715C427.58 713.33 428.27 702.17 428.8 695C429.33 687.83 429.78 677.2 430.2 672C430.62 666.8 430.92 663.8 431.3 663.8C431.68 663.8 432.05 665.97 432.5 672C432.95 678.03 433.53 690.67 434 700C434.47 709.33 434.88 721.5 435.3 728C435.72 734.5 435.72 736.83 436.5 739C437.28 741.17 439.42 740.67 440 741" fill="none" stroke="#888" stroke-width="0.9" stroke-linejoin="round"/>
<path d="M427 741C427.25 736.67 428.03 724.33 428.5 715C428.97 705.67 429.38 693.42 429.8 685C430.22 676.58 430.6 664.5 431 664.5C431.4 664.5 431.77 676.58 432.2 685C432.63 693.42 433.08 706 433.6 715C434.12 724 434.73 734.67 435.3 739C435.87 743.33 436.72 740.67 437 741" fill="none" stroke="#777" stroke-width="0.8" stroke-linejoin="round" stroke-dasharray="1.2 0.9"/>
<text x="417.5" y="646.2" font-size="8.2" font-weight="bold" text-anchor="middle" textLength="70" lengthAdjust="spacingAndGlyphs">CD4: Transitional</text>
<line x1="0" y1="769.4" x2="192.8" y2="769.4" stroke="#111" stroke-width="1.3"/>
<text x="225.4" y="772.8" font-size="11.2" font-weight="bold" text-anchor="middle" textLength="27" lengthAdjust="spacingAndGlyphs">CFSE</text>
<line x1="258.4" y1="769.6" x2="468" y2="769.9" stroke="#111" stroke-width="1.3"/>
<path d="M464.82 766.5L468.9 769.9L464.82 773.3" fill="none" stroke="#000" stroke-width="1.3"/>
<text x="1" y="795.2" font-size="11.8" font-weight="bold">H</text>
<line x1="34.6" y1="807" x2="34.6" y2="918.5" stroke="#000" stroke-width="1.4"/>
<line x1="34.6" y1="918" x2="198.5" y2="918" stroke="#000" stroke-width="1.4"/>
<line x1="32.6" y1="918" x2="34.6" y2="918" stroke="#000" stroke-width="0.9"/>
<text x="32" y="920.5" font-size="7" font-weight="bold" text-anchor="end" textLength="9.4" lengthAdjust="spacingAndGlyphs">0.0</text>
<line x1="32.6" y1="875.1" x2="34.6" y2="875.1" stroke="#000" stroke-width="0.9"/>
<text x="32" y="877.6" font-size="7" font-weight="bold" text-anchor="end" textLength="9.4" lengthAdjust="spacingAndGlyphs">0.5</text>
<line x1="32.6" y1="832.2" x2="34.6" y2="832.2" stroke="#000" stroke-width="0.9"/>
<text x="32" y="834.7" font-size="7" font-weight="bold" text-anchor="end" textLength="9.4" lengthAdjust="spacingAndGlyphs">1.0</text>
<text transform="translate(19.1 929) rotate(-90)" font-size="8" stroke="#000" stroke-width="0.3" textLength="133" lengthAdjust="spacingAndGlyphs">Relative inhibition of IFN-&#947; production</text>
<rect x="41" y="832.2" width="27.8" height="85.8" fill="#000" stroke="#000" stroke-width="0.9"/>
<line x1="95.8" y1="857.3" x2="95.8" y2="876.2" stroke="#000" stroke-width="0.9"/>
<line x1="88.7" y1="857.3" x2="102.9" y2="857.3" stroke="#000" stroke-width="1.1"/>
<rect x="81.4" y="876.2" width="28.4" height="41.8" fill="#fff" stroke="none" stroke-width="0"/>
<rect x="81.4" y="876.2" width="6.5" height="4.2" fill="#000" stroke="none" stroke-width="0"/>
<rect x="99.5" y="876.2" width="10.3" height="4.2" fill="#000" stroke="none" stroke-width="0"/>
<rect x="87.9" y="880.4" width="11.6" height="8.4" fill="#000" stroke="none" stroke-width="0"/>
<rect x="81.4" y="888.8" width="6.5" height="8.1" fill="#000" stroke="none" stroke-width="0"/>
<rect x="99.5" y="888.8" width="10.3" height="8.1" fill="#000" stroke="none" stroke-width="0"/>
<rect x="87.9" y="896.9" width="11.6" height="8.5" fill="#000" stroke="none" stroke-width="0"/>
<rect x="81.4" y="905.4" width="6.5" height="8.1" fill="#000" stroke="none" stroke-width="0"/>
<rect x="99.5" y="905.4" width="10.3" height="8.1" fill="#000" stroke="none" stroke-width="0"/>
<rect x="87.9" y="913.5" width="11.6" height="4.5" fill="#000" stroke="none" stroke-width="0"/>
<rect x="81.4" y="876.2" width="28.4" height="41.8" fill="none" stroke="#000" stroke-width="1"/>
<line x1="136.5" y1="851.5" x2="136.5" y2="866.6" stroke="#000" stroke-width="0.9"/>
<line x1="130.3" y1="851.5" x2="143.4" y2="851.5" stroke="#000" stroke-width="1.1"/>
<rect x="122.6" y="866.6" width="27.7" height="51.4" fill="#fff" stroke="#000" stroke-width="1"/>
<rect x="122.6" y="866.6" width="27.7" height="3" fill="#666" stroke="#000" stroke-width="0.9"/>
<line x1="122.6" y1="869.6" x2="150.3" y2="869.6" stroke="#000" stroke-width="1.2"/>
<line x1="122.6" y1="877.7" x2="150.3" y2="877.7" stroke="#000" stroke-width="1.2"/>
<line x1="122.6" y1="885.8" x2="150.3" y2="885.8" stroke="#000" stroke-width="1.2"/>
<line x1="122.6" y1="893.8" x2="150.3" y2="893.8" stroke="#000" stroke-width="1.2"/>
<line x1="122.6" y1="902.3" x2="150.3" y2="902.3" stroke="#000" stroke-width="1.2"/>
<line x1="122.6" y1="910.4" x2="150.3" y2="910.4" stroke="#000" stroke-width="1.2"/>
<line x1="177.8" y1="862.5" x2="177.8" y2="871.5" stroke="#000" stroke-width="0.9"/>
<line x1="170.7" y1="862.5" x2="184.5" y2="862.5" stroke="#000" stroke-width="1.1"/>
<rect x="163.4" y="871.5" width="28.4" height="46.5" fill="#fff" stroke="#000" stroke-width="1"/>
<rect x="163.4" y="871.5" width="4.2" height="46.5" fill="#000" stroke="none" stroke-width="0"/>
<rect x="176.8" y="871.5" width="2.7" height="46.5" fill="#000" stroke="none" stroke-width="0"/>
<rect x="189.2" y="871.5" width="2.6" height="46.5" fill="#000" stroke="none" stroke-width="0"/>
<line x1="55" y1="918" x2="55" y2="920" stroke="#000" stroke-width="0.9"/>
<line x1="95.6" y1="918" x2="95.6" y2="920" stroke="#000" stroke-width="0.9"/>
<line x1="136.5" y1="918" x2="136.5" y2="920" stroke="#000" stroke-width="0.9"/>
<line x1="177.7" y1="918" x2="177.7" y2="920" stroke="#000" stroke-width="0.9"/>
<line x1="50.4" y1="810.2" x2="145" y2="810.2" stroke="#000" stroke-width="1.5"/>
<circle cx="90.1" cy="803.8" r="1.25" fill="#111"/>
<line x1="50.4" y1="823.8" x2="104" y2="823.8" stroke="#000" stroke-width="1.5"/>
<circle cx="71.1" cy="819.6" r="1.25" fill="#111"/>
<line x1="81.3" y1="848" x2="178.8" y2="848" stroke="#000" stroke-width="1.5"/>
<text x="130.6" y="845.8" font-size="6.8" font-weight="bold" font-style="italic" text-anchor="middle" textLength="8.8" lengthAdjust="spacingAndGlyphs">ns</text>
<text x="33.7" y="927.4" font-size="6.8" font-weight="bold" textLength="41.3" lengthAdjust="spacingAndGlyphs">CD4 + T cells</text>
<text x="88.8" y="927.4" font-size="6.8" font-weight="bold" textLength="16.2" lengthAdjust="spacingAndGlyphs">Tregs</text>
<text x="117.5" y="927.4" font-size="6.8" font-weight="bold" textLength="38.8" lengthAdjust="spacingAndGlyphs">IgM memory</text>
<text x="158.8" y="927.4" font-size="6.8" font-weight="bold" textLength="37.2" lengthAdjust="spacingAndGlyphs">Transitional</text>
<line x1="294.2" y1="816" x2="294.2" y2="915.3" stroke="#000" stroke-width="1.4"/>
<line x1="294.2" y1="914.8" x2="467.3" y2="914.8" stroke="#000" stroke-width="1.4"/>
<line x1="292" y1="914.8" x2="294.2" y2="914.8" stroke="#000" stroke-width="0.9"/>
<text x="291" y="917.2" font-size="7.2" font-weight="bold" text-anchor="end" textLength="3.9" lengthAdjust="spacingAndGlyphs">0</text>
<line x1="292" y1="895.54" x2="294.2" y2="895.54" stroke="#000" stroke-width="0.9"/>
<text x="291" y="897.94" font-size="7.2" font-weight="bold" text-anchor="end" textLength="7.8" lengthAdjust="spacingAndGlyphs">20</text>
<line x1="292" y1="876.28" x2="294.2" y2="876.28" stroke="#000" stroke-width="0.9"/>
<text x="291" y="878.68" font-size="7.2" font-weight="bold" text-anchor="end" textLength="7.8" lengthAdjust="spacingAndGlyphs">40</text>
<line x1="292" y1="857.02" x2="294.2" y2="857.02" stroke="#000" stroke-width="0.9"/>
<text x="291" y="859.42" font-size="7.2" font-weight="bold" text-anchor="end" textLength="7.8" lengthAdjust="spacingAndGlyphs">60</text>
<line x1="292" y1="837.76" x2="294.2" y2="837.76" stroke="#000" stroke-width="0.9"/>
<text x="291" y="840.16" font-size="7.2" font-weight="bold" text-anchor="end" textLength="7.8" lengthAdjust="spacingAndGlyphs">80</text>
<line x1="292" y1="818.5" x2="294.2" y2="818.5" stroke="#000" stroke-width="0.9"/>
<text x="291" y="820.9" font-size="7.2" font-weight="bold" text-anchor="end" textLength="11.7" lengthAdjust="spacingAndGlyphs">100</text>
<text transform="translate(275.3 918.7) rotate(-90)" font-size="8.2" font-weight="bold" textLength="105" lengthAdjust="spacingAndGlyphs">% proliferating CD4+ T cells</text>
<line x1="315.7" y1="827.5" x2="315.7" y2="829.4" stroke="#000" stroke-width="1.2"/>
<line x1="308.45" y1="827.5" x2="322.95" y2="827.5" stroke="#000" stroke-width="1.3"/>
<rect x="300.8" y="829.4" width="29.8" height="85.4" fill="#000" stroke="none" stroke-width="0"/>
<line x1="315.7" y1="914.8" x2="315.7" y2="917" stroke="#000" stroke-width="0.9"/>
<line x1="358.8" y1="855.2" x2="358.8" y2="862.7" stroke="#000" stroke-width="1.2"/>
<line x1="351.65" y1="855.2" x2="365.95" y2="855.2" stroke="#000" stroke-width="1.3"/>
<rect x="344" y="862.7" width="29.6" height="52.1" fill="#888" stroke="none" stroke-width="0"/>
<line x1="358.8" y1="914.8" x2="358.8" y2="917" stroke="#000" stroke-width="0.9"/>
<line x1="402.15" y1="855.4" x2="402.15" y2="860.5" stroke="#000" stroke-width="1.2"/>
<line x1="394.85" y1="855.4" x2="409.45" y2="855.4" stroke="#000" stroke-width="1.3"/>
<rect x="387.3" y="860.5" width="29.7" height="54.3" fill="#888" stroke="none" stroke-width="0"/>
<line x1="402.15" y1="914.8" x2="402.15" y2="917" stroke="#000" stroke-width="0.9"/>
<line x1="445.8" y1="852.5" x2="445.8" y2="870" stroke="#000" stroke-width="1.2"/>
<line x1="438.65" y1="852.5" x2="452.95" y2="852.5" stroke="#000" stroke-width="1.3"/>
<rect x="431" y="870" width="29.6" height="44.8" fill="#ddd" stroke="none" stroke-width="0"/>
<line x1="445.8" y1="914.8" x2="445.8" y2="917" stroke="#000" stroke-width="0.9"/>
<line x1="310.4" y1="807" x2="447.1" y2="807" stroke="#000" stroke-width="1.4"/>
<path d="M375.2 799.9 L375.92 801.81 L377.96 801.9 L376.36 803.18 L376.9 805.15 L375.2 804.02 L373.5 805.15 L374.04 803.18 L372.44 801.9 L374.48 801.81Z" fill="#000"/>
<line x1="310.4" y1="816.1" x2="402.7" y2="816.1" stroke="#000" stroke-width="1.4"/>
<path d="M354.2 809 L354.92 810.91 L356.96 811 L355.36 812.28 L355.9 814.25 L354.2 813.12 L352.5 814.25 L353.04 812.28 L351.44 811 L353.48 810.91Z" fill="#000"/>
<line x1="310.4" y1="824.8" x2="350.7" y2="824.8" stroke="#000" stroke-width="1.4"/>
<path d="M332.7 817.7 L333.42 819.61 L335.46 819.7 L333.86 820.98 L334.4 822.95 L332.7 821.82 L331 822.95 L331.54 820.98 L329.94 819.7 L331.98 819.61Z" fill="#000"/>
<line x1="364.5" y1="843.3" x2="392.5" y2="843.3" stroke="#000" stroke-width="1.4"/>
<text x="378.5" y="841.3" font-size="7" font-weight="bold" font-style="italic" text-anchor="middle" textLength="8.5" lengthAdjust="spacingAndGlyphs" fill="#222">ns</text>
<line x1="410.2" y1="843.3" x2="437.2" y2="843.3" stroke="#000" stroke-width="1.4"/>
<text x="423.7" y="841.3" font-size="7" font-weight="bold" font-style="italic" text-anchor="middle" textLength="8.5" lengthAdjust="spacingAndGlyphs" fill="#222">ns</text>
<text x="293.5" y="925.4" font-size="7.6" font-weight="bold" textLength="44.2" lengthAdjust="spacingAndGlyphs">CD4+&#160; T cells</text>
<text x="349.4" y="925.4" font-size="7.6" font-weight="bold" textLength="19.6" lengthAdjust="spacingAndGlyphs">Tregs</text>
<text x="379.8" y="925.4" font-size="7.6" font-weight="bold" textLength="12.7" lengthAdjust="spacingAndGlyphs">IgM</text>
<text x="396.8" y="925.4" font-size="7.6" font-weight="bold" textLength="27.4" lengthAdjust="spacingAndGlyphs">memory</text>
<text x="424.8" y="925.4" font-size="7.6" font-weight="bold" textLength="41.2" lengthAdjust="spacingAndGlyphs">Transitional</text>
<rect x="3.2" y="944.3" width="1.8" height="8.1" fill="#000"/>
<line x1="35.2" y1="946" x2="35.2" y2="1072.6" stroke="#000" stroke-width="1.4"/>
<line x1="35.2" y1="1072.1" x2="193.2" y2="1072.1" stroke="#000" stroke-width="1.4"/>
<line x1="33.2" y1="1072.1" x2="35.2" y2="1072.1" stroke="#000" stroke-width="0.9"/>
<text x="30.7" y="1074.3" font-size="6.1" text-anchor="end" textLength="2.9" lengthAdjust="spacingAndGlyphs">0</text>
<line x1="33.2" y1="1029.96" x2="35.2" y2="1029.96" stroke="#000" stroke-width="0.9"/>
<text x="30.7" y="1032.16" font-size="6.1" text-anchor="end" textLength="5.8" lengthAdjust="spacingAndGlyphs">50</text>
<line x1="33.2" y1="987.83" x2="35.2" y2="987.83" stroke="#000" stroke-width="0.9"/>
<text x="30.7" y="990.03" font-size="6.1" text-anchor="end" textLength="8.7" lengthAdjust="spacingAndGlyphs">100</text>
<line x1="33.2" y1="945.69" x2="35.2" y2="945.69" stroke="#000" stroke-width="0.9"/>
<text x="30.7" y="947.89" font-size="6.1" text-anchor="end" textLength="8.7" lengthAdjust="spacingAndGlyphs">150</text>
<text transform="translate(15.3 1064) rotate(-90)" font-size="7.6" font-weight="bold" textLength="111" lengthAdjust="spacingAndGlyphs">% of CD8+ T cell Proliferation</text>
<line x1="51.3" y1="992.3" x2="51.3" y2="997.9" stroke="#000" stroke-width="1.1"/>
<line x1="45.9" y1="992.3" x2="56.7" y2="992.3" stroke="#000" stroke-width="1.2"/>
<rect x="40.4" y="997.9" width="21.8" height="74.2" fill="url(#hatch)" stroke="#000" stroke-width="1.1"/>
<line x1="51.3" y1="1072.1" x2="51.3" y2="1076.6" stroke="#000" stroke-width="1"/>
<line x1="83.1" y1="1018.3" x2="83.1" y2="1021.2" stroke="#000" stroke-width="1.1"/>
<line x1="77.7" y1="1018.3" x2="88.5" y2="1018.3" stroke="#000" stroke-width="1.2"/>
<rect x="72.5" y="1021.2" width="21.2" height="50.9" fill="#000" stroke="#000" stroke-width="1.1"/>
<line x1="83.1" y1="1072.1" x2="83.1" y2="1076.6" stroke="#000" stroke-width="1"/>
<line x1="114.4" y1="1016.5" x2="114.4" y2="1025" stroke="#000" stroke-width="1.1"/>
<line x1="109" y1="1016.5" x2="119.8" y2="1016.5" stroke="#000" stroke-width="1.2"/>
<rect x="103.8" y="1025" width="21.2" height="47.1" fill="#444" stroke="#000" stroke-width="1.1"/>
<line x1="114.4" y1="1072.1" x2="114.4" y2="1076.6" stroke="#000" stroke-width="1"/>
<line x1="145.65" y1="990.6" x2="145.65" y2="999.8" stroke="#000" stroke-width="1.1"/>
<line x1="140.25" y1="990.6" x2="151.05" y2="990.6" stroke="#000" stroke-width="1.2"/>
<rect x="134.8" y="999.8" width="21.7" height="72.3" fill="#999" stroke="#000" stroke-width="1.1"/>
<line x1="145.65" y1="1072.1" x2="145.65" y2="1076.6" stroke="#000" stroke-width="1"/>
<line x1="177.65" y1="998.7" x2="177.65" y2="1001.1" stroke="#000" stroke-width="1.1"/>
<line x1="172.25" y1="998.7" x2="183.05" y2="998.7" stroke="#000" stroke-width="1.2"/>
<rect x="166.6" y="1001.1" width="22.1" height="71" fill="#e0e0e0" stroke="#000" stroke-width="1.1"/>
<line x1="177.65" y1="1072.1" x2="177.65" y2="1076.6" stroke="#000" stroke-width="1"/>
<rect x="202.9" y="964.6" width="13.8" height="10" fill="url(#hatch)" stroke="#000" stroke-width="1.1"/>
<text x="222" y="972.2" font-size="7.2" textLength="41.8" lengthAdjust="spacingAndGlyphs" fill="#111">Positive control</text>
<rect x="202.9" y="980" width="13.8" height="9.2" fill="#000" stroke="#000" stroke-width="1.1"/>
<text x="222" y="987.2" font-size="7.2" textLength="34" lengthAdjust="spacingAndGlyphs" fill="#111">IgM Memory</text>
<rect x="202.9" y="993.8" width="13.8" height="9.2" fill="#444" stroke="#000" stroke-width="1.1"/>
<text x="222" y="1001" font-size="7.2" textLength="33.5" lengthAdjust="spacingAndGlyphs" fill="#111">Transitional</text>
<rect x="202.9" y="1009.2" width="13.8" height="9.3" fill="#999" stroke="#000" stroke-width="1.1"/>
<text x="222" y="1016.45" font-size="7.2" textLength="14.5" lengthAdjust="spacingAndGlyphs" fill="#111">Naive</text>
<rect x="202.9" y="1023.8" width="13.8" height="10" fill="#e0e0e0" stroke="#000" stroke-width="1.1"/>
<text x="222" y="1031.4" font-size="7.2" textLength="25.5" lengthAdjust="spacingAndGlyphs" fill="#111">Switched</text>
</svg>
</body></html>
